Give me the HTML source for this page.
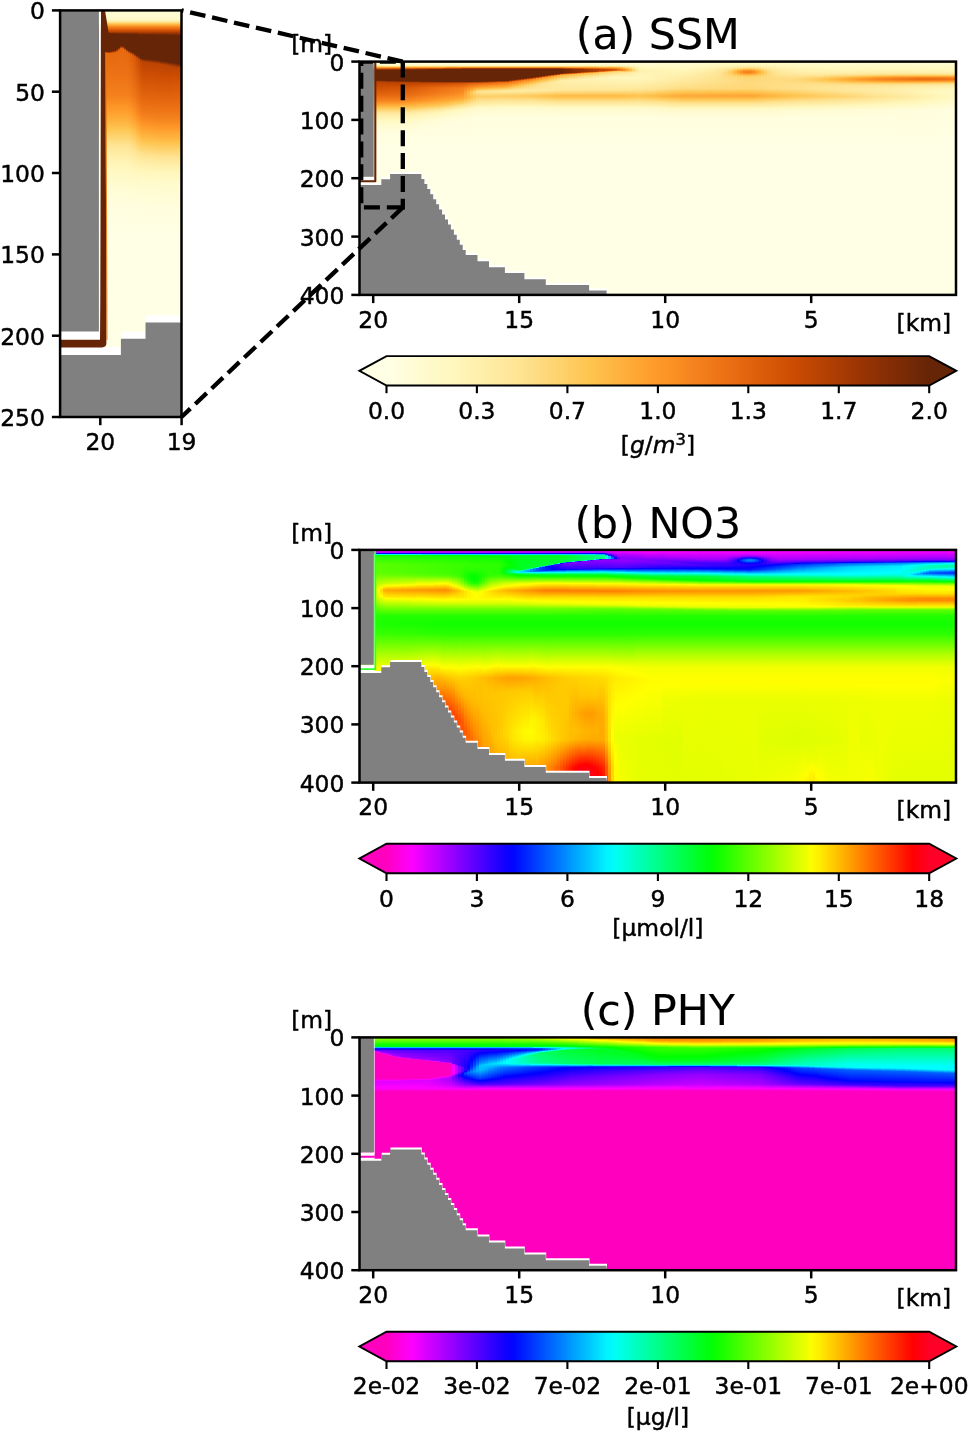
<!DOCTYPE html>
<html lang="en"><head><meta charset="utf-8"><title>Figure: SSM, NO3, PHY transects</title>
<style>html,body{margin:0;padding:0;background:#fff}
#fig{position:relative;width:968px;height:1432px;overflow:hidden;background:#fff}
#fig svg{position:absolute;left:0;top:0;display:block}
.fld{position:absolute;overflow:hidden}
.fld i{position:absolute;top:0;height:100%;display:block}
text{white-space:pre}</style>
</head><body>
<div id="fig">
<div class="fld" style="left:359px;top:61.6px;width:598px;height:233.3px"><i style="left:0px;width:15px;background:linear-gradient(#fffcd8 0%,#fffacb 1.4%,#fff7bc 1.5%,#fee391 1.8%,#fec44f 2.1%,#fe9929 2.4%,#ec7014 2.7%,#cc4c02 2.9%,#993404 3.2%,#662506 3.5%,#662506 7.8%,#993404 8.2%,#b84203 8.4%,#cc4c02 10.5%,#e3660f 14.2%,#ec7014 15.2%,#f4821d 16.7%,#fe9929 17.8%,#fec44f 19.7%,#fee391 21.5%,#feeba2 22.3%,#fff7bc 24.8%,#fffbce 26.6%,#fffee0 30.9%,#ffffe5 36.4%,#ffffe5 100%)"></i><i style="left:15px;width:3px;background:linear-gradient(#fffcd8 0%,#fffacb 1.4%,#fff7bc 1.5%,#fee391 1.8%,#fec44f 2.1%,#feaa38 2.3%,#fe9929 2.4%,#ec7014 2.7%,#cc4c02 2.9%,#993404 3.2%,#662506 3.5%,#662506 7.8%,#993404 8.2%,#b84203 8.4%,#cc4c02 10.5%,#e3660f 14.2%,#ec7014 15.1%,#f4821d 16.7%,#fe9929 17.8%,#fec44f 19.7%,#fee391 21.5%,#feeba2 22.3%,#fff7bc 24.8%,#fffbce 26.6%,#fffee0 30.9%,#ffffe5 36.4%,#ffffe5 100%)"></i><i style="left:18px;width:3px;background:linear-gradient(#fffcd8 0%,#fffacb 1.4%,#fff7bc 1.5%,#fee391 1.8%,#fec44f 2.1%,#feaa38 2.3%,#fe9929 2.4%,#ec7014 2.7%,#cc4c02 2.9%,#993404 3.2%,#662506 3.5%,#662506 7.9%,#993404 8.2%,#b74203 8.5%,#cc4c02 10.5%,#e3660f 14.2%,#ec7014 15.1%,#f4831e 16.7%,#fe9929 17.8%,#fec44f 19.7%,#fee391 21.5%,#feeba2 22.3%,#fff7bc 24.8%,#fffbce 26.6%,#fffee0 30.9%,#ffffe5 36.4%,#ffffe5 100%)"></i><i style="left:21px;width:3px;background:linear-gradient(#fffcd8 0%,#fffacb 1.4%,#fff7bc 1.5%,#fee391 1.8%,#fec44f 2.1%,#feaa38 2.3%,#fe9929 2.4%,#ec7014 2.7%,#cc4c02 2.9%,#993404 3.2%,#662506 3.5%,#662506 7.9%,#993404 8.3%,#b84203 8.5%,#cc4c02 10.5%,#e4670f 14.2%,#ec7014 15.1%,#f4831e 16.7%,#fe9929 17.7%,#fec44f 19.6%,#fee391 21.5%,#feeba2 22.3%,#fff7bc 24.8%,#fffbce 26.6%,#fffee0 30.9%,#ffffe5 36.4%,#ffffe5 100%)"></i><i style="left:24px;width:3px;background:linear-gradient(#fffcd8 0%,#fffacb 1.4%,#fff7bc 1.5%,#fee391 1.8%,#fec44f 2.1%,#feaa38 2.3%,#fe9929 2.4%,#ec7014 2.7%,#cc4c02 2.9%,#993404 3.2%,#662506 3.5%,#662506 7.9%,#993404 8.3%,#b84203 8.6%,#cc4c02 10.3%,#d25305 11.1%,#e46710 14.2%,#ec7014 15%,#f4831e 16.7%,#fe9929 17.7%,#fec44f 19.6%,#fee391 21.5%,#feeba2 22.3%,#fff7bc 24.8%,#fffbce 26.6%,#fffee0 30.9%,#ffffe5 36.4%,#ffffe5 100%)"></i><i style="left:27px;width:3px;background:linear-gradient(#fffcd8 0%,#fffacb 1.4%,#fff7bc 1.5%,#fee391 1.8%,#fec44f 2.1%,#feaa38 2.3%,#fe9929 2.4%,#ec7014 2.7%,#cc4c02 2.9%,#993404 3.2%,#662506 3.5%,#662506 8%,#993404 8.4%,#b74203 8.6%,#cc4c02 10.3%,#d25306 11.1%,#e46710 14.2%,#ec7014 15%,#f5841e 16.7%,#fe9929 17.7%,#fec44f 19.6%,#fee391 21.5%,#feeba2 22.3%,#fff7bc 24.8%,#fffbce 26.6%,#fffee0 30.9%,#ffffe5 36.4%,#ffffe5 100%)"></i><i style="left:30px;width:3px;background:linear-gradient(#fffcd8 0%,#fffacb 1.4%,#fff7bc 1.5%,#fee391 1.8%,#fec44f 2.1%,#feaa38 2.3%,#fe9929 2.4%,#ec7014 2.7%,#cc4c02 2.9%,#993404 3.2%,#662506 3.5%,#662506 8%,#993404 8.4%,#b84203 8.6%,#cc4c02 10.3%,#d35306 11.1%,#e56810 14.2%,#ec7014 15%,#f5841e 16.7%,#fe9929 17.7%,#fec44f 19.6%,#fee391 21.5%,#feeba2 22.3%,#fff7bc 24.8%,#fffbce 26.6%,#fffee0 30.9%,#ffffe5 36.4%,#ffffe5 100%)"></i><i style="left:33px;width:3px;background:linear-gradient(#fffcd8 0%,#fffacb 1.4%,#fff7bc 1.5%,#fee391 1.8%,#fec44f 2.1%,#feaa38 2.3%,#fe9929 2.4%,#ec7014 2.6%,#cc4c02 2.9%,#993404 3.2%,#662506 3.5%,#662506 8%,#993404 8.4%,#b84203 8.7%,#cc4c02 10.3%,#d35406 11.1%,#e56810 14.2%,#ec7014 15%,#f5841e 16.7%,#fe9929 17.7%,#fec44f 19.6%,#fee391 21.5%,#feeba2 22.3%,#fff7bc 24.8%,#fffbce 26.6%,#fffee0 30.9%,#ffffe5 36.4%,#ffffe5 100%)"></i><i style="left:36px;width:3px;background:linear-gradient(#fffcd8 0%,#fffacb 1.4%,#fff7bc 1.5%,#fee391 1.8%,#fec44f 2.1%,#feaa38 2.3%,#fe9929 2.4%,#ec7014 2.6%,#cc4c02 2.9%,#993404 3.2%,#662506 3.4%,#662506 8.1%,#993404 8.5%,#b74203 8.7%,#cc4c02 10.3%,#d35406 11.1%,#e56810 14.2%,#ec7014 14.9%,#f5851f 16.7%,#fe9929 17.7%,#fec44f 19.6%,#fee391 21.5%,#feeba2 22.3%,#fff7bc 24.8%,#fffbce 26.6%,#fffee0 30.9%,#ffffe5 36.4%,#ffffe5 100%)"></i><i style="left:39px;width:3px;background:linear-gradient(#fffcd8 0%,#fffacb 1.4%,#fff7bc 1.5%,#fee391 1.8%,#fec44f 2.1%,#feaa38 2.3%,#fe9929 2.4%,#ec7014 2.6%,#cc4c02 2.9%,#993404 3.2%,#662506 3.4%,#662506 8.1%,#993404 8.5%,#b84203 8.8%,#cc4c02 10.3%,#d35406 11.1%,#e56910 14.2%,#ec7014 14.9%,#f5851f 16.7%,#fe9929 17.7%,#fec44f 19.6%,#fee391 21.5%,#feeba2 22.3%,#fff7bc 24.8%,#fffbce 26.6%,#fffee0 30.9%,#ffffe5 36.4%,#ffffe5 100%)"></i><i style="left:42px;width:3px;background:linear-gradient(#fffcd8 0%,#fffacb 1.4%,#fff7bc 1.5%,#fee391 1.8%,#fec44f 2.1%,#feaa38 2.3%,#fe9929 2.4%,#ec7014 2.6%,#cc4c02 2.9%,#993404 3.2%,#662506 3.4%,#662506 8.2%,#993404 8.6%,#b84303 8.8%,#cc4c02 10.2%,#d45506 11.1%,#e66911 14.1%,#ec7014 14.8%,#f6861f 16.7%,#fe9929 17.7%,#febc48 19.3%,#fec44f 19.7%,#fee391 21.5%,#feeba2 22.3%,#fff7bc 24.7%,#fffbce 26.6%,#fffee0 30.9%,#ffffe5 36.4%,#ffffe5 100%)"></i><i style="left:45px;width:3px;background:linear-gradient(#fffcd8 0%,#fffacb 1.4%,#fff7bc 1.5%,#fee391 1.8%,#fec44f 2.1%,#feaa38 2.3%,#fe9929 2.4%,#ec7014 2.6%,#cc4c02 2.9%,#993404 3.1%,#662506 3.4%,#662506 8.2%,#993404 8.6%,#b94303 8.8%,#cc4c02 10.1%,#d65708 11.1%,#e76b11 14.1%,#ec7014 14.6%,#f68720 16.7%,#fe9929 17.6%,#febd49 19.2%,#fec44f 19.6%,#fee391 21.4%,#feeca4 22.2%,#fff7bc 24.5%,#fffbcf 26.4%,#fffee0 30.7%,#ffffe5 36.4%,#ffffe5 100%)"></i><i style="left:48px;width:3px;background:linear-gradient(#fffcd8 0%,#fffacb 1.4%,#fff7bc 1.5%,#fee391 1.8%,#fec44f 2.1%,#feaa38 2.3%,#fe9929 2.4%,#ec7014 2.6%,#cc4c02 2.9%,#993404 3.1%,#662506 3.4%,#662506 8.2%,#993404 8.6%,#ba4403 8.8%,#cc4c02 10%,#d85909 11.1%,#e96c12 14.1%,#ec7014 14.4%,#f78921 16.7%,#fe9929 17.4%,#febe49 19.2%,#fec44f 19.5%,#fee391 21.3%,#feeda6 22.2%,#fff7bc 24.3%,#fffbd0 26.3%,#fffee0 30.6%,#ffffe5 36.4%,#ffffe5 100%)"></i><i style="left:51px;width:3px;background:linear-gradient(#fffcd8 0%,#fffacb 1.4%,#fff7bc 1.5%,#fee391 1.8%,#fec44f 2.1%,#feaa38 2.3%,#fe9929 2.4%,#ec7014 2.6%,#cc4c02 2.9%,#993404 3.1%,#662506 3.4%,#662506 8.2%,#993404 8.6%,#bc4403 8.9%,#cc4c02 9.9%,#d95b0a 11.1%,#ea6e13 14%,#ec7014 14.3%,#f88b22 16.6%,#fe9929 17.3%,#febf4a 19.1%,#fec44f 19.4%,#fee391 21.1%,#ffeda7 22.1%,#fff7bc 24.1%,#fffbd0 26.2%,#fffee0 30.4%,#ffffe5 36.4%,#ffffe5 100%)"></i><i style="left:54px;width:3px;background:linear-gradient(#fffcd8 0%,#fffacb 1.4%,#fff7bc 1.5%,#fee391 1.8%,#fec44f 2.1%,#feaa38 2.3%,#fe9929 2.4%,#ec7014 2.6%,#cc4c02 2.9%,#993404 3.1%,#662506 3.3%,#662506 8.2%,#993404 8.6%,#bd4503 8.9%,#cc4c02 9.8%,#db5d0b 11.1%,#eb6f14 14%,#ec7014 14.1%,#f98d23 16.6%,#fe9929 17.2%,#fec04b 19.1%,#fec44f 19.3%,#fee391 21%,#ffeea9 22%,#fff7bc 23.9%,#fffbd1 26%,#fffee0 30.3%,#ffffe5 36.4%,#ffffe5 100%)"></i><i style="left:57px;width:3px;background:linear-gradient(#fffcd8 0%,#fffacb 1.4%,#fff7bc 1.5%,#fee391 1.8%,#fec44f 2.1%,#feaa38 2.3%,#fe9929 2.4%,#ec7014 2.6%,#cc4c02 2.8%,#993404 3.1%,#662506 3.3%,#662506 8.2%,#993404 8.6%,#be4603 8.9%,#cc4c02 9.7%,#dd5f0c 11.1%,#ec7014 13.8%,#ed7115 14%,#f98f24 16.5%,#fe9929 17.1%,#fec14c 19%,#fec44f 19.2%,#fee391 20.9%,#ffefab 21.9%,#fff7bc 23.6%,#fffbd2 25.9%,#fffee0 30.2%,#ffffe5 36.4%,#ffffe5 100%)"></i><i style="left:60px;width:3px;background:linear-gradient(#fffcd8 0%,#fffacb 1.4%,#fff7bc 1.5%,#fee391 1.8%,#fec44f 2.1%,#feaa38 2.3%,#fe9929 2.4%,#ec7014 2.6%,#cc4c02 2.8%,#993404 3.1%,#662506 3.3%,#662506 8.3%,#993404 8.6%,#c04602 8.9%,#cc4c02 9.6%,#df610d 11.1%,#ec7014 13.5%,#ed7316 13.9%,#fa9025 16.5%,#fe9929 17%,#fec24d 19%,#fec44f 19.1%,#fee391 20.8%,#fff0ac 21.9%,#fff7bc 23.4%,#fffbd3 25.8%,#fffee0 30%,#ffffe5 36.4%,#ffffe5 100%)"></i><i style="left:63px;width:3px;background:linear-gradient(#fffcd8 0%,#fffacb 1.4%,#fff7bc 1.5%,#fee391 1.8%,#fec44f 2.1%,#feaa38 2.3%,#fe9929 2.4%,#ec7014 2.6%,#cc4c02 2.8%,#993404 3.1%,#662506 3.3%,#662506 8.3%,#993404 8.7%,#c14702 9%,#cc4c02 9.5%,#e1630e 11.1%,#ec7014 13.2%,#ee7516 13.9%,#fb9226 16.5%,#fe9929 16.8%,#fec34e 18.9%,#fec44f 19%,#fee391 20.7%,#fff0ae 21.8%,#fff7bc 23.2%,#fffcd4 25.6%,#fffee0 29.9%,#ffffe5 36.4%,#ffffe5 100%)"></i><i style="left:66px;width:3px;background:linear-gradient(#fffcd8 0%,#fffacb 1.4%,#fff7bc 1.5%,#fee391 1.8%,#fec44f 2.1%,#feaa38 2.3%,#fe9929 2.4%,#ec7014 2.6%,#cc4c02 2.8%,#993404 3%,#662506 3.3%,#662506 8.3%,#993404 8.7%,#c24702 9%,#cc4c02 9.5%,#e3650f 11.1%,#ec7014 12.9%,#ef7717 13.9%,#fc9427 16.4%,#fe9929 16.7%,#fec44f 18.9%,#fec44f 18.9%,#fee391 20.6%,#fff1b0 21.7%,#fff7bc 23%,#fffcd4 25.5%,#fffee0 29.8%,#ffffe5 36.4%,#ffffe5 100%)"></i><i style="left:69px;width:3px;background:linear-gradient(#fffcd8 0%,#fffacb 1.4%,#fff7bc 1.5%,#fee391 1.8%,#fec44f 2.1%,#feaa38 2.3%,#fe9929 2.4%,#ec7014 2.6%,#cc4c02 2.8%,#993404 3%,#662506 3.2%,#662506 8.3%,#993404 8.7%,#c34802 9%,#cc4c02 9.4%,#e46710 11.1%,#ec7014 12.6%,#f07818 13.8%,#fd9627 16.4%,#fe9929 16.6%,#fec44f 18.8%,#fec551 18.8%,#fee391 20.4%,#fff2b1 21.7%,#fff7bc 22.7%,#fffcd5 25.3%,#fffee0 29.6%,#ffffe5 36.4%,#ffffe5 100%)"></i><i style="left:72px;width:3px;background:linear-gradient(#fffcd8 0%,#fffacb 1.4%,#fff7bc 1.5%,#fee391 1.8%,#fec44f 2.1%,#feaa38 2.3%,#fe9929 2.4%,#ec7014 2.6%,#cc4c02 2.8%,#993404 3%,#662506 3.2%,#662506 8.3%,#993404 8.7%,#c54902 9%,#cc4c02 9.4%,#e66911 11.1%,#ec7014 12.3%,#f07a19 13.8%,#fd9828 16.4%,#fe9929 16.4%,#fec44f 18.7%,#fec653 18.8%,#fee391 20.3%,#fff3b3 21.6%,#fff7bc 22.5%,#fffcd6 25.2%,#fffee0 29.5%,#ffffe5 36.4%,#ffffe5 100%)"></i><i style="left:75px;width:3px;background:linear-gradient(#fffcd8 0%,#fffacb 1.4%,#fff7bc 1.5%,#fee391 1.8%,#fec44f 2.1%,#feaa38 2.3%,#fe9929 2.4%,#ec7014 2.6%,#cc4c02 2.8%,#993404 3%,#662506 3.2%,#662506 8.3%,#993404 8.7%,#c64902 9.1%,#cc4c02 9.3%,#e86b12 11.1%,#ec7014 11.9%,#f17c1a 13.8%,#fe9929 16.3%,#fe9a2a 16.3%,#fec44f 18.5%,#fec754 18.7%,#fee391 20.2%,#fff3b4 21.5%,#fff7bc 22.3%,#fffcd7 25.1%,#fffee0 29.4%,#ffffe5 36.4%,#ffffe5 100%)"></i><i style="left:78px;width:3px;background:linear-gradient(#fffcd8 0%,#fffacb 1.4%,#fff7bc 1.5%,#fee391 1.8%,#fec44f 2.1%,#feaa38 2.3%,#fe9929 2.4%,#ec7014 2.6%,#cc4c02 2.8%,#993404 3%,#662506 3.2%,#662506 8.4%,#993404 8.7%,#c74a02 9.1%,#cc4c02 9.3%,#ea6e13 11.1%,#ec7014 11.6%,#f27e1b 13.7%,#fe9929 16.1%,#fe9b2b 16.3%,#fec44f 18.4%,#fec756 18.7%,#fee391 20.1%,#fff4b6 21.5%,#fff7bc 22.1%,#fffcd7 24.9%,#fffee0 29.2%,#ffffe5 36.4%,#ffffe5 100%)"></i><i style="left:81px;width:3px;background:linear-gradient(#fffcd8 0%,#fffacb 1.4%,#fff7bc 1.5%,#fee391 1.8%,#fec44f 2.1%,#feaa38 2.3%,#fe9929 2.4%,#ec7014 2.6%,#cc4c02 2.8%,#993404 3%,#662506 3.2%,#662506 8.4%,#993404 8.7%,#c94b02 9.1%,#cc4c02 9.2%,#eb6f14 11.1%,#ec7014 11.3%,#f3801c 13.7%,#fe9929 15.9%,#fe9d2d 16.3%,#fec44f 18.3%,#fec858 18.6%,#fee391 20%,#fff5b8 21.4%,#fff7bc 21.8%,#fffcd8 24.8%,#fffee0 29%,#ffffe5 36.4%,#ffffe5 100%)"></i><i style="left:84px;width:3px;background:linear-gradient(#fffcd8 0%,#fffacb 1.4%,#fff7bc 1.5%,#fee391 1.8%,#fec44f 2.1%,#feaa38 2.3%,#fe9929 2.4%,#ec7014 2.5%,#cc4c02 2.7%,#993404 2.9%,#662506 3.1%,#662506 8.4%,#993404 8.7%,#cb4c02 9.1%,#cc4c02 9.1%,#ec7014 11.1%,#ec7115 11.1%,#f4811d 13.6%,#fe9929 15.7%,#fe9f2e 16.2%,#fec44f 18.1%,#feca5b 18.5%,#fee391 19.8%,#fff6ba 21.3%,#fff7bc 21.5%,#fffdd9 24.7%,#fffee0 28.8%,#ffffe5 36.4%,#ffffe5 100%)"></i><i style="left:87px;width:3px;background:linear-gradient(#fffcd8 0%,#fffacb 1.4%,#fff7bc 1.5%,#fee391 1.8%,#fec44f 2.1%,#feaa38 2.3%,#fe9929 2.3%,#ec7014 2.5%,#cc4c02 2.7%,#993404 2.9%,#662506 3.1%,#662506 8.4%,#993404 8.7%,#cc4c02 9.1%,#cd4d03 9.1%,#ec7014 11%,#ed7315 11.1%,#f4831e 13.6%,#fe9929 15.5%,#fea02f 16.1%,#fec44f 17.9%,#fecb5e 18.4%,#fee391 19.6%,#fff7bc 21.1%,#fff7bc 21.2%,#fffdd9 24.6%,#fffee0 28.6%,#ffffe5 36.4%,#ffffe5 100%)"></i><i style="left:90px;width:3px;background:linear-gradient(#fffcd8 0%,#fffacb 1.4%,#fff7bc 1.5%,#fee391 1.8%,#fec44f 2.1%,#feaa38 2.3%,#fe9929 2.3%,#ec7014 2.5%,#cc4c02 2.7%,#993404 2.9%,#662506 3.1%,#662506 8.4%,#993404 8.7%,#cc4c02 9.1%,#ce4f03 9.1%,#ec7014 10.9%,#ee7516 11.1%,#f5851f 13.5%,#fe9929 15.3%,#fea130 16%,#fec44f 17.7%,#fecc61 18.2%,#fee391 19.4%,#fff7bc 21%,#fff7bd 21%,#fffdd9 24.5%,#fffee0 28.3%,#ffffe5 36.4%,#ffffe5 100%)"></i><i style="left:93px;width:3px;background:linear-gradient(#fffcd8 0%,#fffacb 1.4%,#fff7bc 1.5%,#fee391 1.8%,#fec44f 2.1%,#feaa38 2.3%,#fe9929 2.3%,#ec7014 2.5%,#cc4c02 2.7%,#993404 2.9%,#672506 3.1%,#662506 8.4%,#993404 8.7%,#cc4c02 9.1%,#d05004 9.1%,#ec7014 10.8%,#ef7617 11.1%,#f68720 13.5%,#fe9929 15.1%,#fea332 15.9%,#fec44f 17.5%,#fece64 18.1%,#fee391 19.2%,#fff7bc 20.8%,#fff8bf 20.9%,#fffdda 24.3%,#fffee0 28.1%,#ffffe5 36.4%,#ffffe5 100%)"></i><i style="left:96px;width:3px;background:linear-gradient(#fffcd8 0%,#fffacb 1.4%,#fff7bc 1.5%,#fee391 1.8%,#fec44f 2.1%,#feaa38 2.3%,#fe9929 2.3%,#ec7014 2.5%,#cc4c02 2.7%,#993404 2.9%,#662506 3%,#662506 8.4%,#993404 8.7%,#cc4c02 9%,#d15205 9.1%,#ec7014 10.8%,#f07818 11.1%,#f78921 13.4%,#fe9929 14.9%,#fea433 15.8%,#fec44f 17.3%,#fecf67 18%,#fee391 19%,#fff7bc 20.6%,#fff8c1 20.8%,#fffdda 24.2%,#fffee0 27.9%,#ffffe5 36.4%,#ffffe5 100%)"></i><i style="left:99px;width:3px;background:linear-gradient(#fffcd8 0%,#fffacb 1.4%,#fff7bc 1.5%,#fee391 1.8%,#fec44f 2.1%,#feaa38 2.3%,#fe9929 2.3%,#ec7014 2.5%,#cc4c02 2.7%,#993404 2.9%,#662506 3%,#662506 8.4%,#993404 8.7%,#cc4c02 9%,#d35306 9.1%,#ec7014 10.7%,#f07a19 11.1%,#f88a22 13.3%,#fe9929 14.7%,#fea634 15.7%,#fec44f 17.1%,#fed16a 17.9%,#fee391 18.8%,#fff7bc 20.4%,#fff8c3 20.7%,#fffddb 24.1%,#fffee0 27.6%,#ffffe5 36.4%,#ffffe5 100%)"></i><i style="left:102px;width:3px;background:linear-gradient(#fffcd8 0%,#fffacb 1.4%,#fff7bc 1.5%,#fee391 1.8%,#fec44f 2.1%,#feaa38 2.3%,#fe9929 2.3%,#ec7014 2.5%,#cc4c02 2.7%,#993404 2.8%,#662506 3%,#662506 8.4%,#993404 8.7%,#cc4c02 9%,#d45507 9.1%,#ec7014 10.5%,#f27d1b 11.1%,#fa8f24 13.3%,#fe9929 14.2%,#fea836 15.6%,#fec44f 16.9%,#fed26e 17.8%,#fee391 18.6%,#fff7bc 20.2%,#fff9c5 20.6%,#fffddb 24%,#fffee0 27.4%,#ffffe5 36.4%,#ffffe5 100%)"></i><i style="left:105px;width:3px;background:linear-gradient(#fffcd8 0%,#fffacb 1.4%,#fff7bc 1.5%,#fee391 1.8%,#fec44f 2.1%,#feaa38 2.3%,#fe9929 2.3%,#ec7014 2.5%,#cc4c02 2.7%,#993404 2.8%,#662506 3%,#662506 8.4%,#993404 8.7%,#cc4c02 9%,#d75808 9.1%,#ec7014 10.3%,#f5851f 11.1%,#fe9929 12.6%,#fea231 13.2%,#feb13e 15.5%,#fec44f 16.4%,#fed778 17.7%,#fee391 18.4%,#fff7bc 20.1%,#fff9c6 20.5%,#fffddc 23.9%,#ffffe5 36.4%,#ffffe5 100%)"></i><i style="left:108px;width:3px;background:linear-gradient(#fffcd8 0%,#fffacb 1.4%,#fff7bc 1.5%,#fee391 1.8%,#fec44f 2.1%,#feaa38 2.3%,#fe9929 2.3%,#ec7014 2.5%,#cc4c02 2.7%,#993404 2.8%,#662506 3%,#662506 8.4%,#993404 8.7%,#cc4c02 9%,#da5c0a 9.1%,#ec7014 10%,#f98d23 11.1%,#fe9929 11.7%,#feb542 13%,#feb945 15.3%,#fec44f 15.9%,#fedc81 17.6%,#fee391 18%,#fff7bc 19.9%,#fff9c8 20.4%,#fffddc 23.8%,#ffffe5 36.4%,#ffffe5 100%)"></i><i style="left:111px;width:3px;background:linear-gradient(#fffcd8 0%,#fffacb 1.4%,#fff7bc 1.5%,#fee391 1.8%,#fec44f 2.1%,#feaa38 2.3%,#fe9929 2.3%,#ec7014 2.5%,#cc4c02 2.7%,#993404 2.8%,#662506 3%,#662506 8.4%,#993404 8.7%,#cc4c02 8.9%,#dd5f0b 9.1%,#ec7014 9.8%,#fe9929 11.3%,#fec44f 12.8%,#fec756 12.9%,#fec44f 14.3%,#fec14d 15.1%,#fec44f 15.3%,#fee08b 17.5%,#fee391 17.7%,#fff7bc 19.7%,#fffaca 20.3%,#fffddd 23.8%,#ffffe5 36.4%,#ffffe5 100%)"></i><i style="left:114px;width:3px;background:linear-gradient(#fffcd8 0%,#fffacb 1.4%,#fff7bc 1.5%,#fee391 1.8%,#fec44f 2.1%,#feaa38 2.3%,#fe9929 2.3%,#ec7014 2.5%,#cc4c02 2.7%,#993404 2.8%,#662506 3%,#662506 8.4%,#993404 8.6%,#cc4c02 8.9%,#e0620d 9.1%,#ec7014 9.6%,#fe9929 11%,#fe9d2d 11.1%,#fec44f 12.2%,#fed574 12.8%,#fec858 15%,#fee391 17.3%,#fee494 17.5%,#fff7bc 19.4%,#fffacc 20.2%,#fffede 23.7%,#ffffe5 36.4%,#ffffe5 100%)"></i><i style="left:117px;width:3px;background:linear-gradient(#fffcd8 0%,#fffacb 1.4%,#fff7bc 1.5%,#fee391 1.8%,#fec44f 2.1%,#feaa38 2.3%,#fe9929 2.3%,#ec7014 2.5%,#cc4c02 2.7%,#993404 2.8%,#662506 3%,#662506 8.4%,#993404 8.6%,#cc4c02 8.9%,#e3650f 9.1%,#ec7014 9.5%,#fe9929 10.8%,#fea534 11.1%,#fec44f 11.8%,#fee391 12.7%,#fee391 12.7%,#fee391 12.7%,#fece65 14.8%,#fee391 16.8%,#fee79a 17.4%,#fff7bc 19.2%,#ffface 20.2%,#fffede 23.6%,#ffffe5 36.4%,#ffffe5 100%)"></i><i style="left:120px;width:3px;background:linear-gradient(#fffcd8 0%,#fffacb 1.4%,#fff7bc 1.5%,#fee391 1.8%,#fec44f 2.1%,#feaa38 2.3%,#fe9929 2.3%,#ec7014 2.5%,#cc4c02 2.7%,#993404 2.8%,#662506 3%,#662506 8.3%,#993404 8.6%,#cc4c02 8.9%,#e4670f 9.1%,#ec7014 9.4%,#fe9929 10.7%,#fea937 11.1%,#fec44f 11.7%,#fee391 12.5%,#fee596 12.6%,#fee391 12.9%,#fecf66 14.8%,#fee391 16.6%,#fee89c 17.4%,#fff7bc 19.1%,#fffbce 20.2%,#fffede 23.6%,#ffffe5 36.4%,#ffffe5 100%)"></i><i style="left:123px;width:3px;background:linear-gradient(#fffcd8 0%,#fffacb 1.4%,#fff7bc 1.5%,#fee391 1.8%,#fec44f 2.1%,#feaa38 2.3%,#fe9929 2.3%,#ec7014 2.5%,#cc4c02 2.7%,#993404 2.8%,#662506 3%,#662506 8.3%,#993404 8.6%,#cc4c02 8.8%,#e56810 9%,#ec7014 9.3%,#fe9929 10.6%,#feab39 11.1%,#fec44f 11.6%,#fee391 12.5%,#fee697 12.6%,#fee391 13%,#fecf66 14.8%,#fee391 16.6%,#fee89d 17.4%,#fff7bc 19.1%,#fffbcf 20.2%,#fffede 23.6%,#ffffe5 36.4%,#ffffe5 100%)"></i><i style="left:126px;width:3px;background:linear-gradient(#fffcd8 0%,#fffacb 1.4%,#fff7bc 1.5%,#fee391 1.8%,#fec44f 2.1%,#feaa38 2.3%,#fe9929 2.3%,#ec7014 2.5%,#cc4c02 2.7%,#993404 2.8%,#662506 3%,#662506 8.3%,#993404 8.5%,#cc4c02 8.8%,#e66911 9%,#ec7014 9.2%,#fe9929 10.5%,#fead3a 11.1%,#fec44f 11.6%,#fee391 12.4%,#fee698 12.6%,#fee391 13%,#fece65 14.7%,#fee391 16.6%,#fee99d 17.4%,#fff7bc 19.1%,#fffbcf 20.2%,#fffede 23.6%,#ffffe5 36.4%,#ffffe5 100%)"></i><i style="left:129px;width:3px;background:linear-gradient(#fffcd8 0%,#fffacb 1.4%,#fff7bc 1.5%,#fee391 1.8%,#fec44f 2.1%,#feaa38 2.3%,#fe9929 2.3%,#ec7014 2.5%,#cc4c02 2.7%,#993404 2.8%,#662506 3%,#662506 8.2%,#993404 8.5%,#cc4c02 8.7%,#e76a11 9%,#ec7014 9.2%,#fe9929 10.4%,#feaf3c 11.1%,#fec44f 11.5%,#fee391 12.4%,#fee79a 12.6%,#fee391 13.1%,#fece65 14.7%,#fee391 16.5%,#fee99e 17.4%,#fff7bc 19%,#fffbcf 20.2%,#fffede 23.6%,#ffffe5 36.4%,#ffffe5 100%)"></i><i style="left:132px;width:3px;background:linear-gradient(#fffcd8 0%,#fffacb 1.4%,#fff7bc 1.5%,#fee391 1.8%,#fec44f 2.1%,#feaa38 2.3%,#fe9929 2.3%,#ec7014 2.5%,#cc4c02 2.7%,#993404 2.8%,#662506 3%,#662506 8.2%,#993404 8.4%,#cc4c02 8.7%,#e86c12 8.9%,#ec7014 9.1%,#fe9929 10.3%,#feb13e 11%,#fec44f 11.4%,#fee391 12.3%,#fee89b 12.5%,#fee391 13.1%,#fece64 14.7%,#fee391 16.5%,#fee99f 17.4%,#fff7bc 19%,#fffbd0 20.2%,#fffede 23.6%,#ffffe5 36.4%,#ffffe5 100%)"></i><i style="left:135px;width:3px;background:linear-gradient(#fffcd8 0%,#fffacb 1.4%,#fff7bc 1.5%,#fee391 1.8%,#fec44f 2.1%,#feaa38 2.3%,#fe9929 2.3%,#ec7014 2.5%,#cc4c02 2.7%,#993404 2.8%,#662506 3%,#662506 8.1%,#993404 8.4%,#cc4c02 8.6%,#e96d12 8.9%,#ec7014 9%,#fe9929 10.3%,#feb340 11%,#fec44f 11.4%,#fee391 12.3%,#fee89d 12.5%,#fee391 13.1%,#fece64 14.7%,#fee391 16.4%,#fff7bc 18.9%,#fffbd0 20.2%,#fffede 23.6%,#ffffe5 36.4%,#ffffe5 100%)"></i><i style="left:138px;width:3px;background:linear-gradient(#fffcd8 0%,#fffacb 1.4%,#fff7bc 1.5%,#fee391 1.8%,#fec44f 2.1%,#feaa38 2.3%,#fe9929 2.3%,#ec7014 2.5%,#cc4c02 2.7%,#993404 2.8%,#662506 3%,#662506 8.1%,#993404 8.3%,#cc4c02 8.6%,#ea6e13 8.8%,#ec7014 8.9%,#fe9929 10.2%,#feb542 11%,#fec44f 11.3%,#fee391 12.2%,#fee99e 12.5%,#fee391 13.2%,#fecd63 14.6%,#fee391 16.4%,#fff7bc 18.9%,#fffbd0 20.2%,#fffede 23.6%,#ffffe5 36.4%,#ffffe5 100%)"></i><i style="left:141px;width:3px;background:linear-gradient(#fffcd8 0%,#fffacb 1.4%,#fff7bc 1.5%,#fee391 1.8%,#fec44f 2.1%,#feaa38 2.3%,#fe9929 2.3%,#ec7014 2.5%,#cc4c02 2.7%,#993404 2.8%,#662506 3%,#662506 8%,#993404 8.3%,#cc4c02 8.6%,#eb6f14 8.8%,#ec7014 8.8%,#fe9929 10.1%,#feb744 11%,#fec44f 11.2%,#fee391 12.2%,#feea9f 12.5%,#fee391 13.2%,#fecd63 14.6%,#fee391 16.4%,#fff7bc 18.9%,#fffbd1 20.2%,#fffede 23.6%,#ffffe5 36.4%,#ffffe5 100%)"></i><i style="left:144px;width:3px;background:linear-gradient(#fffcd8 0%,#fffacb 1.4%,#fff7bc 1.5%,#fee391 1.8%,#fec44f 2.1%,#feaa38 2.3%,#fe9929 2.3%,#ec7014 2.5%,#cc4c02 2.7%,#993404 2.8%,#662506 3%,#662506 8%,#993404 8.3%,#cc4c02 8.5%,#ec7014 8.8%,#ec7114 8.8%,#fe9929 10%,#feba46 11%,#fec44f 11.2%,#fee391 12.1%,#feeaa1 12.5%,#fee391 13.2%,#fecd62 14.6%,#fee391 16.4%,#fff7bc 18.9%,#fffbd1 20.2%,#fffede 23.6%,#ffffe5 36.4%,#ffffe5 100%)"></i><i style="left:147px;width:3px;background:linear-gradient(#fffcd8 0%,#fffacb 1.4%,#fff7bc 1.5%,#fee391 1.8%,#fec44f 2.1%,#feaa38 2.3%,#fe9929 2.3%,#ec7014 2.5%,#cc4c02 2.7%,#993404 2.8%,#662506 3%,#662506 8%,#993404 8.2%,#cc4c02 8.5%,#ec7014 8.7%,#ed7215 8.7%,#fe9929 9.9%,#febc48 10.9%,#fec44f 11.1%,#fee391 12%,#feeba2 12.4%,#fee391 13.2%,#fecd61 14.6%,#fee391 16.4%,#fff7bc 18.9%,#fffbd1 20.2%,#fffede 23.6%,#ffffe5 36.4%,#ffffe5 100%)"></i><i style="left:150px;width:3px;background:linear-gradient(#fffcd8 0%,#fffacb 1.4%,#fff7bc 1.5%,#fee391 1.8%,#fec44f 2.1%,#feaa38 2.3%,#fe9929 2.3%,#ec7014 2.5%,#cc4c02 2.7%,#993404 2.8%,#662506 3%,#662506 7.8%,#993404 8%,#cc4c02 8.3%,#ec7014 8.5%,#ee7516 8.6%,#fe9929 9.6%,#fec04c 10.8%,#fec44f 10.9%,#fee391 12%,#feeba2 12.4%,#fee391 13.2%,#fecc60 14.6%,#fee391 16.4%,#fff7bc 18.9%,#fffbd1 20.2%,#fffede 23.6%,#ffffe5 36.4%,#ffffe5 100%)"></i><i style="left:153px;width:3px;background:linear-gradient(#fffcd8 0%,#fffacb 1.4%,#fff7bc 1.5%,#fee391 1.8%,#fec44f 2.1%,#feaa38 2.3%,#fe9929 2.3%,#ec7014 2.5%,#cc4c02 2.7%,#993404 2.8%,#662506 3%,#662506 7.6%,#993404 7.9%,#cc4c02 8.1%,#ec7014 8.3%,#ef7718 8.4%,#fe9929 9.4%,#fec44f 10.6%,#fee391 11.9%,#feeba2 12.4%,#fee391 13.1%,#fecb5f 14.6%,#fee391 16.4%,#fff7bc 18.9%,#fffbd1 20.2%,#fffede 23.6%,#ffffe5 36.4%,#ffffe5 100%)"></i><i style="left:156px;width:3px;background:linear-gradient(#fffcd8 0%,#fffacb 1.4%,#fff7bc 1.5%,#fee391 1.8%,#fec44f 2.1%,#feaa38 2.3%,#fe9929 2.3%,#ec7014 2.5%,#cc4c02 2.7%,#993404 2.8%,#662506 3%,#662506 7.4%,#993404 7.7%,#cc4c02 7.9%,#ec7014 8.2%,#f07919 8.2%,#fe9929 9.2%,#fec44f 10.4%,#fec857 10.5%,#fee391 11.8%,#feeba2 12.3%,#fee391 13.1%,#fecb5d 14.6%,#fee391 16.5%,#fff7bc 18.9%,#fffbd1 20.2%,#fffede 23.6%,#ffffe5 36.4%,#ffffe5 100%)"></i><i style="left:159px;width:3px;background:linear-gradient(#fffcd8 0%,#fffacb 1.4%,#fff7bc 1.5%,#fee391 1.8%,#fec44f 2.1%,#feaa38 2.3%,#fe9929 2.3%,#ec7014 2.5%,#cc4c02 2.7%,#993404 2.8%,#662506 3%,#662506 7.3%,#993404 7.5%,#cc4c02 7.8%,#ec7014 8%,#f17c1a 8.1%,#fe9929 8.9%,#fec44f 10.1%,#fecb5d 10.4%,#fee391 11.7%,#feeba2 12.3%,#fee391 13.1%,#feca5c 14.6%,#fee391 16.5%,#fff7bc 18.9%,#fffbd1 20.2%,#fffede 23.6%,#ffffe5 36.4%,#ffffe5 100%)"></i><i style="left:162px;width:3px;background:linear-gradient(#fffcd8 0%,#fffacb 1.4%,#fff7bc 1.5%,#fee391 1.8%,#fec44f 2.1%,#feaa38 2.3%,#fe9929 2.3%,#ec7014 2.5%,#cc4c02 2.7%,#993404 2.8%,#662506 3%,#662506 7.1%,#993404 7.3%,#cc4c02 7.6%,#ec7014 7.8%,#f27e1b 7.9%,#fe9929 8.7%,#fec44f 9.9%,#fece64 10.2%,#fee391 11.5%,#feeba2 12.3%,#fee391 13%,#fec95b 14.6%,#fee391 16.5%,#feeba2 17.4%,#fff7bc 18.9%,#fffbd1 20.2%,#fffede 23.6%,#ffffe5 36.4%,#ffffe5 100%)"></i><i style="left:165px;width:3px;background:linear-gradient(#fffcd8 0%,#fffacb 1.4%,#fff7bc 1.5%,#fee391 1.8%,#fec44f 2.1%,#feaa38 2.3%,#fe9929 2.3%,#ec7014 2.5%,#cc4c02 2.7%,#993404 2.8%,#662506 3%,#662506 7%,#993404 7.2%,#cc4c02 7.4%,#ec7014 7.6%,#f3811d 7.7%,#fe9929 8.4%,#fec44f 9.6%,#fed16a 10.1%,#fee391 11.4%,#feeba2 12.3%,#fee391 13%,#fec959 14.6%,#fee391 16.5%,#feeba2 17.4%,#fff7bc 18.9%,#fffbd1 20.2%,#fffede 23.6%,#ffffe5 36.4%,#ffffe5 100%)"></i><i style="left:168px;width:3px;background:linear-gradient(#fffcd8 0%,#fffacb 1.4%,#fff7bc 1.5%,#fee391 1.8%,#fec44f 2.1%,#feaa38 2.3%,#fe9929 2.3%,#ec7014 2.5%,#cc4c02 2.7%,#993404 2.8%,#662506 3%,#662506 6.8%,#993404 7%,#cc4c02 7.2%,#ec7014 7.5%,#f4831e 7.6%,#fe9929 8.2%,#fec44f 9.4%,#fed471 10%,#fee391 11.2%,#feeba2 12.2%,#fee391 13%,#fec858 14.6%,#fee391 16.5%,#feeba2 17.4%,#fff7bc 18.9%,#fffbd1 20.2%,#fffede 23.6%,#ffffe5 36.4%,#ffffe5 100%)"></i><i style="left:171px;width:3px;background:linear-gradient(#fffcd8 0%,#fffacb 1.4%,#fff7bc 1.5%,#fee391 1.8%,#fec44f 2.1%,#feaa38 2.3%,#fe9929 2.3%,#ec7014 2.5%,#cc4c02 2.7%,#993404 2.8%,#662506 3%,#662506 6.6%,#993404 6.8%,#cc4c02 7.1%,#ec7014 7.3%,#f6861f 7.4%,#fe9929 7.9%,#fec44f 9.1%,#fed778 9.8%,#fee391 11%,#feeba2 12.2%,#fee391 12.9%,#fec856 14.6%,#fee391 16.5%,#feeba2 17.4%,#fff7bc 18.9%,#fffbd1 20.2%,#fffede 23.6%,#ffffe5 36.4%,#ffffe5 100%)"></i><i style="left:174px;width:3px;background:linear-gradient(#fffcd8 0%,#fffacb 1.4%,#fff7bc 1.5%,#fee391 1.8%,#fec44f 2.1%,#feaa38 2.3%,#fe9929 2.3%,#ec7014 2.5%,#cc4c02 2.7%,#993404 2.8%,#662506 3%,#662506 6.4%,#993404 6.7%,#cc4c02 6.9%,#ec7014 7.1%,#f78a21 7.2%,#fe9929 7.6%,#fec44f 8.8%,#feda7e 9.7%,#fee391 10.8%,#feeba1 12.2%,#fee391 12.9%,#fec654 14.6%,#fee391 16.6%,#feeaa1 17.4%,#fff7bc 18.9%,#fffbd1 20.2%,#fffede 23.6%,#ffffe5 36.4%,#ffffe5 100%)"></i><i style="left:177px;width:3px;background:linear-gradient(#fffcd8 0%,#fffacb 1.4%,#fff7bc 1.5%,#fee391 1.8%,#fec44f 2.1%,#feaa38 2.3%,#fe9929 2.3%,#ec7014 2.5%,#cc4c02 2.7%,#993404 2.8%,#662506 3%,#662506 6.3%,#993404 6.5%,#cc4c02 6.7%,#ec7014 6.9%,#f98e23 7%,#fe9929 7.3%,#fec44f 8.5%,#fedd84 9.5%,#fee391 10.4%,#feeaa1 12.2%,#fee391 12.8%,#fec551 14.6%,#fee391 16.6%,#feeaa0 17.4%,#fff7bc 18.9%,#fffbd1 20.2%,#fffede 23.6%,#ffffe5 36.4%,#ffffe5 100%)"></i><i style="left:180px;width:3px;background:linear-gradient(#fffcd8 0%,#fffacb 1.4%,#fff7bc 1.5%,#fee391 1.8%,#fec44f 2.1%,#feaa38 2.3%,#fe9929 2.3%,#ec7014 2.5%,#cc4c02 2.7%,#993404 2.8%,#662506 3%,#662506 6.1%,#993404 6.3%,#cc4c02 6.5%,#ec7014 6.7%,#fb9225 6.8%,#fe9929 7%,#fec44f 8.2%,#fee08b 9.3%,#fee391 9.9%,#feeaa0 12.2%,#fee391 12.8%,#fec44f 14.6%,#fec44f 14.6%,#fec44f 14.6%,#fee391 16.7%,#fee99f 17.4%,#fff7bc 19%,#fffbd0 20.2%,#fffede 23.6%,#ffffe5 36.4%,#ffffe5 100%)"></i><i style="left:183px;width:3px;background:linear-gradient(#fffcd8 0%,#fffacb 1.4%,#fff7bc 1.5%,#fee391 1.8%,#fec44f 2.1%,#feaa38 2.3%,#fe9929 2.3%,#ec7014 2.5%,#cc4c02 2.7%,#993404 2.8%,#662506 3%,#662506 5.9%,#993404 6.1%,#cc4c02 6.3%,#ec7014 6.5%,#fd9627 6.7%,#fe9929 6.7%,#fec44f 7.9%,#fee391 9.1%,#fee391 9.2%,#feea9f 12.1%,#fee391 12.7%,#fec44f 14.5%,#fec24d 14.6%,#fec44f 14.7%,#fee391 16.7%,#fee99e 17.4%,#fff7bc 19%,#fffbd0 20.2%,#fffede 23.6%,#ffffe5 36.4%,#ffffe5 100%)"></i><i style="left:186px;width:3px;background:linear-gradient(#fffcd8 0%,#fffacb 1.4%,#fff7bc 1.5%,#fee391 1.8%,#fec44f 2.1%,#feaa38 2.3%,#fe9929 2.3%,#ec7014 2.5%,#cc4c02 2.7%,#993404 2.8%,#662506 3%,#662506 5.7%,#993404 5.9%,#cc4c02 6.1%,#ec7014 6.3%,#fe9929 6.5%,#fe9a2a 6.5%,#fec44f 7.7%,#fee391 8.9%,#fee595 9%,#fee99f 12.1%,#fee391 12.7%,#fec44f 14.4%,#fec04c 14.6%,#fec44f 14.8%,#fee391 16.8%,#fee99d 17.4%,#fff7bc 19%,#fffbd0 20.2%,#fffede 23.6%,#ffffe5 36.4%,#ffffe5 100%)"></i><i style="left:189px;width:3px;background:linear-gradient(#fffcd8 0%,#fffacb 1.4%,#fff7bc 1.5%,#fee391 1.8%,#fec44f 2.1%,#feaa38 2.3%,#fe9929 2.3%,#ec7014 2.5%,#cc4c02 2.7%,#993404 2.8%,#662506 3%,#662506 5.6%,#993404 5.7%,#cc4c02 5.9%,#ec7014 6.1%,#fe9929 6.3%,#fe9e2d 6.3%,#fec44f 7.4%,#fee391 8.6%,#fee799 8.8%,#fee99e 12.1%,#fee391 12.6%,#fec44f 14.4%,#febf4a 14.6%,#fec44f 14.8%,#fee391 16.9%,#fee89c 17.4%,#fff7bc 19.1%,#fffbcf 20.2%,#fffede 23.6%,#ffffe5 36.4%,#ffffe5 100%)"></i><i style="left:192px;width:3px;background:linear-gradient(#fffcd8 0%,#fffacb 1.4%,#fff7bc 1.5%,#fee391 1.8%,#fec44f 2.1%,#feaa38 2.3%,#fe9929 2.3%,#ec7014 2.5%,#cc4c02 2.7%,#993404 2.8%,#662506 3%,#662506 5.4%,#993404 5.6%,#cc4c02 5.7%,#ec7014 5.9%,#fe9929 6.1%,#fea231 6.1%,#fec44f 7.1%,#fee391 8.3%,#fee99d 8.6%,#fee99d 12.1%,#fee391 12.6%,#fec44f 14.3%,#febd49 14.6%,#fec44f 14.9%,#fee391 16.9%,#fee89b 17.4%,#fff7bc 19.1%,#fffbcf 20.2%,#fffede 23.6%,#ffffe5 36.4%,#ffffe5 100%)"></i><i style="left:195px;width:3px;background:linear-gradient(#fffcd8 0%,#fffacb 1.4%,#fff7bc 1.5%,#fee391 1.8%,#fec44f 2.1%,#feaa38 2.3%,#fe9929 2.3%,#ec7014 2.5%,#cc4c02 2.7%,#993404 2.8%,#662506 3%,#662506 5.2%,#993404 5.4%,#cc4c02 5.5%,#ec7014 5.7%,#fe9929 5.9%,#fea635 5.9%,#fec44f 6.8%,#fee391 8%,#feeba1 8.5%,#fee89d 12%,#fee391 12.5%,#fec44f 14.2%,#febb47 14.6%,#fec44f 15%,#fee391 17%,#fee79a 17.4%,#fff7bc 19.1%,#fffbcf 20.2%,#fffede 23.6%,#ffffe5 36.4%,#ffffe5 100%)"></i><i style="left:198px;width:3px;background:linear-gradient(#fffcd8 0%,#fffacb 1.4%,#fff7bc 1.5%,#fee391 1.8%,#fec44f 2.1%,#feaa38 2.3%,#fe9929 2.3%,#ec7014 2.5%,#cc4c02 2.7%,#993404 2.8%,#662506 3%,#662506 5%,#993404 5.2%,#cc4c02 5.4%,#ec7014 5.5%,#fe9929 5.7%,#feaa38 5.7%,#fec44f 6.5%,#fee391 7.7%,#feeda6 8.3%,#fee89c 12%,#fee391 12.5%,#fec44f 14.2%,#feb946 14.6%,#fec44f 15.1%,#fee391 17%,#fee799 17.4%,#fff7bc 19.2%,#fffbce 20.2%,#fffede 23.6%,#ffffe5 36.4%,#ffffe5 100%)"></i><i style="left:201px;width:3px;background:linear-gradient(#fffcd8 0%,#fffacb 1.4%,#fff7bc 1.5%,#fee391 1.8%,#fec44f 2.1%,#feaa38 2.3%,#fe9929 2.3%,#ec7014 2.5%,#cc4c02 2.7%,#993404 2.8%,#672506 3%,#672506 4.9%,#993404 5%,#cc4c02 5.2%,#ec7014 5.3%,#fe9929 5.5%,#feae3c 5.6%,#fec44f 6.2%,#fee391 7.4%,#ffeea9 8.1%,#fee89b 12%,#fee391 12.4%,#fec44f 14.1%,#feb844 14.6%,#fec44f 15.1%,#fee391 17.1%,#fee698 17.4%,#fff7bc 19.2%,#fffbce 20.2%,#fffede 23.6%,#ffffe5 36.4%,#ffffe5 100%)"></i><i style="left:204px;width:3px;background:linear-gradient(#fffcd8 0%,#fffacb 1.4%,#fff7bc 1.5%,#fee391 1.8%,#fec44f 2.1%,#feab39 2.3%,#fe9929 2.3%,#ec7014 2.5%,#cc4c02 2.7%,#993404 2.9%,#6d2706 3%,#6d2706 4.8%,#993404 4.9%,#cc4c02 5.1%,#ec7014 5.2%,#fe9929 5.4%,#feb13e 5.5%,#fec44f 6%,#fee391 7.3%,#ffefaa 8%,#fee89b 12%,#fee391 12.4%,#fec44f 14.1%,#feb844 14.6%,#fec44f 15.1%,#fee391 17.1%,#fee698 17.4%,#fff7bc 19.2%,#fffbce 20.2%,#fffede 23.6%,#ffffe5 36.4%,#ffffe5 100%)"></i><i style="left:207px;width:3px;background:linear-gradient(#fffcd8 0%,#fffacb 1.4%,#fff7bc 1.5%,#fee391 1.8%,#fec44f 2.1%,#feac3a 2.3%,#fe9929 2.4%,#ec7014 2.5%,#cc4c02 2.7%,#993404 2.9%,#732905 3%,#732905 4.7%,#993404 4.8%,#cc4c02 5%,#ec7014 5.2%,#fe9929 5.3%,#feb340 5.4%,#fec44f 5.9%,#fee391 7.2%,#ffefab 8%,#fee89b 12%,#fee391 12.4%,#fec44f 14.1%,#feb844 14.6%,#fec44f 15.1%,#fee391 17.1%,#fee698 17.4%,#fff7bc 19.2%,#fffbce 20.2%,#fffede 23.6%,#ffffe5 36.4%,#ffffe5 100%)"></i><i style="left:210px;width:3px;background:linear-gradient(#fffcd8 0%,#fffacb 1.4%,#fff7bc 1.5%,#fee391 1.8%,#fec44f 2.1%,#fead3b 2.3%,#fe9929 2.4%,#ec7014 2.6%,#cc4c02 2.7%,#993404 2.9%,#7a2b05 3%,#7a2b05 4.7%,#993404 4.8%,#cc4c02 4.9%,#ec7014 5.1%,#fe9929 5.2%,#feb643 5.3%,#fec44f 5.7%,#fee391 7%,#fff0ad 7.9%,#fee89b 12%,#fee391 12.4%,#fec44f 14.1%,#feb844 14.6%,#fec44f 15.1%,#fee391 17.1%,#fee698 17.4%,#fff7bc 19.2%,#fffbce 20.2%,#fffede 23.6%,#ffffe5 36.4%,#ffffe5 100%)"></i><i style="left:213px;width:3px;background:linear-gradient(#fffcd8 0%,#fffacb 1.4%,#fff7bc 1.5%,#fee391 1.8%,#fec44f 2.1%,#feae3c 2.3%,#fe9929 2.4%,#ec7014 2.6%,#cc4c02 2.8%,#993404 3%,#802d05 3.1%,#802d05 4.6%,#993404 4.7%,#cc4c02 4.8%,#ec7014 5%,#fe9929 5.1%,#feb845 5.2%,#fec44f 5.6%,#fee391 6.9%,#fff0ae 7.8%,#fee89b 12%,#fee391 12.4%,#fec44f 14.1%,#feb844 14.6%,#fec44f 15.1%,#fee391 17.1%,#fee698 17.4%,#fff7bc 19.2%,#fffbce 20.2%,#fffede 23.6%,#ffffe5 36.4%,#ffffe5 100%)"></i><i style="left:216px;width:3px;background:linear-gradient(#fffcd8 0%,#fffacb 1.4%,#fff7bc 1.5%,#fee391 1.8%,#fec44f 2.1%,#feaf3c 2.3%,#fe9929 2.4%,#ec7014 2.6%,#cc4c02 2.8%,#993404 3%,#862e05 3.1%,#862e05 4.5%,#993404 4.6%,#cc4c02 4.7%,#ec7014 4.9%,#fe9929 5%,#febb47 5.2%,#fec44f 5.4%,#fee391 6.8%,#fff1af 7.7%,#fee89b 11.9%,#fee391 12.4%,#fec44f 14.1%,#feb844 14.6%,#fec44f 15.1%,#fee391 17.1%,#fee698 17.4%,#fff7bc 19.2%,#fffbce 20.2%,#fffede 23.6%,#ffffe5 36.4%,#ffffe5 100%)"></i><i style="left:219px;width:3px;background:linear-gradient(#fffcd8 0%,#fffacb 1.4%,#fff7bc 1.5%,#fee391 1.8%,#fec44f 2.1%,#feb03d 2.3%,#fe9929 2.4%,#ec7014 2.6%,#cc4c02 2.8%,#993404 3%,#8c3005 3.1%,#8c3005 4.4%,#993404 4.5%,#cc4c02 4.6%,#ec7014 4.8%,#fe9929 4.9%,#febd49 5.1%,#fec44f 5.3%,#fee391 6.6%,#fff1b0 7.6%,#fee89b 11.9%,#fee391 12.4%,#fec44f 14.1%,#feb844 14.6%,#fec44f 15.1%,#fee391 17.1%,#fee698 17.4%,#fff7bc 19.2%,#fffbce 20.2%,#fffede 23.6%,#ffffe5 36.4%,#ffffe5 100%)"></i><i style="left:222px;width:3px;background:linear-gradient(#fffcd8 0%,#fffacb 1.4%,#fff7bc 1.5%,#fee391 1.8%,#fec44f 2.1%,#feb13e 2.3%,#fe9929 2.4%,#ec7014 2.6%,#cc4c02 2.8%,#993404 3.1%,#923204 3.1%,#923204 4.4%,#993404 4.4%,#cc4c02 4.5%,#ec7014 4.7%,#fe9929 4.9%,#fec04c 5%,#fec44f 5.1%,#fee391 6.5%,#fff2b1 7.5%,#fee89b 11.9%,#fee391 12.3%,#fec44f 14.1%,#feb844 14.6%,#fec44f 15.1%,#fee391 17.1%,#fee698 17.4%,#fff7bc 19.2%,#fffbce 20.2%,#fffede 23.6%,#ffffe5 36.4%,#ffffe5 100%)"></i><i style="left:225px;width:3px;background:linear-gradient(#fffcd8 0%,#fffacb 1.4%,#fff7bc 1.5%,#fee391 1.8%,#fec44f 2.1%,#feb23f 2.3%,#fe9929 2.4%,#ec7014 2.6%,#cc4c02 2.9%,#993404 3.1%,#983404 3.1%,#983404 4.3%,#993404 4.3%,#cc4c02 4.4%,#ec7014 4.6%,#fe9929 4.8%,#fec34e 4.9%,#fec44f 5%,#fee391 6.3%,#fff2b2 7.4%,#fee89b 11.9%,#fee391 12.3%,#fec44f 14.1%,#feb844 14.6%,#fec44f 15.1%,#fee391 17.1%,#fee698 17.4%,#fff7bc 19.2%,#fffbce 20.2%,#fffede 23.6%,#ffffe5 36.4%,#ffffe5 100%)"></i><i style="left:228px;width:3px;background:linear-gradient(#fffcd8 0%,#fffacb 1.4%,#fff7bc 1.5%,#fee391 1.8%,#fec44f 2.1%,#feb340 2.3%,#fe9929 2.4%,#ec7014 2.7%,#cc4c02 2.9%,#9f3704 3.1%,#9e3604 4.2%,#cc4c02 4.4%,#ec7014 4.5%,#fe9929 4.7%,#fec44f 4.8%,#fec551 4.8%,#fee391 6.2%,#fff3b3 7.3%,#fee89b 11.9%,#fee391 12.3%,#fec44f 14.1%,#feb844 14.6%,#fec44f 15.1%,#fee391 17.1%,#fee698 17.4%,#fff7bc 19.2%,#fffbce 20.2%,#fffede 23.6%,#ffffe5 36.4%,#ffffe5 100%)"></i><i style="left:231px;width:3px;background:linear-gradient(#fffcd8 0%,#fffacb 1.4%,#fff7bc 1.5%,#fee391 1.8%,#fec44f 2.2%,#feb440 2.3%,#fe9929 2.4%,#ec7014 2.7%,#cc4c02 2.9%,#a43904 3.1%,#a53904 4.1%,#cc4c02 4.3%,#ec7014 4.4%,#fe9929 4.6%,#fec44f 4.7%,#fec654 4.8%,#fee391 6.1%,#fff3b4 7.2%,#fee89b 11.9%,#fee391 12.3%,#fec44f 14.1%,#feb844 14.6%,#fec44f 15.1%,#fee391 17.1%,#fee698 17.4%,#fff7bc 19.2%,#fffbce 20.2%,#fffede 23.6%,#ffffe5 36.4%,#ffffe5 100%)"></i><i style="left:234px;width:3px;background:linear-gradient(#fffcd8 0%,#fffacb 1.4%,#fff7bc 1.5%,#fee391 1.8%,#fec44f 2.2%,#feb441 2.3%,#fe9929 2.4%,#ec7014 2.7%,#cc4c02 3%,#aa3c03 3.2%,#ab3c03 4.1%,#cc4c02 4.2%,#ec7014 4.3%,#fe9929 4.5%,#fec44f 4.7%,#fec959 4.7%,#fee391 5.9%,#fff4b5 7.1%,#fee89b 11.9%,#fee391 12.3%,#fec44f 14.1%,#feb844 14.6%,#fec44f 15.1%,#fee391 17.1%,#fee698 17.4%,#fff7bc 19.2%,#fffbce 20.2%,#fffede 23.6%,#ffffe5 36.4%,#ffffe5 100%)"></i><i style="left:237px;width:3px;background:linear-gradient(#fffcd8 0%,#fffacb 1.4%,#fff7bc 1.5%,#fee391 1.8%,#fec44f 2.2%,#feb542 2.3%,#fe9929 2.5%,#ec7014 2.7%,#cc4c02 3%,#b13f03 3.2%,#b03f03 4%,#cc4c02 4.1%,#ec7014 4.2%,#fe9929 4.4%,#fec44f 4.6%,#fecb5d 4.6%,#fee391 5.8%,#fff4b6 7%,#fee89b 11.9%,#fee391 12.3%,#fec44f 14.1%,#feb844 14.6%,#fec44f 15.1%,#fee391 17.1%,#fee698 17.4%,#fff7bc 19.2%,#fffbce 20.2%,#fffede 23.6%,#ffffe5 36.4%,#ffffe5 100%)"></i><i style="left:240px;width:3px;background:linear-gradient(#fffcd8 0%,#fffacb 1.4%,#fff7bc 1.5%,#fee391 1.9%,#fec44f 2.2%,#feb643 2.3%,#fe9929 2.5%,#ec7014 2.8%,#cc4c02 3.1%,#b74203 3.2%,#b74203 3.9%,#cc4c02 4%,#ec7014 4.1%,#fe9929 4.3%,#fec44f 4.5%,#fecc61 4.5%,#fee391 5.6%,#fff5b7 6.9%,#fee89b 11.9%,#fee391 12.3%,#fec44f 14.1%,#feb844 14.6%,#fec44f 15.1%,#fee391 17.1%,#fee698 17.4%,#fff7bc 19.2%,#fffbce 20.2%,#fffede 23.6%,#ffffe5 36.4%,#ffffe5 100%)"></i><i style="left:243px;width:3px;background:linear-gradient(#fffcd8 0%,#fffacb 1.4%,#fff7bc 1.5%,#fee391 1.9%,#fec44f 2.2%,#feb744 2.3%,#fe9929 2.5%,#ec7014 2.8%,#cc4c02 3.1%,#bd4503 3.2%,#bd4503 3.8%,#cc4c02 3.9%,#ec7014 4.1%,#fe9929 4.2%,#fec44f 4.4%,#fece64 4.4%,#fee391 5.5%,#fff5b8 6.8%,#fee89b 11.8%,#fee391 12.3%,#fec44f 14.1%,#feb844 14.6%,#fec44f 15.1%,#fee391 17.1%,#fee698 17.4%,#fff7bc 19.2%,#fffbce 20.2%,#fffede 23.6%,#ffffe5 36.4%,#ffffe5 100%)"></i><i style="left:246px;width:3px;background:linear-gradient(#fffcd8 0%,#fffacb 1.4%,#fff7bc 1.5%,#fee391 1.9%,#fec44f 2.2%,#fe9929 2.5%,#ec7014 2.8%,#cc4c02 3.2%,#c34802 3.2%,#c34802 3.8%,#cc4c02 3.8%,#ec7014 4%,#fe9929 4.1%,#fec44f 4.3%,#fed069 4.4%,#fee391 5.3%,#fff6ba 6.8%,#fee89b 11.8%,#fee391 12.3%,#fec44f 14.1%,#feb844 14.6%,#fec44f 15.1%,#fee391 17.1%,#fee698 17.4%,#fff7bc 19.2%,#fffbce 20.2%,#fffede 23.6%,#ffffe5 36.4%,#ffffe5 100%)"></i><i style="left:249px;width:3px;background:linear-gradient(#fffcd8 0%,#fffacb 1.4%,#fff7bc 1.5%,#fee391 1.9%,#fec44f 2.2%,#fe9929 2.5%,#ec7014 2.9%,#cc4c02 3.2%,#c94b02 3.2%,#c94b02 3.4%,#c94b02 3.7%,#cc4c02 3.7%,#ec7014 3.9%,#fe9929 4%,#fec44f 4.2%,#fed26c 4.3%,#fee391 5.1%,#fff6bb 6.7%,#fee89b 11.8%,#fee391 12.3%,#fec44f 14.1%,#feb844 14.6%,#fec44f 15.1%,#fee391 17.1%,#fee698 17.4%,#fff7bc 19.2%,#fffbce 20.2%,#fffede 23.6%,#ffffe5 36.4%,#ffffe5 100%)"></i><i style="left:252px;width:3px;background:linear-gradient(#fffcd8 0%,#fffacb 1.4%,#fff7bc 1.5%,#fee391 1.9%,#fec44f 2.2%,#feba46 2.3%,#fe9929 2.5%,#ec7014 2.9%,#ce4e03 3.2%,#ce4e03 3.4%,#ce4e03 3.6%,#ec7014 3.8%,#fe9929 3.9%,#fec44f 4.1%,#fed470 4.2%,#fee391 5%,#fff7bc 6.6%,#fee89b 11.8%,#fee391 12.2%,#fec44f 14.1%,#feb844 14.6%,#fec44f 15.1%,#fee391 17.1%,#fee698 17.4%,#fff7bc 19.2%,#fffbce 20.2%,#fffede 23.6%,#ffffe5 36.4%,#ffffe5 100%)"></i><i style="left:255px;width:3px;background:linear-gradient(#fffcd8 0%,#fffacb 1.4%,#fff7bc 1.5%,#fee391 1.9%,#fec44f 2.2%,#febb47 2.3%,#fe9929 2.6%,#ec7014 2.9%,#d25305 3.3%,#d25205 3.4%,#d25305 3.6%,#ec7014 3.7%,#fe9929 3.9%,#fec44f 4%,#fed574 4.1%,#fee391 4.8%,#fff7bc 6.5%,#fff7bd 6.5%,#fff7bc 6.6%,#fee89b 11.8%,#fee391 12.2%,#fec44f 14.1%,#feb844 14.6%,#fec44f 15.1%,#fee391 17.1%,#fee698 17.4%,#fff7bc 19.2%,#fffbce 20.2%,#fffede 23.6%,#ffffe5 36.4%,#ffffe5 100%)"></i><i style="left:258px;width:3px;background:linear-gradient(#fffcd8 0%,#fffacb 1.4%,#fff7bc 1.5%,#fee391 1.9%,#fec44f 2.3%,#fec24d 2.3%,#fe9929 2.7%,#ec7014 3.1%,#dd5f0c 3.3%,#dd5f0c 3.4%,#dd5f0c 3.5%,#ec7014 3.6%,#fe9929 3.8%,#fec44f 4%,#fed97c 4.1%,#fee391 4.7%,#fff7bc 6.4%,#fff7bd 6.5%,#fff7bc 6.6%,#fee89b 11.8%,#fee391 12.2%,#fec44f 14.1%,#feb945 14.6%,#fec44f 15.1%,#fee391 17%,#fee698 17.4%,#fff7bc 19.2%,#fffbce 20.2%,#fffede 23.6%,#ffffe5 36.4%,#ffffe5 100%)"></i><i style="left:261px;width:3px;background:linear-gradient(#fffcd8 0%,#fffacb 1.4%,#fff7bc 1.6%,#fee391 2%,#fecb5f 2.3%,#fec44f 2.4%,#fe9929 2.9%,#ee7516 3.3%,#ee7516 3.4%,#ee7516 3.5%,#fe9929 3.8%,#fec44f 4%,#fede86 4.2%,#fee391 4.5%,#fff7bc 6.5%,#fff7bd 6.5%,#fff7bc 6.7%,#fee89b 11.7%,#fee391 12.2%,#fec44f 14.1%,#feba46 14.6%,#fec44f 15%,#fee391 17%,#fee799 17.4%,#fff7bc 19.2%,#fffbce 20.2%,#fffede 23.6%,#ffffe5 36.4%,#ffffe5 100%)"></i><i style="left:264px;width:3px;background:linear-gradient(#fffcd8 0%,#fffacb 1.4%,#fff7bc 1.6%,#fee391 2.1%,#fed472 2.3%,#fec44f 2.6%,#fe9929 3.1%,#f98d23 3.3%,#f98d23 3.4%,#f98d23 3.6%,#fe9929 3.7%,#fec44f 4%,#fee391 4.3%,#fee391 4.3%,#fff7bc 6.5%,#fff7bd 6.6%,#fff7bc 6.7%,#fee89b 11.7%,#fee391 12.2%,#fec44f 14.2%,#febb47 14.6%,#fec44f 15%,#fee391 17%,#fee799 17.4%,#fff7bc 19.2%,#fffbce 20.2%,#fffede 23.6%,#ffffe5 36.4%,#ffffe5 100%)"></i><i style="left:267px;width:3px;background:linear-gradient(#fffcd8 0%,#fffacb 1.4%,#fff7bc 1.6%,#fee391 2.2%,#fede85 2.3%,#fec44f 2.8%,#fea534 3.3%,#fea534 3.4%,#fea534 3.6%,#fec44f 3.9%,#fee391 4.3%,#fee698 4.4%,#fff7bc 6.6%,#fff7bd 6.6%,#fff7bc 6.7%,#fee89b 11.7%,#fee391 12.2%,#fec44f 14.2%,#febd49 14.6%,#fec44f 14.9%,#fee391 17%,#fee799 17.4%,#fff7bc 19.2%,#fffbce 20.2%,#fffede 23.6%,#ffffe5 36.4%,#ffffe5 100%)"></i><i style="left:270px;width:3px;background:linear-gradient(#fffcd8 0%,#fffacb 1.4%,#fff7bc 1.7%,#fee596 2.3%,#fee391 2.4%,#fec44f 3.2%,#febe4a 3.4%,#febe4a 3.6%,#fec44f 3.7%,#fee391 4.3%,#feeaa0 4.5%,#fff7bc 6.6%,#fff7bd 6.7%,#fff7bc 6.8%,#fee89b 11.7%,#fee391 12.2%,#fec44f 14.3%,#febe4a 14.6%,#fec44f 14.9%,#fee391 16.9%,#fee79a 17.4%,#fff7bc 19.2%,#fffbce 20.2%,#fffede 23.6%,#ffffe5 36.4%,#ffffe5 100%)"></i><i style="left:273px;width:3px;background:linear-gradient(#fffcd8 0%,#fffacb 1.4%,#fff7bc 1.7%,#feeba2 2.3%,#fee391 2.7%,#fed26c 3.4%,#fed26d 3.6%,#fee391 4.1%,#ffeda7 4.5%,#fff7bc 6.7%,#fff7bc 6.7%,#fff7bc 6.8%,#fee89b 11.6%,#fee391 12.1%,#fec44f 14.3%,#febf4b 14.6%,#fec44f 14.8%,#fee391 16.9%,#fee79a 17.4%,#fff7bc 19.2%,#fffbce 20.2%,#fffede 23.6%,#ffffe5 36.4%,#ffffe5 100%)"></i><i style="left:276px;width:3px;background:linear-gradient(#fffcd8 0%,#fffacb 1.4%,#fff7bc 1.9%,#fff1af 2.3%,#fee492 3.4%,#fee492 3.6%,#fff0ae 4.6%,#fff7bc 6.8%,#fff7bc 6.8%,#fff7bc 6.8%,#fee89b 11.6%,#fee391 12.1%,#fec44f 14.4%,#fec14c 14.6%,#fec44f 14.7%,#fee391 17%,#fff7bc 19.2%,#fffbce 20.2%,#fffede 23.6%,#ffffe5 36.4%,#ffffe5 100%)"></i><i style="left:279px;width:3px;background:linear-gradient(#fffcd8 0%,#fffacb 1.4%,#fff7bc 2.2%,#fff7bb 2.3%,#ffefab 3.4%,#fff4b5 4.7%,#fff7bc 6.9%,#fee89b 11.6%,#fee391 12.1%,#fec44f 14.5%,#fec24d 14.6%,#fec44f 14.7%,#fee391 16.9%,#fff7bc 19.2%,#fffbce 20.2%,#fffede 23.6%,#ffffe5 36.4%,#ffffe5 100%)"></i><i style="left:282px;width:3px;background:linear-gradient(#fffcd8 0%,#fffacb 1.4%,#fff7bc 2.6%,#fff2b0 3.4%,#fff6ba 6.9%,#fee79a 11.6%,#fee391 12%,#fec44f 14.4%,#fec14c 14.6%,#fec44f 14.8%,#fee391 17%,#fff7bc 19.2%,#ffface 20.2%,#fffede 23.6%,#ffffe5 36.4%,#ffffe5 100%)"></i><i style="left:285px;width:3px;background:linear-gradient(#fffcd7 0%,#fffacb 1.4%,#fff7bc 2.6%,#fff2b1 3.4%,#fff5b9 7%,#fee698 11.5%,#fee391 11.9%,#fec44f 14.3%,#febe4a 14.6%,#fec44f 14.9%,#fee391 17.1%,#fff7bc 19.3%,#ffface 20.2%,#fffede 23.6%,#ffffe5 36.4%,#ffffe5 100%)"></i><i style="left:288px;width:3px;background:linear-gradient(#fffcd7 0%,#fffacb 1.4%,#fff7bc 2.7%,#fff2b2 3.4%,#fff5b7 7%,#fee697 11.5%,#fee391 11.8%,#fec44f 14.2%,#febc48 14.6%,#fec44f 14.9%,#fee391 17.1%,#fee698 17.4%,#fff7bc 19.3%,#fffacd 20.2%,#fffede 23.7%,#ffffe5 36.4%,#ffffe5 100%)"></i><i style="left:291px;width:3px;background:linear-gradient(#fffcd7 0%,#fffacb 1.4%,#fff7bc 2.7%,#fff3b3 3.4%,#fff4b5 7.1%,#fee595 11.5%,#fee391 11.8%,#fec44f 14.1%,#feba46 14.6%,#fec44f 15%,#fee391 17.1%,#fee697 17.4%,#fff7bc 19.3%,#fffacd 20.3%,#fffede 23.7%,#ffffe5 36.4%,#ffffe5 100%)"></i><i style="left:294px;width:3px;background:linear-gradient(#fffcd7 0%,#fffacb 1.4%,#fff7bc 2.7%,#fff3b4 3.4%,#fff3b3 7.2%,#fee494 11.5%,#fee391 11.7%,#fec44f 14%,#feb845 14.6%,#fec44f 15.1%,#fee391 17.2%,#fee596 17.4%,#fff7bc 19.4%,#fffacd 20.3%,#fffede 23.7%,#ffffe5 36.4%,#ffffe5 100%)"></i><i style="left:297px;width:3px;background:linear-gradient(#fffcd6 0%,#fff7bc 2.7%,#fff4b5 3.4%,#fff2b1 7.2%,#fee493 11.5%,#fee391 11.6%,#fec44f 13.8%,#feb643 14.6%,#fec44f 15.2%,#fee391 17.3%,#fee595 17.5%,#fff7bc 19.4%,#fffacd 20.3%,#fffede 23.8%,#ffffe5 36.4%,#ffffe5 100%)"></i><i style="left:300px;width:3px;background:linear-gradient(#fffcd6 0%,#fff7bc 2.8%,#fff4b6 3.4%,#fff1af 7.3%,#fee391 11.5%,#fee391 11.5%,#fec44f 13.7%,#feb441 14.6%,#fec44f 15.3%,#fee391 17.3%,#fee594 17.5%,#fff7bc 19.5%,#fffacc 20.4%,#fffede 23.8%,#ffffe5 36.4%,#ffffe5 100%)"></i><i style="left:303px;width:3px;background:linear-gradient(#fffcd6 0%,#fff7bc 2.9%,#fff4b7 3.4%,#fff0ad 7.4%,#fee391 11.3%,#fee28f 11.5%,#fec44f 13.6%,#feb23f 14.6%,#fec44f 15.4%,#fee391 17.4%,#fee493 17.5%,#fff7bc 19.6%,#fffacc 20.4%,#fffede 23.8%,#ffffe5 36.4%,#ffffe5 100%)"></i><i style="left:306px;width:3px;background:linear-gradient(#fffcd6 0%,#fff7bc 2.9%,#fff5b7 3.4%,#ffefab 7.4%,#fee391 11%,#fee18d 11.4%,#fec44f 13.5%,#feb03d 14.6%,#fec44f 15.5%,#fee391 17.5%,#fee492 17.5%,#fff7bc 19.6%,#fffacc 20.4%,#fffede 23.9%,#ffffe5 36.4%,#ffffe5 100%)"></i><i style="left:309px;width:3px;background:linear-gradient(#fffcd5 0%,#fff7bc 3%,#fff5b8 3.4%,#ffeea9 7.5%,#fee391 10.8%,#fee08a 11.4%,#fec44f 13.4%,#feae3b 14.6%,#fec44f 15.6%,#fee391 17.5%,#fee391 17.5%,#fff7bc 19.7%,#fffacc 20.5%,#fffede 23.9%,#ffffe5 36.4%,#ffffe5 100%)"></i><i style="left:312px;width:3px;background:linear-gradient(#fffcd5 0%,#fff7bc 3.1%,#fff6b9 3.4%,#ffeda7 7.6%,#fee391 10.6%,#fedf88 11.4%,#fec44f 13.3%,#feac3a 14.6%,#fec44f 15.7%,#fee290 17.5%,#fee391 17.6%,#fff7bc 19.7%,#fffacb 20.5%,#fffede 23.9%,#ffffe5 36.4%,#ffffe5 100%)"></i><i style="left:315px;width:3px;background:linear-gradient(#fffcd5 0%,#fff7bc 3.1%,#fff6ba 3.4%,#feeca4 7.6%,#fee391 10.4%,#fede86 11.4%,#fec44f 13.2%,#feaa38 14.6%,#fec44f 15.7%,#fee28e 17.6%,#fee391 17.7%,#fff7bc 19.8%,#fffacb 20.5%,#fffede 24%,#ffffe5 36.4%,#ffffe5 100%)"></i><i style="left:318px;width:3px;background:linear-gradient(#fffcd5 0%,#fff7bc 3.2%,#fff6ba 3.4%,#feeba2 7.7%,#fee391 10.1%,#fedd83 11.4%,#fec44f 13.1%,#fea836 14.6%,#fec44f 15.8%,#fee18c 17.6%,#fee391 17.7%,#fff7bc 19.8%,#fffacb 20.6%,#fffede 24%,#ffffe5 36.4%,#ffffe5 100%)"></i><i style="left:321px;width:3px;background:linear-gradient(#fffcd5 0%,#fff7bc 3.2%,#fff6ba 3.4%,#fee391 9.8%,#fedc82 11.4%,#fec44f 13.1%,#fea635 14.6%,#fec44f 15.9%,#fee18c 17.6%,#fee391 17.7%,#fff7bc 19.8%,#fffacb 20.6%,#fffede 24%,#ffffe5 36.4%,#ffffe5 100%)"></i><i style="left:324px;width:3px;background:linear-gradient(#fffcd4 0%,#fff7bc 3%,#fff5b8 3.4%,#fee391 9.7%,#fedc81 11.4%,#fec44f 13.1%,#fea635 14.6%,#fec44f 15.9%,#fee18c 17.6%,#fee391 17.7%,#fff7bc 19.8%,#fffacb 20.6%,#fffede 24%,#ffffe5 36.4%,#ffffe5 100%)"></i><i style="left:327px;width:3px;background:linear-gradient(#fffcd4 0%,#fff7bc 2.9%,#fff5b7 3.4%,#fee391 9.6%,#fedb81 11.4%,#fec44f 13%,#fea635 14.6%,#fec44f 15.9%,#fee18c 17.6%,#fee391 17.7%,#fff7bc 19.8%,#fffacb 20.6%,#fffede 24%,#ffffe5 36.4%,#ffffe5 100%)"></i><i style="left:330px;width:3px;background:linear-gradient(#fffcd4 0%,#fff7bc 2.7%,#fff4b5 3.4%,#fee391 9.5%,#fedb80 11.4%,#fec44f 13%,#fea634 14.6%,#fec44f 15.9%,#fee18c 17.6%,#fee391 17.7%,#fff7bc 19.8%,#fffacb 20.6%,#fffede 24%,#ffffe5 36.4%,#ffffe5 100%)"></i><i style="left:333px;width:3px;background:linear-gradient(#fffcd4 0%,#fff7bc 2.6%,#fff3b4 3.4%,#fee391 9.4%,#fedb80 11.4%,#fec44f 13%,#fea634 14.6%,#fec44f 15.9%,#fee18c 17.6%,#fee391 17.7%,#fff7bc 19.8%,#fffacb 20.6%,#fffede 24%,#ffffe5 36.4%,#ffffe5 100%)"></i><i style="left:336px;width:3px;background:linear-gradient(#fffcd4 0%,#fff7bc 2.4%,#fff2b2 3.4%,#feeaa1 6%,#fee391 9.1%,#feda7f 11.4%,#fec44f 13%,#fea634 14.6%,#fec44f 15.9%,#fee18c 17.6%,#fee391 17.7%,#fff7bc 19.8%,#fffacb 20.6%,#fffede 24%,#ffffe5 36.4%,#ffffe5 100%)"></i><i style="left:339px;width:3px;background:linear-gradient(#fffcd3 0%,#fff7bc 2.2%,#fff6bb 2.3%,#feeca4 5.1%,#fee391 8.9%,#feda7e 11.4%,#fec44f 13%,#fea534 14.6%,#fec44f 15.9%,#fee18c 17.6%,#fee391 17.7%,#fff7bc 19.8%,#fffacb 20.6%,#fffede 24%,#ffffe5 36.4%,#ffffe5 100%)"></i><i style="left:342px;width:3px;background:linear-gradient(#fffcd3 0%,#fff7bc 2%,#fff6b9 2.3%,#feeba1 5.1%,#fee391 8.7%,#feda7e 11.4%,#fec44f 13%,#fea534 14.6%,#fec44f 15.9%,#fee18c 17.6%,#fee391 17.7%,#fff7bc 19.8%,#fffacb 20.6%,#fffede 24%,#ffffe5 36.4%,#ffffe5 100%)"></i><i style="left:345px;width:3px;background:linear-gradient(#fffbd3 0%,#fff7bc 1.9%,#fff5b8 2.3%,#fee99f 5.1%,#fee391 8.4%,#feda7d 11.4%,#fec44f 13%,#fea534 14.6%,#fec44f 15.9%,#fee18c 17.6%,#fee391 17.7%,#fff7bc 19.8%,#fffacb 20.6%,#fffede 24%,#ffffe5 36.4%,#ffffe5 100%)"></i><i style="left:348px;width:3px;background:linear-gradient(#fffbd3 0%,#fff7bc 1.8%,#fff4b6 2.3%,#fee89c 5.1%,#fee391 8%,#fed97d 11.4%,#fec44f 12.9%,#fea534 14.6%,#fec44f 15.9%,#fee18c 17.6%,#fee391 17.7%,#fff7bc 19.8%,#fffacb 20.6%,#fffede 24%,#ffffe5 36.4%,#ffffe5 100%)"></i><i style="left:351px;width:3px;background:linear-gradient(#fffbd3 0%,#fff7bc 1.7%,#fff4b5 2.3%,#fee79a 5.1%,#fee391 7.6%,#fed97c 11.4%,#fec44f 12.9%,#fea533 14.6%,#fec44f 15.9%,#fee18c 17.6%,#fee391 17.7%,#fff7bc 19.8%,#fffacb 20.6%,#fffede 24%,#ffffe5 36.4%,#ffffe5 100%)"></i><i style="left:354px;width:3px;background:linear-gradient(#fffbd2 0%,#fff7bc 1.6%,#fff3b3 2.3%,#feeda6 3.4%,#fee697 5.1%,#fee391 7.6%,#fee28f 8.1%,#fed97b 11.4%,#fec44f 12.9%,#fea533 14.6%,#fec44f 15.9%,#fee18c 17.6%,#fee391 17.7%,#fff7bc 19.8%,#fffacb 20.6%,#fffede 24%,#ffffe5 36.4%,#ffffe5 100%)"></i><i style="left:357px;width:3px;background:linear-gradient(#fffbd2 0%,#fff7bc 1.6%,#feeba1 3.4%,#fee596 4.7%,#fee391 6.1%,#fee28f 6.4%,#fee18d 8.2%,#fed97b 11.4%,#fec44f 12.9%,#fea533 14.6%,#fec44f 15.9%,#fee18c 17.6%,#fee391 17.7%,#fff7bc 19.8%,#fffacb 20.6%,#fffede 24%,#ffffe5 36.4%,#ffffe5 100%)"></i><i style="left:360px;width:3px;background:linear-gradient(#fffbd2 0%,#fff8bf 1.4%,#fff7bc 1.6%,#fee99d 3.4%,#fee391 4.7%,#fee391 4.7%,#fee08b 8.2%,#fed87b 11.4%,#fec44f 12.9%,#fea433 14.6%,#fec44f 15.9%,#fee18c 17.6%,#fee391 17.7%,#fff7bc 19.8%,#fffacb 20.6%,#fffede 24%,#ffffe5 36.4%,#ffffe5 100%)"></i><i style="left:363px;width:3px;background:linear-gradient(#fffbd2 0%,#fff7be 1.4%,#fff7bc 1.5%,#fee698 3.4%,#fee391 4%,#fee18c 4.3%,#fede86 5.1%,#fedf89 8.3%,#fed87a 11.4%,#fec44f 12.9%,#fea433 14.6%,#fec44f 15.9%,#fee18c 17.6%,#fee391 17.7%,#fff7bc 19.8%,#fffacb 20.6%,#fffede 24%,#ffffe5 36.4%,#ffffe5 100%)"></i><i style="left:366px;width:3px;background:linear-gradient(#fffbd1 0%,#fff7bd 1.4%,#fff7bc 1.5%,#fee391 3.4%,#fee391 3.4%,#feda7d 4.3%,#fed87a 4.7%,#fede86 6.4%,#fede87 8.3%,#fed87a 11.4%,#fec44f 12.9%,#fea433 14.6%,#fec44f 15.9%,#fee18c 17.6%,#fee391 17.7%,#fff7bc 19.8%,#fffacb 20.6%,#fffede 24%,#ffffe5 36.4%,#ffffe5 100%)"></i><i style="left:369px;width:3px;background:linear-gradient(#fffbd1 0%,#fff7bc 1.4%,#fff4b7 1.7%,#feeba1 2.6%,#fee391 3.1%,#fedc82 3.4%,#fed16a 4.3%,#fed069 4.7%,#fed97c 6%,#fedc83 6.9%,#fede86 8.3%,#fed879 11.4%,#fec44f 12.8%,#fea433 14.6%,#fec44f 15.9%,#fee18c 17.6%,#fee391 17.7%,#fff7bc 19.8%,#fffacb 20.6%,#fffede 24%,#ffffe5 36.4%,#ffffe5 100%)"></i><i style="left:372px;width:3px;background:linear-gradient(#fffbd1 0%,#fff7bc 1.3%,#fff3b4 1.7%,#fee89d 2.6%,#fee391 2.9%,#fed470 3.4%,#fecb5d 3.9%,#fec551 4.3%,#fec653 4.7%,#fed676 6%,#fedb81 6.9%,#fedd84 8.4%,#fed97c 10.7%,#fed879 11.4%,#fec44f 12.8%,#fea433 14.6%,#fec44f 15.9%,#fee18c 17.6%,#fee391 17.7%,#fff7bc 19.8%,#fffacb 20.6%,#fffede 24%,#ffffe5 36.4%,#ffffe5 100%)"></i><i style="left:375px;width:3px;background:linear-gradient(#fffbd1 0%,#fff7bd 1.3%,#fff7bc 1.3%,#fff3b3 1.7%,#fee697 2.6%,#fee391 2.7%,#feca5b 3.4%,#fec44f 3.6%,#febb47 3.9%,#feb340 4.3%,#feb643 4.7%,#fec44f 5.2%,#fecc60 5.6%,#fed36f 6%,#fed778 6.4%,#feda7f 6.9%,#fedc83 8.4%,#fed778 11.4%,#fec44f 12.8%,#fea432 14.6%,#fec44f 15.9%,#fee18c 17.6%,#fee391 17.7%,#fff7bc 19.8%,#fffacb 20.6%,#fffede 24%,#ffffe5 36.4%,#ffffe5 100%)"></i><i style="left:378px;width:3px;background:linear-gradient(#fffbd1 0%,#fff7bc 1.3%,#fff6ba 1.4%,#feeca3 2.1%,#fee392 2.6%,#fee391 2.6%,#fec44f 3.3%,#febd49 3.4%,#fea937 3.9%,#fe9f2e 4.3%,#fea533 4.7%,#fec44f 5.5%,#fec654 5.6%,#fed069 6%,#fed675 6.4%,#feda7e 7.3%,#fedc82 8.4%,#fed778 11.4%,#fec44f 12.8%,#fea332 14.6%,#fec44f 15.9%,#fee18c 17.6%,#fee391 17.7%,#fff7bc 19.8%,#fffacb 20.6%,#fffede 24%,#ffffe5 36.4%,#ffffe5 100%)"></i><i style="left:381px;width:3px;background:linear-gradient(#fffbd1 0%,#fff7bc 1.3%,#fff6b9 1.4%,#feeaa1 2.1%,#fee391 2.5%,#fee08a 2.6%,#fecd61 3%,#fec44f 3.2%,#feb03e 3.4%,#fe9929 3.8%,#fe9829 3.9%,#f98e23 4.3%,#fc9527 4.7%,#fe9929 4.8%,#fec04b 5.6%,#fec44f 5.7%,#fecd63 6%,#fed471 6.4%,#fed777 6.9%,#fedb80 8.1%,#fed778 11.4%,#fec44f 12.8%,#fea332 14.6%,#fec44f 15.9%,#fee18c 17.6%,#fee391 17.7%,#fff7bc 19.8%,#fffacb 20.6%,#fffede 24%,#ffffe5 36.4%,#ffffe5 100%)"></i><i style="left:384px;width:3px;background:linear-gradient(#fffbd0 0%,#fff7bc 1.2%,#fff7bb 1.3%,#fff1af 1.7%,#fee99e 2.1%,#fee391 2.4%,#fedd85 2.6%,#fec857 3%,#fec44f 3.1%,#fea635 3.4%,#fe9929 3.6%,#f88c22 3.9%,#f4811d 4.3%,#f88a21 4.7%,#fe9929 5%,#febb47 5.6%,#fec44f 5.8%,#fecb5e 6%,#fed26d 6.4%,#fed675 6.9%,#fedb80 8.5%,#fed777 11.4%,#fec44f 12.8%,#fea332 14.6%,#fec44f 15.9%,#fee18c 17.6%,#fee391 17.7%,#fff7bc 19.8%,#fffacb 20.6%,#fffede 24%,#ffffe5 36.4%,#ffffe5 100%)"></i><i style="left:387px;width:3px;background:linear-gradient(#fffbd0 0%,#fff7bc 1.2%,#fff6bb 1.3%,#fff1ae 1.7%,#fee99d 2.1%,#fee391 2.4%,#fedc82 2.6%,#fec652 3%,#fec44f 3%,#fea231 3.4%,#fe9929 3.6%,#f68720 3.9%,#f17b1a 4.3%,#f5851f 4.7%,#fe9929 5.1%,#feb845 5.6%,#fec44f 5.8%,#feca5c 6%,#fed16c 6.4%,#fed574 6.9%,#feda7e 9%,#fed777 11.4%,#fec44f 12.8%,#fea332 14.6%,#fec44f 15.9%,#fee18c 17.6%,#fee391 17.7%,#fff7bc 19.8%,#fffacb 20.6%,#fffede 24%,#ffffe5 36.4%,#ffffe5 100%)"></i><i style="left:390px;width:3px;background:linear-gradient(#fffbd0 0%,#fff7bc 1.2%,#fff6ba 1.3%,#fff0ae 1.7%,#fee99d 2.1%,#fee391 2.4%,#fedc82 2.6%,#fec654 3%,#fec44f 3%,#fea332 3.4%,#fe9929 3.6%,#f78921 3.9%,#f27e1b 4.3%,#f68720 4.7%,#fe9929 5%,#feb945 5.6%,#fec44f 5.8%,#fec95b 6%,#fed16b 6.4%,#fed573 6.9%,#feda7e 9%,#fed777 11.4%,#fec44f 12.8%,#fea332 14.6%,#fec44f 15.9%,#fee18c 17.6%,#fee391 17.7%,#fff7bc 19.8%,#fffacb 20.6%,#fffede 24%,#ffffe5 36.4%,#ffffe5 100%)"></i><i style="left:393px;width:3px;background:linear-gradient(#fffbd0 0%,#fff7bc 1.2%,#fff6bb 1.3%,#fff1af 1.7%,#fee99f 2.1%,#fee391 2.4%,#fede87 2.6%,#feca5d 3%,#fec44f 3.1%,#feac3a 3.4%,#fe9929 3.8%,#fb9326 3.9%,#f78921 4.3%,#fa9125 4.7%,#fe9929 4.9%,#febe4a 5.6%,#fec44f 5.7%,#fecb5f 6%,#fed26e 6.4%,#fed778 7.3%,#feda7e 9.4%,#fed778 11.4%,#fec44f 12.9%,#fea534 14.6%,#fec44f 15.9%,#fee18e 17.6%,#fee391 17.7%,#fff7bc 19.8%,#fffacb 20.6%,#fffede 24%,#ffffe5 36.4%,#ffffe5 100%)"></i><i style="left:396px;width:3px;background:linear-gradient(#fffbd0 0%,#fff7bc 1.2%,#fff6b9 1.4%,#feeba1 2.1%,#fee391 2.5%,#fee28f 2.6%,#fed069 3%,#fec44f 3.3%,#feb945 3.4%,#fea332 3.9%,#fe9929 4.3%,#fe9929 4.3%,#fe9929 4.3%,#fea02f 4.7%,#fec44f 5.6%,#fec550 5.6%,#fece65 6%,#fed471 6.4%,#fed879 7.3%,#feda7f 8.6%,#fed87a 11.4%,#fec44f 13%,#fea735 14.6%,#fec44f 15.8%,#fee28f 17.6%,#fee391 17.6%,#fff7bc 19.8%,#fffacc 20.6%,#fffede 24%,#ffffe5 36.4%,#ffffe5 100%)"></i><i style="left:399px;width:3px;background:linear-gradient(#fffbd0 0%,#fff7bc 1.3%,#fff6ba 1.4%,#feeca4 2.1%,#fee595 2.6%,#fee391 2.6%,#fec654 3.4%,#fec44f 3.5%,#feb642 3.9%,#fead3a 4.3%,#feb13e 4.7%,#fec44f 5.3%,#feca5b 5.6%,#fed16b 6%,#fed674 6.4%,#fed87a 6.9%,#fedb81 9.4%,#fed97b 11.4%,#fec44f 13%,#fea937 14.6%,#fec44f 15.7%,#fee391 17.6%,#fee391 17.6%,#fff7bc 19.7%,#fffacc 20.6%,#fffede 24%,#ffffe5 36.4%,#ffffe5 100%)"></i><i style="left:402px;width:3px;background:linear-gradient(#fffbd0 0%,#fff7bc 1.3%,#fff6ba 1.4%,#fff3b3 1.7%,#fee79a 2.6%,#fee391 2.8%,#fed16a 3.4%,#fec755 3.9%,#fec44f 4.1%,#fec04c 4.3%,#fec24d 4.7%,#fec44f 4.8%,#fed572 6%,#fed97c 6.9%,#fedb81 8.7%,#feda7f 10.7%,#fed97c 11.4%,#fec44f 13.1%,#feab39 14.6%,#fec44f 15.7%,#fee391 17.5%,#fee392 17.6%,#fff7bc 19.7%,#fffacc 20.6%,#fffede 24%,#ffffe5 36.4%,#ffffe5 100%)"></i><i style="left:405px;width:3px;background:linear-gradient(#fffbd0 0%,#fff7bc 1.3%,#fff4b5 1.7%,#feea9f 2.6%,#fee391 3%,#feda7e 3.4%,#fece64 4.3%,#fece64 4.7%,#fed879 6%,#feda7d 6.9%,#fedc82 9.9%,#feda7d 11.4%,#fec44f 13.2%,#fead3b 14.6%,#fec44f 15.6%,#fee391 17.5%,#fee493 17.6%,#fff7bc 19.7%,#fffacd 20.6%,#fffede 24%,#ffffe5 36.4%,#ffffe5 100%)"></i><i style="left:408px;width:3px;background:linear-gradient(#fffbd1 0%,#fff7bc 1.4%,#fff4b6 1.7%,#fee391 3.3%,#fee18e 3.4%,#fed879 4.3%,#fed777 4.7%,#fedb80 6.4%,#feda7e 7.3%,#fedd83 9.9%,#feda7f 11.4%,#fec44f 13.3%,#feaf3d 14.6%,#fec44f 15.5%,#fee391 17.4%,#fee494 17.6%,#fff7bc 19.7%,#fffacd 20.6%,#fffede 24%,#ffffe5 36.4%,#ffffe5 100%)"></i><i style="left:411px;width:3px;background:linear-gradient(#fffbd1 0%,#fff7bc 1.4%,#fff5b7 1.7%,#fee697 3.4%,#fee391 3.9%,#fedf89 4.3%,#fedc83 5.1%,#feda7f 7.3%,#fedd85 9.9%,#fedb80 11.5%,#fec44f 13.4%,#feb13f 14.6%,#fec44f 15.4%,#fee391 17.4%,#fee595 17.6%,#fff7bc 19.6%,#ffface 20.6%,#fffede 24%,#ffffe5 36.4%,#ffffe5 100%)"></i><i style="left:414px;width:3px;background:linear-gradient(#fffbd1 0%,#fff7bc 1.4%,#fee89c 3.4%,#fee494 4.3%,#fee391 4.6%,#fee08b 5.1%,#fedb7f 7.3%,#fedd85 10.3%,#fedb81 11.5%,#fec44f 13.5%,#feb340 14.6%,#fec44f 15.4%,#fee391 17.3%,#fee596 17.6%,#fff7bc 19.6%,#fffbce 20.6%,#fffede 24%,#ffffe5 36.4%,#ffffe5 100%)"></i><i style="left:417px;width:3px;background:linear-gradient(#fffbd1 0%,#fff7bc 1.5%,#feeaa1 3.4%,#fee391 5.1%,#fee391 5.2%,#fedb80 7.3%,#fede86 10.3%,#fedc82 11.5%,#fec44f 13.6%,#feb542 14.6%,#fec44f 15.3%,#fee391 17.3%,#fee697 17.6%,#fff7bc 19.6%,#fffbce 20.6%,#fffede 24%,#ffffe5 36.4%,#ffffe5 100%)"></i><i style="left:420px;width:3px;background:linear-gradient(#fffbd1 0%,#fff7bc 1.5%,#fff2b2 2.3%,#feeca5 3.4%,#fee391 5.8%,#fedc83 6.9%,#fedb7f 7.7%,#fede87 10.3%,#fedd83 11.5%,#fec44f 13.8%,#feb744 14.6%,#fec44f 15.2%,#fee391 17.2%,#fee698 17.6%,#fff7bc 19.5%,#fffbcf 20.6%,#fffede 24%,#ffffe5 36.4%,#ffffe5 100%)"></i><i style="left:423px;width:3px;background:linear-gradient(#fffbd1 0%,#fff7bc 1.6%,#fff3b3 2.3%,#fee391 5.9%,#fedc83 6.9%,#fedb7f 7.7%,#fedf88 9.9%,#fedd85 11.5%,#fec44f 13.9%,#feb946 14.6%,#fec44f 15.1%,#fee391 17.2%,#fee799 17.6%,#fff7bc 19.5%,#fffbcf 20.6%,#fffede 24%,#ffffe5 36.4%,#ffffe5 100%)"></i><i style="left:426px;width:3px;background:linear-gradient(#fffbd1 0%,#fff7bc 1.7%,#fff4b5 2.3%,#fee391 5.9%,#fedd83 6.9%,#feda7e 7.7%,#fedf89 10.3%,#fede86 11.5%,#fec44f 14%,#febc48 14.6%,#fec44f 15%,#fee391 17.1%,#fee79a 17.6%,#fff7bc 19.5%,#fffbd0 20.6%,#fffede 24%,#ffffe5 36.4%,#ffffe5 100%)"></i><i style="left:429px;width:3px;background:linear-gradient(#fffbd1 0%,#fff7bc 1.8%,#fff4b6 2.3%,#feeca4 4.3%,#fee391 6%,#fedc83 6.9%,#feda7d 7.7%,#fedf89 9.9%,#fede87 11.5%,#fec44f 14.1%,#febe49 14.6%,#fec44f 14.9%,#fee391 17.1%,#fee89b 17.6%,#fff7bc 19.4%,#fffbd0 20.6%,#fffede 24%,#ffffe5 36.4%,#ffffe5 100%)"></i><i style="left:432px;width:3px;background:linear-gradient(#fffbd1 0%,#fff7bc 1.9%,#fff5b7 2.3%,#feeda6 4.3%,#fee391 6.1%,#fedc82 6.9%,#fed97c 7.7%,#fee08a 9.9%,#fedf88 11.5%,#fec44f 14.3%,#fec04b 14.6%,#fec44f 14.8%,#fee391 17%,#fee89c 17.6%,#fff7bc 19.4%,#fffbd0 20.6%,#fffede 24%,#ffffe5 36.4%,#ffffe5 100%)"></i><i style="left:435px;width:3px;background:linear-gradient(#fffbd1 0%,#fff7bc 2%,#fff5b9 2.3%,#ffeea8 4.3%,#fee391 6.2%,#fed97c 7.3%,#fed97c 8.1%,#fee08a 9.9%,#fedf89 11.6%,#fec44f 14.4%,#fec24d 14.6%,#fec44f 14.7%,#fee391 16.9%,#fee99d 17.6%,#fff7bc 19.3%,#fffbd1 20.6%,#fffede 24%,#ffffe5 36.4%,#ffffe5 100%)"></i><i style="left:438px;width:3px;background:linear-gradient(#fffbd1 0%,#fff7bc 2.1%,#fff6ba 2.3%,#ffeeaa 4.3%,#fee391 6.1%,#fed87a 7.3%,#fed87a 8.1%,#fee08b 9.9%,#fee08a 11.6%,#fec44f 14.6%,#fec44f 14.6%,#fec44f 14.6%,#fee391 16.9%,#fee99e 17.6%,#fff7bc 19.3%,#fffbd1 20.6%,#fffede 24%,#ffffe5 36.4%,#ffffe5 100%)"></i><i style="left:441px;width:3px;background:linear-gradient(#fffbd1 0%,#fff7bc 2.1%,#fff6bb 2.3%,#ffefab 4.3%,#fee391 6%,#fed675 7.3%,#fed573 7.7%,#fee08b 9.9%,#fee08b 11.6%,#fec551 14.6%,#fee391 16.8%,#feea9f 17.6%,#fff7bc 19.3%,#fffbd1 20.6%,#fffede 24%,#ffffe5 36.4%,#ffffe5 100%)"></i><i style="left:444px;width:3px;background:linear-gradient(#fffbd2 0%,#fff7bc 2.4%,#feeda6 4.7%,#fee79a 5.6%,#fee391 6%,#fed879 6.9%,#fed472 7.3%,#fed470 7.7%,#fee08c 9.9%,#fee18d 11.6%,#fec653 14.6%,#fee391 16.8%,#feeaa0 17.6%,#fff7bc 19.2%,#fffbd2 20.6%,#fffede 24%,#ffffe5 36.4%,#ffffe5 100%)"></i><i style="left:447px;width:3px;background:linear-gradient(#fffbd2 0%,#fff7bc 2.4%,#ffeda7 4.7%,#fee79a 5.6%,#fee391 6%,#fed676 6.9%,#fed36e 7.3%,#fed471 8.1%,#fedd84 9.1%,#fee18c 9.9%,#fee28e 11.6%,#fec756 14.6%,#fee391 16.8%,#fff7bc 19.3%,#fffbd2 20.6%,#fffede 24%,#ffffe5 36.4%,#ffffe5 100%)"></i><i style="left:450px;width:3px;background:linear-gradient(#fffbd2 0%,#fff7bc 2.5%,#ffeda7 4.7%,#fee79a 5.6%,#fee391 6%,#fed572 6.9%,#fed16a 7.3%,#fed26e 8.1%,#fedd83 9.1%,#fee18c 9.9%,#fee28f 11.7%,#fec858 14.6%,#fee391 16.8%,#fff7bc 19.3%,#fffbd2 20.6%,#fffede 24%,#ffffe5 36.4%,#ffffe5 100%)"></i><i style="left:453px;width:3px;background:linear-gradient(#fffbd2 0%,#fff7bc 2.5%,#ffeea8 4.7%,#fee799 5.6%,#fee391 5.9%,#fed36f 6.9%,#fecf66 7.3%,#fece65 7.7%,#fed16b 8.1%,#fedc83 9.1%,#fee18d 9.9%,#fee391 10.6%,#fee392 10.7%,#fee391 11.4%,#fee391 11.7%,#fec95a 14.6%,#fee391 16.7%,#fff7bc 19.2%,#fffbd2 20.6%,#fffede 24%,#ffffe5 36.4%,#ffffe5 100%)"></i><i style="left:456px;width:3px;background:linear-gradient(#fffbd2 0%,#fff7bd 2.3%,#fff7bc 2.5%,#fff2b2 3.9%,#ffeea8 4.7%,#fee799 5.6%,#fee391 5.9%,#fed16a 6.9%,#fecd61 7.3%,#fecc60 7.7%,#fecf67 8.1%,#fedf88 9.4%,#fee391 10.9%,#fee392 11.1%,#fee392 11.7%,#fee391 11.8%,#feca5c 14.6%,#fee391 16.7%,#fff7bc 19.2%,#fffbd2 20.6%,#fffede 24%,#ffffe5 36.4%,#ffffe5 100%)"></i><i style="left:459px;width:3px;background:linear-gradient(#fffbd3 0%,#fff7be 2.3%,#fff7bc 2.5%,#fff3b3 3.9%,#ffeea8 4.7%,#fee799 5.6%,#fee391 5.9%,#fecf66 6.9%,#feca5c 7.3%,#feca5c 7.7%,#fecd63 8.1%,#fede87 9.4%,#fee391 10.3%,#fee391 10.3%,#fee493 11.1%,#fee492 11.7%,#fee391 11.9%,#fecb5e 14.7%,#fee391 16.6%,#fff7bc 19.2%,#fffbd3 20.6%,#fffede 24%,#ffffe5 36.4%,#ffffe5 100%)"></i><i style="left:462px;width:3px;background:linear-gradient(#fffbd3 0%,#fff7bc 2.6%,#fff3b4 3.4%,#fff3b3 3.9%,#ffeea9 4.7%,#fee697 5.6%,#fee391 5.8%,#fecd61 6.9%,#fec857 7.3%,#fec756 7.7%,#fecb5e 8.1%,#fede87 9.4%,#fee391 10.2%,#fee391 10.3%,#fee494 11.1%,#fee493 11.8%,#fee391 12%,#fecc60 14.7%,#fee391 16.6%,#fff7bc 19.2%,#fffbd3 20.6%,#fffede 24%,#ffffe5 36.4%,#ffffe5 100%)"></i><i style="left:465px;width:3px;background:linear-gradient(#fffbd3 0%,#fff7bc 2.6%,#fff4b5 3.4%,#fff3b3 3.9%,#ffeea9 4.7%,#fee596 5.6%,#fee391 5.7%,#feca5d 6.9%,#fec552 7.3%,#fec551 7.7%,#fec95a 8.1%,#fede86 9.4%,#fee391 10.2%,#fee392 10.3%,#fee594 11.1%,#fee494 11.8%,#fee391 12.1%,#fecd63 14.7%,#fee391 16.5%,#fff7bc 19.1%,#fffbd3 20.6%,#fffede 24%,#ffffe5 36.4%,#ffffe5 100%)"></i><i style="left:468px;width:3px;background:linear-gradient(#fffcd3 0%,#fff7bc 2.7%,#fff4b5 3.4%,#fff3b4 3.9%,#ffeea9 4.7%,#feeba1 5.1%,#fee595 5.6%,#fee391 5.7%,#fec857 6.9%,#fec44f 7.2%,#fec24d 7.3%,#fec24d 7.7%,#fec44f 7.9%,#fec755 8.1%,#fede86 9.4%,#fee391 10.2%,#fee492 10.3%,#fee595 11.1%,#fee595 11.8%,#fee391 12.2%,#fece65 14.7%,#fee391 16.5%,#fff7bc 19.1%,#fffcd3 20.6%,#fffede 24%,#ffffe5 36.4%,#ffffe5 100%)"></i><i style="left:471px;width:3px;background:linear-gradient(#fffcd3 0%,#fff7bc 2.9%,#fff3b4 3.9%,#ffeea9 4.7%,#feeba1 5.1%,#fee391 5.6%,#fec552 6.9%,#fec44f 7%,#febe4a 7.3%,#febe4a 7.7%,#fec44f 8.1%,#fec551 8.1%,#fede85 9.4%,#fee391 10.1%,#fee493 10.3%,#fee596 11.1%,#fee596 11.8%,#fee391 12.3%,#fecf67 14.7%,#fee391 16.4%,#fff7bc 19.1%,#fffcd3 20.6%,#fffede 24%,#ffffe5 36.4%,#ffffe5 100%)"></i><i style="left:474px;width:3px;background:linear-gradient(#fffcd4 0%,#fff7bc 2.9%,#fff3b4 3.9%,#ffeea9 4.7%,#feeaa1 5.1%,#fee391 5.6%,#fec44f 6.8%,#fec24e 6.9%,#feba46 7.3%,#feba46 7.7%,#fec24d 8.1%,#fec44f 8.2%,#fedd85 9.4%,#fee391 10.1%,#fee493 10.3%,#fee697 11.9%,#fee391 12.4%,#fed069 14.7%,#fee391 16.4%,#fff7bc 19%,#fffcd4 20.6%,#fffede 24%,#ffffe5 36.4%,#ffffe5 100%)"></i><i style="left:477px;width:3px;background:linear-gradient(#fffcd4 0%,#fff7bc 3%,#fff4b5 3.9%,#ffeea9 4.7%,#fee492 5.6%,#fee391 5.6%,#fec44f 6.7%,#febf4a 6.9%,#feb643 7.3%,#feb643 7.7%,#febf4a 8.1%,#fec44f 8.3%,#feda7e 9.3%,#fee28e 9.9%,#fee391 10%,#fee493 10.3%,#fee698 11.9%,#fee391 12.5%,#fed16b 14.7%,#fee391 16.3%,#fff7bc 19%,#fffcd4 20.6%,#fffede 24%,#ffffe5 36.4%,#ffffe5 100%)"></i><i style="left:480px;width:3px;background:linear-gradient(#fffcd4 0%,#fff7bc 3%,#fff4b5 3.9%,#ffeea9 4.7%,#fee391 5.6%,#fee391 5.6%,#fec44f 6.6%,#febb47 6.9%,#feb23f 7.3%,#feb340 7.7%,#febc48 8.1%,#fec44f 8.4%,#feda7e 9.4%,#fee28f 9.9%,#fee391 10%,#fee494 10.3%,#fee799 11.9%,#fee391 12.6%,#fed26d 14.8%,#fee391 16.2%,#fff7bc 19%,#fffcd4 20.6%,#fffede 24%,#ffffe5 36.4%,#ffffe5 100%)"></i><i style="left:483px;width:3px;background:linear-gradient(#fffcd4 0%,#fff7bc 3%,#fff4b5 3.9%,#ffeeaa 4.7%,#fee391 5.5%,#fee290 5.6%,#fec44f 6.6%,#feb844 6.9%,#feae3c 7.3%,#feaf3c 7.7%,#feb945 8.1%,#fec44f 8.5%,#feda7e 9.4%,#fee28f 9.9%,#fee391 10%,#fee494 10.3%,#fee79a 12%,#fee391 12.7%,#fed370 14.8%,#fee391 16.2%,#fff7bc 18.9%,#fffcd4 20.6%,#fffede 24%,#ffffe5 36.4%,#ffffe5 100%)"></i><i style="left:486px;width:3px;background:linear-gradient(#fffcd4 0%,#fff7bc 3%,#fff4b4 3.9%,#ffeeaa 4.7%,#fee391 5.5%,#fee28e 5.6%,#fec44f 6.5%,#feb441 6.9%,#feaa38 7.3%,#feab39 7.7%,#feb642 8.1%,#fec44f 8.5%,#feda7e 9.4%,#fee28f 9.9%,#fee391 10%,#fee595 10.3%,#fee79b 12%,#fee391 12.9%,#fed472 14.8%,#fee391 16.1%,#fff7bc 18.9%,#fffcd4 20.6%,#fffede 24%,#ffffe5 36.4%,#ffffe5 100%)"></i><i style="left:489px;width:3px;background:linear-gradient(#fffcd4 0%,#fff7bc 3%,#fff4b5 3.9%,#ffefaa 4.7%,#fee391 5.5%,#fee18d 5.6%,#fec44f 6.4%,#feb13e 6.9%,#fea735 7.3%,#fea836 7.7%,#feb340 8.1%,#fec44f 8.6%,#feda7f 9.4%,#fee290 9.9%,#fee391 9.9%,#fee595 10.3%,#fee89b 12%,#fee391 13%,#fed574 14.8%,#fee391 16%,#fff7bc 18.9%,#fffcd5 20.6%,#fffede 24%,#ffffe5 36.4%,#ffffe5 100%)"></i><i style="left:492px;width:3px;background:linear-gradient(#fffcd4 0%,#fff7bc 3%,#fff4b5 3.9%,#ffeeaa 4.7%,#fee391 5.4%,#fee08b 5.6%,#fec44f 6.4%,#fead3b 6.9%,#fea231 7.3%,#fea432 7.7%,#feaf3d 8.1%,#fec44f 8.7%,#feda7e 9.4%,#fee290 9.9%,#fee391 9.9%,#fee595 10.3%,#fee89b 11.1%,#fee89c 12%,#fee391 13.1%,#fed777 14.8%,#fee391 16%,#fff7bc 18.8%,#fffcd5 20.6%,#fffede 24%,#ffffe5 36.4%,#ffffe5 100%)"></i><i style="left:495px;width:3px;background:linear-gradient(#fffcd4 0%,#fff7bc 3%,#fff4b4 3.9%,#ffeea8 4.7%,#fee89c 5.1%,#fee391 5.4%,#fedf89 5.6%,#fec44f 6.3%,#fea937 6.9%,#fe9e2e 7.3%,#fea02f 7.7%,#feac3a 8.1%,#fec44f 8.7%,#feda7d 9.4%,#fee391 10.1%,#fee595 10.3%,#fee89b 11.1%,#fee99d 12%,#fee391 13.3%,#fed879 14.8%,#fee391 15.9%,#fff7bc 18.8%,#fffcd5 20.6%,#fffede 24%,#ffffe5 36.4%,#ffffe5 100%)"></i><i style="left:498px;width:3px;background:linear-gradient(#fffcd4 0%,#fff7bc 3%,#fff3b4 3.9%,#ffeda7 4.7%,#fee89c 5.1%,#fee391 5.4%,#fede87 5.6%,#fec44f 6.3%,#fea634 6.9%,#fe9b2a 7.3%,#fe9c2c 7.7%,#fea937 8.1%,#fec44f 8.7%,#fecd63 9%,#fed97c 9.4%,#fee391 10.1%,#fee596 10.3%,#fee89c 11.1%,#fee99e 12.1%,#fee391 13.4%,#fed97c 14.8%,#fee391 15.8%,#fff7bc 18.7%,#fffcd6 20.6%,#fffede 24%,#ffffe5 36.4%,#ffffe5 100%)"></i><i style="left:501px;width:3px;background:linear-gradient(#fffcd4 0%,#fff7bc 2.9%,#fff3b4 3.9%,#ffeda7 4.7%,#fee89b 5.1%,#fee391 5.4%,#fedd85 5.6%,#fec44f 6.2%,#fea231 6.9%,#fe9929 7.2%,#fd9728 7.3%,#fe9929 7.7%,#fe9929 7.7%,#fea735 8.1%,#fec44f 8.8%,#fecc61 9%,#fed97b 9.4%,#fee391 10.1%,#fee596 10.3%,#fee89d 11.1%,#feea9f 12.1%,#fee391 13.6%,#feda7f 14.8%,#fee391 15.7%,#fff7bc 18.7%,#fffcd6 20.6%,#fffede 24%,#ffffe5 36.4%,#ffffe5 100%)"></i><i style="left:504px;width:3px;background:linear-gradient(#fffcd4 0%,#fff7bc 2.9%,#fff3b4 3.9%,#fff1af 4.3%,#ffeda7 4.7%,#fee79a 5.1%,#fee391 5.4%,#fedc83 5.6%,#fec44f 6.2%,#fe9f2e 6.9%,#fe9929 7.1%,#fc9326 7.3%,#fd9627 7.7%,#fe9929 7.8%,#fea433 8.1%,#fec44f 8.8%,#fecc60 9%,#fed97b 9.4%,#fee391 10.1%,#fee697 10.3%,#fee99d 11.1%,#feeaa0 12.1%,#fee391 13.8%,#fedc82 14.8%,#fee391 15.6%,#fff7bc 18.6%,#fffcd6 20.6%,#fffede 24%,#ffffe5 36.4%,#ffffe5 100%)"></i><i style="left:507px;width:3px;background:linear-gradient(#fffcd4 0%,#fff7bc 2.9%,#fff3b4 3.9%,#fff1af 4.3%,#feeda6 4.7%,#fee79a 5.1%,#fee391 5.3%,#fedc81 5.6%,#fec44f 6.2%,#fe9c2b 6.9%,#fe9929 7%,#fa9025 7.3%,#fb9326 7.7%,#fe9929 7.9%,#fea231 8.1%,#fec44f 8.8%,#fecb5e 9%,#fed87a 9.4%,#fee391 10%,#fee697 10.3%,#fee99e 11.1%,#feeba1 12.1%,#fee391 14%,#fedd84 14.9%,#fee391 15.5%,#fff7bc 18.6%,#fffcd7 20.6%,#fffede 24%,#ffffe5 36.4%,#ffffe5 100%)"></i><i style="left:510px;width:3px;background:linear-gradient(#fffcd4 0%,#fff7bc 2.9%,#fff3b4 3.9%,#fff1af 4.3%,#feeda6 4.7%,#fee799 5.1%,#fee391 5.3%,#fedb80 5.6%,#fec44f 6.1%,#feaf3d 6.4%,#fe9929 6.9%,#fe9829 6.9%,#f98d23 7.3%,#fa9024 7.7%,#fe9929 8%,#fe9f2e 8.1%,#fec44f 8.8%,#fecb5d 9%,#fed87a 9.4%,#fee391 10%,#fee698 10.3%,#fee99f 11.1%,#feeba3 12.2%,#fee391 14.1%,#fede87 14.9%,#fee391 15.3%,#fff7bc 18.5%,#fffcd7 20.6%,#fffede 24%,#ffffe5 36.4%,#ffffe5 100%)"></i><i style="left:513px;width:3px;background:linear-gradient(#fffcd4 0%,#fff7bc 2.9%,#fff3b4 3.9%,#fff1af 4.3%,#feeda6 4.7%,#fee799 5.1%,#fee391 5.3%,#feda7e 5.6%,#fec44f 6.1%,#fead3b 6.4%,#fe9929 6.8%,#fd9627 6.9%,#f78a21 7.3%,#f98d23 7.7%,#fe9929 8%,#fe9d2c 8.1%,#fec44f 8.9%,#feca5c 9%,#fed879 9.4%,#fee391 10%,#fee698 10.3%,#feeaa0 11.1%,#feeca4 12.2%,#fee391 14.3%,#fee08a 14.9%,#fee391 15.2%,#fff7bc 18.4%,#fffcd7 20.6%,#fffede 24%,#ffffe5 36.4%,#ffffe5 100%)"></i><i style="left:516px;width:3px;background:linear-gradient(#fffcd4 0%,#fff7bc 2.9%,#fff3b4 3.9%,#fff1af 4.3%,#feeda6 4.7%,#fee698 5.1%,#fee391 5.3%,#feda7d 5.6%,#fec44f 6%,#feab39 6.4%,#fe9929 6.7%,#fb9326 6.9%,#f68720 7.3%,#f88b22 7.7%,#fe9929 8.1%,#fe9b2b 8.1%,#fec44f 8.9%,#feca5b 9%,#fed879 9.4%,#fee391 10%,#fee799 10.3%,#feeaa0 11.1%,#feeca5 12.2%,#fee391 14.6%,#fee18d 14.9%,#fee391 15.1%,#fff7bc 18.4%,#fffcd8 20.6%,#fffede 24%,#ffffe5 36.4%,#ffffe5 100%)"></i><i style="left:519px;width:3px;background:linear-gradient(#fffcd4 0%,#fff7bc 2.9%,#fff1af 4.3%,#feeca5 4.7%,#fee698 5.1%,#fee391 5.3%,#fed97c 5.6%,#fec44f 6%,#fea937 6.4%,#fe9929 6.7%,#fa9025 6.9%,#f5851f 7.3%,#f78820 7.7%,#fe9929 8.1%,#fe9929 8.1%,#fec44f 8.9%,#fec95a 9%,#fed879 9.4%,#fee391 10%,#fee799 10.3%,#feeaa1 11.1%,#feeda6 12.2%,#fee391 14.8%,#fee28f 14.9%,#fee391 15%,#fff7bc 18.3%,#fffcd8 20.6%,#fffede 24%,#ffffe5 36.4%,#ffffe5 100%)"></i><i style="left:522px;width:3px;background:linear-gradient(#fffcd4 0%,#fff7bc 2.9%,#fff1af 4.3%,#feeca5 4.7%,#fee697 5.1%,#fee391 5.3%,#fed87a 5.6%,#fec44f 6%,#fea735 6.4%,#fe9929 6.7%,#f98e23 6.9%,#f4821d 7.3%,#f6861f 7.7%,#fd9728 8.1%,#fe9929 8.2%,#fec44f 8.9%,#fec95a 9%,#fed879 9.4%,#fee391 10%,#fee79a 10.3%,#feeba2 11.1%,#ffeda7 12.3%,#fee392 14.9%,#fff7bc 18.2%,#fffdd8 20.6%,#fffede 24%,#ffffe5 36.4%,#ffffe5 100%)"></i><i style="left:525px;width:3px;background:linear-gradient(#fffcd4 0%,#fff7bc 3%,#fff3b4 3.9%,#feeca5 4.7%,#fee697 5.1%,#fee391 5.3%,#fed879 5.6%,#fec44f 6%,#fea533 6.4%,#fe9929 6.6%,#f88c22 6.9%,#f3801c 7.3%,#f5841e 7.7%,#fd9627 8.1%,#fe9929 8.2%,#fec44f 8.9%,#fec959 9%,#fed87a 9.4%,#fee290 9.9%,#fee391 9.9%,#fee799 10.3%,#feeba3 11.1%,#ffeea8 12.3%,#fee494 14.9%,#fff7bc 18.2%,#fffdd9 20.6%,#fffede 24%,#ffffe5 36.4%,#ffffe5 100%)"></i><i style="left:528px;width:3px;background:linear-gradient(#fffcd4 0%,#fff7bc 3%,#fff3b4 3.9%,#feeca5 4.7%,#fee697 5.1%,#fee391 5.3%,#fed778 5.6%,#fec44f 6%,#fea332 6.4%,#fe9929 6.6%,#f78921 6.9%,#f27d1b 7.3%,#f4821d 7.7%,#fc9527 8.1%,#fe9929 8.2%,#fec44f 8.9%,#fec959 9%,#fed87a 9.4%,#fee391 9.9%,#fee391 9.9%,#feeaa0 10.7%,#ffeea9 12.3%,#fee595 14.9%,#fff7bc 18.1%,#fffdd9 20.6%,#fffede 24%,#ffffe5 36.4%,#ffffe5 100%)"></i><i style="left:531px;width:3px;background:linear-gradient(#fffcd4 0%,#fff7bc 3%,#fff3b4 3.9%,#feeca5 4.7%,#fee697 5.1%,#fee391 5.3%,#fed777 5.6%,#fec44f 5.9%,#fea130 6.4%,#fe9929 6.6%,#f68720 6.9%,#f17b1a 7.3%,#f3801c 7.7%,#fb9326 8.1%,#fe9929 8.2%,#fec44f 8.9%,#fec959 9%,#fed87b 9.4%,#fee391 9.9%,#fee391 9.9%,#feeaa1 10.7%,#ffefab 12.3%,#fee697 14.9%,#fff7bc 18%,#fffdd9 20.6%,#fffede 24%,#ffffe5 36.4%,#ffffe5 100%)"></i><i style="left:534px;width:3px;background:linear-gradient(#fffcd4 0%,#fff7bc 3%,#fff3b4 3.9%,#feeca5 4.7%,#fee696 5.1%,#fee391 5.2%,#fed777 5.6%,#fec44f 5.9%,#fea02f 6.4%,#fe9929 6.5%,#f5851f 6.9%,#f07919 7.3%,#f27e1b 7.7%,#fb9226 8.1%,#fe9929 8.3%,#fec44f 8.9%,#fec959 9%,#fed97b 9.4%,#fee391 9.8%,#fee392 9.9%,#feeba2 10.7%,#ffefac 12.3%,#fee799 15%,#fff7bc 17.9%,#fffdda 20.6%,#fffede 24%,#ffffe5 36.4%,#ffffe5 100%)"></i><i style="left:537px;width:3px;background:linear-gradient(#fffcd4 0%,#fff7bc 3%,#fff3b4 3.9%,#feeca5 4.7%,#fee596 5.1%,#fee391 5.2%,#fed676 5.6%,#fec44f 5.9%,#fe9e2d 6.4%,#fe9929 6.5%,#f5841e 6.9%,#ef7718 7.3%,#f27d1a 7.7%,#fb9125 8.1%,#fe9929 8.3%,#fec44f 8.9%,#fec95a 9%,#fed97c 9.4%,#fee391 9.8%,#fee493 9.9%,#feeba3 10.7%,#fff0ad 12.4%,#fee89b 15%,#fff7bc 17.8%,#fffdda 20.6%,#fffede 24%,#ffffe5 36.4%,#ffffe5 100%)"></i><i style="left:540px;width:3px;background:linear-gradient(#fffcd4 0%,#fff7bc 3%,#fff3b4 3.9%,#feeca5 4.7%,#fee596 5.1%,#fee391 5.2%,#fed675 5.6%,#fec44f 5.9%,#fe9d2c 6.4%,#fe9929 6.5%,#f4821d 6.9%,#ee7517 7.3%,#f17b1a 7.7%,#fa9025 8.1%,#fe9929 8.3%,#fec44f 8.9%,#fec95a 9%,#feda7d 9.4%,#fee391 9.8%,#fee493 9.9%,#feeca3 10.7%,#fff1ae 12.4%,#fee89d 15%,#fff7bc 17.8%,#fffdda 20.6%,#ffffe5 36.4%,#ffffe5 100%)"></i><i style="left:543px;width:3px;background:linear-gradient(#fffcd4 0%,#fff7bc 3%,#fff3b4 3.9%,#feeca5 4.7%,#fee596 5.1%,#fee391 5.2%,#fed675 5.6%,#fec44f 5.9%,#fe9b2b 6.4%,#fe9929 6.5%,#f3801c 6.9%,#ee7416 7.3%,#f07a19 7.7%,#fa9024 8.1%,#fe9929 8.3%,#fec44f 8.9%,#fec95a 9%,#feda7e 9.4%,#fee391 9.8%,#fee494 9.9%,#feeca4 10.7%,#fff1b0 12.4%,#fee99f 15%,#fff7bc 17.7%,#fffddb 20.6%,#ffffe5 36.4%,#ffffe5 100%)"></i><i style="left:546px;width:3px;background:linear-gradient(#fffcd4 0%,#fff7bc 3%,#fff4b4 3.9%,#feeca5 4.7%,#fee596 5.1%,#fee391 5.2%,#fed674 5.6%,#fec44f 5.9%,#fe9a2a 6.4%,#fe9929 6.4%,#f27f1c 6.9%,#ed7215 7.3%,#f07918 7.7%,#fa8f24 8.1%,#fe9929 8.3%,#fec44f 8.9%,#feca5b 9%,#fedb7f 9.4%,#fee391 9.8%,#fee595 9.9%,#feeda6 10.7%,#fff2b1 12.4%,#feeaa0 15%,#fff6ba 17.6%,#fff7bc 17.7%,#fffddb 20.6%,#ffffe5 36.4%,#ffffe5 100%)"></i><i style="left:549px;width:3px;background:linear-gradient(#fffcd4 0%,#fff7bc 3%,#fff4b5 3.9%,#feeca5 4.7%,#fee596 5.1%,#fee391 5.2%,#fed574 5.6%,#fec44f 5.9%,#fe9929 6.4%,#fe9929 6.4%,#f27d1b 6.9%,#ec7114 7.3%,#ef7718 7.7%,#f98e23 8.1%,#fe9929 8.3%,#fec44f 8.9%,#feca5b 9%,#fedb80 9.4%,#fee391 9.7%,#fee596 9.9%,#feeda6 10.7%,#fff2b2 12.5%,#feeba3 15%,#fff7bb 17.6%,#fff7bc 17.6%,#fffddb 20.6%,#ffffe5 36.4%,#ffffe5 100%)"></i><i style="left:552px;width:3px;background:linear-gradient(#fffcd4 0%,#fff7bc 3%,#fff4b5 3.9%,#feeda5 4.7%,#fee596 5.1%,#fee391 5.2%,#fed573 5.6%,#fec44f 5.9%,#fe9929 6.4%,#fd9828 6.4%,#f17c1a 6.9%,#ec7014 7.3%,#eb6f14 7.3%,#ec7014 7.3%,#ef7617 7.7%,#f98d23 8.1%,#fe9929 8.3%,#fec44f 8.9%,#feca5c 9%,#fedb80 9.4%,#fee391 9.7%,#fee696 9.9%,#ffeda7 10.7%,#fff3b3 12.5%,#feeca5 15%,#fff7bc 17.5%,#fff7bd 17.6%,#fffddc 20.6%,#ffffe5 36.4%,#ffffe5 100%)"></i><i style="left:555px;width:3px;background:linear-gradient(#fffcd4 0%,#fff7bc 3%,#fff4b5 3.9%,#feeda6 4.7%,#fee596 5.1%,#fee391 5.2%,#fed573 5.6%,#fec44f 5.9%,#fe9929 6.4%,#fd9628 6.4%,#f17a19 6.9%,#ec7014 7.2%,#ea6e13 7.3%,#ec7014 7.4%,#ee7517 7.7%,#f98d23 8.1%,#fe9929 8.3%,#fec44f 8.9%,#feca5c 9%,#fedc81 9.4%,#fee391 9.7%,#fee697 9.9%,#ffeea9 10.7%,#fff4b5 12.5%,#ffeda7 15%,#fff7bc 17.4%,#fff7be 17.6%,#fffddc 20.6%,#ffffe5 36.4%,#ffffe5 100%)"></i><i style="left:558px;width:3px;background:linear-gradient(#fffcd4 0%,#fff7bc 3%,#fff4b5 3.9%,#feeda6 4.7%,#fee596 5.1%,#fee391 5.2%,#fed573 5.6%,#fec44f 5.9%,#fe9929 6.4%,#fc9627 6.4%,#f07919 6.9%,#ec7014 7.2%,#e96d12 7.3%,#ec7014 7.5%,#ee7416 7.7%,#f88c23 8.1%,#fe9929 8.3%,#fec44f 8.9%,#fecb5d 9%,#fedc82 9.4%,#fee391 9.7%,#fee698 9.9%,#ffefaa 10.7%,#fff4b6 12.5%,#ffeea9 15%,#fff7bc 17%,#fffddc 20.6%,#ffffe5 36.4%,#ffffe5 100%)"></i><i style="left:561px;width:3px;background:linear-gradient(#fffcd4 0%,#fff7bc 3%,#fff4b5 3.9%,#feeda6 4.7%,#fee596 5.1%,#fee391 5.2%,#fed572 5.6%,#fec44f 5.9%,#fe9929 6.4%,#fc9527 6.4%,#f07818 6.9%,#ec7014 7.1%,#e96c12 7.3%,#ec7014 7.5%,#ed7316 7.7%,#f88c22 8.1%,#fe9929 8.3%,#fec44f 8.9%,#fecb5e 9%,#fedd83 9.4%,#fee391 9.7%,#fee799 9.9%,#ffefab 10.7%,#fff5b7 12.6%,#ffefab 15%,#fff7bc 16.9%,#fffddc 20.6%,#ffffe5 36.4%,#ffffe5 100%)"></i><i style="left:564px;width:3px;background:linear-gradient(#fffcd4 0%,#fff7bc 3.1%,#fff4b5 3.9%,#feeda6 4.7%,#fee596 5.1%,#fee391 5.2%,#fed572 5.6%,#fec44f 5.9%,#fe9929 6.4%,#fc9427 6.4%,#ef7718 6.9%,#ec7014 7.1%,#e86b12 7.3%,#ec7014 7.6%,#ed7315 7.7%,#f88c22 8.1%,#fe9929 8.3%,#fec44f 8.9%,#fecb5f 9%,#fedd84 9.4%,#fee391 9.6%,#fee799 9.9%,#ffefac 10.7%,#fff5b9 12.6%,#fff0ad 15%,#fff7bc 16.7%,#fffddc 20.6%,#ffffe5 36.4%,#ffffe5 100%)"></i><i style="left:567px;width:3px;background:linear-gradient(#fffcd4 0%,#fff7bc 3.1%,#fff4b6 3.9%,#fff1b0 4.3%,#feeda6 4.7%,#fee596 5.1%,#fee391 5.2%,#fed572 5.6%,#fec44f 5.9%,#fe9929 6.4%,#fc9426 6.4%,#ef7717 6.9%,#ec7014 7.1%,#e86b11 7.3%,#ec7014 7.6%,#ed7315 7.7%,#f88c22 8.1%,#fe9929 8.3%,#fec44f 8.9%,#fecc60 9%,#fede85 9.4%,#fee391 9.6%,#fee79a 9.9%,#fff0ad 10.7%,#fff6ba 12.6%,#fff1af 15%,#fff7bc 16.5%,#fffddd 20.6%,#ffffe5 36.4%,#ffffe5 100%)"></i><i style="left:570px;width:3px;background:linear-gradient(#fffcd4 0%,#fff7bc 3.1%,#fff4b6 3.9%,#feeda6 4.7%,#fee697 5.1%,#fee391 5.2%,#fed573 5.6%,#fec44f 5.9%,#fe9929 6.4%,#fc9426 6.4%,#ef7617 6.9%,#ec7014 7.1%,#e76b11 7.3%,#ec7014 7.6%,#ed7315 7.7%,#f88c23 8.1%,#fe9929 8.3%,#fec44f 8.9%,#fecc61 9%,#fede87 9.4%,#fee391 9.6%,#fee89b 9.9%,#fff0ad 10.7%,#fff7bb 12.6%,#fff2b1 15%,#fff7bc 16.3%,#fffddd 20.6%,#ffffe5 36.4%,#ffffe5 100%)"></i><i style="left:573px;width:3px;background:linear-gradient(#fffcd4 0%,#fff7bc 3.1%,#fff4b6 3.9%,#ffeda7 4.7%,#fee697 5.1%,#fee391 5.2%,#fed573 5.6%,#fec44f 5.9%,#fe9929 6.4%,#fc9426 6.4%,#ef7617 6.9%,#ec7014 7.1%,#e76b11 7.3%,#ec7014 7.6%,#ed7315 7.7%,#f98d23 8.1%,#fe9929 8.3%,#fec44f 8.8%,#fecd62 9%,#fedf88 9.4%,#fee391 9.6%,#fee89c 9.9%,#fff1ae 10.7%,#fff7bc 12.6%,#fff7bd 12.7%,#fff7bc 12.9%,#fff3b4 15%,#fff7bc 16.1%,#fffddd 20.6%,#ffffe5 36.4%,#ffffe5 100%)"></i><i style="left:576px;width:3px;background:linear-gradient(#fffcd4 0%,#fff7bc 3.1%,#fff4b6 3.9%,#ffeda7 4.7%,#fee697 5.1%,#fee391 5.3%,#fed573 5.6%,#fec44f 5.9%,#fe9929 6.4%,#fc9426 6.4%,#ef7717 6.9%,#ec7014 7.1%,#e86b11 7.3%,#ec7014 7.6%,#ed7316 7.7%,#f98d23 8.1%,#fe9929 8.3%,#fec44f 8.8%,#fece64 9%,#fee08a 9.4%,#fee391 9.6%,#fee99d 9.9%,#fff1af 10.7%,#fff7bc 12.4%,#fff7be 12.7%,#fff7bc 13.3%,#fff4b6 15%,#fff7bc 15.9%,#fffddd 20.6%,#ffffe5 36.4%,#ffffe5 100%)"></i><i style="left:579px;width:3px;background:linear-gradient(#fffcd5 0%,#fff7bc 3.2%,#fff4b6 3.9%,#ffeda7 4.7%,#fee698 5.1%,#fee391 5.3%,#fed574 5.6%,#fec44f 5.9%,#fe9929 6.4%,#fc9427 6.4%,#ef7718 6.9%,#ec7014 7.1%,#e86c12 7.3%,#ec7014 7.5%,#ee7416 7.7%,#f98e24 8.1%,#fe9929 8.3%,#fec44f 8.8%,#fece65 9%,#fee08b 9.4%,#fee391 9.5%,#fee99e 9.9%,#fff2b0 10.7%,#fff7bc 12.3%,#fff8bf 12.7%,#fff7bc 13.8%,#fff5b8 15%,#fff7bc 15.6%,#fffedd 20.6%,#ffffe5 36.4%,#ffffe5 100%)"></i><i style="left:582px;width:3px;background:linear-gradient(#fffcd5 0%,#fff7bc 3.2%,#fff4b7 3.9%,#ffeea8 4.7%,#fee698 5.1%,#fee391 5.3%,#fed675 5.6%,#fec44f 5.9%,#fe9929 6.4%,#fc9527 6.4%,#f07818 6.9%,#ec7014 7.1%,#e96c12 7.3%,#ec7014 7.5%,#ee7517 7.7%,#fa8f24 8.1%,#fe9929 8.3%,#fec44f 8.8%,#fecf67 9%,#fee18d 9.4%,#fee391 9.5%,#feea9f 9.9%,#fff2b1 10.7%,#fff7bc 12.1%,#fff8c1 12.7%,#fff7bc 14.3%,#fff6ba 15%,#fff7bc 15.3%,#fffede 20.6%,#ffffe5 36.4%,#ffffe5 100%)"></i><i style="left:585px;width:3px;background:linear-gradient(#fffcd5 0%,#fff7bc 3.2%,#fff5b7 3.9%,#ffeea8 4.7%,#fee799 5.1%,#fee391 5.3%,#fed676 5.6%,#fec44f 5.9%,#fe9929 6.4%,#fd9627 6.4%,#f07919 6.9%,#ec7014 7.2%,#ea6d13 7.3%,#ec7014 7.4%,#ef7617 7.7%,#fa9125 8.1%,#fe9929 8.3%,#fec44f 8.8%,#fed069 9%,#fee28e 9.4%,#fee391 9.5%,#feeaa0 9.9%,#fff3b2 10.7%,#fff7bc 12%,#fff8c2 12.8%,#fff7bc 15%,#fffede 20.6%,#ffffe5 36.4%,#ffffe5 100%)"></i><i style="left:588px;width:3px;background:linear-gradient(#fffcd5 0%,#fff7bc 3.2%,#fff5b7 3.9%,#ffeea9 4.7%,#fee799 5.1%,#fee391 5.3%,#fed777 5.6%,#fec44f 5.9%,#fe9929 6.4%,#fd9728 6.4%,#f17b19 6.9%,#ec7014 7.2%,#eb6f13 7.3%,#ec7014 7.3%,#f07818 7.7%,#fb9226 8.1%,#fe9929 8.2%,#fec44f 8.8%,#fed16b 9%,#fee390 9.4%,#fee391 9.4%,#feeba1 9.9%,#fff3b3 10.7%,#fff7bc 11.8%,#fff8c3 12.8%,#fff7be 15%,#fffede 20.6%,#ffffe5 36.4%,#ffffe5 100%)"></i><i style="left:591px;width:3px;background:linear-gradient(#fffcd5 0%,#fff7bc 3.3%,#fff5b7 3.9%,#ffefaa 4.7%,#fee79a 5.1%,#fee391 5.3%,#fed879 5.6%,#fec44f 5.9%,#fe9929 6.4%,#fe9929 6.4%,#f27d1a 6.9%,#ec7114 7.3%,#f07a19 7.7%,#fc9427 8.1%,#fe9929 8.2%,#fec44f 8.8%,#fed26d 9%,#fee391 9.4%,#fee392 9.4%,#feeba2 9.9%,#fff3b4 10.7%,#fff7bc 11.7%,#fff9c4 12.8%,#fff8c0 15%,#fffede 20.6%,#ffffe5 36.4%,#ffffe5 100%)"></i><i style="left:594px;width:3px;background:linear-gradient(#fffcd5 0%,#fff7bc 3.3%,#fff5b8 3.9%,#ffefaa 4.7%,#fee79b 5.1%,#fee391 5.3%,#fed87a 5.6%,#fec44f 5.9%,#fe9b2b 6.4%,#fe9929 6.5%,#f27f1c 6.9%,#ed7316 7.3%,#f17d1a 7.7%,#fd9728 8.1%,#fe9929 8.2%,#fec44f 8.7%,#fed370 9%,#fee391 9.4%,#fee493 9.4%,#feeca4 9.9%,#fff4b5 10.7%,#fff7bc 11.6%,#fff9c6 12.9%,#fff8c2 15%,#fffede 20.6%,#ffffe5 36.4%,#ffffe5 100%)"></i><i style="left:597px;width:3px;background:linear-gradient(#fffcd5 0%,#fff7bc 3.3%,#fff5b8 3.9%,#ffefab 4.7%,#fee89b 5.1%,#fee391 5.3%,#fed97c 5.6%,#fec44f 5.9%,#fe9d2d 6.4%,#fe9929 6.5%,#f4811d 6.9%,#ef7617 7.3%,#f37f1c 7.7%,#fe9929 8.1%,#fe9929 8.1%,#fec44f 8.7%,#fed472 9%,#fee391 9.4%,#fee594 9.4%,#feeca5 9.9%,#fff4b6 10.7%,#fff7bc 11.5%,#fff9c6 12.9%,#fff8c3 15%,#fffede 20.6%,#ffffe5 36.4%,#ffffe5 100%)"></i></div>
<div class="fld" style="left:359px;top:549.9px;width:598px;height:232.7px"><i style="left:0px;width:15px;background:linear-gradient(#ff00db 0%,#ff00ff 0.3%,#b400ff 1.1%,#0000ff 1.5%,#0061ff 1.7%,#00ffff 1.9%,#00ff00 2.3%,#1cff00 2.4%,#5aff00 6%,#60ff00 9.9%,#a5ff00 14.2%,#c1ff00 17.2%,#c1ff00 20.2%,#53ff00 25.3%,#22ff00 28.3%,#1cff00 31.7%,#37ff00 36%,#f1ff00 50.2%,#ffff00 53.3%,#fff800 54.9%,#ffea00 64.3%,#ffea00 100%)"></i><i style="left:15px;width:3px;background:linear-gradient(#ff00db 0%,#ff00ff 0.3%,#b400ff 1.1%,#0000ff 1.5%,#0061ff 1.7%,#00ffff 1.9%,#00ff00 2.3%,#1bff00 2.4%,#59ff00 6%,#60ff00 9.9%,#d6ff00 17.2%,#ccff00 20.2%,#56ff00 25.3%,#22ff00 28.3%,#1cff00 31.7%,#37ff00 36%,#f1ff00 50.2%,#ffff00 53.3%,#fff800 54.9%,#ffea00 64.3%,#ffea00 100%)"></i><i style="left:18px;width:3px;background:linear-gradient(#ff00db 0%,#ff00ff 0.3%,#b400ff 1.1%,#0000ff 1.5%,#0061ff 1.7%,#00ffff 1.9%,#00ff00 2.3%,#1bff00 2.4%,#58ff00 6%,#5fff00 9.9%,#b1ff00 14.2%,#ffff00 17.2%,#e3ff00 20.2%,#5eff00 25.3%,#22ff00 28.3%,#1cff00 31.7%,#37ff00 36%,#f1ff00 50.2%,#ffff00 53.3%,#fff800 54.9%,#ffea00 64.3%,#ffea00 100%)"></i><i style="left:21px;width:3px;background:linear-gradient(#ff00db 0%,#ff00ff 0.3%,#b400ff 1.1%,#0000ff 1.5%,#0061ff 1.7%,#00ffff 1.9%,#00ff00 2.3%,#1aff00 2.4%,#57ff00 6%,#5dff00 9.9%,#6bff00 10.7%,#b8ff00 14.2%,#ffff00 16%,#ffd600 17.2%,#ffff00 19.8%,#f9ff00 20.2%,#65ff00 25.3%,#22ff00 28.3%,#1cff00 31.7%,#37ff00 36%,#f1ff00 50.2%,#ffff00 53.3%,#fff800 54.9%,#ffea00 64.3%,#ffea00 100%)"></i><i style="left:24px;width:3px;background:linear-gradient(#ff00db 0%,#ff00ff 0.3%,#b400ff 1.1%,#0000ff 1.5%,#0061ff 1.7%,#00ffff 1.9%,#00ff00 2.3%,#19ff00 2.4%,#56ff00 6%,#5cff00 9.9%,#6aff00 10.7%,#c0ff00 14.2%,#ffff00 15.5%,#ffac00 17.2%,#ffee00 20.2%,#ffff00 20.7%,#6dff00 25.3%,#22ff00 28.3%,#1cff00 31.7%,#37ff00 36%,#f1ff00 50.2%,#ffff00 53.3%,#fff800 54.9%,#ffea00 64.3%,#ffea00 100%)"></i><i style="left:27px;width:3px;background:linear-gradient(#ff00db 0%,#ff00ff 0.3%,#b400ff 1.1%,#0000ff 1.5%,#0061ff 1.7%,#00ffff 1.9%,#00ff00 2.3%,#19ff00 2.4%,#54ff00 6%,#5bff00 9.9%,#68ff00 10.7%,#c3ff00 14.2%,#ffff00 15.3%,#ffa400 17.2%,#ffea00 20.2%,#ffff00 20.8%,#6eff00 25.3%,#22ff00 28.3%,#1bff00 31.7%,#37ff00 36%,#f1ff00 50.2%,#ffff00 53.1%,#fff700 54.9%,#ffe900 64.3%,#ffe600 100%)"></i><i style="left:30px;width:3px;background:linear-gradient(#ff00db 0%,#ff00ff 0.3%,#b400ff 1.1%,#0000ff 1.5%,#0061ff 1.7%,#00ffff 1.9%,#00ff00 2.3%,#18ff00 2.4%,#53ff00 6%,#59ff00 9.9%,#67ff00 10.7%,#c6ff00 14.2%,#ffff00 15.3%,#ffa300 17.2%,#ffe900 20.2%,#ffff00 20.8%,#6eff00 25.3%,#22ff00 28.3%,#1bff00 31.7%,#36ff00 36%,#f2ff00 50.2%,#ffff00 52.9%,#fff600 54.9%,#ffe700 64.3%,#ffe000 100%)"></i><i style="left:33px;width:3px;background:linear-gradient(#ff00db 0%,#ff00ff 0.3%,#b400ff 1.1%,#0000ff 1.5%,#0061ff 1.7%,#00ffff 1.9%,#00ff00 2.3%,#17ff00 2.4%,#52ff00 6%,#58ff00 9.9%,#66ff00 10.7%,#c9ff00 14.2%,#ffff00 15.3%,#ffa200 17.2%,#ffe800 20.2%,#ffff00 20.8%,#6eff00 25.3%,#22ff00 28.3%,#1aff00 31.7%,#35ff00 36%,#f2ff00 50.2%,#ffff00 52.7%,#fff400 54.9%,#ffe500 64.3%,#ffdb00 100%)"></i><i style="left:36px;width:3px;background:linear-gradient(#ff00db 0%,#ff00ff 0.3%,#b400ff 1.1%,#0000ff 1.5%,#0061ff 1.7%,#00ffff 1.9%,#00ff00 2.3%,#17ff00 2.4%,#51ff00 6%,#57ff00 9.9%,#64ff00 10.7%,#cbff00 14.2%,#ffff00 15.2%,#ffa000 17.2%,#ffe800 20.2%,#ffff00 20.9%,#6eff00 25.3%,#22ff00 28.3%,#19ff00 31.7%,#35ff00 36%,#f3ff00 50.2%,#ffff00 52.6%,#fff300 54.9%,#ffe300 64.3%,#ffd600 100%)"></i><i style="left:39px;width:3px;background:linear-gradient(#ff00db 0%,#ff00ff 0.3%,#b400ff 1.1%,#0000ff 1.5%,#0061ff 1.7%,#00ffff 1.9%,#00ff00 2.3%,#16ff00 2.4%,#50ff00 6%,#55ff00 9.9%,#63ff00 10.7%,#ceff00 14.2%,#ffff00 15.2%,#ff9f00 17.2%,#ffe700 20.2%,#ffff00 20.9%,#6eff00 25.3%,#22ff00 28.3%,#19ff00 31.7%,#34ff00 36%,#f3ff00 50.2%,#ffff00 52.4%,#fff200 54.9%,#ffe000 64.3%,#ffd000 100%)"></i><i style="left:42px;width:3px;background:linear-gradient(#ff00db 0%,#ff00ff 0.3%,#b400ff 1.1%,#0000ff 1.5%,#0061ff 1.7%,#00ffff 1.9%,#00ff00 2.3%,#15ff00 2.4%,#4fff00 6%,#54ff00 9.9%,#62ff00 10.7%,#d1ff00 14.2%,#ffff00 15.1%,#ff9d00 17.2%,#ffe600 20.2%,#ffff00 20.9%,#6eff00 25.3%,#22ff00 28.3%,#18ff00 31.7%,#33ff00 36%,#f3ff00 50.2%,#ffff00 52.3%,#fff000 54.9%,#ffde00 64.3%,#ffcb00 100%)"></i><i style="left:45px;width:3px;background:linear-gradient(#ff00db 0%,#ff00ff 0.3%,#b400ff 1.1%,#0000ff 1.5%,#0061ff 1.7%,#00ffff 1.9%,#00ff00 2.3%,#15ff00 2.4%,#4eff00 6%,#53ff00 9.9%,#60ff00 10.7%,#d4ff00 14.2%,#ffff00 15.1%,#ff9c00 17.2%,#ffe600 20.2%,#ffff00 20.9%,#6eff00 25.3%,#22ff00 28.3%,#18ff00 31.7%,#33ff00 36%,#f5ff00 50.2%,#ffff00 52%,#ffef00 54.9%,#ffdc00 64.3%,#ffc500 100%)"></i><i style="left:48px;width:3px;background:linear-gradient(#ff00db 0%,#ff00ff 0.3%,#b400ff 1.1%,#0000ff 1.5%,#0061ff 1.7%,#00ffff 1.9%,#00ff00 2.3%,#14ff00 2.4%,#4cff00 6%,#51ff00 9.9%,#5fff00 10.7%,#d6ff00 14.2%,#ffff00 15%,#ff9b00 17.2%,#ffe500 20.2%,#ffff00 20.9%,#6eff00 25.3%,#22ff00 28.3%,#17ff00 31.7%,#32ff00 36%,#f7ff00 50.2%,#ffff00 51.6%,#ffeb00 54.9%,#ffc000 100%)"></i><i style="left:51px;width:3px;background:linear-gradient(#ff00db 0%,#ff00ff 0.3%,#b400ff 1.1%,#0000ff 1.5%,#0061ff 1.7%,#00ffff 1.9%,#00ff00 2.3%,#13ff00 2.4%,#4bff00 6%,#50ff00 9.9%,#68ff00 11.1%,#d9ff00 14.2%,#ffff00 15%,#ff9900 17.2%,#ffe400 20.2%,#ffff00 21%,#cdff00 22.7%,#6eff00 25.3%,#22ff00 28.3%,#17ff00 31.7%,#31ff00 36%,#f9ff00 50.2%,#ffff00 51.1%,#ffe800 54.9%,#ffba00 100%)"></i><i style="left:54px;width:3px;background:linear-gradient(#ff00db 0%,#ff00ff 0.3%,#b400ff 1.1%,#0000ff 1.5%,#0061ff 1.7%,#00ffff 1.9%,#00ff00 2.3%,#13ff00 2.4%,#4aff00 6%,#4fff00 9.9%,#66ff00 11.1%,#dcff00 14.2%,#ffff00 14.9%,#ff9800 17.2%,#ffe400 20.2%,#ffff00 21.1%,#ceff00 22.7%,#6eff00 25.3%,#22ff00 28.3%,#16ff00 31.7%,#32ff00 36%,#fcff00 50.2%,#ffff00 50.6%,#ffe400 54.9%,#ffb500 100%)"></i><i style="left:57px;width:3px;background:linear-gradient(#ff00db 0%,#ff00ff 0.3%,#b400ff 1.1%,#0000ff 1.5%,#0061ff 1.7%,#00ffff 1.9%,#00ff00 2.3%,#12ff00 2.4%,#49ff00 6%,#4dff00 9.9%,#64ff00 11.1%,#ffff00 14.7%,#ff9700 17.2%,#ffff00 21%,#d0ff00 22.7%,#6eff00 25.3%,#22ff00 28.3%,#16ff00 31.7%,#31ff00 36%,#ffff00 50.1%,#fffe00 50.2%,#ffde00 54.9%,#ffb000 100%)"></i><i style="left:60px;width:3px;background:linear-gradient(#ff00db 0%,#ff00ff 0.3%,#b400ff 1.1%,#0000ff 1.5%,#0061ff 1.7%,#00ffff 1.9%,#00ff00 2.3%,#11ff00 2.4%,#48ff00 6%,#4cff00 9.9%,#63ff00 11.1%,#ffff00 14.7%,#ff9500 17.2%,#ffff00 21%,#d1ff00 22.7%,#6eff00 25.3%,#22ff00 28.3%,#15ff00 31.7%,#2fff00 36%,#ffff00 49.8%,#fffa00 50.2%,#ffd700 54.9%,#ffaa00 100%)"></i><i style="left:63px;width:3px;background:linear-gradient(#ff00db 0%,#ff00ff 0.3%,#b400ff 1.1%,#0000ff 1.5%,#0061ff 1.7%,#00ffff 2%,#00ff00 2.3%,#11ff00 2.4%,#47ff00 6%,#4bff00 9.9%,#61ff00 11.1%,#ffff00 14.7%,#ff9400 17.2%,#ffff00 21.1%,#d2ff00 22.7%,#6eff00 25.3%,#22ff00 28.3%,#15ff00 31.7%,#2eff00 36%,#ffff00 49.6%,#fff600 50.2%,#ffcf00 54.9%,#ffa500 100%)"></i><i style="left:66px;width:3px;background:linear-gradient(#ff00db 0%,#ff00ff 0.3%,#b400ff 1.1%,#0000ff 1.5%,#0061ff 1.7%,#00ffff 2%,#00ff00 2.3%,#10ff00 2.4%,#45ff00 6%,#4aff00 9.9%,#5fff00 11.1%,#ffff00 14.7%,#ff9300 17.2%,#ffff00 21.1%,#d4ff00 22.7%,#6eff00 25.3%,#22ff00 28.3%,#14ff00 31.7%,#2eff00 36%,#ffff00 49.4%,#fff300 50.2%,#ffc700 54.9%,#ff9f00 100%)"></i><i style="left:69px;width:3px;background:linear-gradient(#ff00db 0%,#ff00ff 0.3%,#b400ff 1.1%,#0000ff 1.5%,#0061ff 1.7%,#00ffff 2%,#00ff00 2.3%,#0fff00 2.4%,#44ff00 6%,#48ff00 9.9%,#5eff00 11.1%,#ffff00 14.7%,#ff9100 17.2%,#ffff00 21.2%,#d5ff00 22.7%,#6eff00 25.3%,#22ff00 28.3%,#14ff00 31.7%,#2dff00 36%,#ffff00 49.3%,#fff100 50.2%,#ffbf00 54.9%,#ffab00 61.7%,#ffb400 75.5%,#ff9a00 100%)"></i><i style="left:72px;width:3px;background:linear-gradient(#ff00db 0%,#ff00ff 0.3%,#b400ff 1.1%,#0000ff 1.5%,#0061ff 1.7%,#00ffff 2%,#00ff00 2.3%,#0fff00 2.4%,#43ff00 6%,#47ff00 9.9%,#5cff00 11.1%,#ffff00 14.7%,#ff9000 17.2%,#ffff00 21.2%,#d6ff00 22.7%,#6eff00 25.3%,#22ff00 28.3%,#13ff00 31.7%,#2cff00 36%,#ffff00 49.3%,#fff100 50.2%,#ffb900 54.9%,#ffaa00 57.5%,#ff9a00 63%,#ffac00 76.8%,#ff9400 100%)"></i><i style="left:75px;width:3px;background:linear-gradient(#ff00db 0%,#ff00ff 0.3%,#b400ff 1.1%,#0000ff 1.5%,#0061ff 1.7%,#00ffff 2%,#00ff00 2.3%,#0eff00 2.4%,#42ff00 6%,#46ff00 9.9%,#5aff00 11.1%,#efff00 14.2%,#ffff00 14.5%,#ff8f00 17.2%,#ffff00 21.3%,#d8ff00 22.7%,#6eff00 25.3%,#22ff00 28.3%,#12ff00 31.7%,#2cff00 36%,#ffff00 49.3%,#fff200 50.2%,#ffb600 54.9%,#ff9600 59.6%,#ff8900 64.8%,#ffa400 78.9%,#ff8f00 100%)"></i><i style="left:78px;width:3px;background:linear-gradient(#ff00db 0%,#ff00ff 0.3%,#b400ff 1.1%,#0000ff 1.5%,#0061ff 1.7%,#00ffff 2%,#00ff00 2.3%,#0dff00 2.4%,#41ff00 6%,#44ff00 9.9%,#59ff00 11.1%,#f1ff00 14.2%,#ffff00 14.5%,#ff8d00 17.2%,#ffff00 21.3%,#d9ff00 22.7%,#6eff00 25.3%,#22ff00 28.3%,#12ff00 31.7%,#2bff00 36%,#ffff00 49.5%,#fff500 50.2%,#ffb600 54.9%,#ff8100 61.7%,#ff7900 66.9%,#ff9c00 80.2%,#ff8a00 100%)"></i><i style="left:81px;width:3px;background:linear-gradient(#ff00db 0%,#ff00ff 0.3%,#b400ff 1.1%,#0000ff 1.5%,#0061ff 1.7%,#00ffff 2%,#00ff00 2.3%,#0dff00 2.4%,#40ff00 6%,#43ff00 9.9%,#57ff00 11.1%,#f4ff00 14.2%,#ffff00 14.4%,#ff8c00 17.2%,#ffff00 21.4%,#dbff00 22.7%,#6eff00 25.3%,#22ff00 28.3%,#11ff00 31.7%,#2aff00 36%,#ffff00 50.2%,#ffb900 54.9%,#ff6f00 63.5%,#ff6800 68.2%,#ff9500 83.2%,#ff8400 100%)"></i><i style="left:84px;width:3px;background:linear-gradient(#ff00db 0%,#ff00ff 0.3%,#b400ff 1.1%,#0000ff 1.5%,#0061ff 1.7%,#00ffff 2%,#00ff00 2.3%,#0cff00 2.4%,#3fff00 6%,#42ff00 9.9%,#55ff00 11.1%,#f7ff00 14.2%,#ffff00 14.3%,#ff8b00 17.2%,#ffff00 21.4%,#dcff00 22.7%,#6eff00 25.3%,#22ff00 28.3%,#11ff00 31.7%,#2aff00 36%,#ffff00 50.5%,#ffbd00 54.9%,#ff6100 64.8%,#ff5900 69.9%,#ff8d00 84.5%,#ff7f00 100%)"></i><i style="left:87px;width:3px;background:linear-gradient(#ff00db 0%,#ff00ff 0.3%,#b400ff 1.1%,#0000ff 1.5%,#0061ff 1.7%,#00ffff 2%,#00ff00 2.3%,#0bff00 2.4%,#3dff00 6%,#40ff00 9.9%,#54ff00 11.1%,#f1ff00 14.2%,#ffff00 14.5%,#ff8f00 17.2%,#ffff00 21.4%,#ddff00 22.7%,#6eff00 25.3%,#22ff00 28.3%,#11ff00 31.7%,#29ff00 36%,#bcff00 45.5%,#ffff00 50.4%,#ffc300 54.9%,#ff5400 66.7%,#ff4f00 71.8%,#ff8800 85.5%,#ff7c00 100%)"></i><i style="left:90px;width:3px;background:linear-gradient(#ff00db 0%,#ff00ff 0.3%,#b400ff 1.1%,#0000ff 1.5%,#0061ff 1.7%,#00ffff 2%,#00ff00 2.3%,#0bff00 2.4%,#3cff00 6%,#3eff00 9.9%,#4fff00 11.1%,#e3ff00 14.2%,#ffff00 14.8%,#ff9c00 17.3%,#ffff00 21.3%,#ddff00 22.7%,#6eff00 25.3%,#22ff00 28.3%,#11ff00 31.7%,#29ff00 36%,#feff00 50.2%,#ffff00 50.3%,#ffc800 54.9%,#ff4e00 68%,#ff4700 73.1%,#ff8600 86.8%,#ff7c00 100%)"></i><i style="left:93px;width:3px;background:linear-gradient(#ff00db 0%,#ff00ff 0.3%,#b400ff 1.1%,#0000ff 1.5%,#0061ff 1.7%,#00ffff 2%,#00ff00 2.3%,#0aff00 2.4%,#3bff00 6%,#3bff00 9.9%,#4aff00 11.1%,#ffff00 15.3%,#ffa800 17.4%,#ffff00 21.2%,#ddff00 22.7%,#6eff00 25.3%,#22ff00 28.3%,#11ff00 31.7%,#29ff00 36%,#fdff00 50.2%,#ffff00 50.4%,#ffcc00 54.9%,#ff4a00 69.7%,#ff4500 74.8%,#ff8400 88.1%,#ff7c00 100%)"></i><i style="left:96px;width:3px;background:linear-gradient(#ff00db 0%,#ff00ff 0.3%,#b400ff 1.1%,#0000ff 1.5%,#0061ff 1.7%,#00ffff 2%,#00ff00 2.3%,#0aff00 2.4%,#3aff00 6%,#36ff00 9.9%,#42ff00 11.1%,#ffff00 15.7%,#ffb600 17.4%,#ffe600 20.3%,#ffff00 21.3%,#ddff00 22.7%,#6eff00 25.3%,#22ff00 28.3%,#11ff00 31.7%,#29ff00 36%,#fcff00 50.2%,#ffff00 50.4%,#ffcf00 54.9%,#ffaf00 60.2%,#ff4c00 71%,#ff4600 76.5%,#ff8200 89.4%,#ff7c00 100%)"></i><i style="left:99px;width:3px;background:linear-gradient(#ff00db 0%,#ff00ff 0.3%,#b400ff 1.1%,#0000ff 1.5%,#0061ff 1.7%,#00ffff 2%,#00ff00 2.3%,#09ff00 2.4%,#39ff00 6%,#37ff00 11.1%,#86ff00 13.5%,#ffff00 16.2%,#ffc500 17.5%,#ffe900 20.3%,#ffff00 21.3%,#ddff00 22.7%,#6eff00 25.3%,#22ff00 28.3%,#11ff00 31.7%,#29ff00 36%,#baff00 45.5%,#ffff00 51.1%,#ffd000 54.9%,#ffb200 61.1%,#ff5000 72.7%,#ff4a00 77.8%,#ff7f00 90.3%,#ff7c00 100%)"></i><i style="left:102px;width:3px;background:linear-gradient(#ff00db 0%,#ff00ff 0.3%,#b400ff 1.1%,#0000ff 1.5%,#0061ff 1.7%,#00ffff 2%,#00ff00 2.3%,#08ff00 2.4%,#38ff00 6%,#29ff00 11.1%,#77ff00 13.9%,#ffff00 16.7%,#ffd500 17.6%,#ffeb00 20.4%,#ffff00 21.2%,#ddff00 22.7%,#6eff00 25.3%,#22ff00 28.3%,#11ff00 31.7%,#29ff00 36%,#fcff00 50.2%,#ffff00 50.5%,#ffd000 54.9%,#ffb200 62.4%,#ff5a00 73.5%,#ff4f00 78.7%,#ff7d00 90.7%,#ff7c00 100%)"></i><i style="left:105px;width:3px;background:linear-gradient(#ff00db 0%,#ff00ff 0.3%,#b400ff 1.1%,#0000ff 1.5%,#0061ff 1.7%,#00ffff 2%,#00ff00 2.3%,#08ff00 2.4%,#37ff00 6%,#1aff00 11.1%,#2fff00 12.7%,#66ff00 14.4%,#ffff00 17.2%,#ffe400 17.7%,#ffef00 20.4%,#ffff00 21.1%,#ddff00 22.7%,#6eff00 25.3%,#22ff00 28.3%,#11ff00 31.7%,#29ff00 36%,#fdff00 50.2%,#ffff00 50.4%,#ffcf00 55.1%,#ffb700 62.8%,#ff5900 77.8%,#ff7c00 92%,#ff7b00 100%)"></i><i style="left:108px;width:3px;background:linear-gradient(#ff00db 0%,#ff00ff 0.3%,#b400ff 1.1%,#0000ff 1.5%,#0061ff 1.7%,#00ffff 2%,#00ff00 2.3%,#07ff00 2.4%,#35ff00 6%,#2eff00 8.4%,#0cff00 11.1%,#1cff00 13.1%,#5bff00 14.8%,#ffff00 17.6%,#fff300 17.8%,#fff800 20.8%,#ffff00 21.1%,#ddff00 22.7%,#6eff00 25.3%,#22ff00 28.3%,#11ff00 31.7%,#29ff00 36%,#feff00 50.2%,#ffff00 50.3%,#ffce00 54.9%,#ffb700 64.1%,#ff6300 79.5%,#ff7b00 93.3%,#ff7a00 100%)"></i><i style="left:111px;width:3px;background:linear-gradient(#ff00db 0%,#ff00ff 0.3%,#b400ff 1.1%,#0000ff 1.5%,#0061ff 1.7%,#00ffff 2%,#00ff00 2.3%,#06ff00 2.4%,#35ff00 6.6%,#28ff00 8.8%,#03ff00 11.1%,#09ff00 13.1%,#2fff00 14.4%,#fcff00 17.8%,#ffff00 18%,#fffa00 18.2%,#fff900 20.8%,#ffff00 21.1%,#ddff00 22.7%,#6eff00 25.3%,#22ff00 28.3%,#11ff00 31.7%,#29ff00 36%,#ffff00 50.2%,#ffff00 50.2%,#ffcb00 54.9%,#ffb900 65%,#ff6e00 80.8%,#ff7900 100%)"></i><i style="left:114px;width:3px;background:linear-gradient(#ff00db 0%,#ff00ff 0.3%,#b400ff 1.1%,#0000ff 1.5%,#0061ff 1.7%,#00ffff 2%,#00ff00 2.3%,#06ff00 2.4%,#33ff00 6.6%,#27ff00 8.8%,#02ff00 11.1%,#01ff00 13.1%,#24ff00 14.4%,#d7ff00 17.4%,#faff00 18.2%,#ffff00 19.6%,#fffb00 20.8%,#ffff00 21%,#ddff00 22.7%,#6eff00 25.3%,#22ff00 28.3%,#11ff00 31.7%,#29ff00 36%,#ffff00 50.1%,#fffe00 50.2%,#ffc800 54.9%,#ffba00 65.8%,#ff7700 83%,#ff7800 100%)"></i><i style="left:117px;width:3px;background:linear-gradient(#ff00db 0%,#ff00ff 0.3%,#b400ff 1.1%,#0000ff 1.5%,#0061ff 1.7%,#00ffff 2%,#00ff00 2.4%,#05ff00 2.4%,#32ff00 6.6%,#27ff00 8.8%,#07ff00 11.1%,#08ff00 13.1%,#28ff00 14.4%,#f2ff00 18%,#fbff00 18.7%,#ffff00 20%,#fffc00 20.8%,#ffff00 20.9%,#ddff00 22.7%,#6eff00 25.3%,#22ff00 28.3%,#11ff00 31.7%,#29ff00 36%,#ffff00 50.1%,#fffe00 50.2%,#ffc400 54.9%,#ffc200 63.7%,#ff7e00 85.1%,#ff7800 100%)"></i><i style="left:120px;width:3px;background:linear-gradient(#ff00db 0%,#ff00ff 0.3%,#b400ff 1.1%,#0000ff 1.5%,#0061ff 1.7%,#00ffff 2%,#00ff00 2.4%,#04ff00 2.4%,#31ff00 6%,#2bff00 8.4%,#11ff00 11.1%,#21ff00 13.1%,#44ff00 14.4%,#fcff00 17.9%,#ffff00 18.6%,#fff600 20.6%,#ffff00 21%,#ddff00 22.7%,#6eff00 25.3%,#22ff00 28.3%,#11ff00 31.7%,#29ff00 36%,#ffff00 50.1%,#fffd00 50.2%,#ffc100 54.9%,#ffbf00 66.3%,#ff8700 86.4%,#ff7b00 100%)"></i><i style="left:123px;width:3px;background:linear-gradient(#ff00db 0%,#ff00ff 0.3%,#b400ff 1.1%,#0000ff 1.5%,#0061ff 1.7%,#00ffff 2%,#00ff00 2.4%,#04ff00 2.4%,#30ff00 6%,#1eff00 11.1%,#2dff00 12.2%,#5bff00 14.2%,#ffff00 17.7%,#fff700 17.9%,#fff500 20.5%,#ffff00 21%,#ddff00 22.7%,#6eff00 25.3%,#22ff00 28.3%,#11ff00 31.7%,#29ff00 36%,#ffff00 50.5%,#ffbd00 54.9%,#ffc600 60.2%,#ffbd00 68.8%,#ff7d00 100%)"></i><i style="left:126px;width:3px;background:linear-gradient(#ff00db 0%,#ff00ff 0.3%,#b400ff 1.1%,#0000ff 1.5%,#0061ff 1.7%,#00ffff 2%,#00ff00 2.4%,#03ff00 2.4%,#2fff00 6%,#28ff00 11.1%,#78ff00 14.2%,#ffff00 17.3%,#ffeb00 17.8%,#fff400 20.5%,#ffff00 21.1%,#ddff00 22.7%,#6eff00 25.3%,#22ff00 28.3%,#11ff00 31.7%,#29ff00 36%,#ffff00 50.3%,#ffba00 54.9%,#ffc600 60.7%,#ffbc00 71.8%,#ff8000 100%)"></i><i style="left:129px;width:3px;background:linear-gradient(#ff00db 0%,#ff00ff 0.3%,#b400ff 1.1%,#0000ff 1.5%,#0061ff 1.7%,#00ffff 2%,#00ff00 2.4%,#02ff00 2.4%,#2dff00 6%,#30ff00 11.1%,#88ff00 13.9%,#ffff00 17%,#ffe100 17.7%,#fff200 20.5%,#ffff00 21.1%,#ddff00 22.7%,#6eff00 25.3%,#22ff00 28.3%,#11ff00 31.7%,#29ff00 36%,#ffff00 50.1%,#ffb600 54.9%,#ffc600 61.5%,#ffbd00 74.8%,#ff8400 100%)"></i><i style="left:132px;width:3px;background:linear-gradient(#ff00db 0%,#ff00ff 0.3%,#b400ff 1.1%,#0000ff 1.5%,#0061ff 1.7%,#00ffff 2%,#00ff00 2.4%,#02ff00 2.4%,#2cff00 6%,#2aff00 9.9%,#35ff00 11.1%,#ffff00 16.6%,#ffd700 17.7%,#fff100 20.5%,#ffff00 21.1%,#ddff00 22.7%,#6eff00 25.3%,#22ff00 28.3%,#11ff00 31.7%,#29ff00 36%,#ffff00 49.9%,#ffb200 54.9%,#ffc600 60.7%,#ffbe00 78.7%,#ff8700 100%)"></i><i style="left:135px;width:3px;background:linear-gradient(#ff00db 0%,#ff00ff 0.3%,#b400ff 1.1%,#0000ff 1.5%,#0061ff 1.7%,#00ffff 2%,#00ff00 2.4%,#01ff00 2.4%,#2bff00 6%,#2aff00 9.9%,#37ff00 11.1%,#ffff00 16.4%,#ffcf00 17.6%,#fff000 20.5%,#ffff00 21.2%,#ddff00 22.7%,#6eff00 25.3%,#22ff00 28.3%,#11ff00 31.7%,#29ff00 36%,#ffff00 49.7%,#ffad00 54.9%,#ffc700 62%,#ffc100 81.5%,#ff8b00 100%)"></i><i style="left:138px;width:3px;background:linear-gradient(#ff00db 0%,#ff00ff 0.3%,#b400ff 1.1%,#0000ff 1.5%,#0061ff 1.7%,#00ffff 2%,#00ff00 2.4%,#00ff00 2.4%,#2aff00 6%,#2aff00 9.9%,#38ff00 11.1%,#b9ff00 14.2%,#ffff00 16%,#ffc700 17.5%,#ffee00 20.4%,#ffff00 21.2%,#ddff00 22.7%,#6eff00 25.3%,#22ff00 28.3%,#11ff00 31.7%,#29ff00 36%,#ffff00 49.5%,#ffaa00 54.9%,#ffc700 61.1%,#ffc700 81.5%,#ff8e00 100%)"></i><i style="left:141px;width:3px;background:linear-gradient(#ff00db 0%,#ff00ff 0.3%,#b400ff 1.1%,#0000ff 1.5%,#0061ff 1.7%,#00ffff 2%,#00ff02 2.4%,#00ff00 2.6%,#24ff00 6.2%,#12ff00 9.8%,#28ff00 10.3%,#33ff00 11.1%,#c2ff00 14.2%,#ffff00 15.8%,#ffc000 17.5%,#ffed00 20.4%,#ffff00 21.2%,#ddff00 22.7%,#6eff00 25.3%,#22ff00 28.3%,#11ff00 31.7%,#29ff00 36%,#eeff00 48.9%,#ffff00 49.9%,#ffa600 54.9%,#ffc700 60.9%,#ffcd00 80.6%,#ff9300 100%)"></i><i style="left:144px;width:3px;background:linear-gradient(#ff00db 0%,#ff00ff 0.3%,#b400ff 1.1%,#0000ff 1.5%,#0061ff 1.7%,#00ffff 2%,#00ff06 2.4%,#00ff00 3.2%,#1aff00 6.6%,#00ff00 8.1%,#00ff1e 9.8%,#00ff00 10.1%,#19ff00 10.3%,#2bff00 10.7%,#2bff00 11.1%,#c9ff00 14.2%,#ffff00 15.6%,#ffb900 17.4%,#ffff00 21%,#ddff00 22.7%,#6eff00 25.3%,#22ff00 28.3%,#11ff00 31.7%,#29ff00 36%,#eeff00 48.9%,#ffff00 49.8%,#ffa300 54.9%,#ffc800 60.9%,#ffd400 79.3%,#ff9500 100%)"></i><i style="left:147px;width:3px;background:linear-gradient(#ff00db 0%,#ff00ff 0.3%,#b400ff 1.1%,#0000ff 1.5%,#0061ff 1.7%,#00ffff 2%,#00ff0a 2.4%,#00ff00 4.2%,#10ff00 7%,#00ff00 7.4%,#00ff4d 9.4%,#00ff4d 9.8%,#00ff00 10.2%,#09ff00 10.3%,#22ff00 10.7%,#22ff00 11.1%,#d0ff00 14.2%,#ffff00 15.4%,#ffb200 17.4%,#ffff00 21.1%,#ddff00 22.7%,#6eff00 25.3%,#22ff00 28.3%,#11ff00 31.7%,#29ff00 36%,#eeff00 48.9%,#ffff00 49.8%,#ffa000 54.9%,#ffc800 60.9%,#ffdb00 78.5%,#ff9700 100%)"></i><i style="left:150px;width:3px;background:linear-gradient(#ff00db 0%,#ff00ff 0.3%,#b400ff 1.1%,#0000ff 1.5%,#0061ff 1.7%,#00ffff 2%,#00ff0e 2.4%,#00ff00 6%,#05ff00 7.4%,#00ff00 7.4%,#00ff7c 9.3%,#00ff7c 9.8%,#00ff06 10.3%,#00ff00 10.4%,#1aff00 10.7%,#1aff00 11.1%,#d4ff00 14.2%,#ffff00 15.3%,#ffae00 17.4%,#ffff00 21.2%,#deff00 22.7%,#6eff00 25.3%,#22ff00 28.3%,#11ff00 31.7%,#29ff00 36%,#eeff00 48.9%,#ffff00 49.8%,#ff9f00 54.9%,#ffc800 60.5%,#ffe100 78%,#ffdf00 81.5%,#ff9500 100%)"></i><i style="left:153px;width:3px;background:linear-gradient(#ff00db 0%,#ff00ff 0.3%,#b400ff 1.1%,#0000ff 1.5%,#0061ff 1.7%,#00ffff 2%,#00ff13 2.4%,#00ff05 7.7%,#00ffac 9.3%,#00ffac 9.7%,#00ff15 10.3%,#00ff00 10.5%,#12ff00 10.7%,#12ff00 11.1%,#d8ff00 14.2%,#ffff00 15.2%,#ffaa00 17.4%,#ffff00 21.3%,#dfff00 22.8%,#6eff00 25.3%,#22ff00 28.3%,#11ff00 31.7%,#29ff00 36%,#eeff00 48.9%,#ffff00 49.8%,#ff9f00 54.9%,#ffc900 60.5%,#ffe700 78%,#ffe400 81.5%,#ff9300 100%)"></i><i style="left:156px;width:3px;background:linear-gradient(#ff00db 0%,#ff00ff 0.3%,#b400ff 1.1%,#0000ff 1.5%,#0061ff 1.7%,#00ffff 2%,#00ff17 2.4%,#00ff0f 8.1%,#00ffdb 9.3%,#00ffdb 9.7%,#00ff25 10.3%,#00ff00 10.6%,#0aff00 10.7%,#0aff00 11.1%,#dcff00 14.2%,#ffff00 15.1%,#ffa500 17.4%,#ffff00 21.4%,#e0ff00 22.8%,#6eff00 25.3%,#22ff00 28.3%,#11ff00 31.7%,#29ff00 36%,#eeff00 48.9%,#ffff00 49.8%,#ffa000 54.9%,#ffc900 60.5%,#ffed00 78%,#ffe900 81.5%,#ff9100 100%)"></i><i style="left:159px;width:3px;background:linear-gradient(#ff00db 0%,#ff00ff 0.3%,#b400ff 1.1%,#0000ff 1.5%,#0061ff 1.7%,#00ffff 2%,#00ff1b 2.4%,#00ff1a 8.5%,#00ffff 9.2%,#00f4ff 9.2%,#00f4ff 9.7%,#00ffff 9.7%,#00ff34 10.3%,#00ff00 10.7%,#01ff00 10.7%,#01ff00 11.1%,#e1ff00 14.2%,#ffff00 15%,#ffa100 17.4%,#ffff00 21.5%,#e1ff00 22.8%,#6eff00 25.3%,#22ff00 28.3%,#11ff00 31.7%,#29ff00 36%,#eeff00 48.9%,#ffff00 49.8%,#ffa100 54.9%,#ffca00 60.5%,#fff200 77.6%,#ffee00 81.5%,#ff8f00 100%)"></i><i style="left:162px;width:3px;background:linear-gradient(#ff00db 0%,#ff00ff 0.3%,#b400ff 1.1%,#0000ff 1.5%,#0061ff 1.7%,#00ffff 2%,#00ff1b 2.4%,#00ff1f 8.4%,#00ffff 8.9%,#00d7ff 9%,#00d7ff 9.6%,#00ffff 9.7%,#00ff49 10.2%,#00ff07 10.7%,#00ff00 11.1%,#e5ff00 14.2%,#ffff00 14.9%,#ff9d00 17.4%,#ffff00 21.6%,#e2ff00 22.8%,#6eff00 25.3%,#22ff00 28.3%,#11ff00 31.7%,#29ff00 36%,#eeff00 48.9%,#ffff00 49.8%,#ffa200 54.9%,#ffcb00 60.5%,#fff700 78%,#fff200 81.5%,#ffb800 90.5%,#ff8c00 100%)"></i><i style="left:165px;width:3px;background:linear-gradient(#ff00db 0%,#ff00ff 0.3%,#b400ff 1.1%,#0000ff 1.5%,#0061ff 1.7%,#00ffff 2%,#00ff1b 2.4%,#00ff23 8.2%,#00ffff 8.6%,#00beff 8.7%,#00beff 9.5%,#00ffff 9.7%,#00ff60 10.2%,#00ff0f 10.7%,#00ff00 11.1%,#e9ff00 14.3%,#ffff00 14.8%,#ff9800 17.4%,#ffff00 21.7%,#e3ff00 22.8%,#6eff00 25.3%,#22ff00 28.3%,#11ff00 31.7%,#29ff00 36%,#eeff00 48.9%,#ffff00 49.9%,#ffa500 54.9%,#ffcb00 60.5%,#fffa00 78%,#fff500 81.5%,#ffb800 90.5%,#ff8a00 100%)"></i><i style="left:168px;width:3px;background:linear-gradient(#ff00db 0%,#ff00ff 0.3%,#b400ff 1.1%,#0000ff 1.5%,#0061ff 1.7%,#00ffff 2%,#00ff1b 2.4%,#00ff27 7.9%,#00ffff 8.3%,#00a5ff 8.5%,#00a5ff 9.4%,#00ffff 9.7%,#00ff78 10.1%,#00ff17 10.6%,#00ff00 11.1%,#eeff00 14.3%,#ffff00 14.7%,#ff9400 17.4%,#ffff00 21.8%,#e4ff00 22.8%,#6eff00 25.3%,#22ff00 28.3%,#11ff00 31.7%,#29ff00 36%,#eeff00 48.9%,#ffff00 49.9%,#ffa800 54.9%,#ffcb00 60.5%,#fffb00 78%,#fff600 81.5%,#ffb700 90.5%,#ff8800 100%)"></i><i style="left:171px;width:3px;background:linear-gradient(#ff00db 0%,#ff00ff 0.3%,#b400ff 1.1%,#0000ff 1.5%,#0061ff 1.7%,#00ffff 2%,#00ff1b 2.4%,#00ff2c 7.7%,#00ffff 8.1%,#008cff 8.2%,#008cff 9.3%,#00ffff 9.7%,#00ff8d 10%,#00ff20 10.6%,#00ff00 11.1%,#f2ff00 14.3%,#ffff00 14.6%,#ff9000 17.4%,#ffff00 21.8%,#e5ff00 22.9%,#6eff00 25.3%,#22ff00 28.3%,#11ff00 31.7%,#29ff00 36%,#ffff00 49.6%,#ffab00 54.9%,#ffcb00 60.5%,#fff600 73.3%,#fffb00 78.5%,#fff700 81.5%,#ffb700 90.5%,#ff8600 100%)"></i><i style="left:174px;width:3px;background:linear-gradient(#ff00db 0%,#ff00ff 0.3%,#b400ff 1.1%,#0000ff 1.5%,#0061ff 1.7%,#00ffff 2%,#00ff1b 2.4%,#00ff2f 7.5%,#00ffff 7.8%,#0073ff 8%,#0073ff 9.2%,#00ffff 9.7%,#00ffa5 10%,#00ff28 10.6%,#00ff00 11.1%,#f7ff00 14.3%,#ffff00 14.5%,#ff8b00 17.4%,#ffe000 20.4%,#ffff00 21.8%,#e7ff00 22.9%,#6eff00 25.3%,#22ff00 28.3%,#11ff00 31.7%,#29ff00 36%,#ffff00 49.7%,#ffae00 54.9%,#fff000 72%,#fff800 79.3%,#fff500 81.5%,#ffb100 90.9%,#ff8200 100%)"></i><i style="left:177px;width:3px;background:linear-gradient(#ff00db 0%,#ff00ff 0.3%,#b400ff 1.1%,#0000ff 1.5%,#0061ff 1.7%,#00ffff 2%,#00ff1b 2.4%,#00ff34 7.3%,#00ffff 7.5%,#005aff 7.7%,#005aff 9.1%,#00ffff 9.7%,#00ffbb 9.9%,#00ff30 10.5%,#00ff00 11.1%,#fbff00 14.3%,#ffff00 14.4%,#ff8700 17.4%,#ffdf00 20.4%,#ffff00 21.8%,#e8ff00 22.9%,#6eff00 25.3%,#22ff00 28.3%,#11ff00 31.7%,#29ff00 36%,#ffff00 49.9%,#ffb100 54.9%,#ffef00 72.9%,#fff400 80.6%,#ff7f00 100%)"></i><i style="left:180px;width:3px;background:linear-gradient(#ff00db 0%,#ff00ff 0.3%,#b400ff 1.1%,#0000ff 1.5%,#0061ff 1.7%,#00ffff 2%,#00ff1b 2.4%,#00ff37 7%,#00ffff 7.3%,#0041ff 7.5%,#0043ff 9%,#00ffff 9.7%,#00ffcf 9.9%,#00ff37 10.5%,#00ff00 11.2%,#ffff00 14.3%,#ffff00 14.3%,#ff8300 17.4%,#ffde00 20.4%,#ffff00 21.9%,#e9ff00 22.9%,#6eff00 25.3%,#22ff00 28.3%,#11ff00 31.7%,#29ff00 36%,#ffff00 50%,#ffb500 54.9%,#ffec00 73.3%,#fff000 81.5%,#ffa800 91.3%,#ff7b00 100%)"></i><i style="left:183px;width:3px;background:linear-gradient(#ff00db 0%,#ff00ff 0.3%,#b400ff 1.1%,#0000ff 1.5%,#0061ff 1.7%,#00ffff 2%,#00ff1b 2.4%,#00ff37 6.8%,#00ffff 7%,#002aff 7.2%,#0036ff 8.9%,#00ffff 9.6%,#00ffd7 9.8%,#00ff37 10.5%,#00ff00 11.2%,#ffff00 14.3%,#fffa00 14.4%,#ff7e00 17.4%,#ffdd00 20.4%,#ffff00 21.9%,#eaff00 22.9%,#6eff00 25.3%,#22ff00 28.3%,#11ff00 31.7%,#29ff00 36%,#ffff00 50.2%,#ffb800 54.9%,#ffe800 73.5%,#ffed00 81.5%,#ffa300 91.6%,#ff7700 100%)"></i><i style="left:186px;width:3px;background:linear-gradient(#ff00db 0%,#ff00ff 0.3%,#b400ff 1.1%,#0000ff 1.5%,#0061ff 1.7%,#00ffff 2%,#00ff1b 2.4%,#00ff37 6.6%,#00ffff 6.8%,#0013ff 7%,#0028ff 8.8%,#00ffff 9.6%,#00ffdf 9.8%,#00ff37 10.5%,#00ff00 11.2%,#ffff00 14.3%,#fff800 14.4%,#ff7c00 17.4%,#ffdd00 20.4%,#ffff00 22%,#eaff00 23%,#6eff00 25.3%,#22ff00 28.3%,#11ff00 31.7%,#29ff00 36%,#ffff00 50.3%,#ffbb00 54.9%,#ffe900 80.8%,#ff9400 92.8%,#ff7100 100%)"></i><i style="left:189px;width:3px;background:linear-gradient(#ff00db 0%,#ff00ff 0.3%,#b400ff 1.1%,#0000ff 1.5%,#0061ff 1.7%,#00ffff 2%,#00ff1b 2.4%,#00ff37 6.3%,#00ffff 6.5%,#0000ff 6.8%,#0400ff 6.8%,#0000ff 7%,#001bff 8.7%,#00ffff 9.6%,#00ffe8 9.7%,#00ff37 10.5%,#00ff00 11.2%,#ffff00 14.3%,#fff800 14.4%,#ff7c00 17.4%,#ffdd00 20.4%,#ffff00 22%,#eaff00 23%,#6dff00 25.3%,#22ff00 28.3%,#11ff00 31.7%,#29ff00 36%,#ffff00 50.5%,#ffbe00 54.9%,#ffe100 81.5%,#ff8b00 92.8%,#ff6900 100%)"></i><i style="left:192px;width:3px;background:linear-gradient(#ff00db 0%,#ff00ff 0.3%,#b400ff 1.1%,#0000ff 1.5%,#0061ff 1.7%,#00ffff 2%,#00ff1b 2.4%,#00ff37 6.1%,#00ffff 6.3%,#0000ff 6.5%,#1c00ff 6.5%,#0000ff 7.9%,#000eff 8.6%,#00ffff 9.6%,#00fff0 9.6%,#00ff37 10.5%,#00ff00 11.2%,#ffff00 14.3%,#fff800 14.4%,#ff7c00 17.4%,#ffdd00 20.4%,#ffff00 22%,#eaff00 23%,#6dff00 25.3%,#22ff00 28.3%,#11ff00 31.7%,#29ff00 36%,#ffff00 50.1%,#fffe00 50.2%,#ffc200 54.9%,#ffda00 81.5%,#ff8000 92.8%,#ff6100 100%)"></i><i style="left:195px;width:3px;background:linear-gradient(#ff00db 0%,#ff00ff 0.3%,#b400ff 1.1%,#0000ff 1.5%,#0061ff 1.7%,#00ffff 2%,#00ff1b 2.4%,#00ff37 5.9%,#00ffff 6%,#0000ff 6.3%,#3300ff 6.3%,#0000ff 8.5%,#0001ff 8.5%,#00ffff 9.6%,#00fff8 9.6%,#00ff37 10.5%,#00ff00 11.2%,#ffff00 14.3%,#fff800 14.4%,#ff7c00 17.4%,#ffdd00 20.4%,#ffff00 22%,#eaff00 23.1%,#6cff00 25.3%,#22ff00 28.3%,#11ff00 31.7%,#29ff00 36%,#ffff00 50.1%,#fffe00 50.2%,#ffc500 54.9%,#ffd500 81.5%,#ff6d00 93.7%,#ff5600 100%)"></i><i style="left:198px;width:3px;background:linear-gradient(#ff00db 0%,#ff00ff 0.3%,#b400ff 1.1%,#0000ff 1.5%,#0061ff 1.7%,#00ffff 2%,#00ff1b 2.4%,#00ff37 5.6%,#00ffff 5.8%,#0000ff 6%,#4a00ff 6.1%,#0d00ff 8.4%,#0000ff 8.4%,#00ffff 9.6%,#00ff37 10.5%,#00ff00 11.2%,#ffff00 14.3%,#fff800 14.4%,#ff7c00 17.4%,#ffdd00 20.4%,#ffff00 22.1%,#eaff00 23.1%,#6bff00 25.3%,#22ff00 28.3%,#11ff00 31.7%,#29ff00 36%,#ffff00 50.1%,#fffe00 50.2%,#ffc700 54.9%,#ffcf00 81.5%,#ff6500 92.8%,#ff4b00 100%)"></i><i style="left:201px;width:3px;background:linear-gradient(#ff00db 0%,#ff00ff 0.3%,#b400ff 1.1%,#0000ff 1.5%,#0061ff 1.7%,#00ffff 2%,#00ff1b 2.4%,#00ff37 5.4%,#00ffff 5.6%,#0000ff 5.8%,#6200ff 5.8%,#1a00ff 8.3%,#0000ff 8.4%,#00ffff 9.6%,#00ff37 10.5%,#00ff00 11.2%,#ffff00 14.3%,#fff800 14.4%,#ff7c00 17.4%,#ffdd00 20.4%,#ffff00 22.1%,#eaff00 23.1%,#6aff00 25.3%,#22ff00 28.3%,#11ff00 31.7%,#29ff00 36%,#ffff00 50.1%,#fffe00 50.2%,#ffca00 54.9%,#ffca00 81.5%,#ff5500 92.8%,#ff3f00 100%)"></i><i style="left:204px;width:3px;background:linear-gradient(#ff00db 0%,#ff00ff 0.3%,#b400ff 1.1%,#0000ff 1.5%,#0061ff 1.7%,#00ffff 2%,#00ff1b 2.4%,#00ff37 5.2%,#00ffff 5.3%,#0000ff 5.5%,#7900ff 5.6%,#2700ff 8.2%,#0000ff 8.4%,#00ffff 9.6%,#00ff37 10.5%,#00ff00 11.2%,#ffff00 14.4%,#fff800 14.4%,#ff7c00 17.4%,#ffdd00 20.4%,#ffff00 22.1%,#eaff00 23.2%,#6aff00 25.3%,#22ff00 28.3%,#11ff00 31.7%,#29ff00 36%,#ffff00 50.2%,#ffcc00 54.9%,#ffc600 81.5%,#ff4000 93.3%,#ff3200 100%)"></i><i style="left:207px;width:3px;background:linear-gradient(#ff00db 0%,#ff00ff 0.3%,#b400ff 1.1%,#0000ff 1.5%,#0061ff 1.7%,#00ffff 2%,#00ff22 2.4%,#00ff3f 5.1%,#00ffff 5.2%,#0000ff 5.4%,#7e00ff 5.5%,#2b00ff 8.1%,#0000ff 8.3%,#00ffff 9.5%,#00ff37 10.5%,#00ff00 11.1%,#ffff00 14.4%,#fff800 14.4%,#ff7c00 17.4%,#ffdd00 20.4%,#ffff00 22.1%,#eaff00 23.2%,#69ff00 25.3%,#22ff00 28.3%,#11ff00 31.7%,#29ff00 36%,#ffff00 50.2%,#ffce00 54.9%,#ffc100 81.5%,#ff2f00 93.3%,#ff2000 96.3%,#ff2400 100%)"></i><i style="left:210px;width:3px;background:linear-gradient(#ff00db 0%,#ff00ff 0.3%,#b400ff 1.1%,#0000ff 1.5%,#0061ff 1.7%,#00ffff 2%,#00ff2b 2.4%,#00ff44 4.9%,#00ffff 5.1%,#0000ff 5.3%,#8100ff 5.4%,#2d00ff 8.1%,#0000ff 8.3%,#00ffff 9.5%,#00ff37 10.5%,#00ff00 11.1%,#ffff00 14.4%,#fff800 14.5%,#ff7c00 17.5%,#ffdd00 20.4%,#ffff00 22.1%,#eaff00 23.2%,#68ff00 25.3%,#22ff00 28.3%,#11ff00 31.7%,#29ff00 36%,#ffff00 50.2%,#ffcf00 54.9%,#ffbb00 69.7%,#ffbd00 81.3%,#ff1e00 93.3%,#ff1000 96.3%,#ff1700 100%)"></i><i style="left:213px;width:3px;background:linear-gradient(#ff00db 0%,#ff00ff 0.3%,#b400ff 1.1%,#0000ff 1.5%,#0061ff 1.7%,#00ffff 2%,#00ff33 2.4%,#00ff4a 4.8%,#00ffff 5%,#0000ff 5.2%,#8300ff 5.2%,#3000ff 8.1%,#0000ff 8.3%,#00ffff 9.5%,#00ff37 10.5%,#00ff00 11.2%,#ffff00 14.4%,#fff800 14.5%,#ff7c00 17.5%,#ffdd00 20.4%,#ffff00 22.2%,#eaff00 23.3%,#68ff00 25.3%,#22ff00 28.3%,#11ff00 31.7%,#29ff00 36%,#ffff00 50.2%,#ffd100 54.9%,#ffb400 70.1%,#ffc000 77.4%,#ffb900 81.5%,#ff0e00 93.3%,#ff0000 96.3%,#ff0b00 100%)"></i><i style="left:216px;width:3px;background:linear-gradient(#ff00db 0%,#ff00ff 0.3%,#b400ff 1.1%,#0000ff 1.5%,#0061ff 1.7%,#00ffff 2%,#00ff3c 2.4%,#00ff50 4.7%,#00ffff 4.8%,#0000ff 5%,#8500ff 5.1%,#3100ff 8%,#0000ff 8.3%,#00ffff 9.5%,#00ff37 10.5%,#00ff00 11.2%,#ffff00 14.4%,#fff800 14.5%,#ff7c00 17.5%,#ffdd00 20.4%,#ffff00 22.2%,#eaff00 23.3%,#67ff00 25.3%,#22ff00 28.3%,#11ff00 31.7%,#29ff00 36%,#ffff00 50.2%,#ffd200 54.9%,#ffae00 70.1%,#ffbd00 77.4%,#ffb600 81.3%,#ff0100 93.3%,#ff0000 93.5%,#ff000d 96.3%,#ff0000 99.9%,#ff0000 100%)"></i><i style="left:219px;width:3px;background:linear-gradient(#ff00db 0%,#ff00ff 0.3%,#b400ff 1.1%,#0000ff 1.5%,#0061ff 1.7%,#00ffff 2%,#00ff44 2.4%,#00ff56 4.6%,#00ffff 4.7%,#0000ff 4.9%,#8700ff 5%,#3400ff 8%,#0000ff 8.2%,#00ffff 9.5%,#00ff37 10.5%,#00ff00 11.2%,#ffff00 14.4%,#fff800 14.5%,#ff7c00 17.5%,#ffdd00 20.4%,#ffff00 22.2%,#eaff00 23.3%,#66ff00 25.3%,#22ff00 28.3%,#11ff00 31.7%,#29ff00 36%,#ffff00 50.2%,#ffd300 54.9%,#ffc700 62.4%,#ffa700 70.1%,#ffba00 77.4%,#ffb300 81.3%,#ff0000 92.7%,#ff0008 93.3%,#ff0016 96.3%,#ff0008 100%)"></i><i style="left:222px;width:3px;background:linear-gradient(#ff00db 0%,#ff00ff 0.3%,#b400ff 1.1%,#0000ff 1.5%,#0061ff 1.7%,#00ffff 2%,#00ff4d 2.4%,#00ff5c 4.5%,#00ffff 4.6%,#0000ff 4.8%,#8900ff 4.9%,#3600ff 8%,#0000ff 8.2%,#00ffff 9.5%,#00ff37 10.5%,#00ff00 11.2%,#ffff00 14.4%,#fff800 14.5%,#ff7c00 17.5%,#ffdd00 20.4%,#ffff00 22.2%,#eaff00 23.3%,#66ff00 25.3%,#22ff00 28.3%,#11ff00 31.7%,#29ff00 36%,#ffff00 50.2%,#ffd500 54.9%,#ffc800 62.2%,#ffa100 70.3%,#ffb700 77.6%,#ffb100 81%,#ff8c00 84%,#ff0000 92.3%,#ff000c 93.1%,#ff001c 96.1%,#ff000d 100%)"></i><i style="left:225px;width:3px;background:linear-gradient(#ff00db 0%,#ff00ff 0.3%,#b400ff 1.1%,#0000ff 1.5%,#0061ff 1.7%,#00ffff 2%,#00ff55 2.4%,#00ff62 4.4%,#00ffff 4.5%,#0000ff 4.7%,#8b00ff 4.8%,#3800ff 7.9%,#0000ff 8.2%,#00ffff 9.5%,#00ff37 10.5%,#00ff00 11.2%,#ffff00 14.4%,#fff800 14.5%,#ff7c00 17.5%,#ffdd00 20.4%,#ffff00 22.3%,#eaff00 23.4%,#65ff00 25.3%,#22ff00 28.3%,#11ff00 31.7%,#29ff00 36%,#ffff00 50.2%,#ffd600 54.9%,#ffc600 62.6%,#ff9d00 70.3%,#ffb500 77.6%,#ffaf00 81%,#ff8a00 84%,#ff0000 92.2%,#ff000e 93.1%,#ff001e 96.1%,#ff0010 100%)"></i><i style="left:228px;width:3px;background:linear-gradient(#ff00db 0%,#ff00ff 0.3%,#b400ff 1.1%,#0000ff 1.5%,#0061ff 1.7%,#00ffff 2%,#00ff5e 2.4%,#00ff68 4.2%,#00ffff 4.4%,#0000ff 4.6%,#8d00ff 4.7%,#3a00ff 7.9%,#0000ff 8.2%,#00ffff 9.5%,#00ff37 10.5%,#00ff00 11.2%,#ffff00 14.4%,#fff800 14.5%,#ff7c00 17.5%,#ffdd00 20.4%,#ffff00 22.3%,#eaff00 23.4%,#64ff00 25.3%,#22ff00 28.3%,#11ff00 31.7%,#29ff00 36%,#ffff00 50.2%,#ffd700 54.9%,#ffc600 62.6%,#ff9b00 70.3%,#ffb300 77.6%,#ffab00 81.5%,#ff0000 92.3%,#ff000b 93.1%,#ff001c 96.1%,#ff000f 100%)"></i><i style="left:231px;width:3px;background:linear-gradient(#ff00db 0%,#ff00ff 0.3%,#b400ff 1.1%,#0000ff 1.5%,#0061ff 1.7%,#00ffff 2%,#00ff66 2.4%,#00ff6f 4.1%,#00ffff 4.2%,#0000ff 4.4%,#8f00ff 4.6%,#3c00ff 7.9%,#0000ff 8.2%,#00ffff 9.5%,#00ff37 10.5%,#00ff00 11.2%,#ffff00 14.4%,#fff800 14.5%,#ff7c00 17.5%,#ffdd00 20.4%,#ffff00 22.3%,#eaff00 23.4%,#63ff00 25.3%,#22ff00 28.3%,#11ff00 31.7%,#29ff00 36%,#ffff00 50.2%,#ffd800 54.9%,#ffc700 62.6%,#ff9c00 70.3%,#ffb200 77.6%,#ffab00 81.5%,#ff0000 92.7%,#ff0005 93.1%,#ff0016 96.1%,#ff000d 100%)"></i><i style="left:234px;width:3px;background:linear-gradient(#ff00db 0%,#ff00ff 0.3%,#b400ff 1.1%,#0000ff 1.5%,#0061ff 1.7%,#00ffff 2%,#00ff6e 2.4%,#00ff75 4%,#00ffff 4.1%,#0000ff 4.3%,#9000ff 4.4%,#3f00ff 7.8%,#0000ff 8.1%,#00ffff 9.5%,#00ff37 10.5%,#00ff00 11.2%,#ffff00 14.5%,#fff800 14.5%,#ff7c00 17.5%,#ffdd00 20.4%,#ffff00 22.3%,#eaff00 23.5%,#63ff00 25.3%,#22ff00 28.3%,#11ff00 31.7%,#29ff00 36%,#ffff00 50.2%,#ffd900 54.9%,#ffc900 62.2%,#ff9f00 70.3%,#ffb200 77.6%,#ffaa00 81.5%,#ff0400 93.1%,#ff0000 93.7%,#ff000e 96.1%,#ff0008 100%)"></i><i style="left:237px;width:3px;background:linear-gradient(#ff00db 0%,#ff00ff 0.3%,#b400ff 1.1%,#0000ff 1.5%,#0061ff 1.7%,#00ffff 2.1%,#00ff77 2.4%,#00ff7b 3.9%,#00ffff 4%,#0000ff 4.2%,#9200ff 4.3%,#4000ff 7.8%,#0000ff 8.1%,#00ffff 9.5%,#00ff37 10.5%,#00ff00 11.2%,#ffff00 14.5%,#fff800 14.6%,#ff7c00 17.6%,#ffdd00 20.4%,#ffff00 22.3%,#eaff00 23.5%,#62ff00 25.3%,#22ff00 28.3%,#11ff00 31.7%,#29ff00 36%,#ffff00 50.2%,#ffda00 54.9%,#ffc900 62.2%,#ffa400 70.3%,#ffb200 77.6%,#ffaa00 81.5%,#ff0e00 93.1%,#ff0000 95.4%,#ff0004 96.1%,#ff0002 100%)"></i><i style="left:240px;width:3px;background:linear-gradient(#ff00db 0%,#ff00ff 0.3%,#b400ff 1.1%,#0000ff 1.5%,#00ffff 2.1%,#00ff7f 2.4%,#00ff82 3.8%,#00ffff 3.9%,#0000ff 4.1%,#9400ff 4.2%,#4300ff 7.8%,#0000ff 8.1%,#00ffff 9.4%,#00ff37 10.5%,#00ff00 11.2%,#ffff00 14.5%,#fff800 14.6%,#ff7c00 17.6%,#ffdd00 20.4%,#ffff00 22.4%,#eaff00 23.5%,#61ff00 25.3%,#22ff00 28.3%,#11ff00 31.7%,#29ff00 36%,#ffff00 50.2%,#ffdb00 54.9%,#ffaa00 70.3%,#ffaa00 81.5%,#ff1a00 93.1%,#ff0700 96.1%,#ff0400 100%)"></i><i style="left:243px;width:3px;background:linear-gradient(#ff00db 0%,#ff00ff 0.3%,#b400ff 1.1%,#0000ff 1.5%,#00ffff 2.1%,#00ff88 2.4%,#00ff88 3.7%,#00ffff 3.8%,#0000ff 4%,#9600ff 4.1%,#4500ff 7.7%,#0000ff 8.1%,#00ffff 9.4%,#00ff37 10.5%,#00ff00 11.2%,#ffff00 14.5%,#fff800 14.6%,#ff7c00 17.6%,#ffdd00 20.4%,#ffff00 22.4%,#eaff00 23.6%,#61ff00 25.3%,#22ff00 28.3%,#11ff00 31.7%,#29ff00 36%,#ffff00 50.2%,#ffdc00 54.9%,#ffaf00 70.3%,#ffab00 81.5%,#ff2500 93.1%,#ff0a00 100%)"></i><i style="left:246px;width:3px;background:linear-gradient(#ff00dd 0%,#ff00ff 0.4%,#b400ff 1.2%,#0000ff 1.8%,#003cff 2%,#00ffff 2.5%,#00ffd8 2.6%,#00ffd9 3.7%,#00ffff 3.7%,#0000ff 4%,#9800ff 4.1%,#4700ff 7.7%,#0000ff 8.1%,#00ccff 9.2%,#00ffff 9.5%,#00ff37 10.5%,#00ff00 11.2%,#ffff00 14.5%,#fff800 14.6%,#ff7c00 17.6%,#ffdd00 20.4%,#ffff00 22.4%,#eaff00 23.6%,#60ff00 25.3%,#22ff00 28.3%,#11ff00 31.7%,#29ff00 36%,#feff00 50.2%,#ffff00 50.3%,#ffe000 54.9%,#ffc600 70.3%,#ffc400 81.5%,#ff5c00 93.1%,#ff4900 100%)"></i><i style="left:249px;width:3px;background:linear-gradient(#ff00e0 0%,#ff00ff 0.4%,#b400ff 1.4%,#0000ff 2.2%,#0011ff 2.3%,#00c6ff 2.8%,#00c6ff 3.7%,#0000ff 4%,#9800ff 4.1%,#4a00ff 7.6%,#0000ff 8.1%,#00c6ff 9.2%,#00ffff 9.5%,#00ff37 10.6%,#00ff00 11.3%,#ffff00 14.5%,#fff800 14.6%,#ff7c00 17.6%,#ffdd00 20.4%,#ffff00 22.4%,#eaff00 23.6%,#60ff00 25.3%,#22ff00 28.3%,#11ff00 31.7%,#29ff00 36%,#fdff00 50.2%,#ffff00 50.5%,#ffe400 54.9%,#ffe300 81.5%,#ff9b00 93.1%,#ff9100 100%)"></i><i style="left:252px;width:3px;background:linear-gradient(#ff00e2 0%,#ff00ff 0.4%,#b400ff 1.5%,#1c00ff 2.6%,#0000ff 2.7%,#0065ff 3%,#0065ff 3.8%,#0000ff 3.9%,#9800ff 4.2%,#4d00ff 7.6%,#0000ff 8.1%,#00c1ff 9.2%,#00ffff 9.5%,#00ff37 10.6%,#00ff00 11.3%,#ffff00 14.5%,#fff800 14.6%,#ff7c00 17.6%,#ffdd00 20.4%,#ffff00 22.4%,#eaff00 23.6%,#60ff00 25.3%,#22ff00 28.3%,#11ff00 31.7%,#29ff00 36%,#fbff00 50.2%,#ffff00 50.8%,#ffe800 54.9%,#ffff00 78.7%,#fdff00 81%,#ffff00 81.7%,#ffd800 93.1%,#ffd800 100%)"></i><i style="left:255px;width:3px;background:linear-gradient(#ff00e5 0%,#ff00ff 0.4%,#b400ff 1.7%,#4800ff 3%,#0000ff 3.3%,#0006ff 3.3%,#0006ff 3.8%,#0000ff 3.8%,#9800ff 4.2%,#4f00ff 7.6%,#0000ff 8.1%,#00bcff 9.2%,#00ffff 9.6%,#00ff37 10.7%,#00ff00 11.5%,#00ff00 11.5%,#ffff00 14.5%,#fff800 14.6%,#ff7d00 17.6%,#ffdd00 20.4%,#ffff00 22.4%,#eaff00 23.6%,#61ff00 25.3%,#22ff00 28.3%,#11ff00 31.7%,#29ff00 36%,#faff00 50.2%,#ffff00 51.1%,#ffeb00 54.9%,#ffff00 67.6%,#edff00 79.3%,#ffff00 90.2%,#fffa00 93.1%,#fffe00 100%)"></i><i style="left:258px;width:3px;background:linear-gradient(#ff00e7 0%,#ff00ff 0.5%,#7500ff 3.3%,#5b00ff 3.5%,#5b00ff 3.8%,#9800ff 4.3%,#5200ff 7.5%,#0000ff 8%,#00b7ff 9.2%,#00ffff 9.6%,#00ff37 10.7%,#00ff00 11.5%,#00ff00 11.5%,#ffff00 14.5%,#fff800 14.6%,#ff7e00 17.6%,#ffdd00 20.4%,#ffff00 22.4%,#eaff00 23.6%,#61ff00 25.3%,#22ff00 28.3%,#11ff00 31.7%,#2aff00 36%,#faff00 50.2%,#ffff00 51.3%,#ffed00 55.1%,#ffff00 67.1%,#ebff00 80.2%,#faff00 100%)"></i><i style="left:261px;width:3px;background:linear-gradient(#ff00e9 0%,#ff00ff 0.4%,#b400ff 2%,#8a00ff 3.5%,#9700ff 4.3%,#5100ff 7.5%,#0000ff 8%,#00b4ff 9.2%,#00ffff 9.6%,#00ff37 10.7%,#00ff00 11.6%,#00ff00 11.6%,#ffff00 14.5%,#fff800 14.6%,#ff7f00 17.6%,#ffdd00 20.4%,#ffff00 22.4%,#eaff00 23.7%,#61ff00 25.3%,#22ff00 28.3%,#11ff00 31.7%,#2aff00 36%,#f9ff00 50.2%,#ffff00 51.5%,#ffee00 55.2%,#ffff00 66.6%,#e9ff00 81.5%,#f6ff00 100%)"></i><i style="left:264px;width:3px;background:linear-gradient(#ff00e9 0%,#ff00ff 0.5%,#b400ff 2%,#8900ff 3.6%,#9400ff 4.4%,#4d00ff 7.5%,#0000ff 8%,#00b4ff 9.2%,#00ffff 9.7%,#00ff37 10.8%,#00ff00 11.7%,#00ff00 11.7%,#ffff00 14.6%,#fff800 14.6%,#ff8000 17.6%,#ffdd00 20.4%,#ffff00 22.5%,#eaff00 23.7%,#60ff00 25.4%,#22ff00 28.3%,#11ff00 31.7%,#2aff00 36%,#f8ff00 50.2%,#ffff00 51.8%,#fff000 55.3%,#ffff00 65.9%,#e8ff00 81.5%,#f2ff00 100%)"></i><i style="left:267px;width:3px;background:linear-gradient(#ff00e9 0%,#ff00ff 0.5%,#b400ff 2.1%,#8700ff 3.6%,#9200ff 4.5%,#4900ff 7.6%,#0000ff 8.1%,#00b4ff 9.3%,#00ffff 9.7%,#00ff37 10.8%,#00ff00 11.7%,#00ff00 11.7%,#ffff00 14.6%,#fff800 14.7%,#ff8100 17.6%,#ffdd00 20.4%,#ffff00 22.5%,#eaff00 23.7%,#60ff00 25.4%,#22ff00 28.3%,#11ff00 31.7%,#2aff00 36%,#f7ff00 50.2%,#ffff00 52%,#fff100 55.4%,#ffff00 65.2%,#e8ff00 81.5%,#efff00 100%)"></i><i style="left:270px;width:3px;background:linear-gradient(#ff00e9 0%,#ff00ff 0.5%,#b400ff 2.2%,#8600ff 3.7%,#8f00ff 4.6%,#4400ff 7.6%,#0000ff 8.1%,#00b5ff 9.3%,#00ffff 9.7%,#00ff37 10.9%,#00ff00 11.8%,#00ff00 11.8%,#ffff00 14.6%,#fff800 14.7%,#ff8200 17.6%,#ffdd00 20.4%,#ffff00 22.5%,#eaff00 23.8%,#60ff00 25.4%,#22ff00 28.3%,#11ff00 31.7%,#2bff00 36%,#f6ff00 50.2%,#ffff00 52.3%,#fff300 55.5%,#ffff00 64.4%,#e7ff00 81.5%,#edff00 100%)"></i><i style="left:273px;width:3px;background:linear-gradient(#ff00e9 0%,#ff00ff 0.5%,#b400ff 2.2%,#8400ff 3.8%,#8c00ff 4.7%,#4000ff 7.6%,#0000ff 8.1%,#00b5ff 9.3%,#00ffff 9.7%,#00ff37 10.9%,#00ff00 11.9%,#00ff00 11.9%,#ffff00 14.6%,#fff800 14.7%,#ff8400 17.6%,#ffdd00 20.4%,#ffff00 22.5%,#eaff00 23.8%,#61ff00 25.4%,#22ff00 28.3%,#11ff00 31.7%,#2bff00 36%,#f6ff00 50.2%,#ffff00 52.7%,#fff400 55.6%,#ffff00 63.6%,#e7ff00 81.5%,#eaff00 100%)"></i><i style="left:276px;width:3px;background:linear-gradient(#ff00e9 0%,#ff00ff 0.5%,#b400ff 2.3%,#8300ff 3.9%,#8900ff 4.8%,#3c00ff 7.6%,#0000ff 8.1%,#00b4ff 9.3%,#00ffff 9.8%,#00ff37 11%,#00ff00 11.9%,#00ff00 11.9%,#ffff00 14.6%,#fff800 14.7%,#ff8500 17.6%,#ffdd00 20.4%,#ffff00 22.5%,#eaff00 23.9%,#61ff00 25.4%,#22ff00 28.3%,#11ff00 31.7%,#2bff00 36%,#baff00 45.5%,#f5ff00 50.2%,#ffff00 53%,#fff600 55.7%,#ffff00 62.8%,#e6ff00 81.5%,#e9ff00 100%)"></i><i style="left:279px;width:3px;background:linear-gradient(#ff00e9 0%,#ff00ff 0.5%,#b400ff 2.3%,#8200ff 4%,#8600ff 4.8%,#3800ff 7.6%,#0000ff 8%,#00b4ff 9.4%,#00ffff 9.8%,#00ff37 11%,#00ff00 12%,#00ff00 12%,#ffff00 14.7%,#fff800 14.7%,#ff8600 17.6%,#ffdd00 20.4%,#ffff00 22.6%,#eaff00 23.9%,#61ff00 25.5%,#22ff00 28.3%,#11ff00 31.7%,#2bff00 36%,#baff00 45.5%,#f4ff00 50.2%,#ffff00 53.4%,#fff700 55.8%,#ffff00 61.9%,#e5ff00 81.5%,#e7ff00 100%)"></i><i style="left:282px;width:3px;background:linear-gradient(#ff00e9 0%,#ff00ff 0.6%,#b400ff 2.4%,#8000ff 4.1%,#8400ff 4.9%,#3400ff 7.7%,#0000ff 8%,#00b5ff 9.4%,#00ffff 9.8%,#00ff37 11%,#00ff00 12.1%,#00ff00 12.1%,#ffff00 14.7%,#fff800 14.8%,#ff8700 17.6%,#ffdd00 20.4%,#ffff00 22.6%,#eaff00 23.9%,#60ff00 25.5%,#22ff00 28.3%,#11ff00 31.7%,#2cff00 36%,#baff00 45.5%,#f3ff00 50.2%,#ffff00 53.9%,#fff900 55.9%,#ffff00 61%,#e5ff00 81.5%,#e6ff00 100%)"></i><i style="left:285px;width:3px;background:linear-gradient(#ff00e9 0%,#ff00ff 0.6%,#7f00ff 4.2%,#8100ff 5%,#3000ff 7.7%,#0000ff 8%,#00b5ff 9.4%,#00ffff 9.9%,#00ff37 11.1%,#00ff00 12.1%,#00ff00 12.1%,#ffff00 14.7%,#fff800 14.8%,#ff8800 17.6%,#ffdd00 20.4%,#ffff00 22.6%,#eaff00 24%,#60ff00 25.5%,#22ff00 28.3%,#11ff00 31.7%,#2cff00 36%,#baff00 45.5%,#f2ff00 50.2%,#ffff00 54.4%,#fffa00 56%,#ffff00 60%,#e4ff00 81.5%,#e5ff00 100%)"></i><i style="left:288px;width:3px;background:linear-gradient(#ff00e9 0%,#ff00ff 0.6%,#7d00ff 4.2%,#7e00ff 5.1%,#2b00ff 7.7%,#0000ff 8%,#00b5ff 9.4%,#00ffff 9.9%,#00ff37 11.1%,#00ff00 12.2%,#00ff00 12.2%,#ffff00 14.7%,#fff800 14.8%,#ff8900 17.6%,#ffdd00 20.4%,#ffff00 22.6%,#eaff00 24%,#60ff00 25.5%,#22ff00 28.3%,#11ff00 31.7%,#2cff00 36%,#baff00 45.5%,#f2ff00 50.2%,#ffff00 54.9%,#fffc00 56.1%,#ffff00 59%,#e4ff00 81.5%,#e4ff00 100%)"></i><i style="left:291px;width:3px;background:linear-gradient(#ff00e9 0%,#ff00ff 0.6%,#7b00ff 4.3%,#7b00ff 5.2%,#2800ff 7.7%,#0000ff 8%,#00b6ff 9.4%,#00ffff 9.9%,#00ff37 11.2%,#00ff00 12.2%,#ffff00 14.7%,#fff800 14.8%,#ff8a00 17.6%,#ffdd00 20.4%,#ffff00 22.7%,#eaff00 24%,#60ff00 25.5%,#22ff00 28.3%,#11ff00 31.7%,#2cff00 36%,#baff00 45.5%,#f1ff00 50.2%,#ffff00 55.2%,#fffc00 56.2%,#ffff00 58.5%,#e3ff00 81.5%,#e3ff00 100%)"></i><i style="left:294px;width:3px;background:linear-gradient(#ff00ea 0%,#ff00ff 0.6%,#7800ff 4.4%,#7900ff 5.3%,#2500ff 7.8%,#0000ff 8%,#00b9ff 9.5%,#00ffff 9.9%,#00ff37 11.2%,#00ff00 12.3%,#ffff00 14.7%,#fff800 14.8%,#ff8a00 17.6%,#ffdd00 20.4%,#ffff00 22.7%,#eaff00 24.1%,#60ff00 25.5%,#22ff00 28.3%,#11ff00 31.7%,#2cff00 36%,#baff00 45.5%,#f1ff00 50.2%,#ffff00 55.2%,#fffc00 56.2%,#ffff00 58.5%,#e3ff00 81.5%,#e3ff00 100%)"></i><i style="left:297px;width:3px;background:linear-gradient(#ff00eb 0%,#ff00ff 0.6%,#7400ff 4.5%,#7600ff 5.3%,#2100ff 7.8%,#0000ff 8%,#00bcff 9.5%,#00ffff 9.9%,#00ff37 11.2%,#00ff00 12.3%,#ffff00 14.8%,#fff800 14.8%,#ff8b00 17.6%,#ffdd00 20.4%,#ffff00 22.7%,#eaff00 24.1%,#60ff00 25.5%,#22ff00 28.3%,#11ff00 31.7%,#2cff00 36%,#baff00 45.5%,#f1ff00 50.2%,#ffff00 55.2%,#fffc00 56.2%,#ffff00 58.5%,#e3ff00 81.5%,#e3ff00 100%)"></i><i style="left:300px;width:3px;background:linear-gradient(#ff00ec 0%,#ff00ff 0.5%,#7100ff 4.6%,#7400ff 5.4%,#1e00ff 7.8%,#0000ff 8%,#00c0ff 9.5%,#00ffff 9.9%,#00ff37 11.2%,#00ff00 12.4%,#ffff00 14.8%,#fff800 14.8%,#ff8b00 17.6%,#ffdd00 20.4%,#ffff00 22.7%,#eaff00 24.1%,#61ff00 25.6%,#22ff00 28.3%,#11ff00 31.7%,#2cff00 36%,#baff00 45.5%,#f1ff00 50.2%,#ffff00 55.2%,#fffc00 56.3%,#ffff00 58.5%,#e3ff00 81.5%,#e3ff00 100%)"></i><i style="left:303px;width:3px;background:linear-gradient(#ff00ec 0%,#ff00ff 0.5%,#6e00ff 4.6%,#7200ff 5.5%,#1b00ff 7.8%,#0000ff 8%,#00c3ff 9.5%,#00ffff 9.9%,#00ff37 11.2%,#00ff00 12.5%,#ffff00 14.8%,#fff800 14.8%,#ff8c00 17.6%,#ffdd00 20.4%,#ffff00 22.7%,#eaff00 24.1%,#61ff00 25.6%,#22ff00 28.3%,#11ff00 31.7%,#2cff00 36%,#baff00 45.5%,#f1ff00 50.2%,#ffff00 55.3%,#fffc00 56.3%,#ffff00 57.5%,#efff00 64.3%,#e2ff00 81.5%,#e3ff00 100%)"></i><i style="left:306px;width:3px;background:linear-gradient(#ff00ed 0%,#ff00ff 0.5%,#b000ff 3%,#6a00ff 4.7%,#6f00ff 5.6%,#1700ff 7.9%,#0000ff 8%,#00c6ff 9.6%,#00ffff 9.9%,#00ff37 11.2%,#00ff00 12.5%,#ffff00 14.8%,#fff800 14.9%,#ff8c00 17.6%,#ffdd00 20.4%,#ffff00 22.7%,#eaff00 24.2%,#61ff00 25.6%,#22ff00 28.3%,#11ff00 31.7%,#2cff00 36%,#baff00 45.5%,#f1ff00 50.2%,#ffff00 55.3%,#fffc00 56.3%,#ffff00 57.5%,#efff00 64.3%,#e2ff00 81.5%,#e3ff00 100%)"></i><i style="left:309px;width:3px;background:linear-gradient(#ff00ee 0%,#ff00ff 0.5%,#af00ff 3.1%,#6700ff 4.8%,#6d00ff 5.6%,#1400ff 7.9%,#0000ff 8%,#00caff 9.6%,#00ffff 9.9%,#00ff37 11.2%,#00ff00 12.6%,#ffff00 14.8%,#fff800 14.9%,#ff8d00 17.6%,#ffdd00 20.4%,#ffff00 22.8%,#eaff00 24.2%,#60ff00 25.6%,#22ff00 28.3%,#11ff00 31.7%,#2cff00 36%,#baff00 45.5%,#f1ff00 50.2%,#ffff00 55.3%,#fffc00 56.3%,#ffff00 57.5%,#efff00 64.3%,#e2ff00 81.5%,#e3ff00 100%)"></i><i style="left:312px;width:3px;background:linear-gradient(#ff00ef 0%,#ff00ff 0.5%,#ae00ff 3.2%,#6400ff 4.9%,#5e00ff 5.3%,#6a00ff 5.7%,#1100ff 7.9%,#0000ff 8%,#00cdff 9.6%,#00ffff 9.9%,#00ff37 11.2%,#00ff00 12.6%,#ffff00 14.8%,#fff800 14.9%,#ff8d00 17.6%,#ffdd00 20.4%,#ffff00 22.8%,#eaff00 24.2%,#60ff00 25.6%,#22ff00 28.3%,#11ff00 31.7%,#2cff00 36%,#baff00 45.5%,#f1ff00 50.2%,#ffff00 55.3%,#fffc00 56.4%,#ffff00 57.5%,#eeff00 64.3%,#e2ff00 81.5%,#e3ff00 100%)"></i><i style="left:315px;width:3px;background:linear-gradient(#ff00f0 0%,#ff00ff 0.5%,#ad00ff 3.2%,#6000ff 4.9%,#5900ff 5.4%,#6800ff 5.8%,#0d00ff 7.9%,#0000ff 8%,#00d0ff 9.7%,#00ffff 10%,#00ff37 11.3%,#00ff00 12.7%,#ffff00 14.8%,#fff800 14.9%,#ff8d00 17.6%,#ffdd00 20.4%,#ffff00 22.8%,#eaff00 24.2%,#60ff00 25.6%,#22ff00 28.3%,#11ff00 31.7%,#2cff00 36%,#baff00 45.5%,#f1ff00 50.2%,#ffff00 55.4%,#fffc00 56.4%,#ffff00 57.5%,#eeff00 64.3%,#e1ff00 81.5%,#e3ff00 100%)"></i><i style="left:318px;width:3px;background:linear-gradient(#ff00f1 0%,#ff00ff 0.5%,#ac00ff 3.3%,#5d00ff 5%,#5500ff 5.5%,#6500ff 5.9%,#0a00ff 8%,#0000ff 8%,#00d4ff 9.7%,#00ffff 10%,#00ff37 11.3%,#00ff00 12.7%,#ffff00 14.9%,#fff800 14.9%,#ff8e00 17.6%,#ffdd00 20.4%,#ffff00 22.8%,#eaff00 24.3%,#61ff00 25.6%,#22ff00 28.3%,#11ff00 31.7%,#2cff00 36%,#baff00 45.5%,#f1ff00 50.2%,#ffff00 55.4%,#fffc00 56.4%,#ffff00 57.5%,#edff00 64.3%,#e1ff00 81.5%,#e3ff00 100%)"></i><i style="left:321px;width:3px;background:linear-gradient(#ff00f2 0%,#ff00ff 0.5%,#ab00ff 3.4%,#5a00ff 5.1%,#5100ff 5.5%,#6300ff 6%,#0700ff 8%,#0000ff 8%,#00d7ff 9.7%,#00ffff 10%,#00ff37 11.3%,#00ff00 12.8%,#ffff00 14.9%,#fff800 14.9%,#ff8e00 17.6%,#ffdd00 20.4%,#ffff00 22.8%,#eaff00 24.3%,#61ff00 25.6%,#22ff00 28.3%,#11ff00 31.7%,#2cff00 36%,#baff00 45.5%,#f1ff00 50.2%,#ffff00 55.4%,#fffc00 56.4%,#ffff00 57.5%,#edff00 64.3%,#e1ff00 81.5%,#e3ff00 100%)"></i><i style="left:324px;width:3px;background:linear-gradient(#ff00f2 0%,#ff00ff 0.4%,#ab00ff 3.5%,#5600ff 5.2%,#4d00ff 5.6%,#6000ff 6%,#0300ff 8%,#0000ff 8%,#00daff 9.7%,#00ffff 10%,#00ff37 11.3%,#00ff00 12.8%,#ffff00 14.9%,#fff800 14.9%,#ff8f00 17.6%,#ffdd00 20.4%,#ffff00 22.8%,#eaff00 24.3%,#61ff00 25.7%,#22ff00 28.3%,#11ff00 31.7%,#2cff00 36%,#baff00 45.5%,#f1ff00 50.2%,#ffff00 55.4%,#fffc00 56.5%,#ffff00 57.5%,#ecff00 64.3%,#e3ff00 100%)"></i><i style="left:327px;width:3px;background:linear-gradient(#ff00f3 0%,#ff00ff 0.4%,#aa00ff 3.5%,#5300ff 5.3%,#4900ff 5.7%,#5e00ff 6.1%,#0000ff 8%,#0000ff 8%,#00deff 9.8%,#00ffff 10%,#00ff37 11.3%,#00ff00 12.9%,#ffff00 14.9%,#fff800 15%,#ff8f00 17.6%,#ffdd00 20.4%,#ffff00 22.8%,#eaff00 24.3%,#60ff00 25.7%,#22ff00 28.3%,#11ff00 31.7%,#2cff00 36%,#baff00 45.5%,#f1ff00 50.2%,#ffff00 55.4%,#fffc00 56.5%,#ffff00 57.5%,#ecff00 64.3%,#e3ff00 100%)"></i><i style="left:330px;width:3px;background:linear-gradient(#ff00f4 0%,#ff00ff 0.4%,#a900ff 3.6%,#5000ff 5.3%,#4500ff 5.8%,#5b00ff 6.2%,#0000ff 8%,#0003ff 8.1%,#00e1ff 9.8%,#00ffff 10%,#00ff37 11.3%,#00ff00 12.9%,#ffff00 14.9%,#fff800 15%,#ff8f00 17.6%,#ffdd00 20.4%,#ffff00 22.9%,#eaff00 24.4%,#60ff00 25.7%,#22ff00 28.3%,#11ff00 31.7%,#2cff00 36%,#baff00 45.5%,#f1ff00 50.2%,#ffff00 55.5%,#fffc00 56.5%,#ffff00 57.5%,#ecff00 64.3%,#e3ff00 100%)"></i><i style="left:333px;width:3px;background:linear-gradient(#ff00f5 0%,#ff00ff 0.4%,#a800ff 3.7%,#4c00ff 5.4%,#4000ff 5.8%,#5900ff 6.3%,#0000ff 8%,#0007ff 8.1%,#00e4ff 9.8%,#00ffff 10%,#00ff37 11.3%,#00ff00 13%,#ffff00 14.9%,#fff800 15%,#ff9000 17.6%,#ffdd00 20.4%,#ffff00 22.9%,#eaff00 24.4%,#60ff00 25.7%,#22ff00 28.3%,#11ff00 31.7%,#2cff00 36%,#baff00 45.5%,#f1ff00 50.2%,#ffff00 55.5%,#fffc00 56.5%,#ffff00 57.5%,#ebff00 64.3%,#e3ff00 100%)"></i><i style="left:336px;width:3px;background:linear-gradient(#ff00f6 0%,#ff00ff 0.4%,#a700ff 3.8%,#4900ff 5.5%,#3c00ff 5.9%,#5600ff 6.3%,#0000ff 7.9%,#000aff 8.1%,#00e8ff 9.8%,#00ffff 10%,#00ff37 11.3%,#00ff00 13%,#ffff00 14.9%,#fff800 15%,#ff9000 17.6%,#ffdd00 20.4%,#ffff00 22.9%,#eaff00 24.4%,#60ff00 25.7%,#22ff00 28.3%,#11ff00 31.7%,#2cff00 36%,#baff00 45.5%,#f1ff00 50.2%,#ffff00 55.5%,#fffc00 56.6%,#ffff00 57.5%,#ebff00 64.3%,#e3ff00 100%)"></i><i style="left:339px;width:3px;background:linear-gradient(#ff00f7 0%,#ff00ff 0.3%,#a600ff 3.8%,#4600ff 5.6%,#3800ff 6%,#5400ff 6.4%,#0000ff 7.9%,#000dff 8.1%,#00ebff 9.9%,#00ffff 10%,#00ff37 11.4%,#00ff00 13.1%,#ffff00 15%,#fff800 15%,#ff9100 17.6%,#ffdd00 20.4%,#ffff00 22.9%,#eaff00 24.4%,#61ff00 25.7%,#22ff00 28.3%,#11ff00 31.7%,#2cff00 36%,#baff00 45.5%,#f1ff00 50.2%,#ffff00 55.5%,#fffc00 56.6%,#ffff00 57.5%,#eaff00 64.3%,#e3ff00 100%)"></i><i style="left:342px;width:3px;background:linear-gradient(#ff00f7 0%,#ff00ff 0.3%,#a600ff 3.9%,#4500ff 5.6%,#3700ff 6%,#5000ff 6.5%,#0000ff 7.9%,#000fff 8.2%,#00ecff 9.9%,#00ffff 10%,#00ff3a 11.4%,#00ff01 13.1%,#00ff00 13.1%,#ffff00 15%,#fff800 15%,#ff9100 17.6%,#ffdd00 20.4%,#ffff00 22.9%,#eaff00 24.5%,#61ff00 25.7%,#22ff00 28.3%,#11ff00 31.7%,#2cff00 36%,#baff00 45.5%,#f1ff00 50.2%,#ffff00 55.5%,#fffc00 56.6%,#ffff00 57.5%,#eaff00 64.3%,#e4ff00 100%)"></i><i style="left:345px;width:3px;background:linear-gradient(#ff00f7 0%,#ff00ff 0.3%,#a600ff 3.9%,#4400ff 5.6%,#3600ff 6.1%,#4d00ff 6.5%,#0000ff 7.9%,#000fff 8.2%,#00ecff 9.9%,#00ffff 10%,#00ff3d 11.4%,#00ff03 13.1%,#00ff00 13.1%,#ffff00 15%,#fff800 15%,#ff9100 17.6%,#ffdd00 20.4%,#ffff00 22.9%,#eaff00 24.5%,#61ff00 25.8%,#22ff00 28.3%,#11ff00 31.7%,#2cff00 36%,#baff00 45.5%,#f1ff00 50.2%,#ffff00 55.5%,#fffc00 56.6%,#ffff00 57.5%,#eaff00 64.3%,#e4ff00 100%)"></i><i style="left:348px;width:3px;background:linear-gradient(#ff00f7 0%,#ff00ff 0.3%,#a600ff 3.9%,#4300ff 5.6%,#3500ff 6.1%,#4a00ff 6.5%,#0000ff 7.9%,#0010ff 8.2%,#00ecff 9.9%,#00ffff 10.1%,#00ff40 11.4%,#00ff04 13.1%,#00ff00 13.1%,#ffff00 15%,#fff800 15%,#ff9100 17.6%,#ffdd00 20.4%,#ffff00 22.9%,#eaff00 24.5%,#60ff00 25.8%,#22ff00 28.3%,#11ff00 31.7%,#2cff00 36%,#baff00 45.5%,#f1ff00 50.2%,#ffff00 55.5%,#fffc00 56.6%,#ffff00 57.5%,#eaff00 64.3%,#e4ff00 100%)"></i><i style="left:351px;width:3px;background:linear-gradient(#ff00f7 0%,#ff00ff 0.3%,#a600ff 4%,#4200ff 5.7%,#3400ff 6.1%,#4600ff 6.5%,#0000ff 7.9%,#0011ff 8.2%,#00ecff 10%,#00ffff 10.1%,#00ff44 11.4%,#00ff06 13.1%,#00ff00 13.2%,#ffff00 15%,#fff800 15%,#ff9100 17.6%,#ffdd00 20.4%,#ffff00 22.9%,#eaff00 24.5%,#60ff00 25.8%,#22ff00 28.3%,#11ff00 31.7%,#2cff00 36%,#baff00 45.5%,#f1ff00 50.2%,#ffff00 55.5%,#fffc00 56.6%,#ffff00 57.5%,#eaff00 64.3%,#e4ff00 100%)"></i><i style="left:354px;width:3px;background:linear-gradient(#ff00f7 0%,#ff00ff 0.3%,#a600ff 4%,#4100ff 5.7%,#3300ff 6.1%,#4300ff 6.6%,#0000ff 7.9%,#0012ff 8.3%,#00ecff 10%,#00ffff 10.1%,#00ff47 11.4%,#00ff08 13.1%,#00ff00 13.2%,#ffff00 15%,#fff800 15%,#ff9100 17.6%,#ffdd00 20.4%,#ffff00 22.9%,#eaff00 24.5%,#60ff00 25.8%,#22ff00 28.3%,#11ff00 31.7%,#2cff00 36%,#baff00 45.5%,#f1ff00 50.2%,#ffff00 55.5%,#fffc00 56.6%,#ffff00 57.5%,#eaff00 64.3%,#e5ff00 100%)"></i><i style="left:357px;width:3px;background:linear-gradient(#ff00f7 0%,#ff00ff 0.3%,#a600ff 4%,#4000ff 5.7%,#3300ff 6.2%,#4000ff 6.6%,#0000ff 7.9%,#0013ff 8.3%,#00ecff 10%,#00ffff 10.1%,#00ff4a 11.4%,#00ff09 13.2%,#00ff00 13.2%,#ffff00 15%,#fff800 15%,#ff9100 17.6%,#ffdd00 20.4%,#ffff00 23%,#eaff00 24.5%,#61ff00 25.8%,#22ff00 28.3%,#11ff00 31.7%,#2cff00 36%,#baff00 45.5%,#f1ff00 50.2%,#ffff00 55.5%,#fffc00 56.6%,#ffff00 57.5%,#eaff00 64.3%,#e5ff00 100%)"></i><i style="left:360px;width:3px;background:linear-gradient(#ff00f7 0%,#ff00ff 0.3%,#a300ff 4%,#4000ff 5.8%,#3200ff 6.2%,#3c00ff 6.6%,#0000ff 7.9%,#0014ff 8.3%,#00ecff 10%,#00ffff 10.2%,#00ff4e 11.4%,#00ff0b 13.2%,#00ff00 13.2%,#ffff00 15%,#fff800 15%,#ff9100 17.6%,#ffdd00 20.4%,#ffff00 23%,#eaff00 24.5%,#61ff00 25.8%,#22ff00 28.3%,#11ff00 31.7%,#2cff00 36%,#baff00 45.5%,#f1ff00 50.2%,#ffff00 55.5%,#fffc00 56.6%,#ffff00 57.5%,#eaff00 64.3%,#e5ff00 100%)"></i><i style="left:363px;width:3px;background:linear-gradient(#ff00f7 0%,#ff00ff 0.3%,#9e00ff 4.1%,#3f00ff 5.8%,#3100ff 6.2%,#3900ff 6.6%,#0000ff 7.9%,#0014ff 8.3%,#00ecff 10.1%,#00ffff 10.2%,#00ff51 11.5%,#00ff0d 13.2%,#00ff00 13.3%,#ffff00 15%,#fff800 15%,#ff9100 17.6%,#ffdd00 20.4%,#ffff00 23%,#eaff00 24.5%,#61ff00 25.8%,#22ff00 28.3%,#11ff00 31.7%,#2cff00 36%,#baff00 45.5%,#f1ff00 50.2%,#ffff00 55.5%,#fffc00 56.6%,#ffff00 57.5%,#eaff00 64.3%,#e5ff00 100%)"></i><i style="left:366px;width:3px;background:linear-gradient(#ff00f7 0%,#ff00ff 0.4%,#ca00ff 2.6%,#9400ff 4.1%,#3a00ff 5.8%,#3600ff 6.7%,#0000ff 7.9%,#0015ff 8.4%,#00ecff 10.1%,#00ffff 10.2%,#00ff54 11.5%,#00ff0e 13.2%,#00ff00 13.3%,#ffff00 15%,#fff800 15%,#ff9100 17.6%,#ffdd00 20.4%,#ffff00 23%,#eaff00 24.6%,#60ff00 25.8%,#22ff00 28.3%,#11ff00 31.7%,#2cff00 36%,#baff00 45.5%,#f1ff00 50.2%,#ffff00 55.5%,#fffc00 56.6%,#ffff00 57.5%,#eaff00 64.3%,#e6ff00 100%)"></i><i style="left:369px;width:3px;background:linear-gradient(#ff00f7 0%,#ff00ff 0.4%,#d500ff 2.1%,#3600ff 5.8%,#3200ff 6.7%,#0000ff 7.9%,#0016ff 8.4%,#00ecff 10.1%,#00ffff 10.3%,#00ff57 11.5%,#00ff10 13.2%,#00ff00 13.3%,#ffff00 15%,#fff800 15%,#ff9100 17.6%,#ffdd00 20.4%,#ffff00 23%,#eaff00 24.6%,#60ff00 25.9%,#22ff00 28.3%,#11ff00 31.7%,#2cff00 36%,#baff00 45.5%,#f1ff00 50.2%,#ffff00 55.5%,#fffc00 56.6%,#ffff00 57.5%,#eaff00 64.3%,#e6ff00 100%)"></i><i style="left:372px;width:3px;background:linear-gradient(#ff00f7 0%,#ff00ff 0.4%,#d500ff 2.1%,#4800ff 4.7%,#2a00ff 6.3%,#2f00ff 6.7%,#0000ff 7.9%,#0017ff 8.4%,#00ecff 10.1%,#00ffff 10.3%,#00ff5b 11.5%,#00ff12 13.2%,#00ff00 13.3%,#ffff00 15%,#fff800 15%,#ff9100 17.6%,#ffdd00 20.4%,#ffff00 23%,#eaff00 24.6%,#60ff00 25.9%,#22ff00 28.3%,#11ff00 31.7%,#2cff00 36%,#baff00 45.5%,#f1ff00 50.2%,#ffff00 55.5%,#fffc00 56.6%,#ffff00 57.5%,#eaff00 64.3%,#e6ff00 100%)"></i><i style="left:375px;width:3px;background:linear-gradient(#ff00f7 0%,#ff00ff 0.4%,#df00ff 1.7%,#bd00ff 2.6%,#3400ff 4.3%,#2600ff 4.7%,#2c00ff 6.7%,#0000ff 7.8%,#0018ff 8.5%,#00ecff 10.2%,#00ffff 10.3%,#00ff5e 11.5%,#00ff13 13.2%,#00ff00 13.4%,#ffff00 15%,#fff800 15%,#ff9100 17.6%,#ffdd00 20.4%,#ffff00 23%,#eaff00 24.6%,#61ff00 25.9%,#22ff00 28.3%,#11ff00 31.7%,#2cff00 36%,#baff00 45.5%,#f1ff00 50.2%,#ffff00 55.5%,#fffc00 56.6%,#ffff00 57.5%,#eaff00 64.3%,#e6ff00 100%)"></i><i style="left:378px;width:3px;background:linear-gradient(#ff00f7 0%,#ff00ff 0.4%,#e000ff 1.7%,#b600ff 2.6%,#8f00ff 3%,#2300ff 3.9%,#0300ff 4.3%,#0000ff 4.4%,#0006ff 4.7%,#0000ff 4.9%,#2b00ff 6.1%,#2800ff 6.8%,#0000ff 7.8%,#0019ff 8.5%,#00ffff 10.3%,#00ff61 11.5%,#00ff15 13.2%,#00ff00 13.4%,#ffff00 15%,#fff800 15%,#ff9100 17.6%,#ffdd00 20.4%,#ffff00 23%,#eaff00 24.6%,#61ff00 25.9%,#22ff00 28.3%,#11ff00 31.7%,#2cff00 36%,#baff00 45.5%,#f1ff00 50.2%,#ffff00 55.5%,#fffc00 56.6%,#ffff00 57.5%,#eaff00 64.3%,#e7ff00 100%)"></i><i style="left:381px;width:3px;background:linear-gradient(#ff00f7 0%,#ff00ff 0.4%,#e000ff 1.7%,#af00ff 2.6%,#7d00ff 3%,#0000ff 3.8%,#000dff 3.9%,#0033ff 4.3%,#0035ff 4.7%,#0000ff 5.4%,#0b00ff 5.6%,#2500ff 6.1%,#2500ff 6.8%,#0000ff 7.8%,#0019ff 8.5%,#00ffff 10.3%,#00ff65 11.5%,#00ff17 13.3%,#00ff00 13.4%,#ffff00 15%,#fff800 15%,#ff9100 17.6%,#ffdd00 20.4%,#ffff00 23%,#eaff00 24.6%,#61ff00 25.9%,#22ff00 28.3%,#11ff00 31.7%,#2cff00 36%,#baff00 45.5%,#f1ff00 50.2%,#ffff00 55.5%,#fffc00 56.6%,#ffff00 57.5%,#eaff00 64.3%,#e7ff00 100%)"></i><i style="left:384px;width:3px;background:linear-gradient(#ff00f7 0%,#ff00ff 0.4%,#e000ff 1.7%,#a900ff 2.6%,#6e00ff 3%,#0000ff 3.6%,#0038ff 3.9%,#0063ff 4.3%,#005fff 4.7%,#0004ff 5.6%,#0000ff 5.6%,#2100ff 6.2%,#2000ff 6.9%,#0000ff 7.8%,#001aff 8.5%,#00ffff 10.3%,#00ff68 11.6%,#00ff18 13.3%,#00ff00 13.4%,#ffff00 15%,#fff800 15%,#ff9100 17.6%,#ffdd00 20.4%,#ffff00 23%,#eaff00 24.6%,#60ff00 25.9%,#22ff00 28.3%,#11ff00 31.7%,#2cff00 36%,#baff00 45.5%,#f1ff00 50.2%,#ffff00 55.5%,#fffc00 56.6%,#ffff00 57.5%,#eaff00 64.3%,#e7ff00 100%)"></i><i style="left:387px;width:3px;background:linear-gradient(#ff00f7 0%,#ff00ff 0.4%,#e000ff 1.7%,#a500ff 2.6%,#6300ff 3%,#0000ff 3.5%,#0055ff 3.9%,#0083ff 4.3%,#007bff 4.7%,#000eff 5.6%,#0000ff 5.8%,#1f00ff 6.2%,#1e00ff 6.9%,#0000ff 7.7%,#001bff 8.6%,#00ffff 10.4%,#00ff6b 11.6%,#00ff1a 13.3%,#00ff00 13.4%,#ffff00 15%,#fff800 15%,#ff9100 17.6%,#ffdd00 20.4%,#ffff00 23%,#eaff00 24.6%,#60ff00 25.9%,#22ff00 28.3%,#11ff00 31.7%,#2cff00 36%,#baff00 45.5%,#f1ff00 50.2%,#ffff00 55.5%,#fffc00 56.6%,#ffff00 57.5%,#eaff00 64.3%,#e7ff00 100%)"></i><i style="left:390px;width:3px;background:linear-gradient(#ff00f7 0%,#ff00ff 0.4%,#e000ff 1.7%,#a400ff 2.6%,#6100ff 3%,#0000ff 3.4%,#005dff 3.9%,#008aff 4.3%,#0082ff 4.7%,#0010ff 5.6%,#0000ff 5.8%,#1f00ff 6.2%,#1b00ff 6.9%,#0000ff 7.7%,#001dff 8.6%,#00ffff 10.4%,#00ff6e 11.6%,#00ff1b 13.3%,#00ff00 13.5%,#ffff00 15%,#fff800 15%,#ff9100 17.6%,#ffdd00 20.4%,#ffff00 23%,#eaff00 24.7%,#60ff00 25.9%,#22ff00 28.3%,#11ff00 31.7%,#2cff00 36%,#baff00 45.5%,#f1ff00 50.2%,#ffff00 55.5%,#fffc00 56.6%,#ffff00 57.5%,#eaff00 64.3%,#e8ff00 100%)"></i><i style="left:393px;width:3px;background:linear-gradient(#ff00f7 0%,#ff00ff 0.4%,#e000ff 1.7%,#a600ff 2.6%,#6600ff 3%,#0000ff 3.5%,#004dff 3.9%,#0079ff 4.3%,#0074ff 4.7%,#000cff 5.6%,#0000ff 5.7%,#1e00ff 6.1%,#1500ff 6.9%,#0000ff 7.5%,#0023ff 8.5%,#00eeff 10.3%,#00ffff 10.4%,#00ff70 11.6%,#00ff1b 13.3%,#00ff00 13.5%,#ffff00 15%,#fff800 15%,#ff9100 17.6%,#ffdc00 20.3%,#ffff00 23.1%,#ebff00 24.6%,#60ff00 25.9%,#22ff00 28.3%,#11ff00 31.7%,#2cff00 36%,#baff00 45.5%,#f1ff00 50.2%,#ffff00 55.5%,#fffc00 56.6%,#ffff00 57.5%,#eaff00 64.3%,#e9ff00 100%)"></i><i style="left:396px;width:3px;background:linear-gradient(#ff00f7 0%,#ff00ff 0.4%,#e000ff 1.7%,#ab00ff 2.6%,#7300ff 3%,#0000ff 3.6%,#002aff 3.9%,#0052ff 4.3%,#0052ff 4.7%,#0000ff 5.6%,#0000ff 5.6%,#1f00ff 6.1%,#0000ff 7.1%,#002aff 8.5%,#00efff 10.3%,#00ffff 10.4%,#00ff71 11.6%,#00ff1b 13.3%,#00ff00 13.5%,#ffff00 15%,#fff800 15%,#ff9200 17.6%,#ffdd00 20.3%,#ffff00 23.1%,#ecff00 24.6%,#60ff00 25.9%,#22ff00 28.3%,#11ff00 31.7%,#2cff00 36%,#baff00 45.5%,#f1ff00 50.2%,#ffff00 55.5%,#fffc00 56.6%,#ffff00 57.5%,#eaff00 64.3%,#eaff00 100%)"></i><i style="left:399px;width:3px;background:linear-gradient(#ff00f7 0%,#ff00ff 0.4%,#e000ff 1.7%,#b200ff 2.6%,#8400ff 3%,#0400ff 3.9%,#0000ff 3.9%,#001fff 4.3%,#0024ff 4.7%,#0000ff 5.4%,#2300ff 6%,#0000ff 7%,#0031ff 8.5%,#00f1ff 10.3%,#00ffff 10.4%,#00ff73 11.6%,#00ff1b 13.3%,#00ff00 13.5%,#ffff00 15%,#fff800 15%,#ff9200 17.6%,#ffdd00 20.3%,#ffff00 23.1%,#edff00 24.6%,#60ff00 25.9%,#22ff00 28.3%,#11ff00 31.7%,#2cff00 36%,#baff00 45.5%,#f1ff00 50.2%,#ffff00 55.5%,#fffc00 56.6%,#ffff00 57.5%,#eaff00 64.3%,#e2ff00 81.5%,#ebff00 100%)"></i><i style="left:402px;width:3px;background:linear-gradient(#ff00f7 0%,#ff00ff 0.4%,#e000ff 1.7%,#b900ff 2.6%,#9500ff 3%,#3400ff 3.9%,#1700ff 4.3%,#0b00ff 4.7%,#2900ff 6%,#0000ff 7%,#0037ff 8.4%,#00f2ff 10.3%,#00ffff 10.4%,#00ff75 11.6%,#00ff1b 13.3%,#00ff00 13.5%,#ffff00 15%,#fff800 15%,#ff9200 17.6%,#ffde00 20.3%,#ffff00 23.1%,#eeff00 24.6%,#60ff00 25.9%,#22ff00 28.3%,#11ff00 31.7%,#2cff00 36%,#baff00 45.5%,#f1ff00 50.2%,#ffff00 55.5%,#fffc00 56.6%,#ffff00 57.5%,#eaff00 64.3%,#e2ff00 81.5%,#ecff00 100%)"></i><i style="left:405px;width:3px;background:linear-gradient(#ff00f7 0%,#ff00ff 0.3%,#d200ff 2.1%,#a500ff 3%,#4600ff 4.3%,#3400ff 4.7%,#3000ff 5.9%,#0600ff 6.6%,#0000ff 6.8%,#003eff 8.4%,#00f4ff 10.4%,#00ffff 10.4%,#00ff76 11.6%,#00ff1b 13.3%,#00ff00 13.5%,#ffff00 15%,#fff800 15%,#ff9300 17.6%,#ffdf00 20.2%,#ffff00 23.1%,#efff00 24.6%,#60ff00 25.9%,#22ff00 28.3%,#11ff00 31.7%,#2cff00 36%,#baff00 45.5%,#f1ff00 50.2%,#ffff00 55.5%,#fffc00 56.6%,#ffff00 57.5%,#eaff00 64.3%,#e1ff00 81.5%,#edff00 100%)"></i><i style="left:408px;width:3px;background:linear-gradient(#ff00f7 0%,#ff00ff 0.4%,#d600ff 2.1%,#5300ff 4.7%,#3700ff 5.8%,#0200ff 6.5%,#0000ff 6.6%,#0045ff 8.3%,#00f6ff 10.4%,#00ffff 10.4%,#00ff78 11.6%,#00ff1b 13.3%,#00ff00 13.5%,#ffff00 15%,#fff800 15%,#ff9300 17.6%,#ffdf00 20.2%,#ffff00 23.1%,#efff00 24.6%,#60ff00 25.9%,#22ff00 28.3%,#11ff00 31.7%,#2cff00 36%,#baff00 45.5%,#f1ff00 50.2%,#ffff00 55.5%,#fffc00 56.6%,#ffff00 57.5%,#eaff00 64.3%,#e1ff00 81.5%,#eeff00 100%)"></i><i style="left:411px;width:3px;background:linear-gradient(#ff00f7 0%,#ff00ff 0.4%,#d600ff 2.1%,#8800ff 4.2%,#3c00ff 5.8%,#0000ff 6.5%,#0002ff 6.5%,#004cff 8.3%,#00f7ff 10.4%,#00ffff 10.4%,#00ff79 11.6%,#00ff1b 13.3%,#00ff00 13.5%,#ffff00 15%,#fff800 15%,#ff9400 17.6%,#ffe000 20.2%,#ffff00 23.2%,#f0ff00 24.6%,#60ff00 25.9%,#22ff00 28.3%,#11ff00 31.7%,#2cff00 36%,#baff00 45.5%,#f1ff00 50.2%,#ffff00 55.5%,#fffc00 56.6%,#ffff00 57.5%,#eaff00 64.3%,#e0ff00 81.5%,#efff00 100%)"></i><i style="left:414px;width:3px;background:linear-gradient(#ff00f7 0%,#ff00ff 0.4%,#cc00ff 2.6%,#9700ff 4.2%,#4100ff 5.7%,#0000ff 6.4%,#0006ff 6.4%,#0052ff 8.3%,#00f9ff 10.4%,#00ffff 10.4%,#00ff7b 11.6%,#00ff1b 13.3%,#00ff00 13.5%,#ffff00 15%,#fff800 15%,#ff9400 17.6%,#ffe000 20.2%,#ffff00 23.2%,#f1ff00 24.6%,#60ff00 25.9%,#22ff00 28.3%,#11ff00 31.7%,#2cff00 36%,#baff00 45.5%,#f1ff00 50.2%,#ffff00 55.5%,#fffc00 56.6%,#ffff00 57.5%,#eaff00 64.3%,#e0ff00 81.5%,#f0ff00 100%)"></i><i style="left:417px;width:3px;background:linear-gradient(#ff00f7 0%,#ff00ff 0.3%,#9f00ff 4.2%,#4700ff 5.6%,#0000ff 6.3%,#000aff 6.4%,#0059ff 8.2%,#00fbff 10.4%,#00ffff 10.4%,#00ff7d 11.6%,#00ff1b 13.3%,#00ff00 13.5%,#ffff00 15%,#fff800 15%,#ff9500 17.6%,#ffe100 20.1%,#ffff00 23.2%,#f2ff00 24.5%,#60ff00 25.9%,#22ff00 28.3%,#11ff00 31.7%,#2cff00 36%,#baff00 45.5%,#f1ff00 50.2%,#ffff00 55.5%,#fffc00 56.6%,#ffff00 57.5%,#eaff00 64.3%,#e0ff00 81.5%,#f1ff00 100%)"></i><i style="left:420px;width:3px;background:linear-gradient(#ff00f7 0%,#ff00ff 0.4%,#a600ff 4.2%,#4800ff 5.6%,#0000ff 6.2%,#000fff 6.3%,#005fff 8.2%,#00fcff 10.4%,#00ffff 10.4%,#00ff7e 11.6%,#00ff1b 13.3%,#00ff00 13.5%,#ffff00 15%,#fff800 15%,#ff9500 17.6%,#ffe100 20.1%,#ffff00 23.2%,#f3ff00 24.5%,#60ff00 25.9%,#22ff00 28.3%,#11ff00 31.7%,#2cff00 36%,#baff00 45.5%,#f1ff00 50.2%,#ffff00 55.5%,#fffc00 56.6%,#ffff00 57.5%,#eaff00 64.3%,#dfff00 81.5%,#f2ff00 100%)"></i><i style="left:423px;width:3px;background:linear-gradient(#ff00f7 0%,#ff00ff 0.4%,#a600ff 4.1%,#4a00ff 5.5%,#0000ff 6.1%,#0013ff 6.3%,#0066ff 8.1%,#00feff 10.4%,#00ffff 10.4%,#00ff80 11.6%,#00ff1b 13.3%,#00ff00 13.5%,#ffff00 15%,#fff800 15%,#ff9500 17.6%,#ffe200 20.1%,#ffff00 23.3%,#f4ff00 24.5%,#60ff00 25.9%,#22ff00 28.3%,#11ff00 31.7%,#2cff00 36%,#baff00 45.5%,#f1ff00 50.2%,#ffff00 55.5%,#fffc00 56.6%,#ffff00 57.5%,#eaff00 64.3%,#dfff00 81.5%,#f3ff00 100%)"></i><i style="left:426px;width:3px;background:linear-gradient(#ff00f7 0%,#ff00ff 0.4%,#a600ff 4.1%,#4b00ff 5.4%,#0000ff 6%,#0017ff 6.2%,#006dff 8.1%,#00ffff 10.4%,#00fffe 10.4%,#00ff82 11.6%,#00ff1b 13.3%,#00ff00 13.5%,#ffff00 15%,#fff800 15%,#ff9600 17.6%,#ffe200 20.1%,#ffff00 23.3%,#f4ff00 24.5%,#60ff00 25.9%,#22ff00 28.3%,#11ff00 31.7%,#2cff00 36%,#baff00 45.5%,#f1ff00 50.2%,#ffff00 55.5%,#fffc00 56.6%,#ffff00 57.5%,#eaff00 64.3%,#deff00 81.5%,#f4ff00 100%)"></i><i style="left:429px;width:3px;background:linear-gradient(#ff00f7 0%,#ff00ff 0.4%,#a600ff 4.1%,#4d00ff 5.4%,#0000ff 6%,#001bff 6.2%,#0073ff 8.1%,#00ffff 10.4%,#00fffd 10.5%,#00ff83 11.6%,#00ff1b 13.3%,#00ff00 13.5%,#ffff00 15%,#fff800 15%,#ff9600 17.6%,#ffe200 20%,#ffff00 23.4%,#f5ff00 24.5%,#60ff00 25.9%,#22ff00 28.3%,#11ff00 31.7%,#2cff00 36%,#baff00 45.5%,#f1ff00 50.2%,#ffff00 55.5%,#fffc00 56.6%,#ffff00 57.5%,#eaff00 64.3%,#deff00 81.5%,#f5ff00 100%)"></i><i style="left:432px;width:3px;background:linear-gradient(#ff00f7 0%,#ff00ff 0.4%,#a600ff 4.1%,#4f00ff 5.3%,#0000ff 5.9%,#001fff 6.1%,#007aff 8%,#00ffff 10.4%,#00fffb 10.5%,#00ff85 11.6%,#00ff1b 13.3%,#00ff00 13.5%,#ffff00 15%,#fff800 15%,#ff9700 17.6%,#ffe300 20%,#ffff00 23.4%,#f6ff00 24.5%,#60ff00 25.9%,#22ff00 28.3%,#11ff00 31.7%,#2cff00 36%,#baff00 45.5%,#f1ff00 50.2%,#ffff00 55.5%,#fffc00 56.6%,#ffff00 57.5%,#eaff00 64.3%,#deff00 81.5%,#f6ff00 100%)"></i><i style="left:435px;width:3px;background:linear-gradient(#ff00f7 0%,#ff00ff 0.4%,#a600ff 4.1%,#5100ff 5.2%,#0000ff 5.8%,#0023ff 6.1%,#00ffff 10.4%,#00fff9 10.5%,#00ff87 11.6%,#00ff1b 13.3%,#00ff00 13.5%,#ffff00 15%,#fff800 15%,#ff9700 17.6%,#ffe300 20%,#ffff00 23.4%,#f7ff00 24.5%,#60ff00 25.9%,#22ff00 28.3%,#11ff00 31.7%,#2cff00 36%,#baff00 45.5%,#f1ff00 50.2%,#ffff00 55.5%,#fffc00 56.6%,#ffff00 57.5%,#eaff00 64.3%,#ddff00 81.5%,#f8ff00 100%)"></i><i style="left:438px;width:3px;background:linear-gradient(#ff00f7 0%,#ff00ff 0.3%,#a600ff 4.1%,#5200ff 5.2%,#0000ff 5.8%,#0027ff 6%,#00ffff 10.3%,#00fff8 10.5%,#00ff88 11.6%,#00ff1b 13.3%,#00ff00 13.5%,#ffff00 15%,#fff800 15%,#ff9700 17.6%,#ffe300 20%,#ffff00 23.5%,#f7ff00 24.5%,#60ff00 25.9%,#22ff00 28.3%,#11ff00 31.7%,#2cff00 36%,#baff00 45.5%,#f1ff00 50.2%,#ffff00 55.5%,#fffc00 56.6%,#ffff00 57.5%,#eaff00 64.3%,#ddff00 81.5%,#fcff00 100%)"></i><i style="left:441px;width:3px;background:linear-gradient(#ff00f7 0%,#ff00ff 0.3%,#a600ff 4.1%,#5300ff 5.1%,#0000ff 5.7%,#002bff 6%,#00ffff 10.3%,#00fff7 10.5%,#00ff8a 11.6%,#00ff1b 13.3%,#00ff00 13.5%,#ffff00 15%,#fff800 15%,#ff9900 17.6%,#ffe300 19.9%,#ffff00 23.6%,#f9ff00 24.4%,#61ff00 25.9%,#22ff00 28.3%,#11ff00 31.7%,#2cff00 36%,#baff00 45.5%,#f1ff00 50.2%,#ffff00 55.5%,#fffc00 56.6%,#ffff00 57.5%,#eaff00 64.3%,#ddff00 81.5%,#ffff00 99.2%,#fffe00 100%)"></i><i style="left:444px;width:3px;background:linear-gradient(#ff00f7 0%,#ff00ff 0.3%,#a600ff 4.1%,#5300ff 5.1%,#0000ff 5.7%,#002fff 6%,#00ffff 10.3%,#00fff7 10.5%,#00ff8c 11.6%,#00ff1b 13.3%,#00ff00 13.5%,#ffff00 15%,#fff900 15%,#ff9b00 17.6%,#ffe300 19.9%,#ffff00 23.7%,#f9ff00 24.4%,#61ff00 25.9%,#22ff00 28.3%,#11ff00 31.7%,#2cff00 36%,#baff00 45.5%,#f1ff00 50.2%,#ffff00 55.5%,#fffc00 56.6%,#ffff00 57.5%,#ebff00 64.3%,#deff00 81.5%,#ffff00 96.7%,#fff800 100%)"></i><i style="left:447px;width:3px;background:linear-gradient(#ff00f7 0%,#ff00ff 0.3%,#a600ff 4%,#5300ff 5.1%,#0000ff 5.7%,#0032ff 6%,#0095ff 7.8%,#00ffff 10.3%,#00fff7 10.5%,#00ff8d 11.6%,#00ff1b 13.3%,#00ff00 13.5%,#ffff00 15%,#fff900 15%,#ff9d00 17.6%,#ffe200 19.9%,#ffff00 23.8%,#faff00 24.4%,#61ff00 25.9%,#22ff00 28.3%,#11ff00 31.7%,#2cff00 36%,#baff00 45.5%,#f1ff00 50.2%,#ffff00 55.5%,#fffc00 56.6%,#ffff00 57.5%,#ebff00 64.3%,#deff00 81.5%,#ecff00 90.3%,#ffff00 96%,#fff100 100%)"></i><i style="left:450px;width:3px;background:linear-gradient(#ff00f7 0%,#ff00ff 0.3%,#a600ff 4%,#5300ff 5.1%,#0000ff 5.6%,#0035ff 6%,#0099ff 7.8%,#00ffff 10.3%,#00fff7 10.6%,#00ff8f 11.6%,#00ff1b 13.3%,#00ff00 13.5%,#ffff00 15%,#fffa00 15%,#ff9f00 17.6%,#ffe200 19.9%,#ffe600 21.7%,#ffff00 24%,#fbff00 24.4%,#60ff00 25.9%,#22ff00 28.3%,#11ff00 31.7%,#2cff00 36%,#baff00 45.5%,#f1ff00 50.2%,#ffff00 55.5%,#fffc00 56.6%,#ffff00 57.5%,#ebff00 64.3%,#dfff00 81.5%,#ecff00 90.3%,#ffff00 94%,#ffef00 97.2%,#ffee00 100%)"></i><i style="left:453px;width:3px;background:linear-gradient(#ff00f7 0%,#ff00ff 0.3%,#a600ff 4%,#5300ff 5.1%,#0000ff 5.6%,#0039ff 5.9%,#009dff 7.8%,#00ffff 10.3%,#00fff7 10.6%,#00ff90 11.6%,#00ff1b 13.3%,#00ff00 13.5%,#ffff00 15%,#fffa00 15%,#ffa100 17.6%,#ffe100 19.9%,#ffe500 21.7%,#ffff00 24.2%,#fdff00 24.4%,#60ff00 25.9%,#22ff00 28.3%,#11ff00 31.7%,#2cff00 36%,#baff00 45.5%,#f1ff00 50.2%,#ffff00 55.5%,#fffc00 56.6%,#ffff00 57.5%,#ebff00 64.3%,#e0ff00 81.5%,#ecff00 90.3%,#ffff00 94%,#ffef00 97.2%,#ffee00 100%)"></i><i style="left:456px;width:3px;background:linear-gradient(#ff00f7 0%,#ff00ff 0.3%,#a600ff 4%,#5300ff 5.1%,#0000ff 5.6%,#003cff 5.9%,#00a1ff 7.7%,#00ffff 10.3%,#00fff7 10.6%,#00ff92 11.6%,#00ff1b 13.3%,#00ff00 13.5%,#ffff00 15%,#fffa00 15%,#ffa300 17.6%,#ffe100 19.9%,#ffe000 21.3%,#ffff00 24.3%,#feff00 24.4%,#60ff00 25.9%,#22ff00 28.3%,#11ff00 31.7%,#2cff00 36%,#baff00 45.5%,#f1ff00 50.2%,#ffff00 55.5%,#fffc00 56.6%,#ffff00 57.5%,#ebff00 64.3%,#e0ff00 81.5%,#ecff00 90.3%,#ffff00 96.2%,#fff300 100%)"></i><i style="left:459px;width:3px;background:linear-gradient(#ff00f7 0%,#ff00ff 0.3%,#a600ff 4%,#5300ff 5.1%,#3800ff 5.3%,#0000ff 5.6%,#003fff 5.9%,#00a5ff 7.7%,#00ffff 10.3%,#00fff7 10.6%,#00ff94 11.6%,#00ff1b 13.3%,#00ff00 13.5%,#ffff00 15%,#fffb00 15%,#ffa500 17.6%,#ffe000 19.9%,#ffde00 21.3%,#ffff00 24.4%,#ffff00 24.4%,#61ff00 25.9%,#22ff00 28.3%,#11ff00 31.7%,#2cff00 36%,#baff00 45.5%,#f1ff00 50.2%,#ffff00 55.5%,#fffc00 56.6%,#ffff00 57.6%,#ebff00 64.3%,#e1ff00 81.5%,#ffff00 97.2%,#fffa00 100%)"></i><i style="left:462px;width:3px;background:linear-gradient(#ff00f7 0%,#ff00ff 0.3%,#a600ff 4%,#5300ff 5.1%,#3700ff 5.3%,#0000ff 5.6%,#0043ff 5.9%,#00aaff 7.6%,#00ffff 10.3%,#00fff7 10.6%,#00ff95 11.6%,#00ff1b 13.3%,#00ff00 13.5%,#ffff00 15%,#fffb00 15%,#ffa700 17.6%,#ffdf00 19.8%,#ffdd00 21.3%,#fffe00 24.3%,#ffff00 24.4%,#61ff00 25.8%,#22ff00 28.3%,#11ff00 31.7%,#2cff00 36%,#baff00 45.5%,#f1ff00 50.2%,#ffff00 55.5%,#fffc00 56.6%,#ffff00 57.6%,#ecff00 64.3%,#e2ff00 81.5%,#feff00 100%)"></i><i style="left:465px;width:3px;background:linear-gradient(#ff00f7 0%,#ff00ff 0.3%,#a600ff 4%,#5300ff 5%,#3800ff 5.2%,#0000ff 5.5%,#0045ff 5.9%,#00aeff 7.6%,#00ffff 10.3%,#00fff7 10.6%,#00ff97 11.6%,#00ff1b 13.3%,#00ff00 13.5%,#ffff00 15%,#fffc00 15%,#ffa900 17.6%,#ffdf00 19.8%,#ffdb00 21.3%,#fffd00 24.3%,#ffff00 24.4%,#61ff00 25.8%,#22ff00 28.3%,#11ff00 31.7%,#2cff00 36%,#baff00 45.5%,#f1ff00 50.2%,#ffff00 55.5%,#fffc00 56.6%,#ffff00 57.6%,#ecff00 64.3%,#e2ff00 81.5%,#f9ff00 100%)"></i><i style="left:468px;width:3px;background:linear-gradient(#ff00f7 0%,#ff00ff 0.3%,#a600ff 3.9%,#5300ff 5%,#3800ff 5.2%,#0000ff 5.5%,#0049ff 5.9%,#00b2ff 7.6%,#00ffff 10.3%,#00fff7 10.6%,#00ff99 11.6%,#00ff1b 13.3%,#00ff00 13.5%,#ffff00 15%,#fffc00 15%,#ffab00 17.6%,#ffde00 19.8%,#ffd900 21.3%,#fffc00 24.3%,#ffff00 24.4%,#60ff00 25.8%,#22ff00 28.3%,#11ff00 31.7%,#2cff00 36%,#baff00 45.5%,#f1ff00 50.2%,#ffff00 55.5%,#fffc00 56.6%,#ffff00 57.6%,#ecff00 64.3%,#e3ff00 81.5%,#f6ff00 100%)"></i><i style="left:471px;width:3px;background:linear-gradient(#ff00f7 0%,#ff00ff 0.3%,#a600ff 3.9%,#5300ff 5%,#3700ff 5.2%,#0000ff 5.5%,#004dff 5.9%,#00b6ff 7.5%,#00ffff 10.3%,#00fff7 10.6%,#00ff9a 11.6%,#00ff1b 13.3%,#00ff00 13.5%,#ffff00 15%,#fffc00 15%,#ffad00 17.6%,#ffdd00 19.8%,#ffd600 21.3%,#fffb00 24.3%,#ffff00 24.3%,#60ff00 25.8%,#22ff00 28.3%,#11ff00 31.7%,#2cff00 36%,#baff00 45.5%,#f1ff00 50.2%,#ffff00 55.5%,#fffc00 56.6%,#ffff00 57.6%,#ecff00 64.3%,#e3ff00 81.5%,#f4ff00 100%)"></i><i style="left:474px;width:3px;background:linear-gradient(#ff00f7 0%,#ff00ff 0.3%,#a600ff 3.9%,#5300ff 5%,#3800ff 5.2%,#0000ff 5.5%,#004fff 5.9%,#00baff 7.5%,#00ffff 10.3%,#00fff7 10.7%,#00ff9c 11.6%,#00ff1b 13.3%,#00ff00 13.5%,#ffff00 15%,#fffd00 15%,#ffaf00 17.6%,#ffdc00 19.8%,#ffd400 21.3%,#fffa00 24.3%,#ffff00 24.3%,#60ff00 25.8%,#22ff00 28.3%,#11ff00 31.7%,#2cff00 36%,#baff00 45.5%,#f1ff00 50.2%,#ffff00 55.5%,#fffc00 56.6%,#ffff00 57.6%,#ecff00 64.3%,#e4ff00 81.5%,#f3ff00 100%)"></i><i style="left:477px;width:3px;background:linear-gradient(#ff00f7 0%,#ff00ff 0.3%,#a600ff 3.9%,#5300ff 5%,#3800ff 5.2%,#0000ff 5.5%,#0053ff 5.8%,#00bfff 7.5%,#00ffff 10.3%,#00fff7 10.7%,#00ff9e 11.6%,#00ff1b 13.3%,#00ff00 13.5%,#ffff00 15%,#fffd00 15%,#ffb100 17.6%,#ffdb00 19.8%,#ffd100 21.3%,#fff800 24.3%,#ffff00 24.3%,#61ff00 25.8%,#22ff00 28.3%,#11ff00 31.7%,#2cff00 36%,#baff00 45.5%,#f1ff00 50.2%,#ffff00 55.5%,#fffc00 56.6%,#ffff00 57.6%,#ecff00 64.3%,#e5ff00 81.5%,#f3ff00 100%)"></i><i style="left:480px;width:3px;background:linear-gradient(#ff00f7 0%,#ff00ff 0.3%,#a600ff 3.9%,#5300ff 5%,#3700ff 5.2%,#0000ff 5.4%,#0057ff 5.8%,#00c3ff 7.4%,#00ffff 10.3%,#00fff7 10.7%,#00ff9f 11.6%,#00ff1b 13.3%,#00ff00 13.5%,#ffff00 15%,#fffe00 15%,#ffb200 17.6%,#ffda00 19.8%,#ffcf00 21.3%,#fff700 24.3%,#ffff00 24.3%,#61ff00 25.8%,#22ff00 28.3%,#11ff00 31.7%,#2cff00 36%,#baff00 45.5%,#f1ff00 50.2%,#ffff00 55.5%,#fffc00 56.6%,#ffff00 57.6%,#edff00 64.3%,#e5ff00 81.5%,#f3ff00 100%)"></i><i style="left:483px;width:3px;background:linear-gradient(#ff00f7 0%,#ff00ff 0.3%,#a600ff 3.9%,#5300ff 5%,#3800ff 5.2%,#0000ff 5.4%,#0059ff 5.8%,#00c7ff 7.4%,#00ffff 10.3%,#00fff7 10.7%,#00ffa1 11.6%,#00ff1b 13.3%,#00ff00 13.5%,#ffff00 15%,#fffe00 15%,#ffb400 17.6%,#ffd900 19.8%,#ffcc00 21.3%,#fff600 24.3%,#ffff00 24.3%,#61ff00 25.8%,#22ff00 28.3%,#11ff00 31.7%,#2cff00 36%,#baff00 45.5%,#f1ff00 50.2%,#ffff00 55.5%,#fffc00 56.6%,#ffff00 57.6%,#edff00 64.3%,#e6ff00 81.5%,#f2ff00 100%)"></i><i style="left:486px;width:3px;background:linear-gradient(#ff00f7 0%,#ff00ff 0.3%,#a600ff 3.9%,#5300ff 4.9%,#3700ff 5.2%,#0000ff 5.4%,#005dff 5.8%,#00cbff 7.3%,#00ffff 10.2%,#00fff7 10.7%,#00ffa3 11.6%,#00ff1b 13.3%,#00ff00 13.5%,#ffff00 15%,#ffff00 15%,#ffb600 17.6%,#ffd800 19.7%,#ffcc00 21.7%,#fff500 24.2%,#ffff00 24.3%,#61ff00 25.7%,#22ff00 28.3%,#11ff00 31.7%,#2cff00 36%,#baff00 45.5%,#f1ff00 50.2%,#ffff00 55.5%,#fffc00 56.6%,#ffff00 57.6%,#edff00 64.3%,#e7ff00 81.5%,#f2ff00 100%)"></i><i style="left:489px;width:3px;background:linear-gradient(#ff00f7 0%,#ff00ff 0.3%,#a600ff 3.9%,#5300ff 4.9%,#3700ff 5.2%,#0000ff 5.4%,#0061ff 5.8%,#00cfff 7.3%,#00ffff 10.2%,#00fff7 10.7%,#00ffa4 11.6%,#00ff1b 13.3%,#00ff00 13.5%,#ffff00 15%,#ffff00 15%,#ffb800 17.6%,#ffd700 19.7%,#ffc900 21.7%,#fff400 24.2%,#ffff00 24.3%,#60ff00 25.7%,#22ff00 28.3%,#11ff00 31.7%,#2cff00 36%,#baff00 45.5%,#f1ff00 50.2%,#ffff00 55.5%,#fffc00 56.6%,#ffff00 57.6%,#edff00 64.3%,#f2ff00 100%)"></i><i style="left:492px;width:3px;background:linear-gradient(#ff00f7 0%,#ff00ff 0.3%,#a600ff 3.8%,#5300ff 4.9%,#3800ff 5.1%,#0000ff 5.4%,#0062ff 5.8%,#00d1ff 7.3%,#00ffff 10.2%,#00fff7 10.7%,#00ffa6 11.6%,#00ff1b 13.3%,#00ff00 13.5%,#feff00 15%,#ffff00 15%,#ffba00 17.6%,#ffd600 19.7%,#ffc500 20.8%,#ffc700 21.7%,#fff300 24.2%,#ffff00 24.3%,#60ff00 25.7%,#22ff00 28.3%,#11ff00 31.7%,#2cff00 36%,#baff00 45.5%,#f1ff00 50.2%,#ffff00 55.5%,#fffc00 56.6%,#ffff00 57.6%,#edff00 64.3%,#f2ff00 100%)"></i><i style="left:495px;width:3px;background:linear-gradient(#ff00f7 0%,#ff00ff 0.3%,#a600ff 3.8%,#5300ff 4.9%,#3700ff 5.1%,#0000ff 5.4%,#0064ff 5.8%,#00d3ff 7.2%,#00ffff 10.1%,#00fff7 10.7%,#00ff1b 13.3%,#00ff00 13.5%,#feff00 15%,#ffff00 15.1%,#ffbd00 17.6%,#ffd500 19.7%,#ffc200 20.8%,#ffc400 21.7%,#fff300 24.2%,#ffff00 24.3%,#60ff00 25.7%,#22ff00 28.3%,#11ff00 31.7%,#2cff00 36%,#baff00 45.5%,#f1ff00 50.2%,#ffff00 55.5%,#fffc00 56.6%,#ffff00 57.7%,#eeff00 64.3%,#f2ff00 100%)"></i><i style="left:498px;width:3px;background:linear-gradient(#ff00f7 0%,#ff00ff 0.3%,#a600ff 3.8%,#5300ff 4.9%,#3800ff 5.1%,#0000ff 5.3%,#0065ff 5.8%,#00d5ff 7.2%,#00ffff 10.1%,#00fff7 10.6%,#00ff1b 13.3%,#00ff00 13.5%,#feff00 15%,#ffff00 15.1%,#ffbf00 17.6%,#ffd300 19.7%,#ffbe00 21.3%,#fff200 24.2%,#ffff00 24.3%,#60ff00 25.7%,#22ff00 28.3%,#11ff00 31.7%,#2cff00 36%,#baff00 45.5%,#f1ff00 50.2%,#ffff00 55.5%,#fffc00 56.6%,#ffff00 57.7%,#eeff00 64.3%,#f4ff00 100%)"></i><i style="left:501px;width:3px;background:linear-gradient(#ff00f7 0%,#ff00ff 0.3%,#a600ff 3.8%,#5300ff 4.9%,#3800ff 5.1%,#0000ff 5.3%,#0067ff 5.7%,#00d6ff 7.2%,#00ffff 10%,#00fff7 10.6%,#00ff1b 13.3%,#00ff00 13.5%,#fdff00 15.1%,#ffff00 15.1%,#ffc100 17.6%,#ffd200 19.6%,#ffbb00 21.3%,#fff200 24.2%,#ffff00 24.3%,#60ff00 25.7%,#22ff00 28.3%,#11ff00 31.7%,#2cff00 36%,#baff00 45.5%,#f1ff00 50.2%,#ffff00 55.5%,#fffc00 56.6%,#ffff00 57.7%,#eeff00 64.3%,#e9ff00 81.5%,#f6ff00 100%)"></i><i style="left:504px;width:3px;background:linear-gradient(#ff00f7 0%,#ff00ff 0.3%,#a600ff 3.8%,#5300ff 4.9%,#3700ff 5.1%,#0000ff 5.3%,#0069ff 5.7%,#00d8ff 7.2%,#00ffff 10%,#00fff7 10.6%,#00ff1b 13.3%,#00ff00 13.5%,#fdff00 15.1%,#ffff00 15.2%,#ffc400 17.6%,#ffd200 19.1%,#ffb900 20.8%,#ffc400 22.1%,#fff200 24.2%,#ffff00 24.3%,#60ff00 25.7%,#22ff00 28.3%,#11ff00 31.7%,#2cff00 36%,#baff00 45.5%,#f1ff00 50.2%,#ffff00 55.5%,#fffc00 56.6%,#ffff00 57.7%,#eeff00 64.3%,#e9ff00 81.5%,#f8ff00 100%)"></i><i style="left:507px;width:3px;background:linear-gradient(#ff00f7 0%,#ff00ff 0.3%,#a600ff 3.8%,#5300ff 4.9%,#3800ff 5.1%,#0000ff 5.3%,#006aff 5.7%,#00daff 7.1%,#00ffff 9.9%,#00fff7 10.6%,#00ff1b 13.3%,#00ff00 13.5%,#fcff00 15.1%,#ffff00 15.2%,#ffc600 17.6%,#ffd200 19.1%,#ffb400 21.3%,#ffc100 22.1%,#fff100 24.2%,#ffff00 24.3%,#60ff00 25.7%,#22ff00 28.3%,#11ff00 31.7%,#2cff00 36%,#baff00 45.5%,#f1ff00 50.2%,#ffff00 55.5%,#fffc00 56.6%,#ffff00 57.7%,#efff00 64.3%,#e9ff00 81.5%,#faff00 100%)"></i><i style="left:510px;width:3px;background:linear-gradient(#ff00f7 0%,#ff00ff 0.3%,#a600ff 3.8%,#5300ff 4.8%,#3800ff 5.1%,#0000ff 5.3%,#006cff 5.7%,#00dbff 7.1%,#00ffff 9.9%,#00fff7 10.5%,#00ff1b 13.3%,#00ff00 13.5%,#fcff00 15.1%,#ffff00 15.2%,#ffc900 17.6%,#ffd200 19.1%,#ffb300 20.8%,#ffb500 21.7%,#fff100 24.2%,#ffff00 24.4%,#60ff00 25.7%,#22ff00 28.3%,#11ff00 31.7%,#2cff00 36%,#baff00 45.5%,#f1ff00 50.2%,#ffff00 55.5%,#fffc00 56.6%,#ffff00 57.7%,#efff00 64.3%,#eaff00 81.5%,#faff00 100%)"></i><i style="left:513px;width:3px;background:linear-gradient(#ff00f7 0%,#ff00ff 0.3%,#a600ff 3.8%,#5300ff 4.8%,#3700ff 5%,#0000ff 5.3%,#006eff 5.7%,#00ddff 7.1%,#00ffff 9.8%,#00fff7 10.5%,#00ff1b 13.3%,#00ff00 13.5%,#fbff00 15.1%,#ffff00 15.3%,#ffcb00 17.6%,#ffd200 19.1%,#ffb000 20.8%,#ffb200 21.7%,#fff100 24.2%,#ffff00 24.4%,#60ff00 25.7%,#22ff00 28.3%,#11ff00 31.7%,#2cff00 36%,#baff00 45.5%,#f1ff00 50.2%,#ffff00 55.5%,#fffc00 56.6%,#ffff00 57.7%,#efff00 64.3%,#eaff00 81.5%,#f8ff00 100%)"></i><i style="left:516px;width:3px;background:linear-gradient(#ff00f7 0%,#ff00ff 0.3%,#a600ff 3.7%,#5300ff 4.8%,#3800ff 5%,#0000ff 5.2%,#006fff 5.7%,#00dfff 7.1%,#00ffff 9.8%,#00fff7 10.5%,#00ff1b 13.3%,#00ff00 13.5%,#fbff00 15.1%,#ffff00 15.3%,#ffcd00 17.6%,#ffd200 19.1%,#ffad00 20.8%,#ffaf00 21.7%,#fff000 24.2%,#ffff00 24.4%,#60ff00 25.7%,#22ff00 28.3%,#11ff00 31.7%,#2cff00 36%,#baff00 45.5%,#f1ff00 50.2%,#ffff00 55.5%,#fffc00 56.6%,#ffff00 57.8%,#efff00 64.3%,#eaff00 90.3%,#f4ff00 100%)"></i><i style="left:519px;width:3px;background:linear-gradient(#ff00f7 0%,#ff00ff 0.3%,#a600ff 3.7%,#5300ff 4.8%,#3700ff 5%,#0000ff 5.2%,#0072ff 5.7%,#00e0ff 7%,#00ffff 9.7%,#00fff7 10.5%,#00ff1b 13.3%,#00ff00 13.5%,#fbff00 15.1%,#ffff00 15.3%,#ffd000 17.6%,#ffd100 19.1%,#ffaa00 20.8%,#ffac00 21.7%,#fff000 24.2%,#ffff00 24.4%,#60ff00 25.7%,#22ff00 28.3%,#11ff00 31.7%,#2cff00 36%,#baff00 45.5%,#f1ff00 50.2%,#ffff00 55.5%,#fffc00 56.6%,#ffff00 57.8%,#f0ff00 64.3%,#f0ff00 100%)"></i><i style="left:522px;width:3px;background:linear-gradient(#ff00f7 0%,#ff00ff 0.3%,#a600ff 3.7%,#5300ff 4.8%,#3700ff 5%,#0000ff 5.2%,#0073ff 5.7%,#00e2ff 7%,#00ffff 9.7%,#00fff7 10.4%,#00ff1b 13.3%,#00ff00 13.5%,#fbff00 15.2%,#ffff00 15.4%,#ffd200 17.6%,#ffd100 19.1%,#ffa700 20.8%,#ffa900 21.7%,#ffef00 24.2%,#ffff00 24.4%,#60ff00 25.7%,#22ff00 28.3%,#11ff00 31.7%,#2cff00 36%,#baff00 45.5%,#f1ff00 50.2%,#ffff00 55.5%,#fffc00 56.6%,#ffff00 57.8%,#f0ff00 64.3%,#ecff00 100%)"></i><i style="left:525px;width:3px;background:linear-gradient(#ff00f7 0%,#ff00ff 0.3%,#a600ff 3.7%,#5300ff 4.8%,#3800ff 5%,#0000ff 5.2%,#0074ff 5.6%,#00e4ff 7%,#00ffff 9.6%,#00fff7 10.4%,#00ff1b 13.3%,#00ff00 13.5%,#faff00 15.2%,#ffff00 15.4%,#ffd400 17.6%,#ffd100 19.1%,#ffa500 20.8%,#ffa600 21.7%,#ffef00 24.2%,#ffff00 24.4%,#60ff00 25.7%,#22ff00 28.3%,#11ff00 31.7%,#2cff00 36%,#baff00 45.5%,#f1ff00 50.2%,#ffff00 55.5%,#fffc00 56.6%,#ffff00 57.8%,#f0ff00 64.3%,#eaff00 100%)"></i><i style="left:528px;width:3px;background:linear-gradient(#ff00f7 0%,#ff00ff 0.3%,#a600ff 3.7%,#5300ff 4.8%,#3700ff 5%,#0000ff 5.2%,#0077ff 5.6%,#00e5ff 7%,#00ffff 9.6%,#00fff7 10.4%,#00ff1b 13.3%,#00ff00 13.5%,#f9ff00 15.2%,#ffff00 15.5%,#ffd700 17.6%,#ffd100 19.1%,#ffa200 20.8%,#ffa400 21.7%,#ffef00 24.2%,#ffff00 24.4%,#60ff00 25.7%,#22ff00 28.3%,#11ff00 31.7%,#2cff00 36%,#baff00 45.5%,#f1ff00 50.2%,#ffff00 55.5%,#fffc00 56.6%,#ffff00 57.8%,#f0ff00 64.3%,#e8ff00 100%)"></i><i style="left:531px;width:3px;background:linear-gradient(#ff00f7 0%,#ff00ff 0.3%,#a600ff 3.7%,#5300ff 4.8%,#3700ff 5%,#0000ff 5.2%,#0078ff 5.6%,#00e7ff 6.9%,#00ffff 9.5%,#00fff7 10.4%,#00ff1b 13.3%,#00ff00 13.5%,#f9ff00 15.2%,#ffff00 15.5%,#ffd900 17.6%,#ffd100 19.1%,#ff9f00 20.8%,#ffa100 21.7%,#ffee00 24.2%,#ffff00 24.4%,#60ff00 25.7%,#22ff00 28.3%,#11ff00 31.7%,#2cff00 36%,#baff00 45.5%,#f1ff00 50.2%,#ffff00 55.5%,#fffc00 56.6%,#ffff00 57.8%,#f1ff00 64.3%,#e6ff00 100%)"></i><i style="left:534px;width:3px;background:linear-gradient(#ff00f7 0%,#ff00ff 0.3%,#a600ff 3.7%,#5300ff 4.7%,#3800ff 5%,#0000ff 5.2%,#0079ff 5.6%,#00e9ff 6.9%,#00ffff 9.4%,#00fff7 10.3%,#00ff1b 13.3%,#00ff00 13.5%,#f9ff00 15.2%,#ffff00 15.6%,#ffdb00 17.6%,#ffd100 19.1%,#ff9c00 20.8%,#ff9e00 21.7%,#ffee00 24.2%,#ffff00 24.4%,#60ff00 25.7%,#22ff00 28.3%,#11ff00 31.7%,#2cff00 36%,#baff00 45.5%,#f1ff00 50.2%,#ffff00 55.5%,#fffc00 56.6%,#ffff00 57.9%,#f1ff00 64.3%,#e5ff00 100%)"></i><i style="left:537px;width:3px;background:linear-gradient(#ff00f7 0%,#ff00ff 0.3%,#a600ff 3.7%,#5300ff 4.7%,#3700ff 4.9%,#0000ff 5.1%,#007cff 5.6%,#00eaff 6.9%,#00ffff 9.3%,#00fff7 10.3%,#00ffbf 11.2%,#00ff1b 13.3%,#00ff00 13.5%,#f8ff00 15.2%,#ffff00 15.7%,#ffd100 19.1%,#ff9a00 20.8%,#ff9c00 21.7%,#ffee00 24.2%,#ffff00 24.4%,#60ff00 25.7%,#22ff00 28.3%,#11ff00 31.7%,#2cff00 36%,#baff00 45.5%,#f1ff00 50.2%,#ffff00 55.5%,#fffc00 56.6%,#ffff00 57.9%,#f1ff00 64.3%,#e4ff00 100%)"></i><i style="left:540px;width:3px;background:linear-gradient(#ff00f7 0%,#ff00ff 0.3%,#a600ff 3.6%,#5300ff 4.7%,#3700ff 4.9%,#0000ff 5.1%,#007eff 5.6%,#00edff 6.9%,#00ffff 9.1%,#00fff6 10.2%,#00ffc4 11.1%,#00ff1d 13.3%,#00ff00 13.5%,#f8ff00 15.2%,#ffff00 15.8%,#ffda00 18.7%,#ff9700 20.8%,#ff9900 21.7%,#ffee00 24.2%,#ffff00 24.4%,#60ff00 25.7%,#22ff00 28.3%,#11ff00 31.7%,#2cff00 36%,#baff00 45.5%,#f1ff00 50.2%,#ffff00 55.5%,#fffc00 56.6%,#ffff00 57.9%,#f1ff00 64.3%,#e3ff00 100%)"></i><i style="left:543px;width:3px;background:linear-gradient(#ff00f7 0%,#ff00ff 0.3%,#a600ff 3.6%,#5300ff 4.7%,#3600ff 4.9%,#0000ff 5.1%,#0083ff 5.6%,#00f5ff 6.8%,#00ffff 7.8%,#00ffdd 11%,#00ff28 13.2%,#00ff00 13.5%,#f7ff00 15.2%,#ffff00 15.9%,#ffdb00 18.7%,#ff9500 20.8%,#ff9700 21.7%,#ffed00 24.2%,#ffff00 24.4%,#60ff00 25.7%,#22ff00 28.3%,#11ff00 31.7%,#2cff00 36%,#baff00 45.5%,#f1ff00 50.2%,#ffff00 55.5%,#fffc00 56.6%,#ffff00 57.9%,#f1ff00 64.3%,#e3ff00 100%)"></i><i style="left:546px;width:3px;background:linear-gradient(#ff00f7 0%,#ff00ff 0.3%,#a600ff 3.6%,#6700ff 4.5%,#3500ff 4.9%,#0000ff 5.1%,#0089ff 5.6%,#00feff 6.8%,#00ffff 7%,#00ffe8 9.7%,#00fff5 10.9%,#00ff33 13.1%,#00ff00 13.4%,#f5ff00 15.3%,#ffff00 16%,#ffdb00 18.7%,#ff9300 20.8%,#ff9400 21.7%,#ffed00 24.2%,#ffff00 24.4%,#60ff00 25.7%,#22ff00 28.3%,#11ff00 31.7%,#2cff00 36%,#baff00 45.5%,#f1ff00 50.2%,#ffff00 55.5%,#fffc00 56.6%,#ffff00 57.9%,#f1ff00 64.3%,#e3ff00 100%)"></i><i style="left:549px;width:3px;background:linear-gradient(#ff00f7 0%,#ff00ff 0.3%,#a600ff 3.6%,#6a00ff 4.4%,#3300ff 4.9%,#0000ff 5.1%,#008eff 5.6%,#00ffff 6.7%,#00fff8 6.8%,#00ffe1 9.5%,#00ffff 10.3%,#00f0ff 10.7%,#00ffff 10.9%,#00ff3e 13%,#00ff00 13.4%,#f4ff00 15.3%,#ffff00 16.1%,#ffdc00 18.7%,#ff9000 20.8%,#ff9200 21.7%,#ffed00 24.2%,#ffff00 24.4%,#60ff00 25.7%,#22ff00 28.3%,#11ff00 31.7%,#2cff00 36%,#baff00 45.5%,#f1ff00 50.2%,#ffff00 55.5%,#fffc00 56.6%,#ffff00 57.9%,#f1ff00 64.3%,#e3ff00 100%)"></i><i style="left:552px;width:3px;background:linear-gradient(#ff00f7 0%,#ff00ff 0.3%,#a600ff 3.6%,#6d00ff 4.4%,#3200ff 4.8%,#0000ff 5%,#0094ff 5.6%,#00ffff 6.6%,#00fff0 6.8%,#00ffda 9.2%,#00ffff 9.9%,#00d7ff 10.6%,#00ffff 11%,#00ff49 12.8%,#00ff00 13.4%,#f2ff00 15.3%,#ffff00 16.2%,#ffdc00 18.7%,#ff8e00 20.8%,#ff9000 21.7%,#ffed00 24.2%,#ffff00 24.4%,#60ff00 25.7%,#22ff00 28.3%,#11ff00 31.7%,#2cff00 36%,#baff00 45.5%,#f1ff00 50.2%,#ffff00 55.5%,#fffc00 56.6%,#ffff00 57.9%,#f1ff00 64.3%,#e3ff00 100%)"></i><i style="left:555px;width:3px;background:linear-gradient(#ff00f7 0%,#ff00ff 0.3%,#a600ff 3.5%,#6f00ff 4.4%,#3000ff 4.8%,#0000ff 5%,#0099ff 5.6%,#00ffff 6.5%,#00ffe8 6.7%,#00ffd3 9%,#00ffff 9.6%,#00beff 10.5%,#00ffff 11.1%,#00ff54 12.7%,#00ff00 13.4%,#f1ff00 15.3%,#ffff00 16.3%,#ffdd00 18.7%,#ff8d00 20.8%,#ff8f00 21.7%,#ffec00 24.2%,#ffff00 24.4%,#60ff00 25.7%,#22ff00 28.3%,#11ff00 31.7%,#2cff00 36%,#baff00 45.5%,#f1ff00 50.2%,#ffff00 55.5%,#fffc00 56.6%,#ffff00 57.9%,#f1ff00 64.3%,#e3ff00 100%)"></i><i style="left:558px;width:3px;background:linear-gradient(#ff00f7 0%,#ff00ff 0.3%,#a600ff 3.5%,#7200ff 4.4%,#2f00ff 4.8%,#0000ff 5%,#009fff 5.6%,#00ffff 6.4%,#00ffe0 6.7%,#00ffcd 8.7%,#00ffff 9.3%,#00a5ff 10.4%,#00ffff 11.2%,#00ff5f 12.6%,#00ff00 13.4%,#f0ff00 15.4%,#ffff00 16.4%,#ffdd00 18.7%,#ff8b00 20.8%,#ff8d00 21.7%,#ffd600 23.4%,#ffec00 24.2%,#ffff00 24.4%,#60ff00 25.7%,#22ff00 28.3%,#11ff00 31.7%,#2cff00 36%,#baff00 45.5%,#f1ff00 50.2%,#ffff00 55.5%,#fffc00 56.6%,#ffff00 57.9%,#f1ff00 64.3%,#e3ff00 100%)"></i><i style="left:561px;width:3px;background:linear-gradient(#ff00f7 0%,#ff00ff 0.3%,#a600ff 3.5%,#7500ff 4.3%,#2e00ff 4.8%,#0000ff 5%,#00a4ff 5.6%,#00ffff 6.4%,#00ffd7 6.7%,#00ffc6 8.4%,#00ffff 9%,#008cff 10.2%,#00ffff 11.2%,#00ff00 13.4%,#eeff00 15.4%,#ffff00 16.5%,#ffde00 18.7%,#ff8a00 20.8%,#ff8c00 21.7%,#ffd500 23.4%,#ffec00 24.2%,#ffff00 24.4%,#60ff00 25.7%,#22ff00 28.3%,#11ff00 31.7%,#2cff00 36%,#baff00 45.5%,#f1ff00 50.2%,#ffff00 55.5%,#fffc00 56.6%,#ffff00 57.9%,#f1ff00 64.3%,#e3ff00 100%)"></i><i style="left:564px;width:3px;background:linear-gradient(#ff00f7 0%,#ff00ff 0.3%,#a600ff 3.5%,#7800ff 4.3%,#2c00ff 4.8%,#0000ff 4.9%,#00aaff 5.6%,#00ffff 6.3%,#00ffcf 6.7%,#00ffbf 8.2%,#00ffff 8.8%,#0073ff 10.1%,#00ffff 11.3%,#00ff00 13.4%,#edff00 15.4%,#ffff00 16.6%,#ffdf00 18.7%,#ff8900 20.8%,#ff8b00 21.7%,#ffd500 23.4%,#ffec00 24.2%,#ffff00 24.4%,#60ff00 25.7%,#22ff00 28.3%,#11ff00 31.7%,#2cff00 36%,#baff00 45.5%,#f1ff00 50.2%,#ffff00 55.5%,#fffc00 56.6%,#ffff00 57.9%,#f1ff00 64.3%,#e3ff00 100%)"></i><i style="left:567px;width:3px;background:linear-gradient(#ff00f7 0%,#ff00ff 0.3%,#a600ff 3.4%,#7a00ff 4.3%,#2b00ff 4.7%,#0000ff 4.9%,#00b0ff 5.6%,#00ffff 6.2%,#00ffc7 6.7%,#00ffb8 7.9%,#00ffff 8.6%,#005aff 10%,#00ffff 11.3%,#00ff80 12.3%,#00ff00 13.4%,#ebff00 15.4%,#ffff00 16.7%,#ffe000 18.7%,#ff8800 20.8%,#ff8a00 21.7%,#ffd500 23.4%,#ffec00 24.2%,#ffff00 24.4%,#60ff00 25.7%,#22ff00 28.3%,#11ff00 31.7%,#2cff00 36%,#baff00 45.5%,#f1ff00 50.2%,#ffff00 55.5%,#fffc00 56.6%,#ffff00 57.9%,#f1ff00 64.3%,#e3ff00 100%)"></i><i style="left:570px;width:3px;background:linear-gradient(#ff00f7 0%,#ff00ff 0.3%,#a600ff 3.4%,#7d00ff 4.3%,#2a00ff 4.7%,#0000ff 4.9%,#00b5ff 5.6%,#00ffff 6.1%,#00ffbf 6.6%,#00ffb2 7.7%,#00ffff 8.3%,#0044ff 9.9%,#00ffff 11.3%,#00ff8a 12.2%,#00ff00 13.4%,#eaff00 15.4%,#ffff00 16.8%,#ffe000 18.7%,#ff8800 20.8%,#ff8a00 21.7%,#ffd500 23.4%,#ffec00 24.2%,#ffff00 24.4%,#60ff00 25.7%,#22ff00 28.3%,#11ff00 31.7%,#2cff00 36%,#baff00 45.5%,#f1ff00 50.2%,#ffff00 55.6%,#fffc00 56.6%,#ffff00 57.8%,#f1ff00 64.3%,#e3ff00 100%)"></i><i style="left:573px;width:3px;background:linear-gradient(#ff00f7 0%,#ff00ff 0.3%,#a600ff 3.4%,#7d00ff 4.3%,#2a00ff 4.7%,#0000ff 4.9%,#00bcff 5.6%,#00ffff 6.1%,#00ffbc 6.6%,#00ffb2 7.7%,#00ffff 8.3%,#0040ff 9.9%,#00ffff 11.4%,#00ff90 12.2%,#00ff00 13.5%,#eaff00 15.4%,#ffff00 16.8%,#ffe000 18.7%,#ff8700 20.8%,#ff8900 21.7%,#ffd500 23.4%,#ffec00 24.2%,#ffff00 24.4%,#60ff00 25.7%,#22ff00 28.3%,#11ff00 31.7%,#2cff00 36%,#baff00 45.5%,#f1ff00 50.2%,#ffff00 56%,#fffe00 56.6%,#ffff00 57.3%,#f0ff00 64.3%,#e3ff00 100%)"></i><i style="left:576px;width:3px;background:linear-gradient(#ff00f7 0%,#ff00ff 0.3%,#a600ff 3.4%,#7d00ff 4.3%,#2a00ff 4.7%,#0000ff 4.9%,#00c2ff 5.6%,#00ffff 6.1%,#00ffb9 6.6%,#00ffb2 7.6%,#00ffff 8.2%,#003bff 9.9%,#00ffff 11.4%,#00ff97 12.2%,#00ff00 13.5%,#eaff00 15.4%,#ffff00 16.8%,#ffe000 18.7%,#ff8700 20.8%,#ff8900 21.7%,#ffd500 23.4%,#ffec00 24.2%,#ffff00 24.4%,#60ff00 25.7%,#22ff00 28.3%,#11ff00 31.7%,#2cff00 36%,#baff00 45.5%,#f1ff00 50.2%,#ffff00 56.4%,#ffff00 56.6%,#ffff00 56.8%,#efff00 64.3%,#e3ff00 100%)"></i><i style="left:579px;width:3px;background:linear-gradient(#ff00f7 0%,#ff00ff 0.3%,#a600ff 3.4%,#7d00ff 4.3%,#2a00ff 4.7%,#0000ff 4.9%,#00c8ff 5.6%,#00ffff 6%,#00ffb6 6.6%,#00ffb2 7.6%,#00ffff 8.2%,#0036ff 9.9%,#00ffff 11.5%,#00ff00 13.5%,#eaff00 15.4%,#ffff00 16.8%,#ffe000 18.7%,#ff8800 20.8%,#ff8a00 21.7%,#ffd500 23.4%,#ffec00 24.2%,#ffff00 24.4%,#60ff00 25.7%,#22ff00 28.3%,#11ff00 31.7%,#2cff00 36%,#baff00 45.5%,#f1ff00 50.2%,#feff00 56.6%,#efff00 64.3%,#e3ff00 100%)"></i><i style="left:582px;width:3px;background:linear-gradient(#ff00f7 0%,#ff00ff 0.3%,#a600ff 3.4%,#7d00ff 4.3%,#2a00ff 4.7%,#0000ff 4.9%,#00cfff 5.6%,#00ffff 6%,#00ffb3 6.6%,#00ffb2 7.5%,#00ffff 8.2%,#0031ff 9.9%,#00ffff 11.5%,#00ff00 13.6%,#eaff00 15.4%,#ffff00 16.8%,#ffe100 18.7%,#ff8800 20.8%,#ff8a00 21.7%,#ffd500 23.4%,#ffec00 24.2%,#ffff00 24.4%,#60ff00 25.7%,#22ff00 28.3%,#11ff00 31.7%,#2cff00 36%,#baff00 45.5%,#f1ff00 50.2%,#fdff00 56.6%,#eeff00 64.3%,#e3ff00 100%)"></i><i style="left:585px;width:3px;background:linear-gradient(#ff00f7 0%,#ff00ff 0.3%,#a600ff 3.4%,#7d00ff 4.3%,#2a00ff 4.7%,#0000ff 4.9%,#00d5ff 5.6%,#00ffff 5.9%,#00ffb0 6.6%,#00ffb2 7.5%,#00ffff 8.1%,#002dff 9.9%,#00ffff 11.5%,#00ff00 13.6%,#eaff00 15.4%,#ffff00 16.8%,#ffe100 18.7%,#ff8900 20.8%,#ff8b00 21.7%,#ffd500 23.4%,#ffec00 24.2%,#ffff00 24.4%,#60ff00 25.7%,#22ff00 28.3%,#11ff00 31.7%,#2cff00 36%,#baff00 45.5%,#f1ff00 50.2%,#fcff00 56.6%,#edff00 64.3%,#e3ff00 100%)"></i><i style="left:588px;width:3px;background:linear-gradient(#ff00f7 0%,#ff00ff 0.3%,#a600ff 3.4%,#7d00ff 4.3%,#2a00ff 4.7%,#0000ff 4.9%,#00dcff 5.6%,#00ffff 5.9%,#00ffac 6.6%,#00ffb2 7.4%,#00ffff 8.1%,#0028ff 9.9%,#00ffff 11.6%,#00ff00 13.6%,#eaff00 15.4%,#ffff00 16.8%,#ffe100 18.7%,#ff8a00 20.8%,#ff8c00 21.7%,#ffd500 23.4%,#ffec00 24.2%,#ffff00 24.4%,#60ff00 25.7%,#22ff00 28.3%,#11ff00 31.7%,#2cff00 36%,#baff00 45.5%,#f1ff00 50.2%,#fbff00 56.6%,#ecff00 64.3%,#e3ff00 100%)"></i><i style="left:591px;width:3px;background:linear-gradient(#ff00f7 0%,#ff00ff 0.3%,#a600ff 3.4%,#7d00ff 4.3%,#2a00ff 4.7%,#0000ff 4.9%,#00e2ff 5.6%,#00ffff 5.8%,#00ffa9 6.6%,#00ffb2 7.4%,#00ffff 8%,#0023ff 9.9%,#00ffff 11.6%,#00ffb6 12.2%,#00ff00 13.6%,#eaff00 15.4%,#ffff00 16.8%,#ffe100 18.7%,#ff8b00 20.8%,#ff8d00 21.7%,#ffd600 23.4%,#ffec00 24.2%,#ffff00 24.4%,#60ff00 25.7%,#22ff00 28.3%,#11ff00 31.7%,#2cff00 36%,#baff00 45.5%,#f1ff00 50.2%,#faff00 56.6%,#ecff00 64.3%,#e3ff00 100%)"></i><i style="left:594px;width:3px;background:linear-gradient(#ff00f7 0%,#ff00ff 0.3%,#a600ff 3.4%,#7d00ff 4.3%,#2a00ff 4.7%,#0000ff 4.8%,#00e8ff 5.6%,#00ffff 5.8%,#00ffa6 6.6%,#00ffb2 7.3%,#00ffff 8%,#001eff 9.9%,#00ffff 11.7%,#00ffbd 12.2%,#00ff00 13.7%,#eaff00 15.4%,#ffff00 16.8%,#ffe200 18.7%,#ff8d00 20.8%,#ff8f00 21.7%,#ffec00 24.2%,#ffff00 24.4%,#60ff00 25.7%,#22ff00 28.3%,#11ff00 31.7%,#2cff00 36%,#baff00 45.5%,#f1ff00 50.2%,#f9ff00 56.6%,#ebff00 64.3%,#e3ff00 100%)"></i><i style="left:597px;width:3px;background:linear-gradient(#ff00f7 0%,#ff00ff 0.3%,#a600ff 3.4%,#7d00ff 4.3%,#2a00ff 4.7%,#0000ff 4.8%,#00ecff 5.6%,#00ffff 5.8%,#00ffa5 6.6%,#00ffb2 7.3%,#00ffff 7.9%,#001cff 9.9%,#00ffff 11.7%,#00ffc0 12.2%,#00ff00 13.7%,#eaff00 15.4%,#ffff00 16.8%,#ffe200 18.7%,#ff8e00 20.8%,#ff9000 21.7%,#ffed00 24.2%,#ffff00 24.4%,#60ff00 25.7%,#22ff00 28.3%,#11ff00 31.7%,#2cff00 36%,#baff00 45.5%,#f1ff00 50.2%,#f8ff00 56.6%,#eaff00 64.3%,#e3ff00 100%)"></i></div>
<div class="fld" style="left:359px;top:1037.4px;width:598px;height:232.8px"><i style="left:0px;width:15px;background:linear-gradient(#b3ff00 0%,#00ff00 3.5%,#00ff1b 4.1%,#00ffff 4.4%,#0045ff 4.7%,#0000ff 5.1%,#6f00ff 5.8%,#b400ff 5.8%,#ff00ff 6.1%,#ff00bf 6.3%,#ff00bf 18%,#ff00ff 18.6%,#de00ff 18.9%,#ff00ff 21.6%,#ff00f7 22.3%,#ff00bf 23.4%,#ff00bf 100%)"></i><i style="left:15px;width:3px;background:linear-gradient(#b3ff00 0%,#00ff00 3.5%,#00ff1b 4.1%,#00ffff 4.4%,#0045ff 4.7%,#0000ff 5.1%,#6e00ff 5.8%,#b400ff 6%,#ff00ff 6.2%,#ff00c0 6.5%,#ff00bf 18%,#ff00ff 18.6%,#de00ff 18.9%,#ff00ff 21.6%,#ff00f7 22.3%,#ff00bf 23.4%,#ff00bf 100%)"></i><i style="left:18px;width:3px;background:linear-gradient(#b3ff00 0%,#00ff00 3.5%,#00ff1b 4.1%,#00ffff 4.4%,#0045ff 4.7%,#0000ff 5.2%,#b100ff 6.3%,#ff00ff 6.6%,#ff00c0 6.8%,#ff00bf 18%,#ff00ff 18.6%,#de00ff 18.9%,#ff00ff 21.6%,#ff00f7 22.3%,#ff00bf 23.4%,#ff00bf 100%)"></i><i style="left:21px;width:3px;background:linear-gradient(#b3ff00 0%,#00ff00 3.5%,#00ff1b 4.1%,#00ffff 4.4%,#0045ff 4.7%,#0000ff 5.1%,#6b00ff 5.8%,#b100ff 6.6%,#ff00ff 6.9%,#ff00c0 7.1%,#ff00bf 18%,#ff00ff 18.6%,#de00ff 18.9%,#ff00ff 21.6%,#ff00f7 22.3%,#ff00bf 23.4%,#ff00bf 100%)"></i><i style="left:24px;width:3px;background:linear-gradient(#b3ff00 0%,#00ff00 3.5%,#00ff1b 4.1%,#00ffff 4.4%,#0045ff 4.7%,#0000ff 5.1%,#6900ff 5.8%,#ae00ff 6.9%,#ff00ff 7.2%,#ff00c0 7.4%,#ff00bf 18%,#ff00ff 18.6%,#de00ff 18.9%,#ff00ff 21.6%,#ff00f7 22.3%,#ff00bf 23.4%,#ff00bf 100%)"></i><i style="left:27px;width:3px;background:linear-gradient(#b3ff00 0%,#00ff00 3.5%,#00ff1b 4.1%,#00ffff 4.4%,#0045ff 4.7%,#0000ff 5.1%,#6800ff 5.8%,#ae00ff 7.2%,#ff00ff 7.5%,#ff00c0 7.7%,#ff00bf 18%,#ff00ff 18.6%,#de00ff 18.9%,#ff00ff 21.6%,#ff00f7 22.3%,#ff00bf 23.4%,#ff00bf 100%)"></i><i style="left:30px;width:3px;background:linear-gradient(#b3ff00 0%,#00ff00 3.5%,#00ff1b 4.1%,#00ffff 4.4%,#0045ff 4.7%,#0000ff 5.2%,#6600ff 5.8%,#ab00ff 7.6%,#ff00ff 7.8%,#ff00c0 8.1%,#ff00bf 18%,#ff00ff 18.6%,#de00ff 18.9%,#ff00ff 21.6%,#ff00f7 22.3%,#ff00bf 23.4%,#ff00bf 100%)"></i><i style="left:33px;width:3px;background:linear-gradient(#b3ff00 0%,#00ff00 3.5%,#00ff1b 4.1%,#00ffff 4.4%,#0045ff 4.7%,#0000ff 5.2%,#6400ff 5.8%,#aa00ff 7.9%,#ff00ff 8.2%,#ff00c0 8.4%,#ff00bf 18%,#ff00ff 18.6%,#de00ff 18.9%,#ff00ff 21.6%,#ff00f7 22.3%,#ff00bf 23.4%,#ff00bf 100%)"></i><i style="left:36px;width:3px;background:linear-gradient(#b3ff00 0%,#00ff00 3.5%,#00ff1b 4.1%,#00ffff 4.4%,#0045ff 4.7%,#0000ff 5.2%,#6300ff 5.8%,#a800ff 8.2%,#ff00ff 8.5%,#ff00c0 8.7%,#ff00bf 18%,#ff00ff 18.6%,#de00ff 18.9%,#ff00ff 21.6%,#ff00f7 22.3%,#ff00bf 23.4%,#ff00bf 100%)"></i><i style="left:39px;width:3px;background:linear-gradient(#b3ff00 0%,#00ff00 3.5%,#00ff1b 4.1%,#00ffff 4.4%,#0045ff 4.7%,#0000ff 5.2%,#6100ff 5.8%,#a700ff 8.5%,#ff00ff 8.8%,#ff00c0 9%,#ff00bf 18%,#ff00ff 18.6%,#de00ff 18.9%,#ff00ff 21.6%,#ff00f7 22.3%,#ff00bf 23.4%,#ff00bf 100%)"></i><i style="left:42px;width:3px;background:linear-gradient(#b3ff00 0%,#00ff00 3.5%,#00ff1b 4.1%,#00ffff 4.4%,#0045ff 4.7%,#0000ff 5.2%,#6000ff 5.8%,#a500ff 8.7%,#ff00ff 9%,#ff00bf 9.2%,#ff00bf 18%,#ff00ff 18.5%,#de00ff 18.8%,#ff00ff 21.6%,#ff00f7 22.3%,#ff00bf 23.4%,#ff00bf 100%)"></i><i style="left:45px;width:3px;background:linear-gradient(#b3ff00 0%,#00ff00 3.5%,#00ff1b 4.1%,#00ffff 4.4%,#0045ff 4.7%,#0000ff 5.2%,#5e00ff 5.8%,#a400ff 8.8%,#ff00ff 9.1%,#ff00bf 9.3%,#ff00bf 17.9%,#ff00ff 18.5%,#de00ff 18.8%,#ff00ff 21.6%,#ff00f7 22.3%,#ff00bf 23.4%,#ff00bf 100%)"></i><i style="left:48px;width:3px;background:linear-gradient(#b3ff00 0%,#00ff00 3.5%,#00ff1b 4.1%,#00ffff 4.4%,#0045ff 4.7%,#0000ff 5.2%,#5d00ff 5.8%,#a200ff 8.9%,#ff00ff 9.2%,#ff00bf 9.5%,#ff00bf 17.9%,#ff00ff 18.5%,#de00ff 18.7%,#ff00ff 21.6%,#ff00f7 22.3%,#ff00bf 23.4%,#ff00bf 100%)"></i><i style="left:51px;width:3px;background:linear-gradient(#b3ff00 0%,#00ff00 3.5%,#00ff1b 4.1%,#00ffff 4.4%,#0045ff 4.7%,#0000ff 5.2%,#5c00ff 5.8%,#a100ff 9.1%,#ff00ff 9.4%,#ff00bf 9.6%,#ff00bf 17.8%,#ff00ff 18.4%,#de00ff 18.7%,#ff00ff 21.6%,#ff00f7 22.3%,#ff00bf 23.4%,#ff00bf 100%)"></i><i style="left:54px;width:3px;background:linear-gradient(#b3ff00 0%,#00ff00 3.5%,#00ff1b 4.1%,#00ffff 4.4%,#0045ff 4.7%,#0000ff 5.2%,#5a00ff 5.8%,#a000ff 9.2%,#ff00ff 9.5%,#ff00bf 9.7%,#ff00bf 17.8%,#ff00ff 18.4%,#de00ff 18.7%,#ff00ff 21.6%,#ff00f7 22.3%,#ff00bf 23.4%,#ff00bf 100%)"></i><i style="left:57px;width:3px;background:linear-gradient(#b3ff00 0%,#00ff00 3.5%,#00ff1b 4.1%,#00ffff 4.4%,#0045ff 4.7%,#0000ff 5.2%,#5900ff 5.8%,#9e00ff 9.3%,#ff00ff 9.6%,#ff00bf 9.8%,#ff00bf 17.8%,#ff00ff 18.3%,#de00ff 18.6%,#ff00ff 21.6%,#ff00f7 22.3%,#ff00bf 23.4%,#ff00bf 100%)"></i><i style="left:60px;width:3px;background:linear-gradient(#b3ff00 0%,#00ff00 3.5%,#00ff1b 4.1%,#00ffff 4.4%,#0045ff 4.7%,#0000ff 5.2%,#5800ff 5.8%,#9d00ff 9.5%,#ff00ff 9.8%,#ff00bf 10%,#ff00bf 17.7%,#ff00ff 18.3%,#de00ff 18.6%,#ff00ff 21.6%,#ff00f7 22.3%,#ff00bf 23.4%,#ff00bf 100%)"></i><i style="left:63px;width:3px;background:linear-gradient(#b3ff00 0%,#00ff00 3.5%,#00ff1b 4.1%,#00ffff 4.4%,#0045ff 4.7%,#0000ff 5.2%,#5600ff 5.8%,#9b00ff 9.6%,#ff00ff 9.9%,#ff00bf 10.1%,#ff00bf 17.7%,#ff00ff 18.2%,#de00ff 18.5%,#ef00ff 20.8%,#ff00ff 21.8%,#ff00f7 22.3%,#ff00bf 23.4%,#ff00bf 100%)"></i><i style="left:66px;width:3px;background:linear-gradient(#b3ff00 0%,#00ff00 3.5%,#00ff1b 4.1%,#00ffff 4.4%,#0045ff 4.7%,#0000ff 5.2%,#5500ff 5.8%,#9a00ff 9.7%,#ff00ff 10%,#ff00bf 10.2%,#ff00bf 17.6%,#ff00ff 18.2%,#de00ff 18.5%,#ed00ff 20.8%,#ff00ff 21.8%,#ff00f7 22.3%,#ff00bf 23.4%,#ff00bf 100%)"></i><i style="left:69px;width:3px;background:linear-gradient(#b3ff00 0%,#00ff00 3.5%,#00ff1b 4.1%,#00ffff 4.4%,#0045ff 4.7%,#0000ff 5.2%,#5300ff 5.8%,#9900ff 9.8%,#ff00ff 10.2%,#ff00bf 10.4%,#ff00bf 17.6%,#ff00ff 18.2%,#de00ff 18.4%,#ec00ff 20.8%,#ff00ff 21.8%,#ff00f7 22.3%,#ff00bf 23.4%,#ff00bf 100%)"></i><i style="left:72px;width:3px;background:linear-gradient(#b3ff00 0%,#00ff00 3.5%,#00ff1b 4.1%,#00ffff 4.4%,#0045ff 4.7%,#0000ff 5.2%,#5300ff 5.8%,#9700ff 10%,#ff00ff 10.3%,#ff00bf 10.5%,#ff00bf 17.4%,#ff00ff 18%,#d900ff 18.3%,#e800ff 20.8%,#ff00ff 21.9%,#ff00f8 22.3%,#ff00bf 23.4%,#ff00bf 100%)"></i><i style="left:75px;width:3px;background:linear-gradient(#b3ff00 0%,#00ff00 3.5%,#00ff1b 4.1%,#00ffff 4.4%,#0045ff 4.7%,#0000ff 5.2%,#5300ff 5.8%,#9500ff 10.2%,#ff00ff 10.5%,#ff00bf 10.7%,#ff00bf 17.2%,#ff00ff 17.8%,#d200ff 18.1%,#d200ff 19.2%,#ff00ff 22%,#ff00fb 22.2%,#ff00bf 23.4%,#ff00bf 100%)"></i><i style="left:78px;width:3px;background:linear-gradient(#b3ff00 0%,#00ff00 3.5%,#00ff1b 4.1%,#00ffff 4.4%,#0045ff 4.7%,#0000ff 5.2%,#5300ff 5.8%,#9300ff 10.3%,#ff00ff 10.6%,#ff00bf 10.8%,#ff00bf 17%,#ff00ff 17.6%,#cc00ff 18%,#e000ff 20.7%,#ff00ff 22.1%,#ff00fd 22.2%,#ff00bf 23.4%,#ff00bf 100%)"></i><i style="left:81px;width:3px;background:linear-gradient(#b3ff00 0%,#00ff00 3.5%,#00ff1b 4.1%,#00ffff 4.4%,#0045ff 4.7%,#0000ff 5.2%,#5300ff 5.8%,#9100ff 10.5%,#ff00ff 10.8%,#ff00bf 11%,#ff00bf 16.8%,#ff00ff 17.4%,#c600ff 17.8%,#c600ff 19%,#ff00ff 22.2%,#ff00ff 22.2%,#ff00bf 23.4%,#ff00bf 100%)"></i><i style="left:84px;width:3px;background:linear-gradient(#b3ff00 0%,#00ff00 3.5%,#00ff1b 4.1%,#00ffff 4.4%,#0045ff 4.7%,#0000ff 5.2%,#5300ff 5.8%,#8e00ff 10.6%,#ff00ff 11%,#ff00bf 11.2%,#ff00bf 16.7%,#ff00ff 17.2%,#c000ff 17.7%,#c000ff 19%,#d800ff 20.6%,#fd00ff 22.1%,#ff00ff 22.2%,#ff00bf 23.4%,#ff00bf 100%)"></i><i style="left:87px;width:3px;background:linear-gradient(#b3ff00 0%,#00ff00 3.5%,#00ff1b 4.1%,#00ffff 4.4%,#0045ff 4.7%,#0000ff 5.2%,#5300ff 5.8%,#8d00ff 10.8%,#ff00ff 11.1%,#ff00bf 11.3%,#ff00bf 16.5%,#ff00ff 17%,#b900ff 17.5%,#b900ff 18.9%,#d300ff 20.6%,#fb00ff 22.1%,#ff00ff 22.2%,#ff00bf 23.4%,#ff00bf 100%)"></i><i style="left:90px;width:3px;background:linear-gradient(#b3ff00 0%,#00ff00 3.5%,#00ff1b 4.1%,#00ffff 4.4%,#0045ff 4.7%,#0000ff 5.2%,#5300ff 5.8%,#8700ff 11%,#ff00ff 11.4%,#ff00c8 11.5%,#ff00c8 16.2%,#ff00ff 16.7%,#ac00ff 17.3%,#af00ff 18.8%,#cd00ff 20.6%,#f900ff 22.1%,#ff00ff 22.2%,#ff00bf 23.4%,#ff00bf 100%)"></i><i style="left:93px;width:3px;background:linear-gradient(#b3ff00 0%,#00ff00 3.5%,#00ff1b 4.1%,#00ffff 4.4%,#0045ff 4.7%,#0000ff 5.2%,#5000ff 5.8%,#7100ff 11.4%,#ff00ff 11.9%,#ff00fe 11.9%,#ff00fe 15.9%,#ff00ff 15.9%,#7b00ff 17%,#9200ff 18.7%,#bf00ff 20.5%,#f700ff 22.1%,#ff00ff 22.2%,#ff00bf 23.4%,#ff00bf 100%)"></i><i style="left:96px;width:3px;background:linear-gradient(#b3ff00 0%,#00ff00 3.5%,#00ff1b 4.1%,#00ffff 4.4%,#0045ff 4.7%,#0000ff 5.2%,#4e00ff 5.8%,#5b00ff 11.8%,#ca00ff 12.3%,#ca00ff 15.5%,#4a00ff 16.6%,#b000ff 20.5%,#f400ff 22.1%,#ff00ff 22.3%,#ff00bf 23.4%,#ff00bf 100%)"></i><i style="left:99px;width:3px;background:linear-gradient(#b3ff00 0%,#00ff00 3.5%,#00ff1b 4.1%,#00ffff 4.4%,#0045ff 4.7%,#0000ff 5.2%,#4b00ff 5.8%,#4500ff 12.3%,#9400ff 12.7%,#9400ff 15.1%,#1900ff 16.3%,#a100ff 20.5%,#ff00ff 22.2%,#ff00bf 23.4%,#ff00bf 100%)"></i><i style="left:102px;width:3px;background:linear-gradient(#b3ff00 0%,#00ff00 3.5%,#00ff1b 4.1%,#00ffff 4.4%,#0045ff 4.7%,#0000ff 5.2%,#4900ff 5.8%,#2f00ff 12.7%,#5f00ff 13.1%,#5f00ff 14.7%,#0000ff 15.7%,#0018ff 15.9%,#0000ff 16.6%,#9300ff 20.4%,#ff00ff 22.3%,#ff00bf 23.4%,#ff00bf 100%)"></i><i style="left:105px;width:3px;background:linear-gradient(#b3ff00 0%,#00ff00 3.5%,#00ff1b 4.1%,#00ffff 4.4%,#0045ff 4.7%,#0000ff 5.2%,#4700ff 5.8%,#1900ff 13.1%,#2900ff 13.5%,#2900ff 14.3%,#0000ff 14.8%,#0049ff 15.6%,#0000ff 17.3%,#8400ff 20.4%,#ff00ff 22.4%,#ff00bf 23.4%,#ff00bf 100%)"></i><i style="left:108px;width:3px;background:linear-gradient(#b3ff00 0%,#00ff00 3.5%,#00ff1b 4.1%,#00ffff 4.4%,#0045ff 4.7%,#0000ff 5.3%,#4200ff 5.8%,#0000ff 12.8%,#000aff 13.9%,#006cff 15.3%,#0000ff 17.7%,#7600ff 20.3%,#ff00ff 22.4%,#ff00bf 23.4%,#ff00bf 100%)"></i><i style="left:111px;width:3px;background:linear-gradient(#b3ff00 0%,#00ff00 3.5%,#00ff1b 4.1%,#00ffff 4.4%,#0045ff 4.7%,#0000ff 5.3%,#3c00ff 5.8%,#0000ff 9.9%,#002cff 13%,#0083ff 15%,#000fff 17.9%,#0000ff 18.2%,#6a00ff 20.3%,#ec00ff 22%,#ff00ff 22.3%,#ff00bf 23.4%,#ff00bf 100%)"></i><i style="left:114px;width:3px;background:linear-gradient(#b3ff00 0%,#00ff00 3.5%,#00ff1b 4.1%,#00ffff 4.4%,#0045ff 4.7%,#0000ff 5.3%,#3500ff 5.8%,#0000ff 8.4%,#0052ff 12.5%,#006aff 12.9%,#0099ff 14.7%,#0022ff 17.8%,#0000ff 18.4%,#5d00ff 20.2%,#ec00ff 22%,#ff00ff 22.3%,#ff00bf 23.4%,#ff00bf 100%)"></i><i style="left:117px;width:3px;background:linear-gradient(#b3ff00 0%,#00ff00 3.5%,#00ff1b 4.1%,#00ffff 4.4%,#0045ff 4.7%,#0000ff 5.4%,#2f00ff 5.8%,#0000ff 7.5%,#0078ff 12%,#009aff 12.4%,#00afff 14.4%,#0035ff 17.7%,#0000ff 18.7%,#5000ff 20.2%,#ec00ff 21.9%,#ff00ff 22.3%,#ff00bf 23.4%,#ff00bf 100%)"></i><i style="left:120px;width:3px;background:linear-gradient(#b4ff00 0%,#00ff00 3.5%,#00ff1b 4.1%,#00ffff 4.4%,#0045ff 4.7%,#0000ff 5.4%,#2900ff 5.8%,#0000ff 7%,#009aff 11.6%,#00c3ff 12%,#00c0ff 14.1%,#0044ff 17.6%,#0000ff 18.8%,#4600ff 20.2%,#ec00ff 21.9%,#ff00ff 22.2%,#ff00bf 23.4%,#ff00bf 100%)"></i><i style="left:123px;width:3px;background:linear-gradient(#b6ff00 0%,#00ff00 3.5%,#00ff1b 4.1%,#00ffff 4.4%,#0045ff 4.7%,#0000ff 5.4%,#2700ff 5.8%,#0000ff 6.9%,#00a5ff 11.4%,#00c9ff 11.9%,#00b6ff 14%,#003bff 17.5%,#0000ff 18.7%,#4800ff 20.2%,#ec00ff 21.9%,#ff00ff 22.2%,#ff00bf 23.4%,#ff00bf 100%)"></i><i style="left:126px;width:3px;background:linear-gradient(#b8ff00 0%,#29ff00 2.6%,#00ff00 3.5%,#00ff1b 4.1%,#00ffff 4.4%,#0045ff 4.7%,#0000ff 5.4%,#2500ff 5.8%,#0000ff 6.8%,#00afff 11.3%,#00cfff 11.8%,#00abff 13.8%,#0033ff 17.4%,#0000ff 18.6%,#4a00ff 20.2%,#ec00ff 21.9%,#ff00ff 22.2%,#ff00bf 23.4%,#ff00bf 100%)"></i><i style="left:129px;width:3px;background:linear-gradient(#baff00 0%,#29ff00 2.6%,#00ff00 3.5%,#00ff1b 4.1%,#00ffff 4.4%,#0045ff 4.7%,#0000ff 5.4%,#2300ff 5.8%,#0000ff 6.6%,#00d6ff 11.7%,#002bff 17.4%,#0000ff 18.4%,#4c00ff 20.2%,#ec00ff 21.9%,#ff00ff 22.2%,#ff00bf 23.4%,#ff00bf 100%)"></i><i style="left:132px;width:3px;background:linear-gradient(#bcff00 0%,#29ff00 2.6%,#00ff00 3.5%,#00ff1b 4.1%,#00ffff 4.4%,#0045ff 4.7%,#0000ff 5.4%,#2100ff 5.8%,#0000ff 6.5%,#00dcff 11.6%,#0097ff 13.5%,#0023ff 17.3%,#0000ff 18.2%,#4e00ff 20.2%,#ec00ff 21.9%,#ff00ff 22.2%,#ff00bf 23.4%,#ff00bf 100%)"></i><i style="left:135px;width:3px;background:linear-gradient(#beff00 0%,#29ff00 2.6%,#00ff00 3.5%,#00ff1b 4.1%,#00ffff 4.4%,#0045ff 4.7%,#0000ff 5.5%,#1f00ff 5.8%,#0000ff 6.5%,#00e2ff 11.5%,#008cff 13.3%,#001aff 17.3%,#0000ff 18%,#5000ff 20.2%,#ec00ff 21.9%,#ff00ff 22.2%,#ff00bf 23.4%,#ff00bf 100%)"></i><i style="left:138px;width:3px;background:linear-gradient(#c0ff00 0%,#6eff00 1.3%,#00ff00 3.5%,#00ff1b 4.1%,#00ffff 4.4%,#0045ff 4.7%,#0000ff 5.5%,#1d00ff 5.8%,#0000ff 6.4%,#00d9ff 10.8%,#00e8ff 11.4%,#0082ff 13.2%,#0012ff 17.2%,#0000ff 17.7%,#5200ff 20.2%,#ec00ff 21.9%,#ff00ff 22.2%,#ff00bf 23.4%,#ff00bf 100%)"></i><i style="left:141px;width:3px;background:linear-gradient(#c4ff00 0%,#70ff00 1.3%,#00ff00 3.5%,#00ff1b 4.1%,#00ffff 4.4%,#0046ff 4.7%,#0000ff 5.5%,#1a00ff 5.8%,#0000ff 6.3%,#00e4ff 10.6%,#00f1ff 11.4%,#007aff 13.1%,#000cff 17.2%,#0000ff 17.5%,#5400ff 20.2%,#ec00ff 21.9%,#ff00ff 22.2%,#ff00bf 23.4%,#ff00bf 100%)"></i><i style="left:144px;width:3px;background:linear-gradient(#caff00 0%,#75ff00 1.3%,#00ff00 3.5%,#00ff1b 4.1%,#00ffff 4.4%,#0048ff 4.7%,#0000ff 5.5%,#1700ff 5.8%,#0000ff 6.2%,#00f2ff 10.3%,#00fbff 11.3%,#0075ff 13.1%,#0000ff 17.1%,#5600ff 20.2%,#ec00ff 21.9%,#ff00ff 22.2%,#ff00bf 23.4%,#ff00bf 100%)"></i><i style="left:147px;width:3px;background:linear-gradient(#d0ff00 0%,#79ff00 1.2%,#00ff00 3.5%,#00ff1b 4.1%,#00ffff 4.4%,#004aff 4.7%,#0000ff 5.5%,#1400ff 5.8%,#0000ff 6.1%,#00ffff 10%,#00ffff 10%,#00fff9 11.3%,#00ffff 11.4%,#0070ff 13%,#0000ff 17%,#5800ff 20.2%,#ec00ff 21.9%,#ff00ff 22.2%,#ff00bf 23.4%,#ff00bf 100%)"></i><i style="left:150px;width:3px;background:linear-gradient(#d7ff00 0%,#7dff00 1.2%,#00ff00 3.6%,#00ff1b 4.1%,#00ffff 4.4%,#004dff 4.7%,#0000ff 5.6%,#1100ff 5.7%,#0000ff 6%,#00ffff 9.5%,#00fff1 9.7%,#00ffee 11.3%,#00ffff 11.5%,#006bff 13%,#0000ff 16.9%,#5a00ff 20.2%,#ec00ff 21.9%,#ff00ff 22.2%,#ff00bf 23.4%,#ff00bf 100%)"></i><i style="left:153px;width:3px;background:linear-gradient(#ddff00 0%,#81ff00 1.2%,#2eff00 2.6%,#00ff00 3.5%,#00ff1b 4.1%,#00ffff 4.4%,#004fff 4.7%,#0000ff 5.6%,#0e00ff 5.7%,#0000ff 5.9%,#00ffff 9.1%,#00ffe4 9.4%,#00ffe4 11.3%,#00ffff 11.6%,#0065ff 13%,#0000ff 16.7%,#5d00ff 20.2%,#ec00ff 21.9%,#ff00ff 22.2%,#ff00bf 23.4%,#ff00bf 100%)"></i><i style="left:156px;width:3px;background:linear-gradient(#e3ff00 0%,#85ff00 1.2%,#2fff00 2.6%,#00ff00 3.5%,#00ff1b 4.1%,#00ffff 4.4%,#0051ff 4.7%,#0000ff 5.6%,#0a00ff 5.7%,#0000ff 5.8%,#00ffff 8.7%,#00ffd6 9.1%,#00ffda 11.3%,#00ffff 11.6%,#0060ff 13%,#0000ff 16.6%,#5f00ff 20.2%,#ec00ff 21.9%,#ff00ff 22.2%,#ff00bf 23.4%,#ff00bf 100%)"></i><i style="left:159px;width:3px;background:linear-gradient(#e9ff00 0%,#89ff00 1.2%,#30ff00 2.6%,#00ff00 3.5%,#00ff1b 4.1%,#00ffff 4.4%,#0053ff 4.7%,#0000ff 5.6%,#0700ff 5.7%,#0000ff 5.8%,#00ffff 8.3%,#00ffc9 8.8%,#00ffd0 11.3%,#00ffff 11.6%,#005bff 13%,#0000ff 16.5%,#6100ff 20.2%,#ec00ff 21.9%,#ff00ff 22.2%,#ff00bf 23.4%,#ff00bf 100%)"></i><i style="left:162px;width:3px;background:linear-gradient(#efff00 0%,#8dff00 1.2%,#31ff00 2.6%,#00ff00 3.5%,#00ff1b 4.1%,#00ffff 4.4%,#0055ff 4.7%,#0000ff 5.6%,#0400ff 5.7%,#0000ff 5.7%,#00ffff 8%,#00ffbc 8.6%,#00ffc5 11.2%,#00ffff 11.7%,#0056ff 13%,#0000ff 16.3%,#6300ff 20.2%,#ec00ff 21.9%,#ff00ff 22.2%,#ff00bf 23.4%,#ff00bf 100%)"></i><i style="left:165px;width:3px;background:linear-gradient(#f6ff00 0%,#91ff00 1.1%,#32ff00 2.6%,#00ff00 3.5%,#00ff1b 4.1%,#00ffff 4.4%,#0057ff 4.7%,#0000ff 5.6%,#0100ff 5.7%,#0000ff 5.7%,#00ffff 7.6%,#00ffae 8.3%,#00ffbb 11.2%,#00ffff 11.7%,#0051ff 12.9%,#0000ff 16.1%,#6500ff 20.2%,#ec00ff 21.9%,#ff00ff 22.2%,#ff00bf 23.4%,#ff00bf 100%)"></i><i style="left:168px;width:3px;background:linear-gradient(#fcff00 0%,#96ff00 1.1%,#33ff00 2.6%,#00ff00 3.5%,#00ff1b 4.1%,#00ffff 4.4%,#0059ff 4.7%,#0002ff 5.6%,#00ffff 7.3%,#00ffa1 8%,#00ffb1 11.2%,#00ffff 11.7%,#004cff 12.9%,#0000ff 16%,#6700ff 20.2%,#ec00ff 21.9%,#ff00ff 22.2%,#ff00bf 23.4%,#ff00bf 100%)"></i><i style="left:171px;width:3px;background:linear-gradient(#fffc00 0%,#ffff00 0%,#9aff00 1.1%,#34ff00 2.6%,#00ff00 3.6%,#00ff1b 4.1%,#00ffff 4.4%,#005bff 4.7%,#0005ff 5.6%,#00ffff 7.1%,#00ff94 7.7%,#00ffa6 11.2%,#00ffff 11.8%,#0046ff 12.9%,#0000ff 15.8%,#6900ff 20.2%,#ec00ff 21.9%,#ff00ff 22.2%,#ff00bf 23.4%,#ff00bf 100%)"></i><i style="left:174px;width:3px;background:linear-gradient(#fff600 0%,#ffff00 0.1%,#9eff00 1.1%,#35ff00 2.6%,#00ff00 3.6%,#00ff1b 4.1%,#00ffff 4.5%,#005dff 4.7%,#0008ff 5.6%,#00ffff 6.8%,#00ff86 7.4%,#00ff9c 11.2%,#00ffff 11.8%,#0041ff 12.9%,#0000ff 15.6%,#6b00ff 20.2%,#ec00ff 21.9%,#ff00ff 22.2%,#ff00bf 23.4%,#ff00bf 100%)"></i><i style="left:177px;width:3px;background:linear-gradient(#ffef00 0%,#ffff00 0.2%,#a2ff00 1.1%,#36ff00 2.6%,#00ff00 3.6%,#00ff1b 4.1%,#00ffff 4.5%,#005fff 4.7%,#000bff 5.6%,#00ffff 6.6%,#00ff79 7.1%,#00ff92 11.2%,#00ffff 11.8%,#003cff 12.9%,#0000ff 15.5%,#6d00ff 20.2%,#ec00ff 21.9%,#ff00ff 22.2%,#ff00bf 23.4%,#ff00bf 100%)"></i><i style="left:180px;width:3px;background:linear-gradient(#ffe900 0%,#ffff00 0.2%,#a7ff00 1.1%,#38ff00 2.6%,#00ff00 3.6%,#00ff1b 4.1%,#00ffff 4.5%,#0064ff 4.7%,#0013ff 5.6%,#00ffff 6.3%,#00ff6d 6.8%,#00ff89 11.2%,#00ffff 11.8%,#0037ff 12.9%,#0000ff 15.3%,#6f00ff 20.2%,#ec00ff 21.9%,#ff00ff 22.2%,#ff00bf 23.4%,#ff00bf 100%)"></i><i style="left:183px;width:3px;background:linear-gradient(#ffe300 0%,#ffff00 0.3%,#adff00 1.1%,#3bff00 2.6%,#00ff00 3.6%,#00ff1b 4.1%,#00ffff 4.5%,#0078ff 4.7%,#0031ff 5.5%,#00ffff 6.2%,#00ff66 6.7%,#00ff85 11.2%,#00ffff 11.8%,#0032ff 12.9%,#0000ff 15.1%,#7300ff 20.2%,#ec00ff 21.9%,#ff00ff 22.2%,#ff00bf 23.4%,#ff00bf 100%)"></i><i style="left:186px;width:3px;background:linear-gradient(#ffdc00 0%,#ffff00 0.3%,#b4ff00 1.1%,#3eff00 2.6%,#00ff00 3.6%,#00ff1b 4.1%,#00ffff 4.5%,#008cff 4.7%,#004fff 5.5%,#00ffff 6%,#00ff5f 6.5%,#00ff82 11.2%,#00ffff 11.8%,#002dff 12.9%,#0000ff 14.9%,#7600ff 20.2%,#ec00ff 21.9%,#ff00ff 22.2%,#ff00bf 23.4%,#ff00bf 100%)"></i><i style="left:189px;width:3px;background:linear-gradient(#ffd500 0%,#ffff00 0.4%,#baff00 1.1%,#42ff00 2.6%,#00ff00 3.6%,#00ff1b 4.1%,#00ffff 4.5%,#00a0ff 4.7%,#006dff 5.4%,#00ffff 5.9%,#00ff59 6.4%,#00ff7f 11.2%,#00ffff 11.8%,#0028ff 12.9%,#0000ff 14.7%,#7900ff 20.2%,#ec00ff 21.9%,#ff00ff 22.2%,#ff00bf 23.4%,#ff00bf 100%)"></i><i style="left:192px;width:3px;background:linear-gradient(#ffcf00 0%,#ffff00 0.5%,#c1ff00 1.1%,#45ff00 2.6%,#00ff00 3.6%,#00ff1b 4.1%,#00ffff 4.6%,#00b4ff 4.7%,#008bff 5.4%,#00ffff 5.7%,#00ff52 6.2%,#00ff7b 11.3%,#00ffff 11.9%,#0023ff 12.9%,#0000ff 14.4%,#7d00ff 20.2%,#ff00ff 22.3%,#ff00bf 23.4%,#ff00bf 100%)"></i><i style="left:195px;width:3px;background:linear-gradient(#ffc800 0%,#ffff00 0.5%,#c8ff00 1.1%,#48ff00 2.6%,#00ff00 3.7%,#00ff1b 4.1%,#00ffff 4.6%,#00c8ff 4.7%,#00a9ff 5.3%,#00ffff 5.6%,#00ff4c 6.1%,#00ff78 11.3%,#00ffff 11.9%,#001eff 12.9%,#0000ff 14.2%,#8000ff 20.2%,#ff00ff 22.3%,#ff00bf 23.4%,#ff00bf 100%)"></i><i style="left:198px;width:3px;background:linear-gradient(#ffc200 0%,#ffff00 0.6%,#ceff00 1.1%,#4cff00 2.6%,#00ff00 3.7%,#00ff1b 4.1%,#00ffff 4.6%,#00dcff 4.7%,#00c6ff 5.3%,#00ffff 5.4%,#00ff45 5.9%,#00ff75 11.3%,#00ffff 11.9%,#0019ff 12.9%,#0000ff 14%,#8300ff 20.2%,#ff00ff 22.3%,#ff00bf 23.4%,#ff00bf 100%)"></i><i style="left:201px;width:3px;background:linear-gradient(#ffbb00 0%,#ffff00 0.7%,#d5ff00 1.1%,#4fff00 2.6%,#00ff00 3.7%,#00ff1b 4.1%,#00ffff 4.7%,#00f0ff 4.7%,#00e4ff 5.2%,#00ffff 5.3%,#00ff3f 5.8%,#00ff72 11.3%,#00ffff 11.9%,#0014ff 12.9%,#0000ff 13.8%,#8700ff 20.2%,#ff00ff 22.3%,#ff00bf 23.4%,#ff00bf 100%)"></i><i style="left:204px;width:3px;background:linear-gradient(#ffb400 0%,#ffff00 0.8%,#52ff00 2.6%,#00ff00 3.7%,#00ff1b 4.1%,#00fffa 4.7%,#00fffc 5.2%,#00ff38 5.6%,#00ff6e 11.4%,#00ffff 11.9%,#000fff 12.9%,#0000ff 13.6%,#8a00ff 20.2%,#ff00ff 22.2%,#ff00bf 23.4%,#ff00bf 100%)"></i><i style="left:207px;width:3px;background:linear-gradient(#ffb100 0%,#ffff00 0.8%,#57ff00 2.6%,#00ff00 3.7%,#00ff1a 4.1%,#00ffe9 4.7%,#00ffe9 5.1%,#00ff35 5.5%,#00ff6c 11.4%,#00ffff 11.9%,#000cff 12.9%,#0000ff 13.4%,#8c00ff 20.2%,#ff00ff 22.2%,#ff00bf 23.4%,#ff00bf 100%)"></i><i style="left:210px;width:3px;background:linear-gradient(#ffaf00 0%,#ffff00 0.9%,#5bff00 2.6%,#00ff00 3.8%,#00ff17 4.1%,#00ffd9 4.7%,#00ffd9 5.1%,#00ff33 5.5%,#00ff6a 11.4%,#00ffff 12%,#000aff 12.9%,#0000ff 13.3%,#5800ff 17.2%,#8d00ff 20.2%,#ff00ff 22.2%,#ff00bf 23.4%,#ff00bf 100%)"></i><i style="left:213px;width:3px;background:linear-gradient(#ffac00 0%,#ffff00 0.9%,#60ff00 2.6%,#00ff00 3.9%,#00ff15 4.1%,#00ffc8 4.7%,#00ffc8 5.1%,#00ff30 5.5%,#00ff67 11.4%,#00ffff 12%,#0007ff 12.9%,#0000ff 13.2%,#5a00ff 17.2%,#8e00ff 20.2%,#ff00ff 22.2%,#ff00bf 23.4%,#ff00bf 100%)"></i><i style="left:216px;width:3px;background:linear-gradient(#ffaa00 0%,#ffff00 0.9%,#65ff00 2.6%,#00ff00 3.9%,#00ff12 4.1%,#00ffb8 4.7%,#00ffb7 5.1%,#00ff2e 5.4%,#00ff65 11.4%,#00ffff 12%,#0005ff 12.9%,#0000ff 13.1%,#5c00ff 17.2%,#8f00ff 20.2%,#ff00ff 22.2%,#ff00bf 23.4%,#ff00bf 100%)"></i><i style="left:219px;width:3px;background:linear-gradient(#ffa800 0%,#ffff00 1%,#00ff00 4%,#00ff10 4.2%,#00ffa7 4.7%,#00ffa7 5.1%,#00ff2b 5.4%,#00ff63 11.5%,#00ffff 12%,#0002ff 12.9%,#0000ff 13%,#5f00ff 17.2%,#9000ff 20.2%,#ff00ff 22.2%,#ff00bf 23.4%,#ff00bf 100%)"></i><i style="left:222px;width:3px;background:linear-gradient(#ffa500 0%,#ffff00 1%,#00ff00 4%,#00ff0e 4.2%,#00ff97 4.7%,#00ff97 5%,#00ff29 5.4%,#00ff60 11.5%,#00ffff 12%,#0000ff 12.9%,#0000ff 12.9%,#6100ff 17.2%,#9200ff 20.2%,#ff00ff 22.2%,#ff00bf 23.4%,#ff00bf 100%)"></i><i style="left:225px;width:3px;background:linear-gradient(#ffa300 0%,#ffff00 1.1%,#00ff00 4.1%,#00ff0b 4.2%,#00ff86 4.7%,#00ff86 5%,#00ff27 5.3%,#00ff5e 11.5%,#00ffff 12%,#0000ff 12.9%,#0200ff 12.9%,#6300ff 17.2%,#9300ff 20.2%,#ff00ff 22.2%,#ff00bf 23.4%,#ff00bf 100%)"></i><i style="left:228px;width:3px;background:linear-gradient(#ffa100 0%,#fffd00 1.2%,#ffff00 1.2%,#00ff00 4.1%,#00ff09 4.2%,#00ff76 4.7%,#00ff76 5%,#00ff24 5.3%,#00ff5c 11.5%,#00ffff 12%,#0000ff 12.8%,#0500ff 12.9%,#6600ff 17.2%,#9400ff 20.2%,#ff00ff 22.2%,#ff00bf 23.4%,#ff00bf 100%)"></i><i style="left:231px;width:3px;background:linear-gradient(#ff9e00 0%,#fff800 1.2%,#ffff00 1.3%,#00ff00 4.2%,#00ff07 4.2%,#00ff65 4.7%,#00ff65 5%,#00ff22 5.2%,#00ff59 11.5%,#00ffff 12%,#0000ff 12.8%,#0700ff 12.9%,#6800ff 17.2%,#9500ff 20.2%,#ff00ff 22.2%,#ff00bf 23.4%,#ff00bf 100%)"></i><i style="left:234px;width:3px;background:linear-gradient(#ff9c00 0%,#fff300 1.3%,#ffff00 1.4%,#00ff00 4.2%,#00ff04 4.3%,#00ff55 4.7%,#00ff55 5%,#00ff20 5.2%,#00ff57 11.5%,#00ffff 12.1%,#0000ff 12.8%,#0a00ff 12.9%,#6b00ff 17.2%,#9600ff 20.2%,#ff00ff 22.2%,#ff00bf 23.4%,#ff00bf 100%)"></i><i style="left:237px;width:3px;background:linear-gradient(#ff9a00 0%,#ffee00 1.3%,#ffff00 1.5%,#00ff00 4.3%,#00ff02 4.3%,#00ff45 4.7%,#00ff44 4.9%,#00ff1d 5.2%,#00ff54 11.6%,#00ffff 12.1%,#0000ff 12.8%,#0c00ff 12.9%,#6d00ff 17.2%,#9700ff 20.2%,#ff00ff 22.1%,#ff00bf 23.4%,#ff00bf 100%)"></i><i style="left:240px;width:3px;background:linear-gradient(#ff9700 0%,#ffea00 1.3%,#ffff00 1.5%,#01ff00 4.3%,#00ff00 4.3%,#00ff37 4.8%,#00ff37 5%,#00ff1b 5.2%,#00ff52 11.6%,#00ffff 12.1%,#0000ff 12.8%,#0e00ff 12.9%,#6f00ff 17.1%,#9900ff 20.2%,#ff00ff 22.1%,#ff00bf 23.4%,#ff00bf 100%)"></i><i style="left:243px;width:3px;background:linear-gradient(#ff9600 0%,#ffe600 1.3%,#ffff00 1.6%,#03ff00 4.3%,#00ff00 4.3%,#00ff35 5%,#00ff35 5.2%,#00ff1b 5.4%,#00ff54 11.6%,#00ffff 12.1%,#0000ff 12.8%,#0f00ff 12.9%,#7000ff 17.1%,#9a00ff 20.2%,#ff00ff 22.1%,#ff00bf 23.4%,#ff00bf 100%)"></i><i style="left:246px;width:3px;background:linear-gradient(#ff9500 0%,#ffe100 1.3%,#ffff00 1.6%,#06ff00 4.3%,#00ff00 4.4%,#00ff34 5.3%,#00ff34 5.5%,#00ff1b 5.7%,#00ff55 11.6%,#00ffff 12.1%,#0000ff 12.8%,#1100ff 12.9%,#7200ff 17.1%,#9b00ff 20.2%,#ff00ff 22.1%,#ff00bf 23.4%,#ff00bf 100%)"></i><i style="left:249px;width:3px;background:linear-gradient(#ff9300 0%,#ffdd00 1.3%,#ffff00 1.7%,#09ff00 4.3%,#00ff00 4.5%,#00ff32 5.6%,#00ff32 5.8%,#00ff1b 6%,#00ff57 11.6%,#00ffff 12.1%,#0000ff 12.8%,#1200ff 12.9%,#7300ff 17%,#9d00ff 20.2%,#ff00ff 22.1%,#ff00bf 23.4%,#ff00bf 100%)"></i><i style="left:252px;width:3px;background:linear-gradient(#ff9200 0%,#ffd900 1.3%,#ffff00 1.8%,#a1ff00 2.8%,#0cff00 4.3%,#00ff00 4.6%,#00ff31 5.9%,#00ff31 6%,#00ff1b 6.2%,#00ff58 11.6%,#00ffff 12.1%,#0000ff 12.8%,#1400ff 12.9%,#7500ff 17%,#9e00ff 20.2%,#ff00ff 22.1%,#ff00bf 23.4%,#ff00bf 100%)"></i><i style="left:255px;width:3px;background:linear-gradient(#ff9100 0%,#ffd500 1.3%,#ffff00 1.8%,#a6ff00 2.8%,#0eff00 4.3%,#00ff00 4.8%,#00ff30 6.2%,#00ff30 6.3%,#00ff1b 6.5%,#00ff59 11.6%,#00ffff 12.1%,#0000ff 12.8%,#1500ff 12.9%,#7600ff 16.9%,#a000ff 20.2%,#ff00ff 22.1%,#ff00bf 23.4%,#ff00bf 100%)"></i><i style="left:258px;width:3px;background:linear-gradient(#ff8f00 0%,#ffd100 1.4%,#ffff00 1.9%,#acff00 2.9%,#11ff00 4.4%,#00ff00 4.9%,#00ff2e 6.4%,#00ff2e 6.6%,#00ff1b 6.7%,#00ff5b 11.6%,#00ffff 12.1%,#0000ff 12.8%,#1600ff 12.9%,#7700ff 16.9%,#a100ff 20.2%,#ff00ff 22.1%,#ff00bf 23.4%,#ff00bf 100%)"></i><i style="left:261px;width:3px;background:linear-gradient(#ff8e00 0%,#ffcd00 1.4%,#ffff00 2%,#b1ff00 2.9%,#14ff00 4.4%,#00ff00 5.1%,#00ff2d 6.7%,#00ff2d 6.9%,#00ff1b 7%,#00ff5c 11.7%,#00ffff 12.1%,#0000ff 12.8%,#1800ff 12.9%,#7900ff 16.8%,#a200ff 20.2%,#ff00ff 22.1%,#ff00bf 23.4%,#ff00bf 100%)"></i><i style="left:264px;width:3px;background:linear-gradient(#ff8c00 0%,#ffc800 1.4%,#ffff00 2%,#b7ff00 2.9%,#17ff00 4.4%,#00ff00 5.3%,#00ff2c 7%,#00ff1b 7.2%,#00ff5d 11.7%,#00ffff 12.1%,#0000ff 12.8%,#1900ff 12.9%,#7a00ff 16.8%,#a400ff 20.2%,#ff00ff 22%,#ff00bf 23.4%,#ff00bf 100%)"></i><i style="left:267px;width:3px;background:linear-gradient(#ff8b00 0%,#ffc400 1.4%,#ffff00 2.1%,#bcff00 2.9%,#19ff00 4.4%,#00ff00 5.5%,#00ff2a 7.3%,#00ff1b 7.5%,#00ff5f 11.7%,#00ffff 12.1%,#0000ff 12.8%,#1b00ff 12.9%,#7c00ff 16.8%,#a500ff 20.2%,#ff00ff 22%,#ff00bf 23.4%,#ff00bf 100%)"></i><i style="left:270px;width:3px;background:linear-gradient(#ff8a00 0%,#ffc000 1.4%,#ffff00 2.2%,#c2ff00 2.9%,#1cff00 4.4%,#00ff00 5.7%,#00ff29 7.6%,#00ff1b 7.8%,#00ff60 11.7%,#00ffff 12.1%,#0000ff 12.8%,#1c00ff 12.9%,#7d00ff 16.7%,#a700ff 20.2%,#ff00ff 22%,#ff00bf 23.4%,#ff00bf 100%)"></i><i style="left:273px;width:3px;background:linear-gradient(#ff8800 0%,#ffbc00 1.4%,#ffff00 2.2%,#c7ff00 2.9%,#1fff00 4.4%,#00ff00 5.9%,#00ff28 7.8%,#00ff1b 8%,#00ff62 11.7%,#00ffff 12.1%,#0000ff 12.8%,#1d00ff 12.9%,#7e00ff 16.7%,#a800ff 20.2%,#ff00ff 22%,#ff00bf 23.4%,#ff00bf 100%)"></i><i style="left:276px;width:3px;background:linear-gradient(#ff8700 0%,#ffb800 1.4%,#ffff00 2.3%,#cdff00 2.9%,#22ff00 4.4%,#00ff00 6.1%,#00ff26 8.1%,#00ff1b 8.3%,#00ff63 11.7%,#00ffff 12.1%,#0000ff 12.8%,#1f00ff 12.9%,#8000ff 16.6%,#a900ff 20.2%,#ff00ff 22%,#ff00bf 23.4%,#ff00bf 100%)"></i><i style="left:279px;width:3px;background:linear-gradient(#ff8500 0%,#ffb400 1.4%,#ffff00 2.4%,#d2ff00 2.9%,#24ff00 4.4%,#00ff00 6.4%,#00ff25 8.4%,#00ff1b 8.5%,#00ff64 11.7%,#00ffff 12.1%,#0000ff 12.8%,#2000ff 12.9%,#8100ff 16.6%,#ab00ff 20.2%,#ff00ff 22%,#ff00bf 23.4%,#ff00bf 100%)"></i><i style="left:282px;width:3px;background:linear-gradient(#ff8400 0%,#ffb000 1.4%,#ffff00 2.4%,#d8ff00 2.9%,#27ff00 4.4%,#00ff00 6.7%,#00ff23 8.7%,#00ff1b 8.8%,#00ff66 11.7%,#00ffff 12.1%,#0000ff 12.8%,#2100ff 12.9%,#8200ff 16.5%,#ac00ff 20.2%,#ff00ff 22%,#ff00bf 23.4%,#ff00bf 100%)"></i><i style="left:285px;width:3px;background:linear-gradient(#ff8300 0%,#ffac00 1.4%,#ffff00 2.5%,#ddff00 3%,#2aff00 4.5%,#00ff00 7.2%,#00ff1b 9%,#00ff67 11.7%,#00ffff 12.1%,#0000ff 12.8%,#2300ff 12.9%,#8400ff 16.5%,#ad00ff 20.2%,#ff00ff 22%,#ff00bf 23.4%,#ff00bf 100%)"></i><i style="left:288px;width:3px;background:linear-gradient(#ff8100 0%,#ffa700 1.5%,#ffff00 2.6%,#e3ff00 3%,#2dff00 4.5%,#00ff00 7.5%,#00ff1b 9.3%,#00ff68 11.7%,#00ffff 12.1%,#0000ff 12.8%,#2400ff 12.9%,#8500ff 16.5%,#af00ff 20.2%,#ff00ff 21.9%,#ff00bf 23.4%,#ff00bf 100%)"></i><i style="left:291px;width:3px;background:linear-gradient(#ff8000 0%,#ffa300 1.5%,#ffff00 2.7%,#e8ff00 3%,#2fff00 4.5%,#00ff00 7.7%,#00ff1b 9.6%,#00ff6a 11.8%,#00ffff 12.1%,#0000ff 12.8%,#2600ff 12.9%,#8700ff 16.4%,#b000ff 20.2%,#ff00ff 21.9%,#ff00bf 23.4%,#ff00bf 100%)"></i><i style="left:294px;width:3px;background:linear-gradient(#ff7f00 0%,#ff9f00 1.5%,#ffff00 2.8%,#eeff00 3%,#32ff00 4.5%,#00ff00 7.9%,#00ff1b 9.8%,#00ff6b 11.8%,#00ffff 12.1%,#0000ff 12.8%,#2700ff 12.9%,#8800ff 16.4%,#b200ff 20.2%,#ff00ff 21.9%,#ff00bf 23.4%,#ff00bf 100%)"></i><i style="left:297px;width:3px;background:linear-gradient(#ff7d00 0%,#ff9b00 1.5%,#ffff00 2.8%,#f3ff00 3%,#35ff00 4.5%,#00ff00 8.2%,#00ff1b 10.1%,#00ff6d 11.8%,#00ffff 12.1%,#0000ff 12.8%,#2800ff 12.9%,#8900ff 16.3%,#b300ff 20.2%,#ff00ff 21.9%,#ff00bf 23.4%,#ff00bf 100%)"></i><i style="left:300px;width:3px;background:linear-gradient(#ff7c00 0%,#ff9800 1.5%,#ffff00 2.9%,#f8ff00 3%,#37ff00 4.5%,#00ff00 8.4%,#00ff1b 10.3%,#00ff6e 11.8%,#00ffff 12.1%,#0000ff 12.8%,#2a00ff 12.9%,#8b00ff 16.3%,#b400ff 20.2%,#ff00ff 21.9%,#ff00bf 23.4%,#ff00bf 100%)"></i><i style="left:303px;width:3px;background:linear-gradient(#ff7c00 0%,#ff9800 1.5%,#ffff00 2.9%,#f8ff00 3%,#37ff00 4.5%,#00ff00 8.4%,#00ff1b 10.3%,#00ff6e 11.8%,#00ffff 12.1%,#0000ff 12.8%,#2c00ff 12.9%,#8c00ff 16.3%,#b500ff 20.2%,#ff00ff 21.9%,#ff00bf 23.4%,#ff00bf 100%)"></i><i style="left:306px;width:3px;background:linear-gradient(#ff7c00 0%,#ff9800 1.5%,#ffff00 2.9%,#f8ff00 3%,#37ff00 4.5%,#00ff00 8.4%,#00ff1b 10.3%,#00ff6e 11.8%,#00ffff 12.1%,#0000ff 12.8%,#2e00ff 12.9%,#8d00ff 16.3%,#b600ff 20.2%,#ff00ff 21.9%,#ff00bf 23.4%,#ff00bf 100%)"></i><i style="left:309px;width:3px;background:linear-gradient(#ff7c00 0%,#ff9800 1.6%,#ffff00 3%,#f8ff00 3.1%,#37ff00 4.6%,#00ff00 8.4%,#00ff1b 10.3%,#00ff6e 11.8%,#00ffff 12.1%,#0000ff 12.7%,#3000ff 12.9%,#8e00ff 16.3%,#b700ff 20.2%,#ff00ff 21.9%,#ff00bf 23.4%,#ff00bf 100%)"></i><i style="left:312px;width:3px;background:linear-gradient(#ff7c00 0%,#ff9800 1.6%,#ffff00 3%,#f8ff00 3.1%,#37ff00 4.6%,#00ff00 8.4%,#00ff1b 10.3%,#00ff6e 11.8%,#00ffff 12.1%,#0000ff 12.7%,#3200ff 12.9%,#8f00ff 16.3%,#b800ff 20.2%,#ff00ff 21.8%,#ff00bf 23.4%,#ff00bf 100%)"></i><i style="left:315px;width:3px;background:linear-gradient(#ff7c00 0%,#ff9800 1.6%,#ffff00 3%,#f8ff00 3.1%,#37ff00 4.6%,#00ff00 8.4%,#00ff1b 10.3%,#00ff6e 11.8%,#00ffff 12.1%,#0000ff 12.7%,#3400ff 12.9%,#9000ff 16.3%,#ba00ff 20.2%,#ff00ff 21.8%,#ff00bf 23.4%,#ff00bf 100%)"></i><i style="left:318px;width:3px;background:linear-gradient(#ff7c00 0%,#ff9800 1.6%,#ffff00 3%,#f8ff00 3.1%,#37ff00 4.6%,#00ff00 8.4%,#00ff1b 10.3%,#00ff6e 11.8%,#00ffff 12.1%,#0000ff 12.7%,#3600ff 12.9%,#9100ff 16.3%,#bb00ff 20.2%,#ff00ff 21.8%,#ff00bf 23.4%,#ff00bf 100%)"></i><i style="left:321px;width:3px;background:linear-gradient(#ff7c00 0%,#ff9800 1.6%,#ffff00 3%,#f8ff00 3.1%,#37ff00 4.6%,#00ff00 8.4%,#00ff1b 10.3%,#00ff6e 11.8%,#00ffff 12.1%,#0000ff 12.7%,#3800ff 12.9%,#9200ff 16.3%,#bc00ff 20.2%,#ff00ff 21.8%,#ff00bf 23.4%,#ff00bf 100%)"></i><i style="left:324px;width:3px;background:linear-gradient(#ff7c00 0%,#ff9800 1.6%,#ffff00 3%,#f8ff00 3.1%,#37ff00 4.6%,#00ff00 8.4%,#00ff1b 10.3%,#00ff6e 11.8%,#00ffff 12.1%,#0000ff 12.7%,#3b00ff 12.9%,#9300ff 16.3%,#bd00ff 20.2%,#f900ff 21.9%,#ff00ff 22%,#ff00bf 23.4%,#ff00bf 100%)"></i><i style="left:327px;width:3px;background:linear-gradient(#ff7c00 0%,#ff9800 1.6%,#ffff00 3.1%,#f8ff00 3.1%,#37ff00 4.6%,#00ff00 8.4%,#00ff1b 10.3%,#00ff6e 11.8%,#00ffff 12.1%,#0000ff 12.7%,#3d00ff 12.9%,#9400ff 16.3%,#be00ff 20.2%,#f900ff 21.9%,#ff00ff 22%,#ff00bf 23.4%,#ff00bf 100%)"></i><i style="left:330px;width:3px;background:linear-gradient(#ff7c00 0%,#ff9800 1.7%,#ffff00 3.1%,#f8ff00 3.2%,#37ff00 4.7%,#00ff00 8.4%,#00ff1b 10.3%,#00ff6e 11.8%,#00ffff 12.1%,#0000ff 12.7%,#3f00ff 12.9%,#9500ff 16.3%,#bf00ff 20.2%,#f900ff 21.9%,#ff00ff 22%,#ff00bf 23.4%,#ff00bf 100%)"></i><i style="left:333px;width:3px;background:linear-gradient(#ff7c00 0%,#ff9800 1.7%,#ffff00 3.1%,#f8ff00 3.2%,#37ff00 4.7%,#00ff00 8.4%,#00ff1b 10.3%,#00ff6e 11.8%,#00ffff 12.1%,#0000ff 12.7%,#4100ff 12.9%,#9600ff 16.3%,#c000ff 20.2%,#f900ff 21.9%,#ff00ff 22%,#ff00bf 23.4%,#ff00bf 100%)"></i><i style="left:336px;width:3px;background:linear-gradient(#ff7c00 0%,#ff9800 1.7%,#ffff00 3.1%,#f8ff00 3.2%,#37ff00 4.7%,#00ff00 8.4%,#00ff1b 10.3%,#00ff6e 11.8%,#00ffff 12.1%,#0000ff 12.7%,#4300ff 12.9%,#9700ff 16.3%,#c100ff 20.2%,#f900ff 21.9%,#ff00ff 22%,#ff00bf 23.4%,#ff00bf 100%)"></i><i style="left:339px;width:3px;background:linear-gradient(#ff7c00 0%,#ff9800 1.7%,#ffff00 3.1%,#f8ff00 3.2%,#37ff00 4.7%,#00ff00 8.4%,#00ff1b 10.3%,#00ff6e 11.8%,#00ffff 12.1%,#0000ff 12.7%,#4500ff 12.9%,#9800ff 16.3%,#c200ff 20.2%,#f900ff 21.9%,#ff00ff 22%,#ff00bf 23.4%,#ff00bf 100%)"></i><i style="left:342px;width:3px;background:linear-gradient(#ff7d00 0%,#ff9800 1.7%,#ffff00 3.1%,#f8ff00 3.2%,#36ff00 4.7%,#00ff00 8.3%,#00ff1e 10.3%,#00ff6f 11.8%,#00ffff 12.1%,#0000ff 12.7%,#4400ff 12.9%,#9700ff 16.3%,#c100ff 20.2%,#f900ff 21.9%,#ff00ff 22%,#ff00bf 23.4%,#ff00bf 100%)"></i><i style="left:345px;width:3px;background:linear-gradient(#ff7d00 0%,#ff9900 1.7%,#ffff00 3.1%,#f7ff00 3.2%,#35ff00 4.7%,#00ff00 8.2%,#00ff20 10.3%,#00ff70 11.8%,#00ffff 12.1%,#0000ff 12.7%,#4300ff 12.9%,#9600ff 16.3%,#bf00ff 20.2%,#f900ff 21.9%,#ff00ff 22%,#ff00bf 23.4%,#ff00bf 100%)"></i><i style="left:348px;width:3px;background:linear-gradient(#ff7e00 0%,#ff9a00 1.7%,#ffff00 3.1%,#f6ff00 3.2%,#33ff00 4.7%,#00ff00 8.1%,#00ff23 10.4%,#00ff72 11.8%,#00ffff 12.1%,#0000ff 12.7%,#4100ff 12.9%,#9500ff 16.3%,#be00ff 20.2%,#f900ff 21.9%,#ff00ff 22%,#ff00bf 23.4%,#ff00bf 100%)"></i><i style="left:351px;width:3px;background:linear-gradient(#ff7f00 0%,#ff9a00 1.7%,#ffff00 3.1%,#f5ff00 3.2%,#32ff00 4.7%,#00ff00 7.9%,#00ff26 10.4%,#00ff73 11.8%,#00ffff 12.1%,#0000ff 12.8%,#4000ff 12.9%,#9300ff 16.3%,#bd00ff 20.2%,#f900ff 21.9%,#ff00ff 22%,#ff00bf 23.4%,#ff00bf 100%)"></i><i style="left:354px;width:3px;background:linear-gradient(#ff7f00 0%,#ff9b00 1.7%,#ffff00 3.1%,#f5ff00 3.2%,#30ff00 4.7%,#00ff00 7.8%,#00ff29 10.4%,#00ff74 11.8%,#00ffff 12.1%,#0000ff 12.8%,#3e00ff 12.9%,#9200ff 16.3%,#bb00ff 20.2%,#ff00ff 21.8%,#ff00bf 23.4%,#ff00bf 100%)"></i><i style="left:357px;width:3px;background:linear-gradient(#ff8000 0%,#ff9c00 1.7%,#ffff00 3.1%,#f4ff00 3.2%,#2fff00 4.7%,#00ff00 7.7%,#00ff2b 10.4%,#00ff76 11.8%,#00ffff 12.1%,#0000ff 12.8%,#3d00ff 12.9%,#9000ff 16.3%,#ba00ff 20.2%,#ff00ff 21.8%,#ff00bf 23.4%,#ff00bf 100%)"></i><i style="left:360px;width:3px;background:linear-gradient(#ff8100 0%,#ff9c00 1.7%,#ffff00 3.1%,#f3ff00 3.2%,#2eff00 4.7%,#00ff00 7.6%,#00ff2e 10.4%,#00ff77 11.8%,#00ffff 12.1%,#0000ff 12.8%,#3c00ff 12.9%,#8f00ff 16.3%,#b900ff 20.2%,#ff00ff 21.8%,#ff00bf 23.4%,#ff00bf 100%)"></i><i style="left:363px;width:3px;background:linear-gradient(#ff8100 0%,#ff9d00 1.7%,#ffff00 3%,#f3ff00 3.2%,#2cff00 4.7%,#00ff00 7.4%,#00ff31 10.5%,#00ff78 11.8%,#00ffff 12.1%,#0000ff 12.8%,#3a00ff 13%,#8e00ff 16.3%,#b700ff 20.2%,#ff00ff 21.9%,#ff00bf 23.4%,#ff00bf 100%)"></i><i style="left:366px;width:3px;background:linear-gradient(#ff8200 0%,#ff9e00 1.7%,#ffff00 3%,#f2ff00 3.2%,#2bff00 4.7%,#00ff00 7.3%,#00ff34 10.5%,#00ff7a 11.8%,#00ffff 12.1%,#0000ff 12.8%,#3900ff 13%,#8c00ff 16.3%,#b600ff 20.2%,#ff00ff 21.9%,#ff00bf 23.4%,#ff00bf 100%)"></i><i style="left:369px;width:3px;background:linear-gradient(#ff8300 0%,#ff9e00 1.7%,#ffff00 3%,#f1ff00 3.2%,#2aff00 4.7%,#00ff00 7.2%,#00ff36 10.5%,#00ff7b 11.8%,#00ffff 12.1%,#0000ff 12.8%,#3800ff 13%,#8b00ff 16.3%,#b400ff 20.2%,#ff00ff 21.9%,#ff00bf 23.4%,#ff00bf 100%)"></i><i style="left:372px;width:3px;background:linear-gradient(#ff8400 0%,#ff9f00 1.7%,#ffff00 3%,#f1ff00 3.2%,#28ff00 4.7%,#00ff00 7.1%,#00ff39 10.5%,#00ff7d 11.8%,#00ffff 12.1%,#0000ff 12.8%,#3600ff 13%,#8900ff 16.3%,#b300ff 20.2%,#ff00ff 21.9%,#ff00bf 23.4%,#ff00bf 100%)"></i><i style="left:375px;width:3px;background:linear-gradient(#ff8400 0%,#ffa000 1.7%,#ffff00 3%,#f0ff00 3.2%,#27ff00 4.7%,#00ff00 7%,#00ff3c 10.5%,#00ff7e 11.8%,#00ffff 12.1%,#0000ff 12.8%,#3500ff 13%,#8800ff 16.3%,#b200ff 20.2%,#ff00ff 21.9%,#ff00bf 23.4%,#ff00bf 100%)"></i><i style="left:378px;width:3px;background:linear-gradient(#ff8500 0%,#ffa000 1.7%,#ffff00 3%,#efff00 3.2%,#25ff00 4.7%,#00ff00 6.9%,#00ff3f 10.6%,#00ff7f 11.8%,#00ffff 12.2%,#0000ff 12.9%,#3300ff 13%,#8700ff 16.3%,#b000ff 20.2%,#ff00ff 21.9%,#ff00bf 23.4%,#ff00bf 100%)"></i><i style="left:381px;width:3px;background:linear-gradient(#ff8600 0%,#ffa100 1.7%,#ffff00 3%,#efff00 3.2%,#24ff00 4.7%,#00ff00 6.8%,#00ff41 10.6%,#00ff81 11.8%,#00ffff 12.2%,#0000ff 12.9%,#3200ff 13%,#8500ff 16.3%,#af00ff 20.2%,#ff00ff 21.9%,#ff00bf 23.4%,#ff00bf 100%)"></i><i style="left:384px;width:3px;background:linear-gradient(#ff8600 0%,#ffa200 1.7%,#ffff00 3%,#eeff00 3.2%,#23ff00 4.7%,#00ff00 6.7%,#00ff44 10.6%,#00ff82 11.8%,#00ffff 12.2%,#0000ff 12.9%,#3100ff 13%,#8400ff 16.3%,#ad00ff 20.2%,#ff00ff 22%,#ff00bf 23.4%,#ff00bf 100%)"></i><i style="left:387px;width:3px;background:linear-gradient(#ff8700 0%,#ffa300 1.7%,#ffff00 3%,#edff00 3.2%,#21ff00 4.7%,#00ff00 6.6%,#00ff47 10.6%,#00ff83 11.8%,#00ffff 12.2%,#0000ff 12.9%,#2f00ff 13%,#8300ff 16.3%,#ac00ff 20.2%,#ff00ff 22%,#ff00bf 23.4%,#ff00bf 100%)"></i><i style="left:390px;width:3px;background:linear-gradient(#ff8800 0%,#ffa300 1.7%,#ffff00 3%,#edff00 3.2%,#20ff00 4.7%,#00ff00 6.5%,#00ff4a 10.7%,#00ff85 11.8%,#00ffff 12.2%,#0000ff 12.9%,#2e00ff 13%,#8100ff 16.3%,#ab00ff 20.2%,#ff00ff 22%,#ff00bf 23.4%,#ff00bf 100%)"></i><i style="left:393px;width:3px;background:linear-gradient(#ff8800 0%,#ffa400 1.7%,#ffff00 3%,#ecff00 3.2%,#1fff00 4.7%,#00ff00 6.4%,#00ff4c 10.7%,#00ff86 11.8%,#00ffff 12.2%,#0000ff 12.9%,#2d00ff 13.1%,#8000ff 16.3%,#a900ff 20.2%,#ff00ff 22%,#ff00bf 23.4%,#ff00bf 100%)"></i><i style="left:396px;width:3px;background:linear-gradient(#ff8900 0%,#ffa500 1.7%,#ffff00 2.9%,#ebff00 3.2%,#1dff00 4.7%,#00ff00 6.3%,#00ff4f 10.7%,#00ff87 11.8%,#00ffff 12.2%,#0000ff 12.9%,#2b00ff 13.1%,#7e00ff 16.3%,#a800ff 20.2%,#ff00ff 22%,#ff00bf 23.4%,#ff00bf 100%)"></i><i style="left:399px;width:3px;background:linear-gradient(#ff8a00 0%,#ffa500 1.7%,#ffff00 2.9%,#eaff00 3.2%,#1cff00 4.7%,#00ff00 6.2%,#00ff52 10.7%,#00ff89 11.8%,#00ffff 12.2%,#0000ff 12.9%,#2a00ff 13.1%,#7d00ff 16.3%,#a700ff 20.2%,#ff00ff 22%,#ff00bf 23.4%,#ff00bf 100%)"></i><i style="left:402px;width:3px;background:linear-gradient(#ff8c00 0%,#ffa700 1.7%,#ffff00 2.9%,#e9ff00 3.2%,#18ff00 4.7%,#00ff00 6%,#00ff58 10.7%,#00ff8c 11.8%,#00ffff 12.2%,#0000ff 13%,#2200ff 13.1%,#7700ff 16.3%,#a200ff 20.2%,#ff00ff 22.1%,#ff00bf 23.4%,#ff00bf 100%)"></i><i style="left:405px;width:3px;background:linear-gradient(#ff8e00 0%,#ffa900 1.7%,#ffff00 2.9%,#e8ff00 3.2%,#14ff00 4.7%,#00ff00 5.8%,#00ff60 10.8%,#00ff91 11.8%,#00ffff 12.2%,#0000ff 13%,#1a00ff 13.1%,#6f00ff 16.4%,#9d00ff 20.2%,#ff00ff 22.1%,#ff00bf 23.4%,#ff00bf 100%)"></i><i style="left:408px;width:3px;background:linear-gradient(#ff9000 0%,#ffab00 1.7%,#ffff00 2.9%,#e7ff00 3.2%,#10ff00 4.8%,#00ff00 5.6%,#00ff67 10.8%,#00ff95 11.8%,#00ffff 12.2%,#0000ff 13.1%,#1200ff 13.1%,#6800ff 16.5%,#9800ff 20.2%,#ff00ff 22.1%,#ff00bf 23.4%,#ff00bf 100%)"></i><i style="left:411px;width:3px;background:linear-gradient(#ff9200 0%,#ffad00 1.7%,#ffff00 2.9%,#e6ff00 3.2%,#0cff00 4.8%,#00ff00 5.4%,#00ff6e 10.8%,#00ff99 11.9%,#00ffff 12.2%,#0000ff 13.1%,#0900ff 13.1%,#6100ff 16.5%,#9200ff 20.2%,#ff00ff 22.2%,#ff00bf 23.4%,#ff00bf 100%)"></i><i style="left:414px;width:3px;background:linear-gradient(#ff9400 0%,#ffaf00 1.7%,#ffff00 2.9%,#e5ff00 3.2%,#08ff00 4.8%,#00ff00 5.2%,#00ff75 10.9%,#00ff9d 11.9%,#00ffff 12.2%,#0000ff 13.2%,#0100ff 13.2%,#5a00ff 16.6%,#8d00ff 20.2%,#f400ff 21.9%,#ff00ff 22.1%,#ff00bf 23.4%,#ff00bf 100%)"></i><i style="left:417px;width:3px;background:linear-gradient(#ff9600 0%,#ffb100 1.7%,#ffff00 2.8%,#e4ff00 3.2%,#03ff00 4.8%,#00ff00 5%,#00ff7c 10.9%,#00ffa1 11.9%,#00ffff 12.2%,#0007ff 13.2%,#0000ff 13.4%,#5200ff 16.7%,#8800ff 20.2%,#f300ff 21.9%,#ff00ff 22.1%,#ff00bf 23.4%,#ff00bf 100%)"></i><i style="left:420px;width:3px;background:linear-gradient(#ff9800 0%,#ffb400 1.7%,#ffff00 2.8%,#e3ff00 3.2%,#00ff00 4.8%,#00ff01 4.8%,#00ff83 10.9%,#00ffa6 11.9%,#00ffff 12.3%,#000fff 13.2%,#0000ff 13.8%,#4b00ff 16.7%,#8300ff 20.2%,#f200ff 21.9%,#ff00ff 22.1%,#ff00bf 23.4%,#ff00bf 100%)"></i><i style="left:423px;width:3px;background:linear-gradient(#ff9a00 0%,#ffb600 1.7%,#ffff00 2.8%,#e2ff00 3.2%,#00ff00 4.8%,#00ff05 4.8%,#00ff8b 11%,#00ffa9 11.9%,#00ffff 12.3%,#0018ff 13.2%,#0000ff 14.1%,#4400ff 16.8%,#7e00ff 20.2%,#f100ff 21.9%,#ff00ff 22.1%,#ff00bf 23.4%,#ff00bf 100%)"></i><i style="left:426px;width:3px;background:linear-gradient(#ff9c00 0%,#ffb800 1.7%,#ffff00 2.8%,#e1ff00 3.2%,#00ff00 4.8%,#00ff09 4.9%,#00ffad 11.9%,#00ffff 12.3%,#0020ff 13.2%,#0000ff 14.5%,#3c00ff 16.9%,#7800ff 20.2%,#f000ff 21.9%,#ff00ff 22.2%,#ff00bf 23.4%,#ff00bf 100%)"></i><i style="left:429px;width:3px;background:linear-gradient(#ff9e00 0%,#ffba00 1.7%,#ffff00 2.8%,#e0ff00 3.2%,#00ff00 4.8%,#00ff0d 4.9%,#00ffb2 12%,#00ffff 12.3%,#0028ff 13.2%,#0000ff 14.8%,#3500ff 16.9%,#7300ff 20.2%,#ef00ff 21.9%,#ff00ff 22.2%,#ff00bf 23.4%,#ff00bf 100%)"></i><i style="left:432px;width:3px;background:linear-gradient(#ffa000 0%,#ffbc00 1.7%,#ffff00 2.7%,#dfff00 3.2%,#00ff00 4.8%,#00ff11 4.9%,#00ffb6 12%,#00ffff 12.3%,#0030ff 13.3%,#0000ff 15.2%,#2e00ff 17%,#6e00ff 20.2%,#ee00ff 21.9%,#ff00ff 22.2%,#ff00bf 23.4%,#ff00bf 100%)"></i><i style="left:435px;width:3px;background:linear-gradient(#ffa200 0%,#ffbe00 1.7%,#ffff00 2.7%,#deff00 3.2%,#00ff00 4.8%,#00ff15 4.9%,#00ffba 12%,#00ffff 12.3%,#0039ff 13.3%,#0000ff 15.7%,#6900ff 20.2%,#ed00ff 21.9%,#ff00ff 22.2%,#ff00bf 23.4%,#ff00bf 100%)"></i><i style="left:438px;width:3px;background:linear-gradient(#ffa400 0%,#ffc000 1.7%,#ffff00 2.7%,#ddff00 3.2%,#00ff00 4.7%,#00ff19 4.9%,#00ffbe 12%,#00ffff 12.3%,#0041ff 13.3%,#0000ff 16%,#6400ff 20.2%,#ec00ff 21.9%,#ff00ff 22.2%,#ff00bf 23.4%,#ff00bf 100%)"></i><i style="left:441px;width:3px;background:linear-gradient(#ffa600 0%,#ffc100 1.7%,#ffff00 2.7%,#dcff00 3.2%,#00ff00 4.7%,#00ff1d 4.9%,#00ffc1 12%,#00ffff 12.4%,#0046ff 13.3%,#0000ff 16.2%,#6000ff 20.2%,#eb00ff 21.9%,#ff00ff 22.2%,#ff00bf 23.4%,#ff00bf 100%)"></i><i style="left:444px;width:3px;background:linear-gradient(#ffa700 0%,#ffc200 1.7%,#ffff00 2.7%,#dbff00 3.2%,#00ff00 4.7%,#00ff20 4.9%,#00ffb8 11.2%,#00ffc4 12.1%,#00ffff 12.4%,#0048ff 13.4%,#0000ff 16.3%,#5f00ff 20.2%,#ea00ff 21.9%,#ff00ff 22.2%,#ff00bf 23.4%,#ff00bf 100%)"></i><i style="left:447px;width:3px;background:linear-gradient(#ffa700 0%,#ffc300 1.7%,#ffff00 2.6%,#daff00 3.2%,#00ff00 4.7%,#00ff24 4.9%,#00ffbd 11.3%,#00ffc6 12.1%,#00ffff 12.4%,#0049ff 13.4%,#0000ff 16.4%,#5d00ff 20.2%,#ea00ff 21.9%,#ff00ff 22.2%,#ff00bf 23.4%,#ff00bf 100%)"></i><i style="left:450px;width:3px;background:linear-gradient(#ffa800 0%,#ffc400 1.7%,#ffff00 2.6%,#daff00 3.2%,#00ff00 4.7%,#00ff27 4.9%,#00ffc1 11.3%,#00ffc9 12.2%,#00ffff 12.5%,#004bff 13.5%,#0000ff 16.5%,#5b00ff 20.2%,#e900ff 21.9%,#ff00ff 22.3%,#ff00bf 23.4%,#ff00bf 100%)"></i><i style="left:453px;width:3px;background:linear-gradient(#ffa900 0%,#ffc500 1.7%,#ffff00 2.6%,#d9ff00 3.2%,#00ff00 4.7%,#00ff2a 4.9%,#00ffc5 11.4%,#00ffcb 12.2%,#00ffff 12.5%,#004dff 13.5%,#0000ff 16.6%,#5a00ff 20.3%,#e800ff 21.9%,#ff00ff 22.3%,#ff00bf 23.4%,#ff00bf 100%)"></i><i style="left:456px;width:3px;background:linear-gradient(#ffaa00 0%,#ffc600 1.7%,#ffff00 2.6%,#d8ff00 3.2%,#00ff00 4.6%,#00ff2e 4.9%,#00ffc9 11.4%,#00ffce 12.3%,#00ffff 12.6%,#004eff 13.6%,#0000ff 16.7%,#5800ff 20.3%,#e700ff 21.9%,#ff00ff 22.3%,#ff00bf 23.4%,#ff00bf 100%)"></i><i style="left:459px;width:3px;background:linear-gradient(#ffab00 0%,#ffc600 1.7%,#ffff00 2.6%,#d7ff00 3.2%,#00ff00 4.6%,#00ff31 4.9%,#00ffcd 11.5%,#00ffd0 12.3%,#00ffff 12.6%,#0050ff 13.6%,#0000ff 17.1%,#0c00ff 17.7%,#5600ff 20.3%,#e600ff 21.9%,#ff00ff 22.3%,#ff00bf 23.4%,#ff00bf 100%)"></i><i style="left:462px;width:3px;background:linear-gradient(#ffac00 0%,#ffc700 1.7%,#ffff00 2.6%,#d6ff00 3.2%,#00ff00 4.6%,#00ff34 4.9%,#00ffd1 11.5%,#00ffd2 12.4%,#00ffff 12.7%,#0052ff 13.7%,#0000ff 17.3%,#0900ff 17.7%,#5500ff 20.3%,#e500ff 21.9%,#ff00ff 22.3%,#ff00bf 23.4%,#ff00bf 100%)"></i><i style="left:465px;width:3px;background:linear-gradient(#ffac00 0%,#ffc800 1.7%,#ffff00 2.6%,#d6ff00 3.2%,#00ff00 4.6%,#00ff37 4.9%,#00ffd5 11.6%,#00ffd5 12.4%,#00ffff 12.7%,#0053ff 13.7%,#0000ff 17.5%,#0700ff 17.8%,#5300ff 20.4%,#e500ff 21.9%,#ff00ff 22.3%,#ff00bf 23.4%,#ff00bf 100%)"></i><i style="left:468px;width:3px;background:linear-gradient(#ffad00 0%,#ffc900 1.7%,#ffff00 2.6%,#d5ff00 3.2%,#00ff00 4.6%,#00ff3b 4.9%,#00ffd9 11.6%,#00ffd7 12.5%,#00ffff 12.7%,#0055ff 13.8%,#0000ff 17.7%,#0400ff 17.9%,#5100ff 20.4%,#e400ff 21.9%,#ff00ff 22.3%,#ff00bf 23.4%,#ff00bf 100%)"></i><i style="left:471px;width:3px;background:linear-gradient(#ffae00 0%,#ffca00 1.7%,#ffff00 2.5%,#d4ff00 3.2%,#00ff00 4.5%,#00ff3e 4.9%,#00ffdd 11.7%,#00ffda 12.5%,#00ffff 12.8%,#0057ff 13.8%,#0000ff 17.9%,#0200ff 18%,#5000ff 20.4%,#e300ff 21.9%,#ff00ff 22.3%,#ff00bf 23.4%,#ff00bf 100%)"></i><i style="left:474px;width:3px;background:linear-gradient(#ffaf00 0%,#ffca00 1.7%,#ffff00 2.5%,#d3ff00 3.2%,#00ff00 4.5%,#00ff41 4.9%,#00ffe2 11.7%,#00ffdc 12.6%,#00ffff 12.8%,#0058ff 13.9%,#0001ff 18%,#0000ff 18.1%,#4e00ff 20.5%,#e200ff 21.9%,#ff00ff 22.3%,#ff00bf 23.4%,#ff00bf 100%)"></i><i style="left:477px;width:3px;background:linear-gradient(#ffb000 0%,#ffcb00 1.7%,#ffff00 2.5%,#d2ff00 3.2%,#00ff00 4.5%,#00ff45 4.9%,#00ffe6 11.8%,#00ffdf 12.7%,#00ffff 12.9%,#005aff 13.9%,#0003ff 18.1%,#0000ff 18.2%,#4c00ff 20.5%,#e100ff 21.9%,#ff00ff 22.3%,#ff00bf 23.4%,#ff00bf 100%)"></i><i style="left:480px;width:3px;background:linear-gradient(#ffb100 0%,#ffcc00 1.7%,#ffff00 2.5%,#d1ff00 3.2%,#00ff00 4.5%,#00ff48 4.9%,#00ffea 11.8%,#00ffe1 12.7%,#00ffff 12.9%,#005cff 14%,#0006ff 18.2%,#0000ff 18.4%,#4b00ff 20.5%,#e000ff 21.9%,#ff00ff 22.4%,#ff00bf 23.4%,#ff00bf 100%)"></i><i style="left:483px;width:3px;background:linear-gradient(#ffb100 0%,#ffcd00 1.7%,#ffff00 2.5%,#d1ff00 3.2%,#00ff00 4.5%,#00ff4b 4.9%,#00ffee 11.9%,#00ffe4 12.8%,#00ffff 12.9%,#005dff 14%,#0008ff 18.3%,#0000ff 18.5%,#4900ff 20.5%,#e000ff 21.9%,#ff00ff 22.4%,#ff00bf 23.4%,#ff00bf 100%)"></i><i style="left:486px;width:3px;background:linear-gradient(#ffb200 0%,#ffce00 1.7%,#ffff00 2.5%,#d0ff00 3.2%,#00ff00 4.5%,#00ff4e 4.9%,#00fff2 11.9%,#00ffe6 12.8%,#00ffff 13%,#005fff 14.1%,#000bff 18.3%,#0000ff 18.6%,#4700ff 20.6%,#df00ff 21.9%,#ff00ff 22.4%,#ff00bf 23.4%,#ff00bf 100%)"></i><i style="left:489px;width:3px;background:linear-gradient(#ffb300 0%,#ffcf00 1.7%,#ffff00 2.5%,#cfff00 3.2%,#00ff00 4.4%,#00ff52 4.9%,#00fff6 12%,#00ffe9 12.9%,#00ffff 13%,#0061ff 14.1%,#000dff 18.4%,#0000ff 18.8%,#4600ff 20.6%,#de00ff 21.9%,#ff00ff 22.4%,#ff00bf 23.4%,#ff00bf 100%)"></i><i style="left:492px;width:3px;background:linear-gradient(#ffb200 0%,#ffce00 1.7%,#ffff00 2.5%,#cfff00 3.2%,#00ff00 4.4%,#00ff54 4.9%,#00fff7 12%,#00ffea 12.9%,#00ffff 13%,#0061ff 14.2%,#000eff 18.5%,#0000ff 18.8%,#4500ff 20.6%,#de00ff 21.9%,#ff00ff 22.4%,#ff00bf 23.4%,#ff00bf 100%)"></i><i style="left:495px;width:3px;background:linear-gradient(#ffb200 0%,#ffcd00 1.7%,#ffff00 2.5%,#cfff00 3.2%,#00ff00 4.4%,#00ff55 4.9%,#00fff8 12.1%,#00ffeb 12.9%,#00ffff 13.1%,#0061ff 14.2%,#000eff 18.5%,#0000ff 18.8%,#4500ff 20.6%,#de00ff 21.9%,#ff00ff 22.4%,#ff00bf 23.4%,#ff00bf 100%)"></i><i style="left:498px;width:3px;background:linear-gradient(#ffb100 0%,#ffcc00 1.7%,#ffff00 2.5%,#cfff00 3.2%,#00ff00 4.4%,#00ff57 4.9%,#00fff9 12.2%,#00ffeb 12.9%,#00ffff 13.1%,#0061ff 14.3%,#000eff 18.5%,#0000ff 18.9%,#4500ff 20.7%,#de00ff 21.9%,#ff00ff 22.4%,#ff00bf 23.4%,#ff00bf 100%)"></i><i style="left:501px;width:3px;background:linear-gradient(#ffb000 0%,#ffcc00 1.7%,#ffff00 2.5%,#cfff00 3.2%,#00ff00 4.4%,#00ff59 4.9%,#00fffa 12.2%,#00ffec 13%,#00ffff 13.1%,#0061ff 14.3%,#000eff 18.5%,#0000ff 18.9%,#4500ff 20.7%,#de00ff 22%,#ff00ff 22.4%,#ff00bf 23.4%,#ff00bf 100%)"></i><i style="left:504px;width:3px;background:linear-gradient(#ffaf00 0%,#ffcb00 1.7%,#ffff00 2.5%,#cfff00 3.2%,#00ff00 4.4%,#00ff5a 4.9%,#00fffb 12.3%,#00ffed 13%,#00ffff 13.1%,#0061ff 14.3%,#000eff 18.6%,#0000ff 18.9%,#4500ff 20.7%,#de00ff 22%,#ff00ff 22.5%,#ff00bf 23.4%,#ff00bf 100%)"></i><i style="left:507px;width:3px;background:linear-gradient(#ffae00 0%,#ffca00 1.7%,#ffff00 2.5%,#cfff00 3.2%,#00ff00 4.4%,#00ff5c 4.9%,#00fffc 12.3%,#00ffee 13%,#00ffff 13.1%,#0061ff 14.4%,#000eff 18.6%,#0000ff 18.9%,#4500ff 20.7%,#de00ff 22%,#ff00ff 22.5%,#ff00bf 23.4%,#ff00bf 100%)"></i><i style="left:510px;width:3px;background:linear-gradient(#ffae00 0%,#ffc900 1.7%,#ffff00 2.5%,#cfff00 3.2%,#00ff00 4.4%,#00ff5d 4.9%,#00fffc 12.4%,#00ffef 13%,#00ffff 13.2%,#0061ff 14.4%,#000eff 18.6%,#0000ff 19%,#4500ff 20.8%,#de00ff 22%,#ff00ff 22.5%,#ff00bf 23.4%,#ff00bf 100%)"></i><i style="left:513px;width:3px;background:linear-gradient(#ffad00 0%,#ffc800 1.7%,#ffff00 2.5%,#cfff00 3.2%,#00ff00 4.4%,#00ff5f 4.9%,#00fffd 12.4%,#00fff0 13.1%,#00ffff 13.2%,#0061ff 14.5%,#000eff 18.6%,#0000ff 19%,#4500ff 20.8%,#de00ff 22.1%,#ff00ff 22.5%,#ff00bf 23.4%,#ff00bf 100%)"></i><i style="left:516px;width:3px;background:linear-gradient(#ffac00 0%,#ffc700 1.7%,#ffff00 2.5%,#cfff00 3.2%,#00ff00 4.4%,#00ff61 4.9%,#00fffe 12.5%,#00fff0 13.1%,#00ffff 13.2%,#0061ff 14.5%,#000eff 18.7%,#0000ff 19%,#4500ff 20.8%,#de00ff 22.1%,#ff00ff 22.5%,#ff00bf 23.4%,#ff00bf 100%)"></i><i style="left:519px;width:3px;background:linear-gradient(#ffab00 0%,#ffc700 1.7%,#ffff00 2.5%,#cfff00 3.2%,#00ff00 4.4%,#00ff62 4.9%,#00ffff 12.5%,#00fff1 13.1%,#00ffff 13.2%,#0061ff 14.5%,#000eff 18.7%,#0000ff 19%,#4500ff 20.8%,#de00ff 22.1%,#ff00ff 22.6%,#ff00bf 23.4%,#ff00bf 100%)"></i><i style="left:522px;width:3px;background:linear-gradient(#ffaa00 0%,#ffc600 1.7%,#ffff00 2.5%,#cfff00 3.2%,#00ff00 4.4%,#00ff64 4.9%,#00ffff 12.5%,#00feff 12.6%,#00ffff 12.6%,#00fff2 13.1%,#00ffff 13.3%,#0061ff 14.6%,#000eff 18.7%,#0000ff 19.1%,#4500ff 20.9%,#de00ff 22.1%,#ff00ff 22.6%,#ff00bf 23.4%,#ff00bf 100%)"></i><i style="left:525px;width:3px;background:linear-gradient(#ffa900 0%,#ffc500 1.7%,#ffff00 2.5%,#cfff00 3.2%,#00ff00 4.4%,#00ff66 4.9%,#00ffff 12.5%,#00fdff 12.6%,#00ffff 12.7%,#00fff3 13.2%,#00ffff 13.3%,#0061ff 14.6%,#000eff 18.7%,#0000ff 19.1%,#4500ff 20.9%,#de00ff 22.2%,#ff00ff 22.6%,#ff00bf 23.4%,#ff00bf 100%)"></i><i style="left:528px;width:3px;background:linear-gradient(#ffa900 0%,#ffc400 1.7%,#ffff00 2.5%,#cfff00 3.2%,#00ff00 4.4%,#00ff67 4.9%,#00ffff 12.6%,#00fdff 12.7%,#00ffff 12.8%,#00fff4 13.2%,#00ffff 13.3%,#0061ff 14.6%,#000eff 18.8%,#0000ff 19.1%,#4500ff 20.9%,#de00ff 22.2%,#ff00ff 22.6%,#ff00bf 23.4%,#ff00bf 100%)"></i><i style="left:531px;width:3px;background:linear-gradient(#ffa800 0%,#ffc300 1.7%,#ffff00 2.5%,#cfff00 3.2%,#00ff00 4.4%,#00ff69 4.9%,#00ffff 12.6%,#00fcff 12.7%,#00ffff 12.8%,#00fff4 13.2%,#00ffff 13.3%,#0061ff 14.7%,#000eff 18.8%,#0000ff 19.2%,#4500ff 20.9%,#de00ff 22.2%,#ff00ff 22.6%,#ff00bf 23.4%,#ff00bf 100%)"></i><i style="left:534px;width:3px;background:linear-gradient(#ffa700 0%,#ffc200 1.7%,#ffff00 2.6%,#cfff00 3.2%,#00ff00 4.3%,#00ff6b 4.9%,#00ffff 12.6%,#00fbff 12.8%,#00ffff 12.9%,#00fff5 13.2%,#00ffff 13.3%,#0061ff 14.7%,#000eff 18.8%,#0000ff 19.2%,#4500ff 21%,#de00ff 22.3%,#ff00ff 22.6%,#ff00bf 23.4%,#ff00bf 100%)"></i><i style="left:537px;width:3px;background:linear-gradient(#ffa600 0%,#ffc200 1.7%,#ffff00 2.6%,#cfff00 3.2%,#00ff00 4.3%,#00ff6c 4.9%,#00ffff 12.6%,#00faff 12.8%,#00ffff 13%,#00fff6 13.3%,#00ffff 13.4%,#0061ff 14.8%,#000eff 18.8%,#0000ff 19.2%,#4500ff 21%,#de00ff 22.3%,#ff00ff 22.7%,#ff00bf 23.4%,#ff00bf 100%)"></i><i style="left:540px;width:3px;background:linear-gradient(#ffa500 0%,#ffc100 1.7%,#ffff00 2.6%,#cfff00 3.2%,#00ff00 4.3%,#00ff6e 4.9%,#00ffff 12.6%,#00f9ff 12.9%,#00ffff 13%,#00fff7 13.3%,#00ffff 13.4%,#0061ff 14.8%,#000eff 18.9%,#0000ff 19.2%,#4500ff 21%,#de00ff 22.3%,#ff00ff 22.7%,#ff00bf 23.4%,#ff00bf 100%)"></i><i style="left:543px;width:3px;background:linear-gradient(#ffa400 0%,#ffbf00 1.7%,#ffff00 2.6%,#d0ff00 3.2%,#00ff00 4.3%,#00ff6e 4.9%,#00ffff 12.6%,#00f9ff 12.9%,#00ffff 13.1%,#00fff7 13.3%,#00ffff 13.4%,#0061ff 14.8%,#000eff 18.9%,#0000ff 19.2%,#4500ff 21%,#de00ff 22.3%,#ff00ff 22.7%,#ff00bf 23.4%,#ff00bf 100%)"></i><i style="left:546px;width:3px;background:linear-gradient(#ffa200 0%,#ffbe00 1.7%,#ffff00 2.6%,#d0ff00 3.2%,#00ff00 4.3%,#00ff6e 4.9%,#00ffff 12.6%,#00f9ff 12.9%,#00ffff 13.1%,#00fff7 13.4%,#00ffff 13.5%,#0061ff 14.9%,#000eff 18.9%,#0000ff 19.3%,#4500ff 21%,#de00ff 22.3%,#ff00ff 22.7%,#ff00bf 23.4%,#ff00bf 100%)"></i><i style="left:549px;width:3px;background:linear-gradient(#ffa100 0%,#ffbc00 1.7%,#ffff00 2.6%,#d1ff00 3.2%,#00ff00 4.3%,#00ff6e 4.9%,#00ffff 12.6%,#00f9ff 12.9%,#00ffff 13.1%,#00fff7 13.4%,#00ffff 13.5%,#0061ff 14.9%,#000eff 18.9%,#0000ff 19.3%,#4500ff 21%,#de00ff 22.3%,#ff00ff 22.7%,#ff00bf 23.4%,#ff00bf 100%)"></i><i style="left:552px;width:3px;background:linear-gradient(#ff9f00 0%,#ffbb00 1.7%,#ffff00 2.6%,#d2ff00 3.2%,#00ff00 4.3%,#00ff6e 4.9%,#00ffff 12.6%,#00f9ff 12.9%,#00ffff 13.1%,#00fff7 13.5%,#00ffff 13.6%,#0061ff 15%,#000eff 19%,#0000ff 19.3%,#4500ff 21%,#de00ff 22.3%,#ff00ff 22.7%,#ff00bf 23.4%,#ff00bf 100%)"></i><i style="left:555px;width:3px;background:linear-gradient(#ff9e00 0%,#ffb900 1.7%,#ffff00 2.6%,#d3ff00 3.2%,#00ff00 4.3%,#00ff6e 4.9%,#00ffff 12.6%,#00f9ff 12.9%,#00ffff 13.1%,#00fff7 13.5%,#00ffff 13.6%,#0061ff 15%,#000eff 19%,#0000ff 19.3%,#4500ff 21%,#de00ff 22.3%,#ff00ff 22.7%,#ff00bf 23.4%,#ff00bf 100%)"></i><i style="left:558px;width:3px;background:linear-gradient(#ff9c00 0%,#ffb800 1.7%,#ffff00 2.6%,#d3ff00 3.2%,#00ff00 4.3%,#00ff6e 4.9%,#00ffff 12.6%,#00f9ff 12.9%,#00ffff 13.1%,#00fff7 13.6%,#00ffff 13.7%,#0061ff 15.1%,#000eff 19%,#0000ff 19.3%,#4500ff 21%,#de00ff 22.3%,#ff00ff 22.7%,#ff00bf 23.4%,#ff00bf 100%)"></i><i style="left:561px;width:3px;background:linear-gradient(#ff9b00 0%,#ffb600 1.7%,#ffff00 2.7%,#d4ff00 3.2%,#00ff00 4.3%,#00ff6e 4.9%,#00ffff 12.6%,#00f9ff 12.9%,#00ffff 13.2%,#00fff7 13.6%,#00ffff 13.7%,#0061ff 15.1%,#000eff 19%,#0000ff 19.4%,#4500ff 21%,#de00ff 22.3%,#ff00ff 22.7%,#ff00bf 23.4%,#ff00bf 100%)"></i><i style="left:564px;width:3px;background:linear-gradient(#ff9900 0%,#ffb500 1.7%,#ffff00 2.7%,#d5ff00 3.2%,#00ff00 4.3%,#00ff6e 4.9%,#00ffff 12.6%,#00f9ff 12.9%,#00ffff 13.2%,#00fff7 13.7%,#00ffff 13.7%,#0061ff 15.2%,#000eff 19.1%,#0000ff 19.4%,#4500ff 21%,#de00ff 22.3%,#ff00ff 22.7%,#ff00bf 23.4%,#ff00bf 100%)"></i><i style="left:567px;width:3px;background:linear-gradient(#ff9800 0%,#ffb300 1.7%,#ffff00 2.7%,#d6ff00 3.2%,#00ff00 4.3%,#00ff6e 4.9%,#00ffff 12.6%,#00f9ff 12.9%,#00ffff 13.2%,#00fff7 13.7%,#00ffff 13.8%,#0061ff 15.2%,#000eff 19.1%,#0000ff 19.4%,#4500ff 21%,#de00ff 22.3%,#ff00ff 22.7%,#ff00bf 23.4%,#ff00bf 100%)"></i><i style="left:570px;width:3px;background:linear-gradient(#ff9600 0%,#ffb200 1.7%,#ffff00 2.7%,#d6ff00 3.2%,#00ff00 4.3%,#00ff6e 4.9%,#00ffff 12.6%,#00f9ff 12.9%,#00ffff 13.2%,#00fff7 13.8%,#00ffff 13.8%,#0061ff 15.3%,#000eff 19.1%,#0000ff 19.4%,#4500ff 21%,#de00ff 22.3%,#ff00ff 22.7%,#ff00bf 23.4%,#ff00bf 100%)"></i><i style="left:573px;width:3px;background:linear-gradient(#ff9500 0%,#ffb000 1.7%,#ffff00 2.7%,#d7ff00 3.2%,#00ff00 4.3%,#00ff6e 4.9%,#00ffff 12.6%,#00f9ff 12.9%,#00ffff 13.2%,#00fff7 13.8%,#00ffff 13.9%,#0061ff 15.3%,#000eff 19.1%,#0000ff 19.4%,#4500ff 21%,#de00ff 22.3%,#ff00ff 22.7%,#ff00bf 23.4%,#ff00bf 100%)"></i><i style="left:576px;width:3px;background:linear-gradient(#ff9300 0%,#ffaf00 1.7%,#ffff00 2.7%,#d8ff00 3.2%,#00ff00 4.4%,#00ff6e 4.9%,#00ffff 12.6%,#00f9ff 12.9%,#00ffff 13.3%,#00fff7 13.9%,#00ffff 13.9%,#0061ff 15.4%,#000eff 19.1%,#0000ff 19.5%,#4500ff 21%,#de00ff 22.3%,#ff00ff 22.7%,#ff00bf 23.4%,#ff00bf 100%)"></i><i style="left:579px;width:3px;background:linear-gradient(#ff9200 0%,#ffae00 1.7%,#ffff00 2.7%,#d8ff00 3.2%,#00ff00 4.4%,#00ff6e 4.9%,#00ffff 12.6%,#00f9ff 12.9%,#00ffff 13.3%,#00fff7 13.9%,#00ffff 14%,#0061ff 15.4%,#000eff 19.2%,#0000ff 19.5%,#4500ff 21%,#de00ff 22.3%,#ff00ff 22.7%,#ff00bf 23.4%,#ff00bf 100%)"></i><i style="left:582px;width:3px;background:linear-gradient(#ff9000 0%,#ffac00 1.7%,#ffff00 2.7%,#d9ff00 3.2%,#00ff00 4.4%,#00ff6e 4.9%,#00ffff 12.6%,#00f9ff 12.9%,#00ffff 13.3%,#00fff7 13.9%,#00ffff 14%,#0061ff 15.4%,#000eff 19.2%,#0000ff 19.5%,#4500ff 21%,#de00ff 22.3%,#ff00ff 22.7%,#ff00bf 23.4%,#ff00bf 100%)"></i><i style="left:585px;width:3px;background:linear-gradient(#ff8f00 0%,#ffab00 1.7%,#ffff00 2.8%,#daff00 3.2%,#00ff00 4.4%,#00ff6e 4.9%,#00ffff 12.6%,#00f9ff 12.9%,#00ffff 13.3%,#00fff7 14%,#00ffff 14.1%,#0061ff 15.5%,#000eff 19.2%,#0000ff 19.5%,#4500ff 21%,#de00ff 22.3%,#ff00ff 22.7%,#ff00bf 23.4%,#ff00bf 100%)"></i><i style="left:588px;width:3px;background:linear-gradient(#ff8e00 0%,#ffa900 1.7%,#ffff00 2.8%,#dbff00 3.2%,#00ff00 4.4%,#00ff6e 4.9%,#00ffff 12.6%,#00f9ff 12.9%,#00ffff 13.3%,#00fff7 14%,#00ffff 14.1%,#0061ff 15.5%,#000eff 19.2%,#0000ff 19.5%,#4500ff 21%,#de00ff 22.3%,#ff00ff 22.7%,#ff00bf 23.4%,#ff00bf 100%)"></i><i style="left:591px;width:3px;background:linear-gradient(#ff8c00 0%,#ffa800 1.7%,#ffff00 2.8%,#dbff00 3.2%,#00ff00 4.4%,#00ff6e 4.9%,#00ffff 12.6%,#00f9ff 12.9%,#00ffff 13.4%,#00fff7 14.1%,#00ffff 14.2%,#0061ff 15.6%,#000eff 19.3%,#0000ff 19.6%,#4500ff 21%,#de00ff 22.3%,#ff00ff 22.7%,#ff00bf 23.4%,#ff00bf 100%)"></i><i style="left:594px;width:3px;background:linear-gradient(#ff8b00 0%,#ffa600 1.7%,#ffff00 2.8%,#dcff00 3.2%,#00ff00 4.4%,#00ff6e 4.9%,#00ffff 12.6%,#00f9ff 12.9%,#00ffff 13.4%,#00fff7 14.1%,#00ffff 14.2%,#0061ff 15.6%,#000eff 19.3%,#0000ff 19.6%,#4500ff 21%,#de00ff 22.3%,#ff00ff 22.7%,#ff00bf 23.4%,#ff00bf 100%)"></i><i style="left:597px;width:3px;background:linear-gradient(#ff8a00 0%,#ffa500 1.7%,#ffff00 2.8%,#ddff00 3.2%,#00ff00 4.4%,#00ff6e 4.9%,#00ffff 12.6%,#00f9ff 12.9%,#00ffff 13.4%,#00fff7 14.2%,#00ffff 14.2%,#0061ff 15.7%,#000eff 19.3%,#0000ff 19.6%,#4500ff 21%,#de00ff 22.3%,#ff00ff 22.7%,#ff00bf 23.4%,#ff00bf 100%)"></i></div>
<div class="fld" style="left:60px;top:10.4px;width:122px;height:406.6px"><i style="left:0px;width:44px;background:linear-gradient(#fffcd6 0%,#fffacb 2.3%,#fff7bc 2.5%,#feeba2 2.8%,#fee391 3%,#fec44f 3.4%,#feb541 3.6%,#fe9929 3.9%,#ed7215 4.4%,#ec7014 4.5%,#cc4c02 5.1%,#b84203 5.4%,#993404 5.5%,#662506 5.7%,#662506 10.1%,#993404 10.3%,#cc4c02 10.4%,#e66910 10.6%,#ec7014 15.1%,#ed7215 16%,#f4821d 21.2%,#fe9929 24.2%,#feb13e 27.3%,#fec44f 29.1%,#fee391 33.1%,#fee698 33.7%,#fff3b3 37.1%,#fff7bc 38.6%,#fff9c7 40.6%,#fffcd8 45%,#fffee2 50.4%,#ffffe5 55.3%,#ffffe5 100%)"></i><i style="left:44px;width:2px;background:linear-gradient(#fffcd6 0%,#fffacb 2.3%,#fff7bc 2.5%,#feeba2 2.8%,#fee391 3%,#fec44f 3.4%,#feb541 3.6%,#fe9929 3.9%,#ed7215 4.4%,#ec7014 4.5%,#cc4c02 5.1%,#b84203 5.4%,#993404 5.5%,#662506 5.7%,#662506 10.1%,#993404 10.3%,#cc4c02 10.5%,#e66910 10.6%,#ec7014 15.1%,#ed7215 16%,#f4821d 21.2%,#fe9929 24.2%,#feb13e 27.3%,#fec44f 29.1%,#fee391 33.1%,#fee698 33.7%,#fff3b3 37.1%,#fff7bc 38.6%,#fff9c7 40.6%,#fffcd8 45%,#fffee2 50.4%,#ffffe5 55.3%,#ffffe5 100%)"></i><i style="left:46px;width:2px;background:linear-gradient(#fffcd6 0%,#fffacb 2.3%,#fff7bc 2.5%,#feeba2 2.8%,#fee391 3%,#fec44f 3.4%,#feb541 3.6%,#fe9929 3.9%,#ed7215 4.4%,#ec7014 4.5%,#cc4c02 5.1%,#b84203 5.4%,#993404 5.5%,#662506 5.7%,#662506 10.2%,#993404 10.3%,#cc4c02 10.5%,#e66910 10.6%,#ec7014 15.1%,#ed7215 16%,#f4821d 21.2%,#fe9929 24.2%,#feb13e 27.3%,#fec44f 29.1%,#fee391 33.1%,#fee698 33.7%,#fff3b3 37.1%,#fff7bc 38.6%,#fff9c7 40.6%,#fffcd8 45%,#fffee2 50.4%,#ffffe5 55.3%,#ffffe5 100%)"></i><i style="left:48px;width:2px;background:linear-gradient(#fffcd6 0%,#fffacb 2.3%,#fff7bc 2.5%,#feeba2 2.8%,#fee391 3%,#fec44f 3.4%,#feb541 3.6%,#fe9929 3.9%,#ed7215 4.4%,#ec7014 4.5%,#cc4c02 5.1%,#b84203 5.4%,#993404 5.5%,#662506 5.8%,#662506 10.2%,#993404 10.4%,#cc4c02 10.6%,#e66910 10.7%,#ec7014 15.1%,#ed7215 16%,#f4821d 21.2%,#fe9929 24.2%,#feb13e 27.3%,#fec44f 29.1%,#fee391 33.1%,#fee698 33.7%,#fff3b3 37.1%,#fff7bc 38.6%,#fff9c7 40.6%,#fffcd8 45%,#fffee2 50.4%,#ffffe5 55.3%,#ffffe5 100%)"></i><i style="left:50px;width:2px;background:linear-gradient(#fffcd6 0%,#fffacb 2.3%,#fff7bc 2.5%,#feeba2 2.8%,#fee391 3%,#fec44f 3.4%,#feb541 3.6%,#fe9929 3.9%,#ed7215 4.4%,#ec7014 4.5%,#cc4c02 5.1%,#b84203 5.4%,#993404 5.6%,#662506 5.8%,#662506 10.1%,#993404 10.3%,#cc4c02 10.5%,#e56910 10.6%,#ec7014 15.1%,#ed7215 16%,#f4821d 21.2%,#fe9929 24.2%,#feb13e 27.3%,#fec44f 29.1%,#fee391 33.1%,#fee698 33.7%,#fff3b3 37.1%,#fff7bc 38.6%,#fff9c7 40.6%,#fffcd8 45%,#fffee2 50.4%,#ffffe5 55.3%,#ffffe5 100%)"></i><i style="left:52px;width:2px;background:linear-gradient(#fffcd6 0%,#fffacb 2.3%,#fff7bc 2.5%,#feeba2 2.8%,#fee391 3%,#fec44f 3.4%,#feb541 3.6%,#fe9929 3.9%,#ed7215 4.4%,#ec7014 4.5%,#cc4c02 5.1%,#b84203 5.4%,#993404 5.6%,#662506 5.8%,#662506 10%,#993404 10.2%,#cc4c02 10.4%,#e66910 10.6%,#ec7014 15.1%,#ed7215 16%,#f4821d 21.2%,#fe9929 24.2%,#feb13e 27.3%,#fec44f 29.1%,#fee391 33.1%,#fee698 33.7%,#fff3b3 37.1%,#fff7bc 38.6%,#fff9c7 40.6%,#fffcd8 45%,#fffee2 50.4%,#ffffe5 55.3%,#ffffe5 100%)"></i><i style="left:54px;width:2px;background:linear-gradient(#fffcd6 0%,#fffacb 2.3%,#fff7bc 2.5%,#feeba2 2.8%,#fee391 3%,#fec44f 3.4%,#feb541 3.6%,#fe9929 3.9%,#ed7215 4.4%,#ec7014 4.5%,#cc4c02 5.1%,#b84203 5.4%,#993404 5.6%,#662506 5.8%,#662506 9.9%,#993404 10.1%,#cc4c02 10.3%,#e56910 10.5%,#ec7014 15.1%,#ed7215 16%,#f4821d 21.2%,#fe9929 24.2%,#feb13e 27.3%,#fec44f 29.1%,#fee391 33.1%,#fee698 33.7%,#fff3b3 37.1%,#fff7bc 38.6%,#fff9c7 40.6%,#fffcd8 45%,#fffee2 50.4%,#ffffe5 55.3%,#ffffe5 100%)"></i><i style="left:56px;width:2px;background:linear-gradient(#fffcd6 0%,#fffacb 2.3%,#fff7bc 2.5%,#feeba2 2.8%,#fee391 3%,#fec44f 3.4%,#feb541 3.6%,#fe9929 3.9%,#ed7215 4.4%,#ec7014 4.5%,#cc4c02 5.1%,#b84203 5.4%,#993404 5.6%,#662506 5.9%,#662506 9.6%,#993404 9.9%,#cc4c02 10.1%,#e66910 10.3%,#ec7014 15%,#ed7215 16%,#f4821d 21.2%,#fe9929 24.2%,#feb13e 27.3%,#fec44f 29.1%,#fee391 33.1%,#fee698 33.7%,#fff3b3 37.1%,#fff7bc 38.6%,#fff9c7 40.6%,#fffcd8 45%,#fffee2 50.4%,#ffffe5 55.3%,#ffffe5 100%)"></i><i style="left:58px;width:2px;background:linear-gradient(#fffcd6 0%,#fffacb 2.3%,#fff7bc 2.5%,#feeba2 2.8%,#fee391 3%,#fec44f 3.4%,#feb541 3.6%,#fe9929 3.9%,#ed7215 4.4%,#ec7014 4.5%,#cc4c02 5.1%,#b84203 5.4%,#993404 5.6%,#662506 5.9%,#662506 9.2%,#993404 9.5%,#cc4c02 9.7%,#e66910 9.9%,#ec7014 15%,#ed7215 16%,#f4821d 21.2%,#fe9929 24.2%,#feb13e 27.3%,#fec44f 29.1%,#fee391 33.1%,#fee698 33.7%,#fff3b3 37.1%,#fff7bc 38.6%,#fff9c7 40.6%,#fffcd8 45%,#fffee2 50.4%,#ffffe5 55.3%,#ffffe5 100%)"></i><i style="left:60px;width:4px;background:linear-gradient(#fffcd6 0%,#fffacb 2.3%,#fff7bc 2.5%,#feeba2 2.8%,#fee391 3%,#fec44f 3.4%,#feb541 3.6%,#fe9929 3.9%,#ed7215 4.4%,#ec7014 4.5%,#cc4c02 5.1%,#b84203 5.4%,#993404 5.6%,#662506 5.9%,#662506 8.8%,#993404 9.1%,#cc4c02 9.3%,#e66910 9.5%,#ec7014 14.9%,#ed7215 16%,#f4821d 21.2%,#fe9929 24.2%,#feb13e 27.3%,#fec44f 29.1%,#fee391 33.1%,#fee698 33.7%,#fff3b3 37.1%,#fff7bc 38.6%,#fff9c7 40.6%,#fffcd8 45%,#fffee2 50.4%,#ffffe5 55.3%,#ffffe5 100%)"></i><i style="left:64px;width:2px;background:linear-gradient(#fffcd6 0%,#fffacb 2.3%,#fff7bc 2.5%,#feeba2 2.8%,#fee391 3%,#fec44f 3.4%,#feb541 3.6%,#fe9929 3.9%,#ed7215 4.4%,#ec7014 4.5%,#cc4c02 5.1%,#b84203 5.4%,#993404 5.6%,#662506 6%,#662506 9.2%,#993404 9.5%,#cc4c02 9.7%,#e66910 9.9%,#ec7014 15%,#ed7215 16%,#f4821d 21.2%,#fe9929 24.2%,#feb13e 27.3%,#fec44f 29.1%,#fee391 33.1%,#fee698 33.7%,#fff3b3 37.1%,#fff7bc 38.6%,#fff9c7 40.6%,#fffcd8 45%,#fffee2 50.4%,#ffffe5 55.3%,#ffffe5 100%)"></i><i style="left:66px;width:2px;background:linear-gradient(#fffcd6 0%,#fffacb 2.3%,#fff7bc 2.5%,#feeba2 2.8%,#fee391 3%,#fec44f 3.4%,#feb541 3.6%,#fe9929 3.9%,#ed7215 4.4%,#ec7014 4.5%,#cc4c02 5.1%,#b84203 5.4%,#993404 5.6%,#662506 6%,#662506 9.6%,#993404 9.9%,#cc4c02 10.1%,#e66910 10.3%,#ec7014 15%,#ed7215 16%,#f4821d 21.2%,#fe9929 24.2%,#feb13e 27.3%,#fec44f 29.1%,#fee391 33.1%,#fee698 33.7%,#fff3b3 37.1%,#fff7bc 38.6%,#fff9c7 40.6%,#fffcd8 45%,#fffee2 50.4%,#ffffe5 55.3%,#ffffe5 100%)"></i><i style="left:68px;width:2px;background:linear-gradient(#fffcd6 0%,#fffacb 2.3%,#fff7bc 2.5%,#feeba2 2.8%,#fee391 3%,#fec44f 3.4%,#feb541 3.6%,#fe9929 3.9%,#ed7215 4.4%,#ec7014 4.5%,#cc4c02 5.1%,#b84203 5.4%,#993404 5.6%,#662506 6%,#662506 10%,#993404 10.2%,#cc4c02 10.4%,#e4670f 10.6%,#ec7014 16%,#ec7014 16.1%,#f3811d 21.2%,#fe9929 24.5%,#feb03d 27.4%,#fec44f 29.2%,#fee391 33.2%,#fee596 33.7%,#fff2b2 37.1%,#fff7bc 38.7%,#fff9c7 40.6%,#fffcd7 44.9%,#fffee1 50.3%,#ffffe5 55.3%,#ffffe5 100%)"></i><i style="left:70px;width:2px;background:linear-gradient(#fffcd6 0%,#fffacb 2.3%,#fff7bc 2.5%,#feeba2 2.8%,#fee391 3%,#fec44f 3.4%,#feb541 3.6%,#fe9929 3.9%,#ed7215 4.4%,#ec7014 4.5%,#cc4c02 5.1%,#b84203 5.4%,#993404 5.6%,#662506 6%,#662506 10.2%,#993404 10.5%,#cc4c02 10.7%,#e0630d 10.9%,#e96d12 16.1%,#ec7014 17.2%,#f27e1b 21.3%,#fe9929 24.9%,#fead3b 27.5%,#fec44f 29.6%,#fee391 33.5%,#fee493 33.8%,#fff1b0 37.1%,#fff7bc 39%,#fff9c6 40.5%,#fffcd6 44.8%,#fffee1 50.2%,#ffffe5 55.3%,#ffffe5 100%)"></i><i style="left:72px;width:2px;background:linear-gradient(#fffcd6 0%,#fffacb 2.3%,#fff7bc 2.5%,#feeba2 2.8%,#fee391 3%,#fec44f 3.4%,#feb541 3.6%,#fe9929 3.9%,#ed7215 4.4%,#ec7014 4.5%,#cc4c02 5.1%,#b84203 5.4%,#993404 5.6%,#662506 6%,#662506 10.5%,#993404 10.7%,#cc4c02 11%,#dd5f0b 11.2%,#e66a11 16.2%,#ec7014 18.3%,#f17b1a 21.5%,#fe9929 25.4%,#feab39 27.7%,#fec44f 29.9%,#fee290 33.8%,#fee391 33.9%,#fff0ad 37.1%,#fff7bc 39.2%,#fff9c4 40.4%,#fffcd5 44.6%,#fffee0 50%,#ffffe5 55.3%,#ffffe5 100%)"></i><i style="left:74px;width:2px;background:linear-gradient(#fffcd6 0%,#fffacb 2.3%,#fff7bc 2.5%,#feeba2 2.8%,#fee391 3%,#fec44f 3.4%,#feb541 3.6%,#fe9929 3.9%,#ed7215 4.4%,#ec7014 4.5%,#cc4c02 5.1%,#b84203 5.4%,#993404 5.6%,#662506 6%,#662506 10.7%,#993404 11.1%,#cc4c02 11.4%,#d85909 11.5%,#e2650f 16.3%,#ec7014 19.6%,#ef7818 21.6%,#fa8f24 25%,#fe9929 26.2%,#fea836 27.8%,#fec44f 30.4%,#fedf89 33.8%,#fee391 34.3%,#ffefaa 37%,#fff7bc 39.4%,#fff8c2 40.3%,#fffcd4 44.3%,#fffee0 49.7%,#ffffe5 55.3%,#ffffe5 100%)"></i><i style="left:76px;width:2px;background:linear-gradient(#fffcd6 0%,#fffacb 2.3%,#fff7bc 2.5%,#feeba2 2.8%,#fee391 3%,#fec44f 3.4%,#feb541 3.6%,#fe9929 3.9%,#ed7215 4.4%,#ec7014 4.5%,#cc4c02 5.1%,#b84203 5.4%,#993404 5.6%,#662506 6%,#662506 11.1%,#993404 11.4%,#cc4c02 11.8%,#d15205 11.8%,#dd600c 16.5%,#ec7014 21%,#ed7316 21.8%,#f88a21 25.2%,#fe9929 26.9%,#fea432 28%,#fec44f 31%,#fee391 34.9%,#feeda6 36.8%,#fff7bc 39.5%,#fff8c0 40%,#fffbd2 43.8%,#fffedf 49.2%,#ffffe5 55.3%,#ffffe5 100%)"></i><i style="left:78px;width:2px;background:linear-gradient(#fffcd6 0%,#fffacb 2.3%,#fff7bc 2.5%,#feeba2 2.8%,#fee391 3%,#fec44f 3.4%,#feb541 3.6%,#fe9929 3.9%,#ed7215 4.4%,#ec7014 4.5%,#cc4c02 5.1%,#b84203 5.4%,#993404 5.7%,#662506 6.1%,#662506 11.4%,#993404 11.8%,#cb4b02 12.2%,#cc4c02 12.4%,#eb6f13 21.9%,#ec7014 22.1%,#f6861f 25.5%,#fe9929 27.6%,#fe9f2f 28.2%,#fec44f 31.4%,#fee391 35.2%,#feeba2 36.7%,#fff7bc 39.5%,#fff7be 39.7%,#fffbd1 43.3%,#fffede 48.7%,#ffffe5 55.3%,#ffffe5 100%)"></i><i style="left:80px;width:2px;background:linear-gradient(#fffcd6 0%,#fffacb 2.3%,#fff7bc 2.5%,#feeba2 2.8%,#fee391 3%,#fec44f 3.4%,#feb541 3.6%,#fe9929 3.9%,#ed7215 4.4%,#ec7014 4.5%,#cc4c02 5.1%,#b84203 5.4%,#993404 5.7%,#662506 6.1%,#662506 11.8%,#993404 12.2%,#c14702 12.5%,#cc4c02 14.5%,#e76b11 22.1%,#ec7014 23%,#f3811d 25.7%,#fe9929 28.1%,#feb744 31%,#fec44f 32%,#fee391 35.5%,#fee99d 36.5%,#fff7bb 39.5%,#fff7bc 39.6%,#fffbcf 42.8%,#fffddd 48.2%,#ffffe5 55.3%,#ffffe5 100%)"></i><i style="left:82px;width:2px;background:linear-gradient(#fffcd6 0%,#fffacb 2.3%,#fff7bc 2.5%,#feeba2 2.8%,#fee391 3%,#fec44f 3.4%,#feb541 3.6%,#fe9929 3.9%,#ed7215 4.4%,#ec7014 4.5%,#cc4c02 5.1%,#b84203 5.4%,#993404 5.7%,#662506 6.1%,#662506 12%,#993404 12.4%,#bc4403 12.7%,#cc4c02 15.4%,#e66910 22.2%,#ec7014 23.5%,#f27f1c 25.9%,#fe9929 28.4%,#feb541 31%,#fec44f 32.2%,#fee391 35.6%,#fee89b 36.4%,#fff6ba 39.4%,#fff7bc 39.6%,#fffbce 42.6%,#fffddd 48%,#ffffe5 55.3%,#ffffe5 100%)"></i><i style="left:84px;width:2px;background:linear-gradient(#fffcd6 0%,#fffacb 2.3%,#fff7bc 2.5%,#feeba2 2.8%,#fee391 3%,#fec44f 3.4%,#feb541 3.6%,#fe9929 3.9%,#ed7215 4.4%,#ec7014 4.5%,#cc4c02 5.1%,#b84203 5.4%,#993404 5.7%,#662506 6.1%,#662506 12%,#993404 12.5%,#bc4403 12.8%,#cc4c02 15.5%,#e66910 22.2%,#ec7014 23.5%,#f27f1c 25.9%,#fe9929 28.5%,#feb541 31.1%,#fec44f 32.3%,#fee391 35.7%,#fee89b 36.5%,#fff6ba 39.4%,#fff7bc 39.7%,#fffbce 42.6%,#fffddd 48%,#ffffe5 55.3%,#ffffe5 100%)"></i><i style="left:86px;width:2px;background:linear-gradient(#fffcd6 0%,#fffacb 2.3%,#fff7bc 2.5%,#feeba2 2.8%,#fee391 3%,#fec44f 3.4%,#feb541 3.6%,#fe9929 3.9%,#ed7215 4.4%,#ec7014 4.5%,#cc4c02 5.1%,#b84203 5.4%,#993404 5.7%,#662506 6.1%,#662506 12.1%,#993404 12.5%,#bc4403 12.8%,#cc4c02 15.5%,#e66910 22.3%,#ec7014 23.6%,#f27f1c 26%,#fe9929 28.5%,#feb541 31.1%,#fec44f 32.3%,#fee391 35.7%,#fee89b 36.5%,#fff6ba 39.5%,#fff7bc 39.8%,#fffbce 42.7%,#fffddd 48.1%,#ffffe5 55.3%,#ffffe5 100%)"></i><i style="left:88px;width:2px;background:linear-gradient(#fffcd6 0%,#fffacb 2.3%,#fff7bc 2.5%,#feeba2 2.8%,#fee391 3%,#fec44f 3.4%,#feb541 3.6%,#fe9929 3.9%,#ed7215 4.4%,#ec7014 4.5%,#cc4c02 5.1%,#b84203 5.4%,#993404 5.7%,#662506 6.1%,#662506 12.1%,#993404 12.6%,#bc4403 12.9%,#cc4c02 15.6%,#e66910 22.3%,#ec7014 23.6%,#f27f1c 26%,#fe9929 28.6%,#feb541 31.2%,#fec44f 32.4%,#fee391 35.8%,#fee89b 36.6%,#fff6ba 39.5%,#fff7bc 39.8%,#fffbce 42.7%,#fffddd 48.2%,#ffffe5 55.3%,#ffffe5 100%)"></i><i style="left:90px;width:2px;background:linear-gradient(#fffcd6 0%,#fffacb 2.3%,#fff7bc 2.5%,#feeba2 2.8%,#fee391 3%,#fec44f 3.4%,#feb541 3.6%,#fe9929 3.9%,#ed7215 4.4%,#ec7014 4.5%,#cc4c02 5.1%,#b84203 5.4%,#993404 5.7%,#662506 6.1%,#662506 12.2%,#993404 12.6%,#bc4403 13%,#cc4c02 15.7%,#e66910 22.4%,#ec7014 23.7%,#f27f1c 26.1%,#fe9929 28.7%,#feb541 31.2%,#fec44f 32.5%,#fee391 35.8%,#fee89b 36.6%,#fff6ba 39.6%,#fff7bc 39.9%,#fffbce 42.8%,#fffddd 48.2%,#ffffe5 55.3%,#ffffe5 100%)"></i><i style="left:92px;width:2px;background:linear-gradient(#fffcd6 0%,#fffacb 2.3%,#fff7bc 2.5%,#feeba2 2.8%,#fee391 3%,#fec44f 3.4%,#feb541 3.6%,#fe9929 3.9%,#ed7215 4.4%,#ec7014 4.5%,#cc4c02 5.1%,#b84203 5.4%,#993404 5.7%,#662506 6.1%,#662506 12.2%,#993404 12.7%,#bc4403 13%,#cc4c02 15.7%,#e66910 22.4%,#ec7014 23.8%,#f27f1c 26.1%,#fe9929 28.7%,#feb541 31.3%,#fec44f 32.5%,#fee391 35.9%,#fee89b 36.7%,#fff6ba 39.7%,#fff7bc 39.9%,#fffbce 42.8%,#fffddd 48.3%,#ffffe5 55.3%,#ffffe5 100%)"></i><i style="left:94px;width:2px;background:linear-gradient(#fffcd6 0%,#fffacb 2.3%,#fff7bc 2.5%,#feeba2 2.8%,#fee391 3%,#fec44f 3.4%,#feb541 3.6%,#fe9929 3.9%,#ed7215 4.4%,#ec7014 4.5%,#cc4c02 5.1%,#b84203 5.4%,#993404 5.7%,#662506 6.1%,#662506 12.3%,#993404 12.8%,#bc4403 13.1%,#cc4c02 15.8%,#e66910 22.5%,#ec7014 23.8%,#f27f1c 26.2%,#fe9929 28.8%,#feb541 31.3%,#fec44f 32.6%,#fee391 35.9%,#fee89b 36.8%,#fff6ba 39.7%,#fff7bc 40%,#fffbce 42.9%,#fffddd 48.3%,#ffffe5 55.3%,#ffffe5 100%)"></i><i style="left:96px;width:2px;background:linear-gradient(#fffcd6 0%,#fffacb 2.3%,#fff7bc 2.5%,#feeba2 2.8%,#fee391 3%,#fec44f 3.4%,#feb541 3.6%,#fe9929 3.9%,#ed7215 4.4%,#ec7014 4.5%,#cc4c02 5.1%,#b84203 5.4%,#993404 5.7%,#662506 6.2%,#662506 12.3%,#993404 12.8%,#bc4403 13.2%,#cc4c02 15.9%,#e66910 22.5%,#ec7014 23.9%,#f27f1c 26.2%,#fe9929 28.8%,#feb541 31.4%,#fec44f 32.6%,#fee391 36%,#fee89b 36.8%,#fff6ba 39.8%,#fff7bc 40%,#fffbce 43%,#fffddd 48.4%,#ffffe5 55.3%,#ffffe5 100%)"></i><i style="left:98px;width:2px;background:linear-gradient(#fffcd6 0%,#fffacb 2.3%,#fff7bc 2.5%,#feeba2 2.8%,#fee391 3%,#fec44f 3.4%,#feb541 3.6%,#fe9929 3.9%,#ed7215 4.4%,#ec7014 4.5%,#cc4c02 5.1%,#b84203 5.4%,#993404 5.7%,#662506 6.2%,#662506 12.4%,#993404 12.9%,#bc4403 13.2%,#cc4c02 15.9%,#e66910 22.6%,#ec7014 23.9%,#f27f1c 26.3%,#fe9929 28.9%,#feb541 31.5%,#fec44f 32.7%,#fee391 36.1%,#fee89b 36.9%,#fff6ba 39.8%,#fff7bc 40.1%,#fffbce 43%,#fffddd 48.4%,#ffffe5 55.3%,#ffffe5 100%)"></i><i style="left:100px;width:2px;background:linear-gradient(#fffcd6 0%,#fffacb 2.3%,#fff7bc 2.5%,#feeba2 2.8%,#fee391 3%,#fec44f 3.4%,#feb541 3.6%,#fe9929 3.9%,#ed7215 4.4%,#ec7014 4.5%,#cc4c02 5.1%,#b84203 5.4%,#993404 5.7%,#662506 6.2%,#662506 12.5%,#993404 13%,#bc4403 13.3%,#cc4c02 16%,#e66910 22.6%,#ec7014 23.9%,#f27f1c 26.3%,#fe9929 28.9%,#feb541 31.5%,#fec44f 32.7%,#fee391 36.1%,#fee89b 36.9%,#fff6ba 39.8%,#fff7bc 40.1%,#fffbce 43%,#fffddd 48.5%,#ffffe5 55.3%,#ffffe5 100%)"></i><i style="left:102px;width:2px;background:linear-gradient(#fffcd6 0%,#fffacb 2.3%,#fff7bc 2.5%,#feeba2 2.8%,#fee391 3%,#fec44f 3.4%,#feb541 3.6%,#fe9929 3.9%,#ed7215 4.4%,#ec7014 4.5%,#cc4c02 5.1%,#b84203 5.4%,#993404 5.7%,#662506 6.2%,#662506 12.5%,#993404 13.1%,#bc4403 13.4%,#cc4c02 16%,#e66910 22.6%,#ec7014 23.9%,#f27f1c 26.3%,#fe9929 28.9%,#feb541 31.5%,#fec44f 32.7%,#fee391 36.1%,#fee89b 36.9%,#fff6ba 39.8%,#fff7bc 40.1%,#fffbce 43%,#fffddd 48.5%,#ffffe5 55.3%,#ffffe5 100%)"></i><i style="left:104px;width:2px;background:linear-gradient(#fffcd6 0%,#fffacb 2.3%,#fff7bc 2.5%,#feeba2 2.8%,#fee391 3%,#fec44f 3.4%,#feb541 3.6%,#fe9929 3.9%,#ed7215 4.4%,#ec7014 4.5%,#cc4c02 5.1%,#b84203 5.4%,#993404 5.7%,#662506 6.2%,#662506 12.6%,#993404 13.1%,#bc4403 13.5%,#cc4c02 16.1%,#e66910 22.6%,#ec7014 23.9%,#f27f1c 26.3%,#fe9929 28.9%,#feb541 31.5%,#fec44f 32.7%,#fee391 36.1%,#fee89b 36.9%,#fff6ba 39.8%,#fff7bc 40.1%,#fffbce 43%,#fffddd 48.5%,#ffffe5 55.3%,#ffffe5 100%)"></i><i style="left:106px;width:2px;background:linear-gradient(#fffcd6 0%,#fffacb 2.3%,#fff7bc 2.5%,#feeba2 2.8%,#fee391 3%,#fec44f 3.4%,#feb541 3.6%,#fe9929 3.9%,#ed7215 4.4%,#ec7014 4.5%,#cc4c02 5.1%,#b84203 5.4%,#993404 5.7%,#662506 6.2%,#662506 12.7%,#993404 13.2%,#bc4403 13.6%,#cc4c02 16.2%,#e66910 22.6%,#ec7014 23.9%,#f27f1c 26.3%,#fe9929 28.9%,#feb541 31.5%,#fec44f 32.7%,#fee391 36.1%,#fee89b 36.9%,#fff6ba 39.8%,#fff7bc 40.1%,#fffbce 43%,#fffddd 48.5%,#ffffe5 55.3%,#ffffe5 100%)"></i><i style="left:108px;width:2px;background:linear-gradient(#fffcd6 0%,#fffacb 2.3%,#fff7bc 2.5%,#feeba2 2.8%,#fee391 3%,#fec44f 3.4%,#feb541 3.6%,#fe9929 3.9%,#ed7215 4.4%,#ec7014 4.5%,#cc4c02 5.1%,#b84203 5.4%,#993404 5.7%,#662506 6.2%,#662506 12.8%,#993404 13.3%,#bc4403 13.7%,#cc4c02 16.3%,#e66910 22.6%,#ec7014 23.9%,#f27f1c 26.3%,#fe9929 28.9%,#feb541 31.5%,#fec44f 32.7%,#fee391 36.1%,#fee89b 36.9%,#fff6ba 39.8%,#fff7bc 40.1%,#fffbce 43%,#fffddd 48.5%,#ffffe5 55.3%,#ffffe5 100%)"></i><i style="left:110px;width:2px;background:linear-gradient(#fffcd6 0%,#fffacb 2.3%,#fff7bc 2.5%,#feeba2 2.8%,#fee391 3%,#fec44f 3.4%,#feb541 3.6%,#fe9929 3.9%,#ed7215 4.4%,#ec7014 4.5%,#cc4c02 5.1%,#b84203 5.4%,#993404 5.7%,#662506 6.3%,#662506 12.9%,#993404 13.4%,#bc4403 13.8%,#cc4c02 16.3%,#e66910 22.6%,#ec7014 23.9%,#f27f1c 26.3%,#fe9929 28.9%,#feb541 31.5%,#fec44f 32.7%,#fee391 36.1%,#fee89b 36.9%,#fff6ba 39.8%,#fff7bc 40.1%,#fffbce 43%,#fffddd 48.5%,#ffffe5 55.3%,#ffffe5 100%)"></i><i style="left:112px;width:2px;background:linear-gradient(#fffcd6 0%,#fffacb 2.3%,#fff7bc 2.5%,#feeba2 2.8%,#fee391 3%,#fec44f 3.4%,#feb541 3.6%,#fe9929 3.9%,#ed7215 4.4%,#ec7014 4.5%,#cc4c02 5.1%,#b84203 5.4%,#993404 5.7%,#662506 6.3%,#662506 12.9%,#993404 13.5%,#bc4403 13.9%,#cc4c02 16.1%,#d15205 17.2%,#e66910 22.6%,#ec7014 23.9%,#f27f1c 26.3%,#fe9929 28.9%,#feb541 31.5%,#fec44f 32.7%,#fee391 36.1%,#fee89b 36.9%,#fff6ba 39.8%,#fff7bc 40.1%,#fffbce 43%,#fffddd 48.5%,#ffffe5 55.3%,#ffffe5 100%)"></i><i style="left:114px;width:2px;background:linear-gradient(#fffcd6 0%,#fffacb 2.3%,#fff7bc 2.5%,#feeba2 2.8%,#fee391 3%,#fec44f 3.4%,#feb541 3.6%,#fe9929 3.9%,#ed7215 4.4%,#ec7014 4.5%,#cc4c02 5.1%,#b84203 5.4%,#993404 5.7%,#662506 6.3%,#662506 13%,#993404 13.6%,#bc4403 14%,#cc4c02 16.1%,#d15205 17.2%,#e66910 22.6%,#ec7014 23.9%,#f27f1c 26.3%,#fe9929 28.9%,#feb541 31.5%,#fec44f 32.7%,#fee391 36.1%,#fee89b 36.9%,#fff6ba 39.8%,#fff7bc 40.1%,#fffbce 43%,#fffddd 48.5%,#ffffe5 55.3%,#ffffe5 100%)"></i><i style="left:116px;width:2px;background:linear-gradient(#fffcd6 0%,#fffacb 2.3%,#fff7bc 2.5%,#feeba2 2.8%,#fee391 3%,#fec44f 3.4%,#feb541 3.6%,#fe9929 3.9%,#ed7215 4.4%,#ec7014 4.5%,#cc4c02 5.1%,#b84203 5.4%,#993404 5.7%,#662506 6.3%,#662506 13.1%,#993404 13.7%,#bc4403 14.1%,#cc4c02 16.2%,#d15205 17.2%,#e66910 22.6%,#ec7014 23.9%,#f27f1c 26.3%,#fe9929 28.9%,#feb541 31.5%,#fec44f 32.7%,#fee391 36.1%,#fee89b 36.9%,#fff6ba 39.8%,#fff7bc 40.1%,#fffbce 43%,#fffddd 48.5%,#ffffe5 55.3%,#ffffe5 100%)"></i><i style="left:118px;width:2px;background:linear-gradient(#fffcd6 0%,#fffacb 2.3%,#fff7bc 2.5%,#feeba2 2.8%,#fee391 3%,#fec44f 3.4%,#feb541 3.6%,#fe9929 3.9%,#ed7215 4.4%,#ec7014 4.5%,#cc4c02 5.1%,#b84203 5.4%,#993404 5.8%,#662506 6.3%,#662506 13.2%,#993404 13.8%,#bc4403 14.1%,#cc4c02 16.2%,#d15205 17.2%,#e66910 22.6%,#ec7014 23.9%,#f27f1c 26.3%,#fe9929 28.9%,#feb541 31.5%,#fec44f 32.7%,#fee391 36.1%,#fee89b 36.9%,#fff6ba 39.8%,#fff7bc 40.1%,#fffbce 43%,#fffddd 48.5%,#ffffe5 55.3%,#ffffe5 100%)"></i><i style="left:120px;width:2px;background:linear-gradient(#fffcd6 0%,#fffacb 2.3%,#fff7bc 2.5%,#feeba2 2.8%,#fee391 3%,#fec44f 3.4%,#feb541 3.6%,#fe9929 3.9%,#ed7215 4.4%,#ec7014 4.5%,#cc4c02 5.1%,#b84203 5.4%,#993404 5.8%,#662506 6.3%,#662506 13.3%,#993404 13.8%,#bc4403 14.2%,#cc4c02 16.2%,#d15205 17.2%,#e66910 22.6%,#ec7014 23.9%,#f27f1c 26.3%,#fe9929 28.9%,#feb541 31.5%,#fec44f 32.7%,#fee391 36.1%,#fee89b 36.9%,#fff6ba 39.8%,#fff7bc 40.1%,#fffbce 43%,#fffddd 48.5%,#ffffe5 55.3%,#ffffe5 100%)"></i></div>
<svg width="968" height="1432" viewBox="0 0 968 1432" font-family='"DejaVu Sans", "Liberation Sans", sans-serif' fill="#000" stroke="#000" stroke-width="0" >
<defs><clipPath id="clip_a"><rect x="359.5" y="61.6" width="596.5" height="233.3"/></clipPath>
<clipPath id="clip_b"><rect x="359.5" y="549.9" width="596.5" height="232.7"/></clipPath>
<clipPath id="clip_c"><rect x="359.5" y="1037.4" width="596.5" height="232.8"/></clipPath>
<linearGradient id="cbg_a" gradientUnits="userSpaceOnUse" x1="386.5" y1="0" x2="929.2" y2="0"><stop offset="0.0000" stop-color="#ffffe5"/><stop offset="0.0156" stop-color="#fffee0"/><stop offset="0.0312" stop-color="#fffddb"/><stop offset="0.0469" stop-color="#fffcd6"/><stop offset="0.0625" stop-color="#fffbd0"/><stop offset="0.0781" stop-color="#fffacb"/><stop offset="0.0938" stop-color="#fff9c6"/><stop offset="0.1094" stop-color="#fff8c1"/><stop offset="0.1250" stop-color="#fff7bc"/><stop offset="0.1406" stop-color="#fff4b7"/><stop offset="0.1562" stop-color="#fff2b1"/><stop offset="0.1719" stop-color="#fff0ac"/><stop offset="0.1875" stop-color="#feeda6"/><stop offset="0.2031" stop-color="#feeaa1"/><stop offset="0.2188" stop-color="#fee89c"/><stop offset="0.2344" stop-color="#fee696"/><stop offset="0.2500" stop-color="#fee391"/><stop offset="0.2656" stop-color="#fedf89"/><stop offset="0.2812" stop-color="#fedb80"/><stop offset="0.2969" stop-color="#fed778"/><stop offset="0.3125" stop-color="#fed470"/><stop offset="0.3281" stop-color="#fed068"/><stop offset="0.3438" stop-color="#fecc60"/><stop offset="0.3594" stop-color="#fec857"/><stop offset="0.3750" stop-color="#fec44f"/><stop offset="0.3906" stop-color="#febf4a"/><stop offset="0.4062" stop-color="#feb946"/><stop offset="0.4219" stop-color="#feb441"/><stop offset="0.4375" stop-color="#feae3c"/><stop offset="0.4531" stop-color="#fea937"/><stop offset="0.4688" stop-color="#fea432"/><stop offset="0.4844" stop-color="#fe9e2e"/><stop offset="0.5000" stop-color="#fe9929"/><stop offset="0.5156" stop-color="#fc9426"/><stop offset="0.5312" stop-color="#fa8f24"/><stop offset="0.5469" stop-color="#f78a21"/><stop offset="0.5625" stop-color="#f5841e"/><stop offset="0.5781" stop-color="#f37f1c"/><stop offset="0.5938" stop-color="#f07a19"/><stop offset="0.6094" stop-color="#ee7517"/><stop offset="0.6250" stop-color="#ec7014"/><stop offset="0.6406" stop-color="#e86c12"/><stop offset="0.6562" stop-color="#e46710"/><stop offset="0.6719" stop-color="#e0620d"/><stop offset="0.6875" stop-color="#dc5e0b"/><stop offset="0.7031" stop-color="#d85a09"/><stop offset="0.7188" stop-color="#d45506"/><stop offset="0.7344" stop-color="#d05004"/><stop offset="0.7500" stop-color="#cc4c02"/><stop offset="0.7656" stop-color="#c64902"/><stop offset="0.7812" stop-color="#bf4602"/><stop offset="0.7969" stop-color="#b94303"/><stop offset="0.8125" stop-color="#b24003"/><stop offset="0.8281" stop-color="#ac3d03"/><stop offset="0.8438" stop-color="#a63a04"/><stop offset="0.8594" stop-color="#9f3704"/><stop offset="0.8750" stop-color="#993404"/><stop offset="0.8906" stop-color="#933204"/><stop offset="0.9062" stop-color="#8c3004"/><stop offset="0.9219" stop-color="#862e05"/><stop offset="0.9375" stop-color="#802c05"/><stop offset="0.9531" stop-color="#792b05"/><stop offset="0.9688" stop-color="#732906"/><stop offset="0.9844" stop-color="#6c2706"/><stop offset="1.0000" stop-color="#662506"/></linearGradient>
<linearGradient id="cbg_b" gradientUnits="userSpaceOnUse" x1="386.5" y1="0" x2="929.2" y2="0"><stop offset="0.0000" stop-color="#ff00bf"/><stop offset="0.0156" stop-color="#ff00d5"/><stop offset="0.0312" stop-color="#ff00ea"/><stop offset="0.0469" stop-color="#fe00ff"/><stop offset="0.0625" stop-color="#e800ff"/><stop offset="0.0781" stop-color="#d200ff"/><stop offset="0.0938" stop-color="#bd00ff"/><stop offset="0.1094" stop-color="#a700ff"/><stop offset="0.1250" stop-color="#9200ff"/><stop offset="0.1406" stop-color="#7c00ff"/><stop offset="0.1562" stop-color="#6600ff"/><stop offset="0.1719" stop-color="#5100ff"/><stop offset="0.1875" stop-color="#3b00ff"/><stop offset="0.2031" stop-color="#2500ff"/><stop offset="0.2188" stop-color="#1000ff"/><stop offset="0.2344" stop-color="#0006ff"/><stop offset="0.2500" stop-color="#001cff"/><stop offset="0.2656" stop-color="#0031ff"/><stop offset="0.2812" stop-color="#0047ff"/><stop offset="0.2969" stop-color="#005dff"/><stop offset="0.3125" stop-color="#0072ff"/><stop offset="0.3281" stop-color="#0088ff"/><stop offset="0.3438" stop-color="#009eff"/><stop offset="0.3594" stop-color="#00b3ff"/><stop offset="0.3750" stop-color="#00c9ff"/><stop offset="0.3906" stop-color="#00dfff"/><stop offset="0.4062" stop-color="#00f4ff"/><stop offset="0.4219" stop-color="#00fff4"/><stop offset="0.4375" stop-color="#00ffdf"/><stop offset="0.4531" stop-color="#00ffc9"/><stop offset="0.4688" stop-color="#00ffb4"/><stop offset="0.4844" stop-color="#00ff9f"/><stop offset="0.5000" stop-color="#00ff89"/><stop offset="0.5156" stop-color="#00ff74"/><stop offset="0.5312" stop-color="#00ff5e"/><stop offset="0.5469" stop-color="#00ff49"/><stop offset="0.5625" stop-color="#00ff33"/><stop offset="0.5781" stop-color="#00ff1e"/><stop offset="0.5938" stop-color="#00ff09"/><stop offset="0.6094" stop-color="#0dff00"/><stop offset="0.6250" stop-color="#22ff00"/><stop offset="0.6406" stop-color="#38ff00"/><stop offset="0.6562" stop-color="#4eff00"/><stop offset="0.6719" stop-color="#63ff00"/><stop offset="0.6875" stop-color="#79ff00"/><stop offset="0.7031" stop-color="#8eff00"/><stop offset="0.7188" stop-color="#a4ff00"/><stop offset="0.7344" stop-color="#b9ff00"/><stop offset="0.7500" stop-color="#cfff00"/><stop offset="0.7656" stop-color="#e4ff00"/><stop offset="0.7812" stop-color="#faff00"/><stop offset="0.7969" stop-color="#ffef00"/><stop offset="0.8125" stop-color="#ffd900"/><stop offset="0.8281" stop-color="#ffc400"/><stop offset="0.8438" stop-color="#ffae00"/><stop offset="0.8594" stop-color="#ff9800"/><stop offset="0.8750" stop-color="#ff8300"/><stop offset="0.8906" stop-color="#ff6d00"/><stop offset="0.9062" stop-color="#ff5800"/><stop offset="0.9219" stop-color="#ff4200"/><stop offset="0.9375" stop-color="#ff2d00"/><stop offset="0.9531" stop-color="#ff1700"/><stop offset="0.9688" stop-color="#ff0200"/><stop offset="0.9844" stop-color="#ff0014"/><stop offset="1.0000" stop-color="#ff0029"/></linearGradient>
<linearGradient id="cbg_c" gradientUnits="userSpaceOnUse" x1="386.5" y1="0" x2="929.2" y2="0"><stop offset="0.0000" stop-color="#ff00bf"/><stop offset="0.0156" stop-color="#ff00d5"/><stop offset="0.0312" stop-color="#ff00ea"/><stop offset="0.0469" stop-color="#fe00ff"/><stop offset="0.0625" stop-color="#e800ff"/><stop offset="0.0781" stop-color="#d200ff"/><stop offset="0.0938" stop-color="#bd00ff"/><stop offset="0.1094" stop-color="#a700ff"/><stop offset="0.1250" stop-color="#9200ff"/><stop offset="0.1406" stop-color="#7c00ff"/><stop offset="0.1562" stop-color="#6600ff"/><stop offset="0.1719" stop-color="#5100ff"/><stop offset="0.1875" stop-color="#3b00ff"/><stop offset="0.2031" stop-color="#2500ff"/><stop offset="0.2188" stop-color="#1000ff"/><stop offset="0.2344" stop-color="#0006ff"/><stop offset="0.2500" stop-color="#001cff"/><stop offset="0.2656" stop-color="#0031ff"/><stop offset="0.2812" stop-color="#0047ff"/><stop offset="0.2969" stop-color="#005dff"/><stop offset="0.3125" stop-color="#0072ff"/><stop offset="0.3281" stop-color="#0088ff"/><stop offset="0.3438" stop-color="#009eff"/><stop offset="0.3594" stop-color="#00b3ff"/><stop offset="0.3750" stop-color="#00c9ff"/><stop offset="0.3906" stop-color="#00dfff"/><stop offset="0.4062" stop-color="#00f4ff"/><stop offset="0.4219" stop-color="#00fff4"/><stop offset="0.4375" stop-color="#00ffdf"/><stop offset="0.4531" stop-color="#00ffc9"/><stop offset="0.4688" stop-color="#00ffb4"/><stop offset="0.4844" stop-color="#00ff9f"/><stop offset="0.5000" stop-color="#00ff89"/><stop offset="0.5156" stop-color="#00ff74"/><stop offset="0.5312" stop-color="#00ff5e"/><stop offset="0.5469" stop-color="#00ff49"/><stop offset="0.5625" stop-color="#00ff33"/><stop offset="0.5781" stop-color="#00ff1e"/><stop offset="0.5938" stop-color="#00ff09"/><stop offset="0.6094" stop-color="#0dff00"/><stop offset="0.6250" stop-color="#22ff00"/><stop offset="0.6406" stop-color="#38ff00"/><stop offset="0.6562" stop-color="#4eff00"/><stop offset="0.6719" stop-color="#63ff00"/><stop offset="0.6875" stop-color="#79ff00"/><stop offset="0.7031" stop-color="#8eff00"/><stop offset="0.7188" stop-color="#a4ff00"/><stop offset="0.7344" stop-color="#b9ff00"/><stop offset="0.7500" stop-color="#cfff00"/><stop offset="0.7656" stop-color="#e4ff00"/><stop offset="0.7812" stop-color="#faff00"/><stop offset="0.7969" stop-color="#ffef00"/><stop offset="0.8125" stop-color="#ffd900"/><stop offset="0.8281" stop-color="#ffc400"/><stop offset="0.8438" stop-color="#ffae00"/><stop offset="0.8594" stop-color="#ff9800"/><stop offset="0.8750" stop-color="#ff8300"/><stop offset="0.8906" stop-color="#ff6d00"/><stop offset="0.9062" stop-color="#ff5800"/><stop offset="0.9219" stop-color="#ff4200"/><stop offset="0.9375" stop-color="#ff2d00"/><stop offset="0.9531" stop-color="#ff1700"/><stop offset="0.9688" stop-color="#ff0200"/><stop offset="0.9844" stop-color="#ff0014"/><stop offset="1.0000" stop-color="#ff0029"/></linearGradient>
<clipPath id="clip_i"><rect x="60.1" y="10.4" width="121.4" height="406.6"/></clipPath></defs>
<g clip-path="url(#clip_a)">
<rect x="359.5" y="176.8" width="15.0" height="8.5" fill="#fff"/><rect x="373.7" y="61.6" width="0.9" height="116.7" fill="#fff"/><polygon points="359.9,292.9 359.9,183.1 381.7,183.1 381.7,177.3 390.5,177.3 390.5,171.9 421.8,171.9 421.8,177.0 424.8,177.0 424.8,182.1 427.7,182.1 427.7,187.1 430.7,187.1 430.7,192.2 433.6,192.2 433.6,197.3 436.6,197.3 436.6,202.3 439.5,202.3 439.5,207.4 442.5,207.4 442.5,212.4 445.4,212.4 445.4,217.5 448.4,217.5 448.4,222.6 451.3,222.6 451.3,227.6 454.3,227.6 454.3,232.7 457.2,232.7 457.2,237.8 460.2,237.8 460.2,242.8 463.1,242.8 463.1,247.9 466.1,247.9 466.1,252.9 477.9,252.9 477.9,259.2 489.4,259.2 489.4,265.2 505.3,265.2 505.3,271.1 524.8,271.1 524.8,277.3 546.2,277.3 546.2,282.9 589.5,282.9 589.5,288.4 607.0,288.4 607.0,292.9" fill="#fff"/><rect x="359.5" y="61.6" width="14.2" height="115.2" fill="#808080"/><polygon points="359.5,294.9 359.5,185.1 381.3,185.1 381.3,179.3 390.1,179.3 390.1,173.9 421.4,173.9 421.4,179.0 424.4,179.0 424.4,184.1 427.3,184.1 427.3,189.1 430.3,189.1 430.3,194.2 433.2,194.2 433.2,199.3 436.2,199.3 436.2,204.3 439.1,204.3 439.1,209.4 442.1,209.4 442.1,214.4 445.0,214.4 445.0,219.5 448.0,219.5 448.0,224.6 450.9,224.6 450.9,229.6 453.9,229.6 453.9,234.7 456.8,234.7 456.8,239.8 459.8,239.8 459.8,244.8 462.7,244.8 462.7,249.9 465.7,249.9 465.7,254.9 477.5,254.9 477.5,261.2 489.0,261.2 489.0,267.2 504.9,267.2 504.9,273.1 524.4,273.1 524.4,279.3 545.8,279.3 545.8,284.9 589.1,284.9 589.1,290.4 606.6,290.4 606.6,294.9" fill="#808080"/><path d="M375.3 61.6 L375.3 181.2 L359.5 181.2" fill="none" stroke="#662506" stroke-width="2.1" stroke-linejoin="round"/>
</g>
<rect x="359.5" y="61.6" width="596.5" height="233.3" fill="none" stroke="#000" stroke-width="2.50"/>
<line x1="351.3" y1="61.6" x2="359.5" y2="61.6" stroke="#000" stroke-width="2.50"/><line x1="351.3" y1="119.9" x2="359.5" y2="119.9" stroke="#000" stroke-width="2.50"/><line x1="351.3" y1="178.2" x2="359.5" y2="178.2" stroke="#000" stroke-width="2.50"/><line x1="351.3" y1="236.6" x2="359.5" y2="236.6" stroke="#000" stroke-width="2.50"/><line x1="351.3" y1="294.9" x2="359.5" y2="294.9" stroke="#000" stroke-width="2.50"/>
<line x1="373.2" y1="294.9" x2="373.2" y2="303.1" stroke="#000" stroke-width="2.50"/><line x1="519.2" y1="294.9" x2="519.2" y2="303.1" stroke="#000" stroke-width="2.50"/><line x1="665.2" y1="294.9" x2="665.2" y2="303.1" stroke="#000" stroke-width="2.50"/><line x1="811.2" y1="294.9" x2="811.2" y2="303.1" stroke="#000" stroke-width="2.50"/>
<text x="344.3" y="70.5" font-size="23.40" text-anchor="end" stroke-width="0.46" >0</text>
<text x="344.3" y="128.9" font-size="23.40" text-anchor="end" stroke-width="0.46" >100</text>
<text x="344.3" y="187.2" font-size="23.40" text-anchor="end" stroke-width="0.46" >200</text>
<text x="344.3" y="245.5" font-size="23.40" text-anchor="end" stroke-width="0.46" >300</text>
<text x="344.3" y="303.8" font-size="23.40" text-anchor="end" stroke-width="0.46" >400</text>
<text x="373.2" y="327.5" font-size="23.40" text-anchor="middle" stroke-width="0.46" >20</text>
<text x="519.2" y="327.5" font-size="23.40" text-anchor="middle" stroke-width="0.46" >15</text>
<text x="665.2" y="327.5" font-size="23.40" text-anchor="middle" stroke-width="0.46" >10</text>
<text x="811.2" y="327.5" font-size="23.40" text-anchor="middle" stroke-width="0.46" >5</text>
<text x="923.8" y="330.7" font-size="23.40" text-anchor="middle" stroke-width="0.46" >[km]</text>
<text x="311.7" y="52.4" font-size="23.40" text-anchor="middle" stroke-width="0.46" >[m]</text>
<text x="657.8" y="49.2" font-size="42.70" text-anchor="middle" stroke-width="0.12" >(a) SSM</text>
<g clip-path="url(#clip_b)">
<rect x="359.5" y="664.8" width="15.0" height="8.4" fill="#fff"/><rect x="373.7" y="549.9" width="0.9" height="116.4" fill="#fff"/><polygon points="359.9,780.6 359.9,671.1 381.7,671.1 381.7,665.3 390.5,665.3 390.5,659.9 421.8,659.9 421.8,665.0 424.8,665.0 424.8,670.0 427.7,670.0 427.7,675.1 430.7,675.1 430.7,680.1 433.6,680.1 433.6,685.2 436.6,685.2 436.6,690.2 439.5,690.2 439.5,695.3 442.5,695.3 442.5,700.3 445.4,700.3 445.4,705.4 448.4,705.4 448.4,710.4 451.3,710.4 451.3,715.5 454.3,715.5 454.3,720.5 457.2,720.5 457.2,725.6 460.2,725.6 460.2,730.6 463.1,730.6 463.1,735.7 466.1,735.7 466.1,740.8 477.9,740.8 477.9,747.0 489.4,747.0 489.4,753.0 505.3,753.0 505.3,758.8 524.8,758.8 524.8,765.0 546.2,765.0 546.2,770.7 589.5,770.7 589.5,776.1 607.0,776.1 607.0,780.6" fill="#fff"/><rect x="359.5" y="549.9" width="14.2" height="114.9" fill="#808080"/><polygon points="359.5,782.6 359.5,673.1 381.3,673.1 381.3,667.3 390.1,667.3 390.1,661.9 421.4,661.9 421.4,667.0 424.4,667.0 424.4,672.0 427.3,672.0 427.3,677.1 430.3,677.1 430.3,682.1 433.2,682.1 433.2,687.2 436.2,687.2 436.2,692.2 439.1,692.2 439.1,697.3 442.1,697.3 442.1,702.3 445.0,702.3 445.0,707.4 448.0,707.4 448.0,712.4 450.9,712.4 450.9,717.5 453.9,717.5 453.9,722.5 456.8,722.5 456.8,727.6 459.8,727.6 459.8,732.6 462.7,732.6 462.7,737.7 465.7,737.7 465.7,742.8 477.5,742.8 477.5,749.0 489.0,749.0 489.0,755.0 504.9,755.0 504.9,760.8 524.4,760.8 524.4,767.0 545.8,767.0 545.8,772.7 589.1,772.7 589.1,778.1 606.6,778.1 606.6,782.6" fill="#808080"/><path d="M375.3 549.9 L375.3 669.2 L359.5 669.2" fill="none" stroke="#30ff30" stroke-width="1.7" stroke-linejoin="round"/>
</g>
<rect x="359.5" y="549.9" width="596.5" height="232.7" fill="none" stroke="#000" stroke-width="2.50"/>
<line x1="351.3" y1="549.9" x2="359.5" y2="549.9" stroke="#000" stroke-width="2.50"/><line x1="351.3" y1="608.1" x2="359.5" y2="608.1" stroke="#000" stroke-width="2.50"/><line x1="351.3" y1="666.2" x2="359.5" y2="666.2" stroke="#000" stroke-width="2.50"/><line x1="351.3" y1="724.4" x2="359.5" y2="724.4" stroke="#000" stroke-width="2.50"/><line x1="351.3" y1="782.6" x2="359.5" y2="782.6" stroke="#000" stroke-width="2.50"/>
<line x1="373.2" y1="782.6" x2="373.2" y2="790.8" stroke="#000" stroke-width="2.50"/><line x1="519.2" y1="782.6" x2="519.2" y2="790.8" stroke="#000" stroke-width="2.50"/><line x1="665.2" y1="782.6" x2="665.2" y2="790.8" stroke="#000" stroke-width="2.50"/><line x1="811.2" y1="782.6" x2="811.2" y2="790.8" stroke="#000" stroke-width="2.50"/>
<text x="344.3" y="558.8" font-size="23.40" text-anchor="end" stroke-width="0.46" >0</text>
<text x="344.3" y="617.0" font-size="23.40" text-anchor="end" stroke-width="0.46" >100</text>
<text x="344.3" y="675.2" font-size="23.40" text-anchor="end" stroke-width="0.46" >200</text>
<text x="344.3" y="733.4" font-size="23.40" text-anchor="end" stroke-width="0.46" >300</text>
<text x="344.3" y="791.5" font-size="23.40" text-anchor="end" stroke-width="0.46" >400</text>
<text x="373.2" y="815.2" font-size="23.40" text-anchor="middle" stroke-width="0.46" >20</text>
<text x="519.2" y="815.2" font-size="23.40" text-anchor="middle" stroke-width="0.46" >15</text>
<text x="665.2" y="815.2" font-size="23.40" text-anchor="middle" stroke-width="0.46" >10</text>
<text x="811.2" y="815.2" font-size="23.40" text-anchor="middle" stroke-width="0.46" >5</text>
<text x="923.8" y="818.4" font-size="23.40" text-anchor="middle" stroke-width="0.46" >[km]</text>
<text x="311.7" y="540.7" font-size="23.40" text-anchor="middle" stroke-width="0.46" >[m]</text>
<text x="657.8" y="537.5" font-size="42.70" text-anchor="middle" stroke-width="0.12" >(b) NO3</text>
<g clip-path="url(#clip_c)">
<rect x="359.5" y="1152.3" width="15.0" height="8.4" fill="#fff"/><rect x="373.7" y="1037.4" width="0.9" height="116.4" fill="#fff"/><polygon points="359.9,1268.2 359.9,1158.7 381.7,1158.7 381.7,1152.8 390.5,1152.8 390.5,1147.5 421.8,1147.5 421.8,1152.5 424.8,1152.5 424.8,1157.6 427.7,1157.6 427.7,1162.7 430.7,1162.7 430.7,1167.7 433.6,1167.7 433.6,1172.8 436.6,1172.8 436.6,1177.8 439.5,1177.8 439.5,1182.9 442.5,1182.9 442.5,1187.9 445.4,1187.9 445.4,1193.0 448.4,1193.0 448.4,1198.0 451.3,1198.0 451.3,1203.1 454.3,1203.1 454.3,1208.1 457.2,1208.1 457.2,1213.2 460.2,1213.2 460.2,1218.2 463.1,1218.2 463.1,1223.3 466.1,1223.3 466.1,1228.3 477.9,1228.3 477.9,1234.6 489.4,1234.6 489.4,1240.6 505.3,1240.6 505.3,1246.4 524.8,1246.4 524.8,1252.6 546.2,1252.6 546.2,1258.2 589.5,1258.2 589.5,1263.7 607.0,1263.7 607.0,1268.2" fill="#fff"/><rect x="359.5" y="1037.4" width="14.2" height="114.9" fill="#808080"/><polygon points="359.5,1270.2 359.5,1160.7 381.3,1160.7 381.3,1154.8 390.1,1154.8 390.1,1149.5 421.4,1149.5 421.4,1154.5 424.4,1154.5 424.4,1159.6 427.3,1159.6 427.3,1164.7 430.3,1164.7 430.3,1169.7 433.2,1169.7 433.2,1174.8 436.2,1174.8 436.2,1179.8 439.1,1179.8 439.1,1184.9 442.1,1184.9 442.1,1189.9 445.0,1189.9 445.0,1195.0 448.0,1195.0 448.0,1200.0 450.9,1200.0 450.9,1205.1 453.9,1205.1 453.9,1210.1 456.8,1210.1 456.8,1215.2 459.8,1215.2 459.8,1220.2 462.7,1220.2 462.7,1225.3 465.7,1225.3 465.7,1230.3 477.5,1230.3 477.5,1236.6 489.0,1236.6 489.0,1242.6 504.9,1242.6 504.9,1248.4 524.4,1248.4 524.4,1254.6 545.8,1254.6 545.8,1260.2 589.1,1260.2 589.1,1265.7 606.6,1265.7 606.6,1270.2" fill="#808080"/><path d="M374.7 1156.7 L359.5 1156.7" fill="none" stroke="#ff00bf" stroke-width="2.1"/>
</g>
<rect x="359.5" y="1037.4" width="596.5" height="232.8" fill="none" stroke="#000" stroke-width="2.50"/>
<line x1="351.3" y1="1037.4" x2="359.5" y2="1037.4" stroke="#000" stroke-width="2.50"/><line x1="351.3" y1="1095.6" x2="359.5" y2="1095.6" stroke="#000" stroke-width="2.50"/><line x1="351.3" y1="1153.8" x2="359.5" y2="1153.8" stroke="#000" stroke-width="2.50"/><line x1="351.3" y1="1212.0" x2="359.5" y2="1212.0" stroke="#000" stroke-width="2.50"/><line x1="351.3" y1="1270.2" x2="359.5" y2="1270.2" stroke="#000" stroke-width="2.50"/>
<line x1="373.2" y1="1270.2" x2="373.2" y2="1278.4" stroke="#000" stroke-width="2.50"/><line x1="519.2" y1="1270.2" x2="519.2" y2="1278.4" stroke="#000" stroke-width="2.50"/><line x1="665.2" y1="1270.2" x2="665.2" y2="1278.4" stroke="#000" stroke-width="2.50"/><line x1="811.2" y1="1270.2" x2="811.2" y2="1278.4" stroke="#000" stroke-width="2.50"/>
<text x="344.3" y="1046.3" font-size="23.40" text-anchor="end" stroke-width="0.46" >0</text>
<text x="344.3" y="1104.5" font-size="23.40" text-anchor="end" stroke-width="0.46" >100</text>
<text x="344.3" y="1162.7" font-size="23.40" text-anchor="end" stroke-width="0.46" >200</text>
<text x="344.3" y="1220.9" font-size="23.40" text-anchor="end" stroke-width="0.46" >300</text>
<text x="344.3" y="1279.1" font-size="23.40" text-anchor="end" stroke-width="0.46" >400</text>
<text x="373.2" y="1302.8" font-size="23.40" text-anchor="middle" stroke-width="0.46" >20</text>
<text x="519.2" y="1302.8" font-size="23.40" text-anchor="middle" stroke-width="0.46" >15</text>
<text x="665.2" y="1302.8" font-size="23.40" text-anchor="middle" stroke-width="0.46" >10</text>
<text x="811.2" y="1302.8" font-size="23.40" text-anchor="middle" stroke-width="0.46" >5</text>
<text x="923.8" y="1306.0" font-size="23.40" text-anchor="middle" stroke-width="0.46" >[km]</text>
<text x="311.7" y="1028.2" font-size="23.40" text-anchor="middle" stroke-width="0.46" >[m]</text>
<text x="657.8" y="1025.0" font-size="42.70" text-anchor="middle" stroke-width="0.12" >(c) PHY</text>
<rect x="385.5" y="356.1" width="544.7" height="29.4" fill="url(#cbg_a)"/>
<polygon points="386.5,356.1 359.4,370.8 386.5,385.5" fill="#ffffe5"/>
<polygon points="929.2,356.1 956.3,370.8 929.2,385.5" fill="#662506"/>
<polygon points="386.5,356.1 929.2,356.1 956.3,370.8 929.2,385.5 386.5,385.5 359.4,370.8" fill="none" stroke="#000" stroke-width="1.95" stroke-linejoin="miter"/>
<line x1="386.5" y1="385.5" x2="386.5" y2="393.2" stroke="#000" stroke-width="2.1"/><line x1="476.9" y1="385.5" x2="476.9" y2="393.2" stroke="#000" stroke-width="2.1"/><line x1="567.4" y1="385.5" x2="567.4" y2="393.2" stroke="#000" stroke-width="2.1"/><line x1="657.9" y1="385.5" x2="657.9" y2="393.2" stroke="#000" stroke-width="2.1"/><line x1="748.3" y1="385.5" x2="748.3" y2="393.2" stroke="#000" stroke-width="2.1"/><line x1="838.8" y1="385.5" x2="838.8" y2="393.2" stroke="#000" stroke-width="2.1"/><line x1="929.2" y1="385.5" x2="929.2" y2="393.2" stroke="#000" stroke-width="2.1"/>
<text x="386.5" y="418.7" font-size="23.40" text-anchor="middle" stroke-width="0.46" >0.0</text>
<text x="476.9" y="418.7" font-size="23.40" text-anchor="middle" stroke-width="0.46" >0.3</text>
<text x="567.4" y="418.7" font-size="23.40" text-anchor="middle" stroke-width="0.46" >0.7</text>
<text x="657.9" y="418.7" font-size="23.40" text-anchor="middle" stroke-width="0.46" >1.0</text>
<text x="748.3" y="418.7" font-size="23.40" text-anchor="middle" stroke-width="0.46" >1.3</text>
<text x="838.8" y="418.7" font-size="23.40" text-anchor="middle" stroke-width="0.46" >1.7</text>
<text x="929.2" y="418.7" font-size="23.40" text-anchor="middle" stroke-width="0.46" >2.0</text>
<text x="657.9" y="452.7" font-size="23.40" text-anchor="middle" stroke-width="0.46" >[<tspan font-style="italic">g</tspan>/<tspan font-style="italic">m</tspan><tspan font-size="16.4" dy="-8.2">3</tspan><tspan dy="8.2">]</tspan></text>
<rect x="385.5" y="843.7" width="544.7" height="29.6" fill="url(#cbg_b)"/>
<polygon points="386.5,843.7 359.4,858.5 386.5,873.3" fill="#ff00bf"/>
<polygon points="929.2,843.7 956.3,858.5 929.2,873.3" fill="#ff0029"/>
<polygon points="386.5,843.7 929.2,843.7 956.3,858.5 929.2,873.3 386.5,873.3 359.4,858.5" fill="none" stroke="#000" stroke-width="1.95" stroke-linejoin="miter"/>
<line x1="386.5" y1="873.3" x2="386.5" y2="881.0" stroke="#000" stroke-width="2.1"/><line x1="476.9" y1="873.3" x2="476.9" y2="881.0" stroke="#000" stroke-width="2.1"/><line x1="567.4" y1="873.3" x2="567.4" y2="881.0" stroke="#000" stroke-width="2.1"/><line x1="657.9" y1="873.3" x2="657.9" y2="881.0" stroke="#000" stroke-width="2.1"/><line x1="748.3" y1="873.3" x2="748.3" y2="881.0" stroke="#000" stroke-width="2.1"/><line x1="838.8" y1="873.3" x2="838.8" y2="881.0" stroke="#000" stroke-width="2.1"/><line x1="929.2" y1="873.3" x2="929.2" y2="881.0" stroke="#000" stroke-width="2.1"/>
<text x="386.5" y="906.5" font-size="23.40" text-anchor="middle" stroke-width="0.46" >0</text>
<text x="476.9" y="906.5" font-size="23.40" text-anchor="middle" stroke-width="0.46" >3</text>
<text x="567.4" y="906.5" font-size="23.40" text-anchor="middle" stroke-width="0.46" >6</text>
<text x="657.9" y="906.5" font-size="23.40" text-anchor="middle" stroke-width="0.46" >9</text>
<text x="748.3" y="906.5" font-size="23.40" text-anchor="middle" stroke-width="0.46" >12</text>
<text x="838.8" y="906.5" font-size="23.40" text-anchor="middle" stroke-width="0.46" >15</text>
<text x="929.2" y="906.5" font-size="23.40" text-anchor="middle" stroke-width="0.46" >18</text>
<text x="657.9" y="936.2" font-size="23.40" text-anchor="middle" stroke-width="0.46" >[µmol/l]</text>
<rect x="385.5" y="1331.7" width="544.7" height="29.6" fill="url(#cbg_c)"/>
<polygon points="386.5,1331.7 359.4,1346.5 386.5,1361.3" fill="#ff00bf"/>
<polygon points="929.2,1331.7 956.3,1346.5 929.2,1361.3" fill="#ff0029"/>
<polygon points="386.5,1331.7 929.2,1331.7 956.3,1346.5 929.2,1361.3 386.5,1361.3 359.4,1346.5" fill="none" stroke="#000" stroke-width="1.95" stroke-linejoin="miter"/>
<line x1="386.5" y1="1361.3" x2="386.5" y2="1369.0" stroke="#000" stroke-width="2.1"/><line x1="476.9" y1="1361.3" x2="476.9" y2="1369.0" stroke="#000" stroke-width="2.1"/><line x1="567.4" y1="1361.3" x2="567.4" y2="1369.0" stroke="#000" stroke-width="2.1"/><line x1="657.9" y1="1361.3" x2="657.9" y2="1369.0" stroke="#000" stroke-width="2.1"/><line x1="748.3" y1="1361.3" x2="748.3" y2="1369.0" stroke="#000" stroke-width="2.1"/><line x1="838.8" y1="1361.3" x2="838.8" y2="1369.0" stroke="#000" stroke-width="2.1"/><line x1="929.2" y1="1361.3" x2="929.2" y2="1369.0" stroke="#000" stroke-width="2.1"/>
<text x="386.5" y="1393.8" font-size="23.40" text-anchor="middle" stroke-width="0.46" >2e-02</text>
<text x="476.9" y="1393.8" font-size="23.40" text-anchor="middle" stroke-width="0.46" >3e-02</text>
<text x="567.4" y="1393.8" font-size="23.40" text-anchor="middle" stroke-width="0.46" >7e-02</text>
<text x="657.9" y="1393.8" font-size="23.40" text-anchor="middle" stroke-width="0.46" >2e-01</text>
<text x="748.3" y="1393.8" font-size="23.40" text-anchor="middle" stroke-width="0.46" >3e-01</text>
<text x="838.8" y="1393.8" font-size="23.40" text-anchor="middle" stroke-width="0.46" >7e-01</text>
<text x="929.2" y="1393.8" font-size="23.40" text-anchor="middle" stroke-width="0.46" >2e+00</text>
<text x="657.9" y="1424.9" font-size="23.40" text-anchor="middle" stroke-width="0.46" >[µg/l]</text>
<g clip-path="url(#clip_i)">
<rect x="60" y="331.0" width="46" height="30" fill="#fff"/><rect x="98.9" y="10.4" width="2.0" height="330.0" fill="#fff"/><rect x="106" y="347" width="15.2" height="8.2" fill="#fff"/><rect x="120.9" y="331.5" width="24.8" height="8" fill="#fff"/><rect x="145.5" y="315.2" width="40" height="8" fill="#fff"/><rect x="60" y="10.4" width="38.9" height="321.1" fill="#808080"/><polygon points="60.0,420.0 60.0,355.0 120.9,355.0 120.9,338.8 145.5,338.8 145.5,322.4 185.0,322.4 185.0,420.0" fill="#808080"/><path d="M101 10.4 L105 10.4 L108.6 32.4 L105.4 50.4 L106.4 300 L106.4 343 Q106.4 347.4 102 347.4 L60 347.4 L60 339.8 L100 339.8 L100.3 300 Z" fill="#662506"/><path d="M105.9 52.4 L107.0 340" fill="none" stroke="#e8780f" stroke-width="1.1" opacity=".85"/>
</g>
<rect x="60.1" y="10.4" width="121.4" height="406.6" fill="none" stroke="#000" stroke-width="2.50"/>
<line x1="51.9" y1="10.4" x2="60.1" y2="10.4" stroke="#000" stroke-width="2.50"/><line x1="51.9" y1="91.7" x2="60.1" y2="91.7" stroke="#000" stroke-width="2.50"/><line x1="51.9" y1="173.0" x2="60.1" y2="173.0" stroke="#000" stroke-width="2.50"/><line x1="51.9" y1="254.4" x2="60.1" y2="254.4" stroke="#000" stroke-width="2.50"/><line x1="51.9" y1="335.7" x2="60.1" y2="335.7" stroke="#000" stroke-width="2.50"/><line x1="51.9" y1="417.0" x2="60.1" y2="417.0" stroke="#000" stroke-width="2.50"/>
<line x1="100.3" y1="417.0" x2="100.3" y2="425.2" stroke="#000" stroke-width="2.50"/><line x1="181.6" y1="417.0" x2="181.6" y2="425.2" stroke="#000" stroke-width="2.50"/>
<text x="44.9" y="19.3" font-size="23.40" text-anchor="end" stroke-width="0.46" >0</text>
<text x="44.9" y="100.7" font-size="23.40" text-anchor="end" stroke-width="0.46" >50</text>
<text x="44.9" y="182.0" font-size="23.40" text-anchor="end" stroke-width="0.46" >100</text>
<text x="44.9" y="263.3" font-size="23.40" text-anchor="end" stroke-width="0.46" >150</text>
<text x="44.9" y="344.6" font-size="23.40" text-anchor="end" stroke-width="0.46" >200</text>
<text x="44.9" y="425.9" font-size="23.40" text-anchor="end" stroke-width="0.46" >250</text>
<text x="100.3" y="449.6" font-size="23.40" text-anchor="middle" stroke-width="0.46" >20</text>
<text x="181.6" y="449.6" font-size="23.40" text-anchor="middle" stroke-width="0.46" >19</text>
<g clip-path="url(#clip_a)"><path d="M402.8 207.4 L361.2 207.4 L361.2 61.6 L402.8 61.6 Z" stroke="#000" stroke-width="4.32" fill="none" stroke-dasharray="15.98 6.91"/></g>
<path d="M402.8 61.6 L181.5 10.4" stroke="#000" stroke-width="4.32" fill="none" stroke-dasharray="15.71 6.80"/>
<path d="M402.8 207.4 L181.5 417.0" stroke="#000" stroke-width="4.32" fill="none" stroke-dasharray="15.71 6.80"/>
</svg>
</div>
</body></html>
